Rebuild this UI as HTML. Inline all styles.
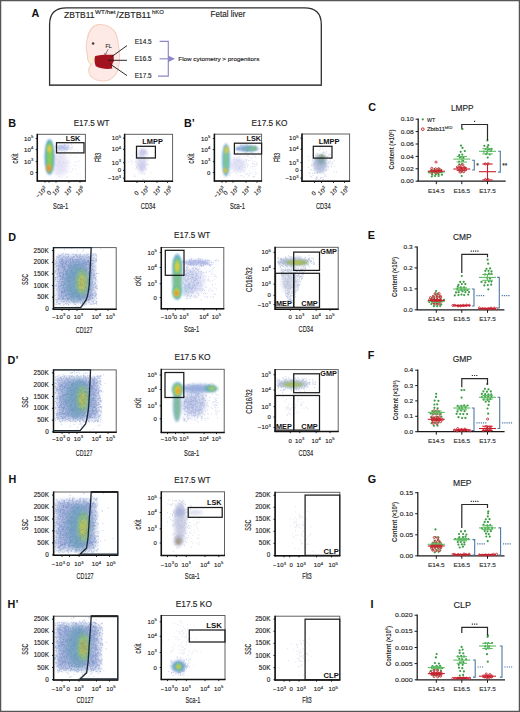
<!DOCTYPE html><html><head><meta charset="utf-8"><title>Figure</title><style>html,body{margin:0;padding:0;background:#fff;}body{width:520px;height:712px;overflow:hidden;font-family:"Liberation Sans",sans-serif;}svg{display:block;}</style></head><body><svg width="520" height="712" viewBox="0 0 520 712" font-family="&quot;Liberation Sans&quot;, sans-serif"><style>text{stroke:#222;stroke-width:0.14px;}text[font-weight=bold]{stroke:none;}</style><defs><filter id="b1" x="-50%" y="-50%" width="200%" height="200%"><feGaussianBlur stdDeviation="0.8"/></filter><filter id="b2" x="-50%" y="-50%" width="200%" height="200%"><feGaussianBlur stdDeviation="1.5"/></filter><filter id="b3" x="-50%" y="-50%" width="200%" height="200%"><feGaussianBlur stdDeviation="2.8"/></filter><clipPath id="k1"><rect x="37.3" y="134.3" width="48.10" height="46.70"/></clipPath><clipPath id="k2"><rect x="124.6" y="134.3" width="48.00" height="47.00"/></clipPath><clipPath id="k3"><rect x="214.4" y="134.2" width="47.20" height="46.90"/></clipPath><clipPath id="k4"><rect x="302" y="134" width="47.60" height="47.30"/></clipPath><clipPath id="k5"><rect x="53.5" y="247.6" width="62.70" height="61.70"/></clipPath><clipPath id="k6"><rect x="53.5" y="369.9" width="62.70" height="62.40"/></clipPath><clipPath id="k7"><rect x="53.6" y="492" width="64.20" height="63.30"/></clipPath><clipPath id="k8"><rect x="53.6" y="616.2" width="64.20" height="63.80"/></clipPath><clipPath id="k9"><rect x="161.3" y="247.5" width="62.50" height="61.30"/></clipPath><clipPath id="k10"><rect x="161.3" y="369.3" width="62.90" height="63.20"/></clipPath><clipPath id="k11"><rect x="161.3" y="491.8" width="63.20" height="63.70"/></clipPath><clipPath id="k12"><rect x="161.3" y="615.5" width="63.70" height="64.00"/></clipPath><clipPath id="k13"><rect x="275.1" y="247.3" width="63.10" height="61.90"/></clipPath><clipPath id="k14"><rect x="275.1" y="369.6" width="63.10" height="61.90"/></clipPath><clipPath id="k15"><rect x="275.1" y="492.3" width="64.70" height="63.50"/></clipPath><clipPath id="k16"><rect x="275.1" y="616.2" width="64.70" height="63.90"/></clipPath></defs><rect x="0.5" y="0.5" width="519" height="711" fill="none" stroke="#555" stroke-width="1.5"/>
<text x="31.6" y="17.3" font-size="10.8" text-anchor="start" font-weight="bold" fill="#111" >A</text>
<path d="M49.6 85 L49.6 24.5 Q49.6 7.9 66.5 7.9 L304.5 7.9 Q321.3 7.9 321.3 24.5 L321.3 85" fill="none" stroke="#2e2e2e" stroke-width="1.3"/>
<rect x="48.9" y="84.3" width="273.1" height="1.7" fill="#4a4a4a"/>
<text x="64" y="17.5" font-size="8.7" text-anchor="start" font-weight="normal" fill="#1e1e1e" textLength="30.6" lengthAdjust="spacingAndGlyphs" >ZBTB11</text>
<text x="95.0" y="14.0" font-size="5.9" text-anchor="start" font-weight="normal" fill="#1e1e1e" textLength="20.5" lengthAdjust="spacingAndGlyphs" >WT/het</text>
<text x="116.3" y="17.5" font-size="8.7" text-anchor="start" font-weight="normal" fill="#1e1e1e" textLength="34.6" lengthAdjust="spacingAndGlyphs" >/ZBTB11</text>
<text x="152.0" y="14.0" font-size="5.9" text-anchor="start" font-weight="normal" fill="#1e1e1e" textLength="12" lengthAdjust="spacingAndGlyphs" >hKO</text>
<text x="210.6" y="17.3" font-size="8.5" text-anchor="start" font-weight="normal" fill="#222" textLength="34.8" lengthAdjust="spacingAndGlyphs" >Fetal liver</text>
<path d="M98.5 24.6 C106 24 113 27.5 116 34 C118 39 118.5 45 119.2 51 C120 58 119.6 66 116.5 73 C113.5 79 107 81.5 100.5 80.8 C94.5 80 90 77 89 72.5 C88.2 69.5 89.3 66.5 91.3 64.5 C88.3 62 87 58.5 87.6 55 C86 50.5 86 44.5 87.2 39 C88.8 31 93 25.2 98.5 24.6 Z" fill="#fdeae6" stroke="#f5cfbf" stroke-width="1.1"/>
<path d="M91.5 64.8 C93 62 94 60 94.6 57.5" fill="none" stroke="#f4d4c0" stroke-width="0.9"/>
<ellipse cx="91.3" cy="59.5" rx="2.6" ry="4.2" fill="#f6efcf" opacity="0.9"/>
<circle cx="93.1" cy="43.6" r="1.25" fill="#3a3a3a"/>
<path d="M95.2 56 C100.5 54.5 107 54.6 113.6 54.8 L113.9 61.3 C112.2 63.2 111.7 66 112.3 68.6 C106.5 69.6 100.5 68.4 95.8 66.2 C94.3 62.6 94.2 58.8 95.2 56 Z" fill="#a3131f"/>
<text x="105.6" y="48.2" font-size="5.3" text-anchor="start" font-weight="normal" fill="#3a3a3a" >FL</text>
<path d="M108.2 49.2 L105.4 54.4" stroke="#3a3a3a" stroke-width="0.6"/>
<path d="M104.4 52.9 L105.3 55 L106.7 53.6" fill="none" stroke="#3a3a3a" stroke-width="0.55"/>
<g stroke="#1e1e1e" stroke-width="0.95"><line x1="111.5" y1="56.8" x2="127" y2="45.6"/><line x1="108" y1="60.3" x2="127" y2="60.3"/><line x1="110.5" y1="64.3" x2="127" y2="75.6"/></g>
<text x="134.8" y="43.5" font-size="6.3" text-anchor="start" font-weight="normal" fill="#222" textLength="16.8" lengthAdjust="spacingAndGlyphs" >E14.5</text>
<text x="134.8" y="61" font-size="6.3" text-anchor="start" font-weight="normal" fill="#222" textLength="16.8" lengthAdjust="spacingAndGlyphs" >E16.5</text>
<text x="134.8" y="78.3" font-size="6.3" text-anchor="start" font-weight="normal" fill="#222" textLength="16.8" lengthAdjust="spacingAndGlyphs" >E17.5</text>
<g stroke="#8d87c5" stroke-width="1.15" fill="none"><path d="M159.6 41.3 H168.3 V76.1 H158"/><line x1="159.6" y1="58.8" x2="168.3" y2="58.8"/></g>
<path d="M168 55.4 L175 58.8 L168 62.2 Z" fill="#8d87c5"/>
<text x="178.3" y="61" font-size="6" text-anchor="start" font-weight="normal" fill="#222" textLength="81" lengthAdjust="spacingAndGlyphs" >Flow cytometry &gt; progenitors</text>
<text x="8.2" y="127.3" font-size="10.8" text-anchor="start" font-weight="bold" fill="#111" >B</text>
<text x="91.6" y="126.2" font-size="8.4" text-anchor="middle" font-weight="normal" fill="#222" textLength="35.8" lengthAdjust="spacingAndGlyphs" >E17.5 WT</text>
<text x="184" y="127.3" font-size="10.8" text-anchor="start" font-weight="bold" fill="#111" >B’</text>
<text x="269.5" y="126.2" font-size="8.4" text-anchor="middle" font-weight="normal" fill="#222" textLength="35.8" lengthAdjust="spacingAndGlyphs" >E17.5 KO</text>
<g clip-path="url(#k1)">
<ellipse cx="60" cy="164" rx="8" ry="12" fill="#cfcdef" opacity="0.55" filter="url(#b3)"/>
<path d="M56.6 173.7h0.9M73.6 157.1h0.9M66.4 162.6h0.9M70.6 172.1h0.9M55.5 150.8h0.9M75.6 162.1h0.9M73.6 150.1h0.9M65.0 170.2h0.9M59.2 176.5h0.9M77.3 150.9h0.9M53.7 165.2h0.9M78.4 160.7h0.9M58.8 161.8h0.9M53.8 156.2h0.9M64.8 163.9h0.9M59.3 156.5h0.9M58.9 162.9h0.9M60.8 150.6h0.9M75.6 165.6h0.9M70.3 155.2h0.9M79.8 174.1h0.9M56.3 159.3h0.9M72.5 169.9h0.9M78.3 161.8h0.9M75.4 168.8h0.9M61.2 166.5h0.9M76.8 173.7h0.9M66.6 166.5h0.9M53.9 156.8h0.9M74.5 161.6h0.9M57.7 165.4h0.9M72.0 168.9h0.9M63.1 162.3h0.9M66.7 171.8h0.9M67.1 161.0h0.9M66.2 150.8h0.9M54.2 169.7h0.9M79.5 166.6h0.9M63.6 154.8h0.9M66.6 177.5h0.9M73.8 165.1h0.9M76.2 156.5h0.9M66.9 176.7h0.9M68.6 162.9h0.9M60.3 165.3h0.9" stroke="#b4b4e0" stroke-width="0.9" opacity="0.45"/>
<path d="M62.5 147.5h0.9M63.9 144.6h0.9M68.2 145.8h0.9M64.2 145.7h0.9M57.1 146.9h0.9M71.5 148.6h0.9M59.0 147.0h0.9M56.2 147.4h0.9M59.1 148.7h0.9M55.2 147.0h0.9M57.8 146.4h0.9M65.6 147.7h0.9M64.9 149.4h0.9M67.7 145.3h0.9M64.7 144.7h0.9M61.7 150.6h0.9M61.0 146.9h0.9M62.9 147.5h0.9M62.1 146.3h0.9M67.4 148.9h0.9M60.9 148.0h0.9M65.3 149.2h0.9M64.0 148.6h0.9M60.7 145.8h0.9M59.5 149.1h0.9M66.9 147.7h0.9M59.2 148.0h0.9M70.3 149.7h0.9M58.6 147.4h0.9M54.7 145.7h0.9M62.9 147.5h0.9M66.8 149.5h0.9M66.2 149.6h0.9M59.3 145.7h0.9M64.5 151.8h0.9M63.8 145.7h0.9M63.2 149.8h0.9M56.8 148.8h0.9M58.9 149.5h0.9M65.9 148.0h0.9M72.0 146.8h0.9M58.6 150.5h0.9M57.6 151.0h0.9M61.8 145.8h0.9M62.0 147.7h0.9M63.0 147.2h0.9M67.4 143.8h0.9M59.2 147.1h0.9M71.1 144.3h0.9M60.3 145.7h0.9M58.7 148.5h0.9M64.1 149.8h0.9M59.0 147.9h0.9M67.9 148.9h0.9M60.3 149.3h0.9M57.4 150.4h0.9M62.8 147.3h0.9M63.4 148.9h0.9M70.7 147.3h0.9M60.2 148.4h0.9" stroke="#8e9cd8" stroke-width="0.9" opacity="0.5"/>
<ellipse cx="63" cy="147.5" rx="7" ry="2.2" fill="#a4aee2" opacity="0.8" filter="url(#b2)"/>
<ellipse cx="49.5" cy="157" rx="4.8" ry="17.8" fill="#4f8cca" opacity="0.8" filter="url(#b1)"/>
<ellipse cx="49.5" cy="157" rx="3.7" ry="16.2" fill="#5cbca4" opacity="0.9" filter="url(#b1)"/>
<ellipse cx="49.8" cy="157" rx="2.9" ry="14.5" fill="#88cc5c" opacity="0.95" filter="url(#b1)"/>
<ellipse cx="49.3" cy="148.8" rx="2.1" ry="3.6" fill="#e2cc42" opacity="1" filter="url(#b1)"/>
<ellipse cx="48.8" cy="168" rx="2.2" ry="4" fill="#e6a83a" opacity="1" filter="url(#b1)"/>
<ellipse cx="48.8" cy="168.5" rx="1.1" ry="2" fill="#e07830" opacity="0.8" filter="url(#b1)"/>
</g>
<rect x="37.3" y="134.3" width="48.10" height="46.70" fill="none" stroke="#5a5a5a" stroke-width="0.95"/>
<line x1="37.3" y1="133.8" x2="37.3" y2="181.6" stroke="#111" stroke-width="1.5"/>
<line x1="36.8" y1="181" x2="85.9" y2="181" stroke="#111" stroke-width="1.5"/>
<rect x="56.5" y="142.7" width="27.50" height="10.20" fill="none" stroke="#1c1c1c" stroke-width="1.25"/>
<text x="65.8" y="140.7" font-size="6.8" font-weight="bold" fill="#111" textLength="14.6" lengthAdjust="spacingAndGlyphs">LSK</text>
<text x="33.5" y="140.50" font-size="6.0" text-anchor="end" fill="#222" letter-spacing="0.2">10<tspan dy="-2.4" font-size="4.14">5</tspan></text>
<text x="33.5" y="151.60" font-size="6.0" text-anchor="end" fill="#222" letter-spacing="0.2">10<tspan dy="-2.4" font-size="4.14">4</tspan></text>
<text x="33.5" y="163.60" font-size="6.0" text-anchor="end" fill="#222" letter-spacing="0.2">10<tspan dy="-2.4" font-size="4.14">3</tspan></text>
<text x="33.5" y="174.50" font-size="6.0" text-anchor="end" fill="#222" letter-spacing="0.2">0</text>
<path d="M35.699999999999996 138.5h1.6M35.699999999999996 149.6h1.6M35.699999999999996 161.6h1.6M35.699999999999996 172.5h1.6" stroke="#111" stroke-width="0.9"/>
<text x="17.6" y="158.5" font-size="8.6" text-anchor="middle" font-weight="normal" fill="#222" transform="rotate(-90 17.6 158.5)" textLength="10" lengthAdjust="spacingAndGlyphs" >cKit</text>
<text x="47.5" y="189" font-size="6.1" text-anchor="end" fill="#222" letter-spacing="0.2" transform="rotate(-45 47.5 189)">−10<tspan dy="-2.4" font-size="4.14">3</tspan></text>
<text x="51.7" y="193" font-size="6.1" text-anchor="end" fill="#222" letter-spacing="0.2" transform="rotate(-45 51.7 193)">0</text>
<text x="61.5" y="189" font-size="6.1" text-anchor="end" fill="#222" letter-spacing="0.2" transform="rotate(-45 61.5 189)">10<tspan dy="-2.4" font-size="4.14">3</tspan></text>
<text x="73.5" y="189" font-size="6.1" text-anchor="end" fill="#222" letter-spacing="0.2" transform="rotate(-45 73.5 189)">10<tspan dy="-2.4" font-size="4.14">4</tspan></text>
<text x="85" y="189" font-size="6.1" text-anchor="end" fill="#222" letter-spacing="0.2" transform="rotate(-45 85 189)">10<tspan dy="-2.4" font-size="4.14">5</tspan></text>
<path d="M45.0 181v1.6M49.0 181v1.6M56.0 181v1.6M69.0 181v1.6M80.0 181v1.6" stroke="#111" stroke-width="0.9"/>
<text x="60.6" y="208.9" font-size="8.6" text-anchor="middle" font-weight="normal" fill="#222" textLength="15" lengthAdjust="spacingAndGlyphs" >Sca-1</text>
<g clip-path="url(#k2)">
<path d="M151.5 157.7h0.9M142.8 164.2h0.9M144.8 151.8h0.9M139.1 157.0h0.9M136.2 156.2h0.9M138.7 160.7h0.9M136.9 166.4h0.9M138.5 137.4h0.9M146.4 159.9h0.9M137.7 165.1h0.9M142.0 163.4h0.9M137.2 164.5h0.9M134.1 174.5h0.9M135.3 161.3h0.9M141.1 164.8h0.9M139.9 166.9h0.9M124.6 161.1h0.9M139.7 158.5h0.9M147.3 154.1h0.9M140.0 145.7h0.9M141.6 148.9h0.9M133.3 180.9h0.9M143.6 161.9h0.9M141.2 150.3h0.9M135.6 165.4h0.9M130.8 164.1h0.9M132.5 162.9h0.9M135.3 176.2h0.9M145.0 157.8h0.9M131.8 155.6h0.9M140.1 153.9h0.9M141.7 170.0h0.9M140.2 158.4h0.9M144.0 159.5h0.9M144.3 159.4h0.9M147.8 159.7h0.9M135.6 162.7h0.9M137.5 154.3h0.9M139.8 168.1h0.9M130.5 161.6h0.9M139.7 160.8h0.9M144.1 151.4h0.9M143.5 160.1h0.9M140.9 160.2h0.9M138.9 157.8h0.9M142.3 179.2h0.9M145.3 169.0h0.9M143.0 158.2h0.9M143.3 179.0h0.9M134.7 168.9h0.9M145.2 164.5h0.9M144.2 173.5h0.9M150.7 172.9h0.9M148.2 165.1h0.9M144.4 163.8h0.9M142.0 158.7h0.9M143.8 174.2h0.9M140.0 164.6h0.9M143.6 162.7h0.9M145.0 164.7h0.9M135.4 154.3h0.9M144.1 167.7h0.9M145.8 164.7h0.9M141.7 149.9h0.9M147.2 155.2h0.9M145.6 153.5h0.9M137.8 164.0h0.9M138.9 157.1h0.9M144.9 168.2h0.9M142.7 160.0h0.9M137.1 158.9h0.9M138.5 162.6h0.9M144.4 161.4h0.9M137.3 157.8h0.9M146.7 164.2h0.9M142.0 165.1h0.9M143.6 164.0h0.9M146.3 169.4h0.9M128.1 161.8h0.9M154.3 152.6h0.9M141.5 171.6h0.9M141.0 173.7h0.9M135.3 152.9h0.9M140.1 157.0h0.9M136.1 167.5h0.9M142.2 163.1h0.9M139.2 165.1h0.9M140.5 157.1h0.9M143.3 166.0h0.9M141.4 168.6h0.9M136.0 161.8h0.9M138.6 173.7h0.9M143.3 179.9h0.9M148.1 160.0h0.9M136.1 166.9h0.9M139.7 161.7h0.9M136.2 167.8h0.9M141.8 166.2h0.9M142.4 155.8h0.9M130.9 160.8h0.9M138.1 158.8h0.9M145.3 162.2h0.9M147.8 164.5h0.9M144.1 167.1h0.9M144.6 152.9h0.9M145.9 163.9h0.9M136.6 167.9h0.9M142.6 173.3h0.9M144.3 165.9h0.9M133.7 176.4h0.9" stroke="#b0b0e0" stroke-width="0.9" opacity="0.45"/>
<ellipse cx="141.5" cy="162" rx="5" ry="10" fill="#d0d0ee" opacity="0.7" filter="url(#b2)"/>
<ellipse cx="143" cy="152" rx="4" ry="3" fill="#b9bae6" opacity="0.85" filter="url(#b2)"/>
<ellipse cx="142" cy="167" rx="3" ry="5" fill="#c4c4ea" opacity="0.6" filter="url(#b2)"/>
</g>
<rect x="124.6" y="134.3" width="48.00" height="47.00" fill="none" stroke="#5a5a5a" stroke-width="0.95"/>
<line x1="124.6" y1="133.8" x2="124.6" y2="181.9" stroke="#111" stroke-width="1.5"/>
<line x1="124.1" y1="181.3" x2="173.1" y2="181.3" stroke="#111" stroke-width="1.5"/>
<rect x="136.5" y="146.3" width="18.90" height="11.70" fill="none" stroke="#1c1c1c" stroke-width="1.25"/>
<text x="142.3" y="144.2" font-size="6.8" font-weight="bold" fill="#111" textLength="20.6" lengthAdjust="spacingAndGlyphs">LMPP</text>
<text x="121.3" y="140.10" font-size="6.0" text-anchor="end" fill="#222" letter-spacing="0.2">10<tspan dy="-2.4" font-size="4.14">5</tspan></text>
<text x="121.3" y="151.30" font-size="6.0" text-anchor="end" fill="#222" letter-spacing="0.2">10<tspan dy="-2.4" font-size="4.14">4</tspan></text>
<text x="121.3" y="164.70" font-size="6.0" text-anchor="end" fill="#222" letter-spacing="0.2">10<tspan dy="-2.4" font-size="4.14">3</tspan></text>
<text x="121.3" y="172.40" font-size="6.0" text-anchor="end" fill="#222" letter-spacing="0.2">0</text>
<text x="121.3" y="180.10" font-size="6.0" text-anchor="end" fill="#222" letter-spacing="0.2">−10<tspan dy="-2.4" font-size="4.14">3</tspan></text>
<path d="M123.0 138.1h1.6M123.0 149.3h1.6M123.0 162.7h1.6M123.0 170.4h1.6M123.0 178.1h1.6" stroke="#111" stroke-width="0.9"/>
<text x="100.9" y="157.5" font-size="8.6" text-anchor="middle" font-weight="normal" fill="#222" transform="rotate(-90 100.9 157.5)" textLength="9.5" lengthAdjust="spacingAndGlyphs" >Flt3</text>
<text x="139.4" y="193.3" font-size="6.1" text-anchor="end" fill="#222" letter-spacing="0.2" transform="rotate(-45 139.4 193.3)">0</text>
<text x="150" y="189" font-size="6.1" text-anchor="end" fill="#222" letter-spacing="0.2" transform="rotate(-45 150 189)">10<tspan dy="-2.4" font-size="4.14">3</tspan></text>
<text x="162.3" y="189" font-size="6.1" text-anchor="end" fill="#222" letter-spacing="0.2" transform="rotate(-45 162.3 189)">10<tspan dy="-2.4" font-size="4.14">4</tspan></text>
<text x="173" y="189" font-size="6.1" text-anchor="end" fill="#222" letter-spacing="0.2" transform="rotate(-45 173 189)">10<tspan dy="-2.4" font-size="4.14">5</tspan></text>
<path d="M137.0 181.3v1.6M144.5 181.3v1.6M157.0 181.3v1.6M167.5 181.3v1.6" stroke="#111" stroke-width="0.9"/>
<text x="148.1" y="208.9" font-size="8.6" text-anchor="middle" font-weight="normal" fill="#222" textLength="14.6" lengthAdjust="spacingAndGlyphs" >CD34</text>
<g clip-path="url(#k3)">
<path d="M235.7 165.6h0.9M239.4 167.1h0.9M246.5 153.6h0.9M229.4 172.9h0.9M236.3 157.9h0.9M256.9 163.8h0.9M252.4 163.9h0.9M246.9 155.8h0.9M246.8 173.7h0.9M243.6 170.5h0.9M247.8 153.6h0.9M250.2 166.8h0.9M237.4 152.8h0.9M253.2 163.8h0.9M249.1 174.0h0.9M249.0 175.0h0.9M240.1 172.0h0.9M241.4 175.4h0.9M253.6 154.4h0.9M232.8 157.4h0.9M256.0 162.9h0.9M246.5 159.5h0.9M243.2 161.6h0.9M238.8 166.6h0.9M245.4 174.6h0.9M248.1 175.2h0.9M253.0 176.8h0.9M247.8 156.1h0.9M253.1 176.1h0.9M254.3 166.2h0.9M249.0 157.3h0.9M252.3 166.3h0.9M237.0 153.6h0.9M252.9 176.7h0.9M231.5 172.0h0.9M240.5 155.8h0.9M237.2 171.2h0.9M253.4 153.1h0.9M246.2 153.1h0.9M249.1 160.3h0.9M253.7 176.5h0.9M243.2 177.0h0.9M237.7 153.9h0.9M245.8 152.8h0.9M234.5 162.2h0.9M246.1 155.9h0.9M230.2 173.7h0.9M237.8 176.0h0.9M254.1 161.4h0.9M241.9 165.0h0.9M247.0 166.9h0.9M244.7 167.5h0.9M255.3 164.7h0.9M241.1 170.0h0.9M235.7 159.5h0.9M256.4 165.0h0.9M244.4 152.3h0.9M240.6 166.5h0.9M229.6 167.4h0.9M246.7 153.5h0.9M246.6 163.7h0.9M248.0 160.8h0.9M248.8 170.5h0.9M229.6 153.5h0.9M247.9 176.1h0.9M236.0 163.4h0.9M245.6 160.0h0.9M239.2 159.8h0.9M239.3 166.9h0.9M237.4 161.4h0.9M250.6 152.7h0.9M244.9 170.4h0.9M237.7 157.6h0.9M251.5 158.0h0.9M234.2 162.9h0.9M248.5 154.5h0.9M238.0 160.3h0.9M252.3 163.0h0.9M253.0 156.2h0.9M238.4 168.3h0.9M253.8 163.3h0.9M235.3 155.0h0.9M243.8 156.8h0.9M251.6 173.0h0.9M234.1 159.0h0.9M251.6 168.0h0.9M251.6 160.6h0.9M232.6 159.3h0.9M251.2 158.8h0.9M238.7 162.4h0.9M240.8 162.2h0.9M254.8 155.9h0.9M229.1 175.6h0.9M253.6 176.7h0.9M241.2 175.8h0.9M255.0 157.6h0.9M249.9 172.9h0.9M247.6 165.0h0.9M237.1 160.5h0.9M235.4 153.7h0.9M245.5 159.2h0.9M251.7 153.1h0.9M254.3 169.3h0.9M254.9 174.4h0.9M254.2 166.4h0.9M229.4 170.6h0.9M233.8 159.5h0.9M247.6 165.1h0.9M240.6 175.5h0.9M246.1 160.5h0.9M236.1 173.5h0.9M242.4 171.6h0.9M238.9 156.9h0.9M244.0 172.4h0.9M233.8 171.8h0.9M254.8 172.2h0.9M252.1 152.2h0.9M246.6 173.6h0.9M230.4 158.8h0.9M236.5 165.2h0.9M240.8 163.8h0.9M250.7 152.0h0.9M230.5 155.2h0.9M232.5 153.7h0.9M256.3 173.4h0.9M231.4 164.6h0.9M237.8 159.9h0.9M238.8 168.2h0.9M245.4 161.0h0.9M234.4 160.2h0.9" stroke="#b4b8e2" stroke-width="0.9" opacity="0.5"/>
<ellipse cx="238" cy="165" rx="8" ry="7" fill="#c4c8ec" opacity="0.5" filter="url(#b2)"/>
<ellipse cx="226" cy="160" rx="3.8" ry="16.5" fill="#6ea2d2" opacity="0.8" filter="url(#b1)"/>
<ellipse cx="226" cy="160" rx="2.9" ry="14.5" fill="#5cbcc4" opacity="0.85" filter="url(#b1)"/>
<ellipse cx="226" cy="160" rx="1.8" ry="11.5" fill="#8ccc7c" opacity="0.75" filter="url(#b1)"/>
<ellipse cx="226.5" cy="150" rx="2.1" ry="3.4" fill="#dcca4c" opacity="1" filter="url(#b1)"/>
<ellipse cx="225.5" cy="170.5" rx="2.1" ry="2.8" fill="#d4c050" opacity="1" filter="url(#b1)"/>
<ellipse cx="247" cy="148.5" rx="11.5" ry="3.2" fill="#86a6d4" opacity="0.85" filter="url(#b1)"/>
<path d="M252.4 149.8h0.9M245.8 147.1h0.9M250.3 149.0h0.9M241.3 150.0h0.9M248.2 147.1h0.9M249.6 146.5h0.9M241.7 149.1h0.9M237.7 148.6h0.9M238.9 149.6h0.9M242.6 148.8h0.9M238.0 148.0h0.9M252.7 149.2h0.9M236.0 149.9h0.9M252.4 147.9h0.9M255.5 146.9h0.9M246.5 150.2h0.9M254.9 150.4h0.9M240.4 145.8h0.9M249.3 146.4h0.9M246.2 146.6h0.9M253.4 149.7h0.9M250.3 148.5h0.9M247.3 148.1h0.9M249.3 148.9h0.9M249.8 147.9h0.9M258.4 148.9h0.9M255.4 150.5h0.9M241.7 146.0h0.9M254.5 147.9h0.9M247.5 148.1h0.9M247.8 146.7h0.9M246.4 147.8h0.9M246.9 145.0h0.9M251.9 149.0h0.9M236.6 147.4h0.9M247.2 149.4h0.9M247.0 150.6h0.9M247.1 147.0h0.9M242.9 149.6h0.9M243.3 149.8h0.9M253.1 149.4h0.9M253.1 148.2h0.9M246.9 147.6h0.9M243.3 146.2h0.9M243.7 146.9h0.9M238.4 148.7h0.9M249.7 148.0h0.9M255.2 149.9h0.9M253.3 147.6h0.9M238.0 149.3h0.9M248.8 149.6h0.9M249.5 150.4h0.9M245.3 149.5h0.9M241.6 145.0h0.9M244.3 150.7h0.9M236.9 150.0h0.9M242.9 147.9h0.9M247.3 148.8h0.9M241.2 148.7h0.9M249.7 149.8h0.9M242.5 150.8h0.9M258.4 152.1h0.9M239.0 148.8h0.9M235.8 149.1h0.9M250.3 146.8h0.9M237.5 148.8h0.9M250.8 147.3h0.9M245.4 144.7h0.9M242.8 148.7h0.9M247.9 150.9h0.9M240.2 145.1h0.9M249.7 147.6h0.9M248.7 149.6h0.9M250.6 150.7h0.9M255.1 146.0h0.9M246.6 151.5h0.9M244.6 150.0h0.9M246.7 147.9h0.9M256.5 150.1h0.9M245.5 149.9h0.9" stroke="#7090c8" stroke-width="0.9" opacity="0.5"/>
<ellipse cx="250" cy="148.5" rx="7" ry="2.3" fill="#6ab0b0" opacity="0.85" filter="url(#b1)"/>
<ellipse cx="253" cy="148.3" rx="3.2" ry="1.6" fill="#8cc878" opacity="0.85" filter="url(#b1)"/>
</g>
<rect x="214.4" y="134.2" width="47.20" height="46.90" fill="none" stroke="#5a5a5a" stroke-width="0.95"/>
<line x1="214.4" y1="133.7" x2="214.4" y2="181.7" stroke="#111" stroke-width="1.5"/>
<line x1="213.9" y1="181.1" x2="262.1" y2="181.1" stroke="#111" stroke-width="1.5"/>
<rect x="234.4" y="143.2" width="27.20" height="10.80" fill="none" stroke="#1c1c1c" stroke-width="1.25"/>
<text x="246.5" y="140.7" font-size="6.8" font-weight="bold" fill="#111" textLength="14.6" lengthAdjust="spacingAndGlyphs">LSK</text>
<text x="210.6" y="140.50" font-size="6.0" text-anchor="end" fill="#222" letter-spacing="0.2">10<tspan dy="-2.4" font-size="4.14">5</tspan></text>
<text x="210.6" y="151.60" font-size="6.0" text-anchor="end" fill="#222" letter-spacing="0.2">10<tspan dy="-2.4" font-size="4.14">4</tspan></text>
<text x="210.6" y="163.60" font-size="6.0" text-anchor="end" fill="#222" letter-spacing="0.2">10<tspan dy="-2.4" font-size="4.14">3</tspan></text>
<text x="210.6" y="174.50" font-size="6.0" text-anchor="end" fill="#222" letter-spacing="0.2">0</text>
<path d="M212.8 138.5h1.6M212.8 149.6h1.6M212.8 161.6h1.6M212.8 172.5h1.6" stroke="#111" stroke-width="0.9"/>
<text x="194.3" y="158.5" font-size="8.6" text-anchor="middle" font-weight="normal" fill="#222" transform="rotate(-90 194.3 158.5)" textLength="10" lengthAdjust="spacingAndGlyphs" >cKit</text>
<text x="225.6" y="189" font-size="6.1" text-anchor="end" fill="#222" letter-spacing="0.2" transform="rotate(-45 225.6 189)">−10<tspan dy="-2.4" font-size="4.14">3</tspan></text>
<text x="228.2" y="193" font-size="6.1" text-anchor="end" fill="#222" letter-spacing="0.2" transform="rotate(-45 228.2 193)">0</text>
<text x="239.5" y="189" font-size="6.1" text-anchor="end" fill="#222" letter-spacing="0.2" transform="rotate(-45 239.5 189)">10<tspan dy="-2.4" font-size="4.14">3</tspan></text>
<text x="251.1" y="189" font-size="6.1" text-anchor="end" fill="#222" letter-spacing="0.2" transform="rotate(-45 251.1 189)">10<tspan dy="-2.4" font-size="4.14">4</tspan></text>
<text x="263.2" y="189" font-size="6.1" text-anchor="end" fill="#222" letter-spacing="0.2" transform="rotate(-45 263.2 189)">10<tspan dy="-2.4" font-size="4.14">5</tspan></text>
<path d="M222.0 181.1v1.6M226.0 181.1v1.6M233.0 181.1v1.6M246.0 181.1v1.6M257.0 181.1v1.6" stroke="#111" stroke-width="0.9"/>
<text x="237.4" y="208.9" font-size="8.6" text-anchor="middle" font-weight="normal" fill="#222" textLength="15" lengthAdjust="spacingAndGlyphs" >Sca-1</text>
<g clip-path="url(#k4)">
<path d="M320.2 167.3h0.9M317.5 166.5h0.9M325.1 166.9h0.9M328.6 157.8h0.9M320.4 159.1h0.9M315.7 162.7h0.9M321.2 166.9h0.9M322.8 179.6h0.9M324.7 152.8h0.9M321.1 159.6h0.9M317.2 173.1h0.9M318.8 150.3h0.9M321.7 162.0h0.9M313.5 157.6h0.9M316.6 163.8h0.9M317.7 164.5h0.9M330.1 158.4h0.9M315.6 162.3h0.9M326.0 159.1h0.9M327.9 154.8h0.9M314.3 163.6h0.9M315.3 159.7h0.9M322.5 169.1h0.9M320.6 162.1h0.9M327.4 166.8h0.9M318.7 172.5h0.9M315.0 165.2h0.9M323.6 163.9h0.9M316.8 166.5h0.9M317.0 159.8h0.9M314.4 173.1h0.9M317.0 172.1h0.9M322.1 162.2h0.9M323.7 165.9h0.9M320.7 154.4h0.9M320.4 170.3h0.9M322.7 171.0h0.9M328.2 166.9h0.9M330.9 153.4h0.9M318.7 146.3h0.9M324.5 164.7h0.9M329.3 161.4h0.9M308.9 172.9h0.9M312.6 155.1h0.9M319.0 168.4h0.9M317.2 165.3h0.9M309.7 176.1h0.9M319.6 164.8h0.9M323.2 165.2h0.9M321.1 157.5h0.9M319.4 167.1h0.9M325.7 163.2h0.9M320.5 166.4h0.9M323.1 165.4h0.9M318.6 160.4h0.9M326.2 166.1h0.9M320.1 188.3h0.9M324.9 170.0h0.9M320.8 156.9h0.9M326.3 163.4h0.9M320.3 171.2h0.9M325.6 165.7h0.9M320.1 178.7h0.9M323.2 156.8h0.9M324.1 165.1h0.9M320.2 168.8h0.9M321.3 178.0h0.9M321.1 165.8h0.9M326.4 160.1h0.9M325.6 163.6h0.9M326.5 158.1h0.9M322.3 152.8h0.9M317.6 164.1h0.9M322.7 177.8h0.9M330.1 154.6h0.9M315.8 172.8h0.9M322.4 154.4h0.9M322.7 156.1h0.9M315.3 155.2h0.9M318.6 179.7h0.9M322.1 163.3h0.9M333.8 160.8h0.9M319.2 162.2h0.9M322.3 161.8h0.9M328.0 162.0h0.9M323.1 165.6h0.9M315.3 157.2h0.9M319.7 148.0h0.9M320.1 164.6h0.9M320.8 163.5h0.9M321.9 161.6h0.9M323.5 152.6h0.9M325.0 157.9h0.9M322.7 160.8h0.9M317.7 158.5h0.9M327.4 156.4h0.9M313.4 165.5h0.9M321.4 164.3h0.9M314.7 159.5h0.9M325.0 156.8h0.9M323.4 169.1h0.9M320.7 155.5h0.9M330.5 164.9h0.9M321.1 161.4h0.9M314.8 162.2h0.9M321.1 158.1h0.9M320.6 172.0h0.9M322.4 163.3h0.9M325.8 170.4h0.9M325.0 158.5h0.9M310.1 169.6h0.9M320.3 161.4h0.9M322.7 160.9h0.9M316.6 176.6h0.9M311.3 169.9h0.9M325.6 176.4h0.9M321.4 167.6h0.9M315.0 164.2h0.9M308.5 160.1h0.9M319.9 163.3h0.9M317.4 172.1h0.9M311.3 164.9h0.9M317.8 164.3h0.9M320.3 177.6h0.9M314.2 173.4h0.9M327.7 163.1h0.9M316.6 155.4h0.9M315.3 178.3h0.9M308.1 167.2h0.9M316.2 177.2h0.9M321.7 154.6h0.9M317.2 165.4h0.9M320.7 157.4h0.9M318.5 160.8h0.9M322.7 165.9h0.9M321.2 159.9h0.9M324.3 160.1h0.9M315.5 161.0h0.9M318.2 161.9h0.9M309.4 173.4h0.9M323.4 173.2h0.9M317.8 169.2h0.9M321.1 164.2h0.9M329.8 159.9h0.9M323.1 151.9h0.9M323.1 162.8h0.9M314.4 159.9h0.9M308.4 156.6h0.9M320.9 145.6h0.9M325.9 170.8h0.9M315.9 153.7h0.9M312.3 155.1h0.9M315.9 179.2h0.9M313.8 169.3h0.9M326.8 157.4h0.9M318.5 168.7h0.9M316.4 172.7h0.9M331.8 163.7h0.9M315.5 168.2h0.9M321.8 158.8h0.9M319.2 164.6h0.9M322.8 172.0h0.9M317.4 154.9h0.9M311.1 176.9h0.9M317.7 161.1h0.9M333.5 171.8h0.9M332.3 162.8h0.9M316.2 160.3h0.9M323.6 166.9h0.9M322.2 179.8h0.9M327.4 156.4h0.9M322.4 168.2h0.9M315.9 180.2h0.9M325.0 174.6h0.9M317.1 156.0h0.9M324.2 162.6h0.9M316.8 163.4h0.9M321.1 165.0h0.9M318.9 167.3h0.9M336.0 172.2h0.9M317.2 178.3h0.9M317.4 153.2h0.9M312.4 149.7h0.9M326.3 156.3h0.9M312.1 160.0h0.9M318.9 155.2h0.9M316.8 163.9h0.9M323.5 157.3h0.9M323.0 165.8h0.9M323.0 160.2h0.9M313.5 170.7h0.9M323.2 159.2h0.9M315.6 168.8h0.9M331.1 166.5h0.9M333.9 166.1h0.9M321.8 167.3h0.9M325.9 153.4h0.9M320.8 172.8h0.9M311.3 165.6h0.9M324.1 176.0h0.9M328.6 163.8h0.9M331.4 156.2h0.9M312.2 173.3h0.9M323.7 155.9h0.9M326.0 170.1h0.9M324.0 160.9h0.9M312.9 152.1h0.9M318.8 162.9h0.9M317.1 160.0h0.9M325.1 156.0h0.9M315.9 177.9h0.9M316.5 159.5h0.9M325.9 151.3h0.9M328.9 155.0h0.9M315.4 154.9h0.9M314.7 158.8h0.9M325.1 163.5h0.9M327.6 169.4h0.9M313.1 164.1h0.9M316.6 160.9h0.9M320.6 166.6h0.9M322.4 149.0h0.9M319.1 160.7h0.9M330.2 162.2h0.9M319.8 164.0h0.9M324.3 155.9h0.9M319.2 163.1h0.9M319.8 162.2h0.9M317.0 164.5h0.9M312.6 175.3h0.9" stroke="#8c9cc8" stroke-width="0.9" opacity="0.5"/>
<ellipse cx="320" cy="164" rx="7" ry="9" fill="#aab6d8" opacity="0.8" filter="url(#b2)"/>
<ellipse cx="321" cy="160" rx="4" ry="5" fill="#84a4ac" opacity="0.9" filter="url(#b2)"/>
<ellipse cx="322" cy="157" rx="2.6" ry="2.2" fill="#8aa478" opacity="0.9" filter="url(#b1)"/>
</g>
<rect x="302" y="134" width="47.60" height="47.30" fill="none" stroke="#5a5a5a" stroke-width="0.95"/>
<line x1="302" y1="133.5" x2="302" y2="181.9" stroke="#111" stroke-width="1.5"/>
<line x1="301.5" y1="181.3" x2="350.1" y2="181.3" stroke="#111" stroke-width="1.5"/>
<rect x="313.3" y="146.3" width="18.70" height="11.80" fill="none" stroke="#1c1c1c" stroke-width="1.25"/>
<text x="318.8" y="144.2" font-size="6.8" font-weight="bold" fill="#111" textLength="20.8" lengthAdjust="spacingAndGlyphs">LMPP</text>
<text x="298.7" y="140.10" font-size="6.0" text-anchor="end" fill="#222" letter-spacing="0.2">10<tspan dy="-2.4" font-size="4.14">5</tspan></text>
<text x="298.7" y="151.30" font-size="6.0" text-anchor="end" fill="#222" letter-spacing="0.2">10<tspan dy="-2.4" font-size="4.14">4</tspan></text>
<text x="298.7" y="164.70" font-size="6.0" text-anchor="end" fill="#222" letter-spacing="0.2">10<tspan dy="-2.4" font-size="4.14">3</tspan></text>
<text x="298.7" y="172.40" font-size="6.0" text-anchor="end" fill="#222" letter-spacing="0.2">0</text>
<text x="298.7" y="180.10" font-size="6.0" text-anchor="end" fill="#222" letter-spacing="0.2">−10<tspan dy="-2.4" font-size="4.14">3</tspan></text>
<path d="M300.4 138.1h1.6M300.4 149.3h1.6M300.4 162.7h1.6M300.4 170.4h1.6M300.4 178.1h1.6" stroke="#111" stroke-width="0.9"/>
<text x="280" y="157.5" font-size="8.6" text-anchor="middle" font-weight="normal" fill="#222" transform="rotate(-90 280 157.5)" textLength="9.5" lengthAdjust="spacingAndGlyphs" >Flt3</text>
<text x="316.5" y="193.4" font-size="6.1" text-anchor="end" fill="#222" letter-spacing="0.2" transform="rotate(-45 316.5 193.4)">0</text>
<text x="327.2" y="189" font-size="6.1" text-anchor="end" fill="#222" letter-spacing="0.2" transform="rotate(-45 327.2 189)">10<tspan dy="-2.4" font-size="4.14">3</tspan></text>
<text x="339.3" y="189" font-size="6.1" text-anchor="end" fill="#222" letter-spacing="0.2" transform="rotate(-45 339.3 189)">10<tspan dy="-2.4" font-size="4.14">4</tspan></text>
<text x="349.7" y="189" font-size="6.1" text-anchor="end" fill="#222" letter-spacing="0.2" transform="rotate(-45 349.7 189)">10<tspan dy="-2.4" font-size="4.14">5</tspan></text>
<path d="M314.5 181.3v1.6M321.5 181.3v1.6M333.5 181.3v1.6M344.5 181.3v1.6" stroke="#111" stroke-width="0.9"/>
<text x="323.3" y="208.9" font-size="8.6" text-anchor="middle" font-weight="normal" fill="#222" textLength="14.6" lengthAdjust="spacingAndGlyphs" >CD34</text>
<text x="8.2" y="241.3" font-size="10.8" text-anchor="start" font-weight="bold" fill="#111" >D</text>
<g clip-path="url(#k5)">
<rect x="57.5" y="256.5" width="36.0" height="45.0" rx="3" fill="#98a8d6" opacity="0.9" filter="url(#b3)"/>
<path d="M73.5 282.0h0.9M93.3 277.2h0.9M75.8 283.5h0.9M62.3 279.6h0.9M81.0 293.9h0.9M58.5 269.0h0.9M58.3 294.8h0.9M83.6 255.6h0.9M95.8 302.7h0.9M82.0 284.9h0.9M61.1 254.3h0.9M76.7 256.5h0.9M62.5 265.8h0.9M55.8 277.2h0.9M73.0 296.5h0.9M76.3 286.2h0.9M75.5 287.3h0.9M73.7 267.7h0.9M96.4 304.3h0.9M89.8 289.6h0.9M67.7 265.2h0.9M66.6 257.1h0.9M86.7 273.9h0.9M90.1 273.2h0.9M94.7 296.7h0.9M54.5 264.2h0.9M92.7 277.5h0.9M95.7 273.8h0.9M57.6 285.6h0.9M87.2 267.3h0.9M58.2 270.5h0.9M95.0 292.2h0.9M59.5 266.1h0.9M58.7 256.6h0.9M88.0 262.6h0.9M78.0 276.3h0.9M62.5 290.8h0.9M60.0 286.3h0.9M59.4 275.0h0.9M63.4 267.3h0.9M95.3 294.5h0.9M67.3 298.6h0.9M63.3 273.6h0.9M90.4 286.2h0.9M58.7 304.0h0.9M63.5 266.7h0.9M87.0 270.3h0.9M66.9 257.2h0.9M58.3 283.2h0.9M64.7 284.2h0.9M70.1 276.6h0.9M94.8 278.2h0.9M78.6 297.7h0.9M62.2 261.4h0.9M92.7 295.2h0.9M65.0 263.2h0.9M85.6 301.5h0.9M62.8 302.0h0.9M91.6 284.3h0.9M72.2 258.8h0.9M56.1 302.6h0.9M64.5 289.4h0.9M65.3 295.5h0.9M79.6 268.5h0.9M61.9 290.2h0.9M57.4 265.1h0.9M78.0 297.0h0.9M80.3 267.8h0.9M93.0 263.9h0.9M55.2 267.2h0.9M73.2 256.6h0.9M61.9 272.3h0.9M78.5 260.2h0.9M69.7 298.9h0.9M95.7 287.0h0.9M83.5 283.3h0.9M60.4 255.3h0.9M55.3 299.9h0.9M83.9 302.6h0.9M55.4 285.9h0.9M74.8 290.8h0.9M67.9 304.5h0.9M57.7 281.4h0.9M85.5 299.4h0.9M85.5 289.4h0.9M87.8 300.2h0.9M69.3 288.4h0.9M92.3 297.9h0.9M72.0 293.8h0.9M90.8 282.7h0.9M80.7 273.0h0.9M79.0 284.6h0.9M57.9 286.1h0.9M96.2 298.4h0.9M85.1 273.3h0.9M85.4 283.1h0.9M73.0 296.3h0.9M58.0 291.8h0.9M55.8 284.2h0.9M74.7 265.2h0.9M83.8 278.9h0.9M80.3 300.4h0.9M65.2 254.1h0.9M67.1 288.1h0.9M63.0 262.1h0.9M92.5 287.2h0.9M73.1 299.0h0.9M68.2 287.5h0.9M62.8 275.5h0.9M88.4 300.1h0.9M91.5 273.1h0.9M79.0 269.6h0.9M60.2 278.8h0.9M89.7 296.8h0.9M84.4 302.0h0.9M66.1 262.1h0.9M73.4 267.5h0.9M63.5 274.6h0.9M80.8 278.7h0.9M67.7 296.3h0.9M95.7 276.6h0.9M57.6 255.1h0.9M91.2 255.6h0.9M84.3 282.6h0.9M67.5 293.9h0.9M55.3 260.4h0.9M73.6 254.8h0.9M89.3 265.6h0.9M60.4 255.9h0.9M80.9 276.3h0.9M81.0 286.9h0.9M88.4 302.4h0.9M83.2 263.7h0.9M74.5 262.6h0.9M55.0 277.6h0.9M84.5 262.6h0.9M65.9 271.1h0.9M83.8 280.0h0.9M80.3 292.1h0.9M71.0 293.9h0.9M92.6 257.9h0.9M93.7 290.3h0.9M60.0 276.6h0.9M80.8 299.9h0.9M70.3 282.5h0.9M91.4 294.1h0.9M94.2 277.1h0.9M81.9 263.9h0.9M84.8 295.2h0.9M81.4 290.1h0.9M63.5 299.4h0.9M95.7 303.3h0.9M77.1 293.8h0.9M68.0 299.9h0.9M90.4 271.3h0.9M58.0 276.0h0.9M77.6 292.7h0.9M75.0 254.9h0.9M88.5 256.8h0.9M88.1 262.3h0.9M68.6 293.7h0.9M60.4 261.1h0.9M76.2 290.4h0.9M89.8 288.7h0.9M94.2 278.6h0.9M94.4 257.9h0.9M63.8 280.4h0.9M66.7 290.7h0.9M81.3 280.2h0.9M89.9 282.1h0.9M67.6 272.9h0.9M90.0 299.4h0.9M63.2 296.9h0.9M95.2 280.2h0.9M78.6 263.7h0.9M77.0 279.2h0.9M79.9 254.9h0.9M95.2 279.8h0.9M71.3 294.4h0.9M78.1 278.5h0.9M83.5 256.9h0.9M77.1 274.6h0.9M94.7 300.6h0.9M65.8 277.6h0.9M59.8 275.6h0.9M88.8 299.4h0.9M74.5 269.7h0.9M62.5 285.0h0.9M93.4 260.1h0.9M87.2 254.7h0.9M62.7 265.1h0.9M83.4 269.9h0.9M69.4 285.1h0.9M58.9 290.8h0.9M59.7 279.5h0.9M65.0 263.6h0.9M76.8 275.8h0.9M70.3 274.6h0.9M76.7 261.6h0.9M63.1 285.7h0.9M81.3 280.5h0.9M90.3 284.7h0.9M90.5 265.4h0.9M85.6 294.8h0.9M92.4 269.6h0.9M67.7 300.6h0.9M63.7 304.4h0.9M91.8 260.3h0.9M64.6 290.6h0.9M65.4 258.4h0.9M89.5 275.0h0.9M87.7 259.9h0.9M71.4 288.4h0.9M55.2 263.7h0.9M83.2 300.0h0.9M95.2 259.4h0.9M75.7 292.2h0.9M75.6 288.5h0.9M62.4 257.1h0.9M59.0 255.4h0.9M77.7 279.8h0.9M78.4 261.0h0.9M62.3 263.9h0.9M89.8 304.0h0.9M93.4 258.4h0.9M57.1 302.0h0.9M73.9 292.5h0.9M68.2 277.3h0.9M76.1 275.4h0.9M79.7 254.2h0.9M83.9 296.6h0.9M62.1 276.7h0.9M85.6 274.2h0.9M62.7 261.9h0.9M76.0 254.3h0.9M92.0 294.4h0.9M84.1 297.4h0.9M80.9 274.1h0.9M79.7 279.2h0.9M95.8 294.5h0.9M65.3 300.0h0.9M85.8 293.2h0.9M88.7 274.2h0.9M92.2 298.4h0.9M83.7 292.6h0.9M86.6 274.2h0.9M84.9 257.1h0.9M68.9 277.4h0.9M54.9 271.6h0.9M81.3 285.3h0.9M64.2 301.7h0.9M82.5 270.7h0.9M82.2 282.5h0.9M76.9 273.4h0.9M96.5 286.3h0.9M84.0 292.3h0.9M95.7 254.7h0.9M80.3 291.2h0.9M65.3 274.0h0.9M56.6 263.5h0.9M70.3 258.5h0.9M65.0 299.7h0.9M77.6 279.4h0.9M95.1 282.5h0.9M96.3 286.0h0.9M88.5 257.4h0.9M79.6 292.2h0.9M56.4 300.9h0.9M61.2 277.6h0.9M61.6 278.8h0.9M80.2 256.5h0.9M94.2 275.0h0.9M76.6 284.0h0.9M69.9 268.1h0.9M82.0 282.1h0.9M66.4 290.0h0.9M66.9 254.2h0.9M64.8 255.7h0.9M61.1 292.0h0.9M70.9 299.3h0.9M85.9 256.1h0.9M96.0 301.7h0.9M57.6 299.7h0.9M72.5 277.9h0.9M95.4 265.9h0.9M76.5 301.3h0.9M84.9 277.4h0.9M95.6 295.2h0.9M79.9 259.4h0.9M80.7 276.7h0.9M63.1 256.2h0.9M76.7 259.8h0.9M73.1 287.6h0.9M73.6 266.9h0.9M79.0 274.9h0.9M87.2 280.6h0.9M96.4 302.1h0.9M85.3 265.7h0.9M59.3 299.0h0.9M87.4 285.4h0.9M69.6 267.3h0.9M83.3 282.3h0.9M79.4 285.8h0.9M86.1 263.2h0.9M65.0 303.5h0.9M93.0 298.3h0.9M56.2 256.6h0.9M65.9 275.2h0.9M80.7 258.7h0.9M77.2 257.2h0.9M58.1 288.0h0.9M77.6 285.7h0.9M70.2 277.9h0.9M63.3 271.0h0.9M85.8 296.3h0.9M57.6 259.6h0.9M88.5 285.3h0.9M86.8 264.4h0.9M72.3 266.7h0.9M88.5 272.3h0.9M82.0 303.9h0.9M68.2 281.5h0.9M85.8 300.5h0.9M72.5 272.3h0.9M58.6 298.1h0.9M57.8 257.7h0.9M78.2 278.2h0.9M83.3 268.7h0.9M87.1 257.4h0.9M63.5 287.3h0.9M57.9 269.0h0.9M84.9 288.9h0.9M66.4 260.8h0.9M69.5 290.5h0.9M69.9 259.5h0.9M84.3 282.5h0.9M93.1 301.4h0.9M92.9 275.8h0.9M88.2 269.0h0.9M67.8 273.9h0.9M93.8 299.1h0.9M64.9 271.9h0.9M69.9 272.0h0.9M71.1 273.3h0.9M62.7 282.3h0.9M88.0 281.1h0.9M89.6 282.2h0.9M61.9 292.2h0.9M91.5 267.9h0.9M55.4 279.8h0.9M77.4 282.4h0.9M95.1 286.7h0.9M88.3 256.8h0.9M77.5 293.7h0.9M58.0 257.7h0.9M85.5 299.4h0.9M58.1 285.8h0.9M60.5 291.5h0.9M81.8 266.0h0.9M63.8 292.5h0.9M76.4 292.5h0.9M71.1 270.7h0.9M95.2 287.8h0.9M75.2 280.9h0.9M84.8 289.6h0.9M92.9 274.4h0.9M89.2 287.5h0.9M90.3 294.6h0.9M89.5 298.8h0.9M94.7 286.2h0.9M76.5 289.7h0.9M88.2 275.0h0.9M72.2 261.0h0.9M85.6 304.0h0.9M70.3 262.1h0.9M63.1 275.2h0.9M66.8 303.0h0.9M57.0 269.2h0.9M59.3 286.5h0.9M87.1 262.7h0.9M57.1 276.9h0.9M79.0 299.9h0.9M56.0 259.0h0.9M62.3 264.6h0.9M64.4 290.1h0.9M79.5 264.9h0.9M62.3 267.8h0.9M61.7 292.1h0.9M67.6 281.5h0.9M88.8 278.0h0.9M65.4 298.8h0.9M92.9 270.9h0.9M77.5 302.3h0.9M74.8 264.8h0.9M56.6 301.8h0.9M88.2 273.1h0.9M76.7 279.8h0.9M66.0 304.0h0.9M82.1 265.6h0.9M55.0 277.6h0.9M70.1 294.1h0.9M84.5 284.4h0.9M61.1 261.5h0.9M68.0 266.7h0.9M91.0 279.8h0.9M81.3 304.1h0.9M65.7 280.8h0.9M60.8 292.8h0.9M54.6 295.4h0.9M90.0 295.4h0.9M58.0 267.3h0.9M84.6 258.5h0.9M74.7 277.4h0.9M94.6 283.4h0.9M90.5 269.0h0.9M87.7 274.8h0.9M93.0 258.1h0.9M89.2 264.1h0.9M77.3 280.3h0.9M61.1 295.9h0.9M67.6 269.3h0.9M57.7 269.1h0.9M74.1 290.0h0.9M69.6 288.5h0.9M58.9 273.6h0.9M73.9 302.8h0.9M89.3 286.9h0.9M55.0 272.7h0.9M84.3 265.6h0.9M78.2 276.9h0.9M54.9 304.1h0.9M88.1 264.0h0.9M80.4 268.3h0.9M70.3 281.0h0.9M67.0 270.7h0.9M71.0 287.5h0.9M65.3 263.7h0.9M85.2 270.3h0.9M94.2 282.2h0.9M84.9 270.4h0.9M89.2 258.2h0.9M60.4 258.3h0.9M83.0 289.6h0.9M62.1 274.0h0.9M89.7 283.7h0.9M58.3 265.1h0.9M61.1 259.8h0.9M71.6 257.2h0.9M93.2 275.3h0.9M76.0 286.5h0.9M86.7 295.4h0.9M70.7 270.4h0.9M71.8 254.3h0.9M71.3 289.2h0.9M95.7 293.8h0.9M82.2 284.5h0.9M55.3 270.4h0.9M68.9 286.7h0.9M59.0 272.8h0.9M75.9 293.7h0.9M89.2 284.7h0.9M61.2 292.6h0.9M92.4 281.5h0.9M69.3 279.0h0.9M60.5 289.9h0.9M95.9 279.8h0.9M84.5 296.1h0.9M62.8 301.7h0.9M80.8 263.6h0.9M58.0 266.0h0.9M78.7 289.1h0.9M68.3 300.9h0.9M69.7 277.1h0.9M59.7 303.2h0.9M60.2 299.6h0.9M77.3 282.1h0.9M78.0 267.0h0.9M92.7 304.1h0.9M88.8 284.2h0.9M59.7 295.6h0.9M66.6 299.2h0.9M64.6 282.8h0.9M89.4 263.0h0.9M77.5 257.4h0.9M55.8 262.7h0.9M96.0 301.4h0.9M82.2 269.2h0.9M82.7 291.1h0.9M70.5 283.7h0.9M88.3 254.3h0.9M62.9 277.4h0.9M60.5 273.2h0.9M78.4 262.4h0.9M76.3 266.9h0.9M78.4 270.4h0.9M81.5 255.4h0.9M82.7 260.9h0.9M94.8 284.1h0.9M74.2 274.5h0.9M80.7 288.7h0.9M86.3 291.8h0.9M74.9 304.2h0.9M89.7 297.1h0.9M71.7 275.6h0.9M78.3 299.7h0.9M76.6 280.3h0.9M72.7 299.6h0.9M68.0 256.3h0.9M85.0 299.4h0.9M85.2 284.0h0.9M86.1 269.0h0.9M79.4 257.1h0.9M59.7 276.3h0.9M75.6 273.7h0.9M56.7 288.9h0.9M76.6 265.7h0.9M67.4 273.7h0.9M64.4 257.0h0.9M92.8 302.8h0.9M82.5 297.7h0.9M72.2 294.6h0.9M63.8 291.6h0.9M78.3 299.6h0.9M58.6 293.9h0.9M59.7 280.9h0.9M94.4 253.5h0.9M64.7 268.8h0.9M68.1 256.7h0.9M92.1 295.1h0.9M71.2 271.7h0.9M79.1 255.8h0.9M55.8 299.3h0.9M67.4 278.9h0.9M93.7 303.3h0.9M74.4 264.0h0.9M66.9 300.6h0.9M92.2 263.5h0.9M89.7 271.6h0.9M74.3 262.3h0.9M91.4 304.3h0.9M63.0 285.8h0.9M62.5 298.4h0.9M56.6 258.9h0.9M85.0 269.5h0.9M92.3 297.8h0.9M84.5 260.4h0.9M83.7 301.3h0.9M73.2 257.5h0.9M63.9 269.2h0.9M84.3 263.5h0.9M62.1 265.5h0.9M82.4 293.8h0.9M70.1 287.3h0.9M91.6 283.6h0.9M64.1 268.8h0.9M93.4 287.5h0.9M66.1 286.1h0.9M58.3 303.6h0.9M73.0 280.4h0.9M76.8 255.8h0.9M79.7 268.0h0.9M65.0 294.5h0.9M58.2 268.0h0.9M86.2 266.0h0.9M66.2 281.5h0.9M62.3 299.2h0.9M96.0 255.2h0.9M73.9 291.8h0.9M70.7 300.9h0.9M75.5 262.7h0.9M77.9 286.4h0.9M69.6 287.1h0.9M87.4 279.9h0.9M75.7 296.6h0.9M83.2 280.0h0.9M94.5 262.4h0.9M87.2 261.9h0.9M80.0 265.5h0.9M73.0 292.9h0.9M87.5 293.8h0.9M64.4 278.4h0.9M63.8 283.1h0.9M75.5 255.3h0.9M79.6 290.0h0.9M78.6 298.0h0.9M62.1 261.2h0.9M55.2 278.8h0.9M72.8 276.0h0.9M65.5 294.2h0.9M57.5 299.8h0.9M78.4 281.2h0.9M87.7 265.6h0.9M60.6 269.4h0.9M56.3 269.5h0.9M80.6 280.3h0.9M65.6 283.5h0.9M58.2 295.3h0.9M61.7 266.5h0.9M61.2 288.7h0.9M89.4 293.6h0.9M57.1 274.4h0.9M69.8 264.5h0.9M95.3 255.6h0.9M75.1 292.3h0.9M95.9 260.9h0.9M73.6 291.5h0.9M56.1 265.8h0.9M91.9 260.7h0.9M71.0 268.7h0.9M72.3 257.4h0.9M55.9 304.3h0.9M86.6 290.9h0.9M64.2 266.4h0.9M77.7 265.8h0.9M73.9 301.1h0.9M69.8 270.7h0.9M95.7 284.7h0.9M56.2 274.1h0.9M81.8 256.5h0.9M68.9 288.9h0.9M90.8 283.6h0.9M91.7 277.1h0.9M71.0 296.5h0.9M70.5 293.3h0.9M63.5 271.2h0.9M62.2 281.5h0.9M61.4 263.9h0.9M63.5 277.4h0.9M67.5 276.3h0.9M96.2 288.1h0.9M90.7 263.9h0.9M70.6 257.2h0.9M83.5 272.0h0.9M66.0 254.4h0.9M62.1 266.9h0.9M71.0 300.6h0.9M84.5 267.2h0.9M69.7 261.3h0.9M93.8 271.8h0.9M86.7 290.4h0.9M92.6 254.5h0.9M68.0 273.1h0.9M58.0 298.5h0.9M68.2 292.8h0.9M76.3 256.3h0.9M71.0 265.7h0.9M56.2 261.2h0.9M79.5 255.1h0.9M67.6 275.1h0.9M77.3 260.4h0.9M84.2 266.8h0.9M85.0 287.5h0.9M60.7 263.9h0.9M66.3 289.9h0.9M71.5 273.2h0.9M90.9 265.0h0.9M66.8 271.1h0.9M63.6 255.6h0.9M55.5 285.7h0.9M78.3 294.7h0.9M95.5 268.7h0.9M82.7 300.4h0.9M63.6 288.6h0.9M82.5 302.2h0.9M91.0 265.5h0.9M81.1 258.1h0.9M72.5 273.5h0.9M57.0 273.1h0.9M68.3 278.9h0.9M66.3 261.6h0.9M71.4 277.7h0.9M61.5 287.4h0.9M64.6 258.2h0.9M68.9 275.0h0.9M60.8 283.2h0.9M84.0 281.7h0.9M83.9 254.7h0.9M70.9 272.1h0.9M57.1 274.1h0.9M56.8 278.8h0.9M79.1 277.4h0.9M68.2 266.4h0.9M55.5 271.2h0.9M92.0 282.4h0.9M65.5 287.6h0.9M62.3 277.4h0.9M80.3 302.2h0.9M69.7 282.9h0.9M94.1 292.8h0.9M80.8 285.2h0.9M71.8 274.7h0.9M66.1 295.8h0.9M91.4 273.0h0.9M92.7 255.4h0.9M60.2 279.4h0.9M67.5 271.9h0.9M95.5 261.1h0.9M62.6 265.2h0.9M83.1 265.5h0.9M54.5 281.2h0.9M71.0 265.7h0.9M75.2 286.7h0.9M77.5 285.3h0.9M78.1 295.9h0.9M95.2 270.5h0.9M69.1 298.7h0.9M67.7 290.0h0.9M83.7 288.5h0.9M95.0 295.5h0.9M61.2 285.2h0.9M75.1 282.3h0.9M70.0 268.1h0.9M86.0 280.7h0.9M64.5 266.2h0.9M68.1 262.6h0.9M76.1 259.9h0.9M57.2 257.0h0.9M58.8 289.4h0.9M59.2 276.5h0.9M86.9 278.0h0.9M61.3 297.7h0.9M91.0 256.2h0.9M65.2 279.4h0.9M88.0 273.5h0.9M84.6 266.3h0.9M84.6 270.2h0.9M68.5 292.2h0.9M89.9 295.8h0.9M78.3 275.0h0.9M84.2 285.3h0.9M89.4 294.4h0.9M59.8 272.7h0.9M82.6 265.3h0.9M62.3 254.2h0.9M79.1 301.5h0.9M95.3 260.3h0.9M83.4 274.9h0.9M81.0 273.7h0.9M93.7 303.9h0.9M56.5 289.9h0.9M59.5 255.7h0.9M66.5 290.8h0.9M96.2 259.6h0.9M68.4 254.9h0.9M77.3 278.1h0.9M70.2 269.3h0.9M88.1 296.3h0.9M66.4 273.5h0.9M80.4 292.5h0.9M95.7 273.4h0.9M83.7 281.3h0.9M88.1 261.0h0.9M61.9 259.0h0.9M93.7 266.3h0.9M75.0 259.6h0.9M68.1 254.5h0.9M78.3 260.8h0.9M80.8 267.5h0.9M64.1 278.1h0.9M69.9 266.7h0.9M56.7 256.8h0.9M92.0 269.3h0.9M57.8 262.8h0.9M74.8 304.4h0.9M63.0 297.7h0.9M74.8 274.6h0.9M88.4 273.7h0.9M56.9 281.6h0.9M82.1 285.3h0.9M66.1 301.4h0.9M90.8 304.2h0.9M73.1 296.0h0.9M84.9 262.5h0.9M55.6 262.1h0.9M59.5 257.3h0.9M69.6 291.9h0.9M67.5 279.7h0.9M54.9 264.2h0.9M94.8 254.1h0.9M76.6 294.8h0.9M87.8 291.0h0.9M71.3 294.5h0.9M89.3 292.7h0.9M95.9 258.6h0.9M94.4 274.0h0.9M84.1 266.3h0.9M92.7 254.7h0.9M78.7 265.1h0.9M70.8 272.3h0.9M82.1 294.8h0.9M69.8 286.0h0.9M69.4 267.7h0.9M92.5 269.9h0.9M58.5 270.6h0.9M85.6 264.3h0.9M85.7 281.4h0.9M83.1 262.5h0.9M58.9 260.8h0.9M69.2 275.5h0.9M54.9 279.1h0.9M71.4 269.9h0.9M77.1 302.1h0.9M63.1 298.4h0.9M68.0 292.0h0.9M59.1 303.9h0.9M72.6 302.6h0.9M63.7 274.3h0.9M84.2 262.6h0.9M66.0 288.0h0.9M94.3 269.9h0.9M62.2 271.7h0.9M96.1 261.1h0.9M81.2 272.8h0.9M81.5 264.3h0.9M80.4 298.8h0.9M90.5 285.6h0.9M75.7 282.5h0.9M59.3 296.2h0.9M83.5 276.6h0.9M82.4 274.9h0.9M70.7 265.2h0.9M79.7 282.7h0.9M76.1 255.1h0.9M80.8 276.3h0.9M79.4 283.8h0.9M93.6 261.2h0.9M74.2 304.1h0.9M85.5 269.5h0.9M85.4 304.0h0.9M71.4 297.7h0.9M59.8 304.0h0.9M75.1 265.4h0.9M89.8 286.6h0.9M93.9 295.8h0.9M88.0 279.6h0.9M96.2 256.8h0.9M91.0 289.8h0.9M65.0 294.7h0.9M73.6 280.9h0.9M90.9 263.5h0.9M66.2 286.3h0.9M57.6 281.8h0.9M87.6 278.5h0.9M64.7 294.3h0.9M90.4 292.8h0.9M77.6 299.7h0.9M88.0 261.2h0.9M69.9 258.6h0.9M56.0 271.1h0.9M90.8 296.0h0.9M59.4 262.8h0.9M70.8 296.8h0.9M80.4 299.5h0.9M57.5 303.9h0.9M63.2 285.6h0.9M91.3 290.6h0.9M62.8 287.6h0.9M72.6 254.3h0.9M68.8 269.6h0.9M80.9 267.7h0.9M79.8 288.9h0.9M62.1 260.0h0.9M83.6 277.3h0.9M59.9 259.4h0.9M94.0 284.6h0.9M69.5 263.5h0.9M96.3 288.8h0.9M85.4 271.9h0.9M67.5 274.3h0.9M60.6 285.7h0.9M72.3 295.3h0.9M71.7 276.8h0.9M75.8 301.5h0.9M69.0 289.4h0.9M64.4 283.0h0.9M66.5 298.0h0.9M66.5 297.1h0.9M82.9 276.7h0.9M93.7 273.3h0.9M85.7 284.2h0.9M73.3 256.8h0.9M72.1 267.8h0.9M73.0 302.2h0.9M66.8 288.9h0.9M82.7 266.0h0.9M71.8 260.2h0.9M92.1 266.3h0.9M72.2 270.9h0.9M89.0 296.9h0.9M79.3 281.3h0.9M58.7 299.2h0.9M58.2 272.0h0.9M70.2 290.4h0.9M82.6 271.0h0.9M92.2 301.9h0.9M55.5 285.8h0.9M74.2 271.9h0.9M74.0 269.6h0.9M82.7 284.4h0.9M95.3 303.3h0.9" stroke="#5c78c0" stroke-width="0.9" opacity="0.5"/>
<path d="M95.2 273.9h0.9M88.6 286.3h0.9M83.5 303.4h0.9M58.2 277.1h0.9M71.6 286.6h0.9M64.2 303.0h0.9M63.9 272.6h0.9M61.2 273.8h0.9M85.2 258.6h0.9M62.2 286.3h0.9M80.4 290.9h0.9M65.6 294.3h0.9M84.7 292.5h0.9M60.3 277.5h0.9M56.1 296.6h0.9M93.3 298.4h0.9M56.5 271.7h0.9M76.9 280.6h0.9M59.9 293.2h0.9M67.6 279.4h0.9M60.5 282.3h0.9M60.7 258.8h0.9M76.0 268.9h0.9M86.6 266.6h0.9M72.1 257.2h0.9M64.2 276.6h0.9M77.8 277.0h0.9M89.5 259.6h0.9M89.5 262.1h0.9M94.3 280.2h0.9M71.8 284.5h0.9M90.1 301.7h0.9M72.0 255.0h0.9M61.6 294.6h0.9M84.9 289.4h0.9M61.8 280.5h0.9M56.6 259.9h0.9M67.5 301.8h0.9M81.2 296.0h0.9M57.3 274.9h0.9M58.6 267.3h0.9M60.0 299.5h0.9M68.7 278.5h0.9M81.7 297.9h0.9M93.4 282.3h0.9M75.5 298.8h0.9M71.3 269.2h0.9M85.1 267.2h0.9M70.2 275.5h0.9M74.6 272.1h0.9M72.7 276.6h0.9M57.5 295.4h0.9M58.0 280.4h0.9M77.4 274.1h0.9M64.4 259.4h0.9M70.4 269.9h0.9M74.9 265.8h0.9M85.5 278.4h0.9M55.9 274.4h0.9M94.2 254.8h0.9M79.2 301.6h0.9M70.1 283.8h0.9M70.3 269.3h0.9M79.9 283.4h0.9M68.1 278.9h0.9M76.1 291.4h0.9M57.6 259.0h0.9M65.6 267.7h0.9M87.3 275.4h0.9M89.9 274.2h0.9M66.9 287.8h0.9M58.9 302.7h0.9M88.8 270.6h0.9M68.2 294.6h0.9M87.0 286.0h0.9M57.8 291.9h0.9M57.4 285.1h0.9M77.6 299.9h0.9M81.0 255.6h0.9M92.9 291.4h0.9M78.7 254.8h0.9M85.0 275.0h0.9M82.7 302.7h0.9M92.2 258.2h0.9M86.8 276.1h0.9M85.6 273.0h0.9M73.4 275.9h0.9M60.2 270.2h0.9M84.9 258.0h0.9M60.1 295.4h0.9M82.1 281.4h0.9M60.0 260.3h0.9M67.9 301.2h0.9M77.9 299.7h0.9M63.9 274.8h0.9M77.0 295.6h0.9M60.4 297.3h0.9M74.4 256.0h0.9M72.8 273.0h0.9M82.5 300.0h0.9M75.2 288.3h0.9M71.0 292.7h0.9M59.7 290.9h0.9M62.2 283.2h0.9M63.6 271.5h0.9M62.1 271.6h0.9M79.2 280.0h0.9M71.0 282.6h0.9M89.2 272.1h0.9M78.9 278.0h0.9M94.7 270.6h0.9M83.4 265.9h0.9M66.0 290.3h0.9M78.5 267.1h0.9M58.1 294.9h0.9M70.6 289.6h0.9M72.8 284.8h0.9M77.9 302.3h0.9M91.9 276.8h0.9M75.0 265.8h0.9M85.6 259.5h0.9M67.8 296.0h0.9M56.9 288.7h0.9M78.2 281.5h0.9M68.8 261.9h0.9M93.5 292.0h0.9M87.7 259.3h0.9M86.9 265.2h0.9M63.5 280.7h0.9M79.9 260.4h0.9M86.1 283.0h0.9M91.5 299.8h0.9M83.1 272.3h0.9M93.5 289.7h0.9M67.1 296.5h0.9M84.6 267.5h0.9M65.5 255.5h0.9M77.0 266.9h0.9M67.2 266.9h0.9M60.8 278.3h0.9M66.4 268.5h0.9M66.6 279.5h0.9M90.5 262.3h0.9M89.9 296.4h0.9M79.9 281.1h0.9M84.9 280.7h0.9M81.9 299.5h0.9M86.5 267.2h0.9M57.7 300.4h0.9M70.0 293.1h0.9M64.8 276.7h0.9M70.3 290.2h0.9M93.2 279.3h0.9M78.1 271.6h0.9M64.8 301.0h0.9M59.9 300.6h0.9M81.8 258.0h0.9M91.6 259.5h0.9M78.1 260.4h0.9M95.1 269.7h0.9M90.4 257.5h0.9M82.2 257.8h0.9M56.7 282.5h0.9M94.8 288.1h0.9M89.7 293.0h0.9M76.3 258.3h0.9M76.6 263.5h0.9M76.6 271.9h0.9M75.5 264.2h0.9M83.7 274.9h0.9M74.9 258.4h0.9M75.0 281.8h0.9M94.4 282.0h0.9M60.9 269.2h0.9M68.9 288.9h0.9M93.1 302.3h0.9M93.5 299.8h0.9M89.8 300.3h0.9M56.3 278.5h0.9M79.1 288.1h0.9M80.0 284.5h0.9M92.8 258.7h0.9M76.3 301.5h0.9M56.8 260.0h0.9M90.3 301.4h0.9M56.5 256.1h0.9M88.7 288.2h0.9M76.3 282.9h0.9M85.8 294.1h0.9M55.5 257.8h0.9M87.3 302.3h0.9M88.8 274.5h0.9M68.9 271.5h0.9M56.1 292.2h0.9M66.0 283.2h0.9M76.5 270.9h0.9M82.5 276.8h0.9M64.9 297.7h0.9M62.5 261.8h0.9M65.6 278.0h0.9M86.8 270.8h0.9M65.0 286.6h0.9M65.9 280.1h0.9M65.7 297.5h0.9M62.9 265.9h0.9M67.6 270.6h0.9M84.6 287.5h0.9M87.1 281.0h0.9M58.6 291.9h0.9M65.3 265.2h0.9M72.1 303.0h0.9M70.3 272.0h0.9M91.9 303.0h0.9M71.0 261.1h0.9M87.1 292.8h0.9M69.0 293.2h0.9M70.7 268.6h0.9M79.2 290.8h0.9M74.5 294.6h0.9M56.1 278.9h0.9M70.7 257.7h0.9M92.1 261.5h0.9M63.7 297.5h0.9M93.9 300.1h0.9M69.2 300.1h0.9M61.2 289.5h0.9M93.3 263.9h0.9M60.9 287.7h0.9M90.8 290.1h0.9M93.5 276.7h0.9M70.4 260.4h0.9M66.4 300.5h0.9M58.4 263.6h0.9M69.4 256.9h0.9M67.8 263.5h0.9M60.4 280.3h0.9M77.1 282.3h0.9M86.0 280.3h0.9M93.4 258.5h0.9M64.4 258.3h0.9M67.9 291.8h0.9M92.5 279.2h0.9M61.9 270.7h0.9M78.2 268.9h0.9M87.2 302.2h0.9M73.9 284.1h0.9M89.3 277.3h0.9M63.1 300.8h0.9M94.6 255.7h0.9M86.0 274.1h0.9M57.6 262.5h0.9M62.4 290.6h0.9M64.0 255.5h0.9M64.3 293.7h0.9M75.5 286.5h0.9M74.1 263.4h0.9M56.1 269.4h0.9M57.2 267.3h0.9M80.3 272.6h0.9M74.4 285.1h0.9M68.2 272.0h0.9M90.9 283.0h0.9M72.2 281.0h0.9M73.9 270.8h0.9M92.0 265.9h0.9M92.9 296.3h0.9M90.8 262.5h0.9M75.9 302.7h0.9M67.0 262.9h0.9M84.4 266.0h0.9M78.8 262.2h0.9M93.4 268.4h0.9M59.4 288.2h0.9M69.4 281.9h0.9M75.4 299.7h0.9M76.1 273.1h0.9M55.6 278.8h0.9M66.3 282.6h0.9M80.8 277.2h0.9M59.1 278.9h0.9M74.8 285.9h0.9M94.3 268.2h0.9M73.2 258.6h0.9M87.5 266.0h0.9M88.7 293.6h0.9M65.7 298.7h0.9M75.7 275.4h0.9M77.7 300.8h0.9M75.1 278.1h0.9M67.1 295.7h0.9M75.6 271.3h0.9M63.4 265.0h0.9M88.9 293.9h0.9M94.6 299.4h0.9M82.9 293.6h0.9M84.0 294.2h0.9M87.6 263.1h0.9M88.1 269.4h0.9M65.3 299.6h0.9M56.4 279.6h0.9" stroke="#ffffff" stroke-width="0.9" opacity="0.4"/>
<ellipse cx="77" cy="282" rx="11.700000000000001" ry="19.200000000000003" fill="#6fa2bc" opacity="0.8" filter="url(#b3)"/>
<ellipse cx="82" cy="282" rx="6.3" ry="12.600000000000001" fill="#8cbf84" opacity="0.9" filter="url(#b2)"/>
<ellipse cx="82" cy="283" rx="3.375" ry="7.800000000000001" fill="#c8c250" opacity="0.9" filter="url(#b2)"/>
<path d="M68.3 305.0h0.9M61.3 260.0h0.9M91.0 272.8h0.9M91.5 291.1h0.9M99.7 310.1h0.9M83.9 272.3h0.9M84.0 304.1h0.9M79.5 236.8h0.9M74.3 276.4h0.9M77.5 276.6h0.9M89.4 262.3h0.9M82.4 251.1h0.9M56.5 266.3h0.9M70.6 268.1h0.9M71.1 291.7h0.9M83.8 283.3h0.9M80.0 271.2h0.9M68.3 259.8h0.9M73.9 264.3h0.9M74.8 293.4h0.9M83.5 302.8h0.9M68.8 247.7h0.9M67.0 313.2h0.9M85.0 275.2h0.9M91.1 275.6h0.9M94.6 275.7h0.9M74.0 292.9h0.9M66.7 279.5h0.9M97.2 288.9h0.9M67.1 278.1h0.9M77.7 270.2h0.9M82.1 301.5h0.9M78.5 295.9h0.9M80.9 284.2h0.9M70.6 297.1h0.9M91.4 275.0h0.9M69.3 290.2h0.9M79.0 299.6h0.9M82.9 280.0h0.9M64.3 291.7h0.9M79.0 262.2h0.9M63.2 253.5h0.9M84.2 275.2h0.9M45.0 268.3h0.9M71.7 280.2h0.9M78.3 276.7h0.9M85.3 298.0h0.9M75.8 306.6h0.9M76.7 268.5h0.9M79.5 259.6h0.9M75.0 265.4h0.9M73.7 285.0h0.9M53.7 288.1h0.9M80.6 278.6h0.9M85.1 287.3h0.9M74.4 266.3h0.9M85.2 293.8h0.9M63.3 270.6h0.9M66.2 294.9h0.9M72.3 262.4h0.9M92.9 289.1h0.9M80.3 285.8h0.9M76.2 282.5h0.9M86.8 288.9h0.9M73.4 283.4h0.9M96.5 273.3h0.9M64.9 283.7h0.9M66.6 323.0h0.9M84.1 291.1h0.9M81.6 312.7h0.9M67.8 281.1h0.9M61.4 301.3h0.9M77.2 309.6h0.9M75.2 265.6h0.9M70.9 294.5h0.9M69.8 286.0h0.9M70.7 270.7h0.9M72.4 307.3h0.9M67.2 286.9h0.9M85.9 270.2h0.9M62.9 305.4h0.9M95.2 278.0h0.9M66.0 295.5h0.9M77.5 268.9h0.9M74.1 244.4h0.9M69.8 262.8h0.9M64.8 291.0h0.9M80.6 308.5h0.9M51.1 271.4h0.9M69.5 302.6h0.9M88.2 283.7h0.9M78.8 270.0h0.9M72.7 274.8h0.9M52.7 311.6h0.9M85.2 314.5h0.9M90.2 289.6h0.9M86.2 255.2h0.9M67.7 295.2h0.9M74.0 256.3h0.9M77.7 261.5h0.9M77.8 306.4h0.9M66.5 274.7h0.9M83.3 281.3h0.9M79.7 268.4h0.9M74.4 244.2h0.9M76.0 302.0h0.9M66.6 278.8h0.9M84.9 301.0h0.9M89.5 267.7h0.9M73.6 309.4h0.9M73.1 286.2h0.9M69.3 271.3h0.9M48.1 273.1h0.9M55.8 265.7h0.9M68.0 303.0h0.9M85.4 288.0h0.9M72.6 259.7h0.9M82.6 268.6h0.9M76.6 296.5h0.9M75.9 281.2h0.9M67.8 298.2h0.9M83.1 292.8h0.9M94.1 255.9h0.9M78.0 291.8h0.9M81.1 286.5h0.9M82.4 257.4h0.9M77.0 300.0h0.9M77.2 278.5h0.9M86.2 253.9h0.9M81.7 305.6h0.9M75.2 268.6h0.9M83.0 274.4h0.9M69.5 284.2h0.9M61.1 292.2h0.9M65.7 272.9h0.9M85.0 281.1h0.9M80.3 303.4h0.9M93.0 314.6h0.9M72.2 296.1h0.9M61.1 294.3h0.9M90.8 270.1h0.9M82.4 294.9h0.9M76.1 271.5h0.9M92.9 260.7h0.9M79.4 296.7h0.9M80.1 306.6h0.9M92.6 289.0h0.9M95.5 293.5h0.9M65.4 276.5h0.9M80.5 284.6h0.9M60.7 318.0h0.9M62.1 263.7h0.9M82.2 284.8h0.9M93.2 285.2h0.9M81.5 293.1h0.9M70.4 261.1h0.9M73.1 297.7h0.9M74.9 301.4h0.9M72.2 293.6h0.9M78.1 295.0h0.9M77.9 284.8h0.9M73.1 301.4h0.9M77.4 289.6h0.9M84.3 267.5h0.9M69.5 281.0h0.9M90.6 265.0h0.9M67.6 266.1h0.9M73.9 264.8h0.9M69.6 290.0h0.9M66.9 281.5h0.9M66.0 278.5h0.9M83.0 250.0h0.9M78.3 285.3h0.9M77.2 285.8h0.9M82.0 261.2h0.9M76.6 291.9h0.9M90.8 260.2h0.9M71.9 260.1h0.9M77.6 264.8h0.9M68.0 293.9h0.9M100.3 249.2h0.9M94.3 267.2h0.9M84.7 287.3h0.9M90.2 278.5h0.9M69.5 280.8h0.9M85.7 267.7h0.9M81.9 281.6h0.9M79.6 281.9h0.9M83.9 294.4h0.9M74.9 276.2h0.9M56.3 267.9h0.9M62.6 292.4h0.9M67.0 270.7h0.9M83.1 297.4h0.9M90.0 268.3h0.9M80.2 298.6h0.9M69.4 278.2h0.9M65.6 271.7h0.9M84.9 283.2h0.9M74.2 273.0h0.9M93.0 293.7h0.9M65.5 315.9h0.9M73.7 279.4h0.9M73.0 272.8h0.9M84.3 259.0h0.9M78.2 276.7h0.9M95.3 288.0h0.9M82.2 290.1h0.9M83.8 283.7h0.9M53.4 288.5h0.9M74.7 292.9h0.9M81.0 273.2h0.9M69.0 265.8h0.9M80.7 280.2h0.9M69.0 276.1h0.9M81.4 271.4h0.9M76.6 272.3h0.9M52.0 283.3h0.9M78.5 294.6h0.9M90.9 270.4h0.9M83.8 286.0h0.9M78.7 294.9h0.9M86.6 261.9h0.9M92.6 279.1h0.9M71.2 271.0h0.9M75.7 264.2h0.9M88.7 288.6h0.9M68.9 294.8h0.9M80.2 283.1h0.9M87.5 280.4h0.9M75.3 289.7h0.9M59.6 263.0h0.9M82.9 298.6h0.9M61.1 282.0h0.9M71.3 277.4h0.9M83.9 305.3h0.9M95.5 296.7h0.9M84.3 284.1h0.9M59.3 288.0h0.9M66.0 264.4h0.9M79.1 257.1h0.9M95.5 291.3h0.9M81.5 289.4h0.9M80.3 282.9h0.9M84.9 271.3h0.9M80.6 284.5h0.9M85.6 264.6h0.9M80.4 279.8h0.9M84.2 290.3h0.9M79.7 289.1h0.9M82.3 303.2h0.9M81.0 290.3h0.9M68.6 278.6h0.9M85.6 298.3h0.9M68.2 281.2h0.9M75.2 282.7h0.9M73.1 275.2h0.9M77.3 283.8h0.9M88.0 268.5h0.9M68.4 294.2h0.9M82.9 278.9h0.9M66.4 298.4h0.9M67.2 299.6h0.9M80.4 279.5h0.9M76.2 294.7h0.9M78.0 254.7h0.9M71.0 248.3h0.9M81.9 296.3h0.9M88.2 260.8h0.9M99.0 310.3h0.9M76.8 250.8h0.9M69.3 298.2h0.9M98.4 273.5h0.9M59.6 266.7h0.9M96.9 281.8h0.9M64.0 249.1h0.9M84.2 294.5h0.9M73.2 278.8h0.9M78.7 276.5h0.9M72.5 272.9h0.9M72.0 301.1h0.9M81.9 297.9h0.9M96.2 246.1h0.9M77.3 296.8h0.9M75.8 272.5h0.9M81.8 273.6h0.9M69.6 277.0h0.9M78.4 282.0h0.9M86.8 282.2h0.9M73.2 329.5h0.9M75.6 277.6h0.9M76.5 270.9h0.9M62.3 284.9h0.9M92.4 253.4h0.9M70.4 288.5h0.9M71.1 290.1h0.9M77.4 264.6h0.9M75.8 273.8h0.9M83.3 242.2h0.9M82.0 302.7h0.9" stroke="#5f80bc" stroke-width="0.9" opacity="0.45"/>
</g>
<rect x="53.5" y="247.6" width="62.70" height="61.70" fill="none" stroke="#5a5a5a" stroke-width="0.95"/>
<line x1="53.5" y1="247.1" x2="53.5" y2="309.90000000000003" stroke="#111" stroke-width="1.5"/>
<line x1="53.0" y1="309.3" x2="116.7" y2="309.3" stroke="#111" stroke-width="1.5"/>
<path d="M53.5 247.6 H91.2 C90.6 262 89.9 274 89.3 284 C88.6 292 87.4 297 86.2 300 L80.7 307.6 H53.5" fill="none" stroke="#1e2a36" stroke-width="1.35"/>
<text x="48.9" y="252.60" font-size="6.4" text-anchor="end" fill="#222" letter-spacing="0.1">250K</text>
<text x="48.9" y="264.26" font-size="6.4" text-anchor="end" fill="#222" letter-spacing="0.1">200K</text>
<text x="48.9" y="275.92" font-size="6.4" text-anchor="end" fill="#222" letter-spacing="0.1">150K</text>
<text x="48.9" y="287.58" font-size="6.4" text-anchor="end" fill="#222" letter-spacing="0.1">100K</text>
<text x="48.9" y="299.24" font-size="6.4" text-anchor="end" fill="#222" letter-spacing="0.1">50K</text>
<text x="48.9" y="310.90" font-size="6.4" text-anchor="end" fill="#222" letter-spacing="0.1">0</text>
<path d="M51.9 250.6h1.6M51.9 262.3h1.6M51.9 273.9h1.6M51.9 285.6h1.6M51.9 297.2h1.6M51.9 308.9h1.6" stroke="#111" stroke-width="0.9"/>
<text x="27.7" y="279.45" font-size="8.6" text-anchor="middle" font-weight="normal" fill="#222" transform="rotate(-90 27.7 279.45)" textLength="11.2" lengthAdjust="spacingAndGlyphs" >SSC</text>
<text x="58.8" y="318.6" font-size="6.0" text-anchor="middle" fill="#222" letter-spacing="0.2">−10<tspan dy="-2.4" font-size="4.14">3</tspan></text>
<text x="68.5" y="318.6" font-size="6.0" text-anchor="middle" fill="#222" letter-spacing="0.2">0</text>
<text x="78.5" y="318.6" font-size="6.0" text-anchor="middle" fill="#222" letter-spacing="0.2">10<tspan dy="-2.4" font-size="4.14">3</tspan></text>
<text x="96.5" y="318.6" font-size="6.0" text-anchor="middle" fill="#222" letter-spacing="0.2">10<tspan dy="-2.4" font-size="4.14">4</tspan></text>
<text x="110.5" y="318.6" font-size="6.0" text-anchor="middle" fill="#222" letter-spacing="0.2">10<tspan dy="-2.4" font-size="4.14">5</tspan></text>
<path d="M62.0 309.3v1.6M69.0 309.3v1.6M77.0 309.3v1.6M96.0 309.3v1.6M108.0 309.3v1.6" stroke="#111" stroke-width="0.9"/>
<text x="84.1" y="333" font-size="8.6" text-anchor="middle" font-weight="normal" fill="#222" textLength="16.6" lengthAdjust="spacingAndGlyphs" >CD127</text>
<text x="7.6" y="363.5" font-size="10.8" text-anchor="start" font-weight="bold" fill="#111" >D’</text>
<g clip-path="url(#k6)">
<rect x="57.5" y="378.5" width="40.5" height="40.5" rx="3" fill="#98a8d6" opacity="0.9" filter="url(#b3)"/>
<path d="M76.6 406.1h0.9M85.5 382.1h0.9M55.0 392.9h0.9M67.2 413.2h0.9M86.6 403.5h0.9M80.5 406.3h0.9M61.3 396.0h0.9M62.0 417.6h0.9M57.2 413.6h0.9M58.0 407.4h0.9M70.2 394.3h0.9M93.7 376.4h0.9M57.3 418.0h0.9M78.2 379.7h0.9M100.4 419.5h0.9M59.7 395.2h0.9M60.8 390.0h0.9M83.4 383.1h0.9M86.9 377.9h0.9M62.5 413.4h0.9M73.1 395.0h0.9M82.2 397.7h0.9M72.4 376.9h0.9M88.3 420.5h0.9M99.9 406.4h0.9M71.1 392.4h0.9M86.6 406.8h0.9M59.8 386.4h0.9M71.4 399.3h0.9M92.2 398.8h0.9M55.8 413.7h0.9M74.5 399.6h0.9M64.8 395.4h0.9M72.6 411.4h0.9M59.3 401.1h0.9M62.8 407.9h0.9M56.2 388.4h0.9M70.5 405.1h0.9M56.9 396.9h0.9M64.2 388.6h0.9M76.6 420.1h0.9M76.9 419.9h0.9M62.3 418.5h0.9M71.4 384.3h0.9M89.3 417.9h0.9M54.8 388.0h0.9M90.3 391.4h0.9M65.7 375.9h0.9M56.4 404.3h0.9M100.2 421.9h0.9M77.9 376.6h0.9M69.5 412.1h0.9M93.2 405.2h0.9M65.2 400.0h0.9M76.7 404.7h0.9M66.7 419.5h0.9M96.1 383.0h0.9M68.0 416.1h0.9M67.4 419.4h0.9M78.5 407.9h0.9M87.3 385.5h0.9M67.8 387.4h0.9M86.3 407.8h0.9M60.6 416.7h0.9M74.0 386.7h0.9M74.7 421.0h0.9M80.5 404.6h0.9M97.3 420.2h0.9M89.9 394.9h0.9M81.9 417.4h0.9M91.2 402.5h0.9M70.7 392.6h0.9M88.7 401.7h0.9M55.3 408.5h0.9M96.5 412.6h0.9M96.2 417.8h0.9M79.4 412.2h0.9M72.1 380.1h0.9M70.9 390.0h0.9M97.9 407.5h0.9M79.7 404.4h0.9M60.3 400.3h0.9M87.1 393.8h0.9M65.9 394.4h0.9M69.5 407.4h0.9M61.1 379.7h0.9M69.0 407.9h0.9M89.8 406.2h0.9M98.0 392.5h0.9M55.9 398.2h0.9M75.1 383.8h0.9M85.5 391.4h0.9M65.6 390.7h0.9M98.4 375.9h0.9M71.3 388.5h0.9M63.9 395.6h0.9M64.7 418.2h0.9M77.8 408.0h0.9M62.0 397.1h0.9M82.7 414.7h0.9M66.1 396.9h0.9M94.2 414.2h0.9M65.1 400.5h0.9M89.9 393.9h0.9M85.8 406.3h0.9M99.7 401.3h0.9M86.2 391.8h0.9M88.5 390.5h0.9M77.7 392.3h0.9M68.8 381.8h0.9M65.0 400.8h0.9M66.2 377.6h0.9M91.9 388.8h0.9M98.0 403.3h0.9M72.6 416.1h0.9M96.2 390.4h0.9M60.4 405.3h0.9M93.7 403.8h0.9M91.0 394.7h0.9M83.2 387.7h0.9M73.4 393.2h0.9M72.4 394.1h0.9M92.0 383.4h0.9M64.0 387.3h0.9M99.7 399.8h0.9M57.0 414.3h0.9M95.1 413.7h0.9M71.2 409.7h0.9M68.7 381.9h0.9M94.7 414.2h0.9M64.3 416.4h0.9M55.6 389.8h0.9M55.1 383.5h0.9M62.1 408.8h0.9M68.3 384.3h0.9M63.1 390.0h0.9M94.6 403.7h0.9M59.3 407.4h0.9M79.4 396.4h0.9M79.0 405.8h0.9M91.7 399.0h0.9M84.1 397.2h0.9M84.0 393.6h0.9M73.8 399.5h0.9M87.7 388.5h0.9M97.5 398.4h0.9M94.3 407.6h0.9M99.0 407.2h0.9M74.3 394.4h0.9M82.8 410.6h0.9M93.5 381.5h0.9M57.4 380.5h0.9M58.4 378.1h0.9M54.9 387.1h0.9M59.8 407.4h0.9M83.1 420.4h0.9M99.2 410.2h0.9M98.7 376.8h0.9M65.1 418.6h0.9M76.6 385.1h0.9M89.7 395.2h0.9M79.8 390.2h0.9M65.7 379.6h0.9M82.7 419.8h0.9M100.4 411.1h0.9M97.9 392.3h0.9M68.4 418.4h0.9M82.4 406.6h0.9M55.1 386.1h0.9M76.9 409.5h0.9M92.9 410.7h0.9M70.3 393.2h0.9M94.6 421.5h0.9M77.1 384.6h0.9M83.5 400.4h0.9M71.3 386.2h0.9M72.4 404.0h0.9M60.4 400.7h0.9M98.8 410.1h0.9M66.2 395.0h0.9M59.3 409.8h0.9M83.9 383.5h0.9M80.0 403.2h0.9M81.3 393.1h0.9M68.9 392.0h0.9M100.9 390.9h0.9M77.9 396.9h0.9M62.5 394.1h0.9M64.0 390.5h0.9M71.6 391.8h0.9M98.1 389.3h0.9M70.0 406.1h0.9M73.0 399.5h0.9M84.6 378.9h0.9M85.7 380.2h0.9M66.1 413.2h0.9M100.5 406.8h0.9M62.5 395.9h0.9M67.6 414.6h0.9M65.3 384.6h0.9M84.2 405.1h0.9M81.9 397.8h0.9M99.1 396.8h0.9M98.1 393.7h0.9M76.1 392.2h0.9M87.8 410.4h0.9M65.6 400.0h0.9M88.3 398.8h0.9M85.3 404.2h0.9M87.7 392.0h0.9M68.8 376.6h0.9M95.9 412.2h0.9M72.6 420.5h0.9M96.5 382.5h0.9M93.4 395.1h0.9M69.1 387.5h0.9M73.7 377.9h0.9M56.8 380.9h0.9M68.8 382.9h0.9M60.2 414.2h0.9M72.2 398.3h0.9M82.5 418.9h0.9M61.3 386.1h0.9M94.5 417.8h0.9M97.8 400.1h0.9M71.6 384.3h0.9M96.8 411.1h0.9M80.2 412.3h0.9M66.6 400.3h0.9M96.7 380.5h0.9M83.2 384.1h0.9M93.5 414.5h0.9M84.4 395.8h0.9M55.5 398.5h0.9M71.2 394.1h0.9M58.1 418.3h0.9M78.8 401.6h0.9M93.7 417.2h0.9M80.1 400.8h0.9M93.9 392.8h0.9M96.4 376.6h0.9M91.5 400.0h0.9M83.4 421.6h0.9M64.7 394.4h0.9M91.7 410.2h0.9M78.9 411.6h0.9M86.0 415.9h0.9M84.7 392.4h0.9M67.8 379.3h0.9M60.2 377.5h0.9M99.9 382.0h0.9M82.5 381.7h0.9M99.4 400.3h0.9M62.7 413.9h0.9M94.5 421.0h0.9M64.9 394.2h0.9M85.2 388.6h0.9M81.0 408.1h0.9M89.4 413.8h0.9M89.4 388.8h0.9M89.6 395.7h0.9M62.4 376.5h0.9M83.4 392.1h0.9M58.9 398.3h0.9M73.8 390.6h0.9M80.8 400.6h0.9M79.1 421.4h0.9M96.6 389.4h0.9M95.0 390.2h0.9M98.1 378.2h0.9M69.3 418.8h0.9M85.3 408.4h0.9M64.0 381.2h0.9M99.1 378.6h0.9M62.7 395.5h0.9M92.6 407.1h0.9M100.9 411.7h0.9M74.8 417.9h0.9M69.2 377.9h0.9M99.1 416.5h0.9M85.2 397.8h0.9M64.0 385.7h0.9M57.6 379.9h0.9M76.8 417.2h0.9M97.8 399.4h0.9M85.8 397.3h0.9M90.6 408.3h0.9M100.3 414.8h0.9M86.0 403.0h0.9M62.3 397.4h0.9M75.3 382.7h0.9M63.9 394.6h0.9M62.7 404.5h0.9M69.8 421.4h0.9M86.3 399.5h0.9M74.7 393.7h0.9M63.8 420.3h0.9M97.0 405.7h0.9M84.7 382.2h0.9M79.7 383.3h0.9M69.6 402.8h0.9M62.4 386.3h0.9M88.5 398.0h0.9M95.9 382.9h0.9M58.6 419.1h0.9M82.8 407.7h0.9M80.4 382.4h0.9M100.0 398.5h0.9M96.8 382.3h0.9M67.3 401.0h0.9M66.0 415.5h0.9M66.6 379.2h0.9M62.1 388.1h0.9M98.6 416.3h0.9M85.6 395.3h0.9M56.4 414.2h0.9M60.4 384.8h0.9M74.7 415.6h0.9M63.0 378.4h0.9M96.7 375.9h0.9M88.6 382.0h0.9M68.4 385.2h0.9M74.9 418.3h0.9M93.6 400.4h0.9M58.6 383.7h0.9M68.2 412.4h0.9M97.1 376.7h0.9M70.0 420.1h0.9M61.5 379.2h0.9M66.9 416.8h0.9M66.7 409.0h0.9M60.0 406.1h0.9M62.4 403.2h0.9M89.0 416.4h0.9M74.8 421.3h0.9M73.4 419.7h0.9M97.0 421.9h0.9M59.4 388.2h0.9M86.9 416.7h0.9M66.4 411.2h0.9M76.7 375.7h0.9M58.5 375.8h0.9M65.1 418.9h0.9M86.1 415.6h0.9M97.1 393.8h0.9M86.9 405.9h0.9M86.7 379.8h0.9M95.8 382.8h0.9M75.2 407.5h0.9M89.1 413.9h0.9M69.0 389.4h0.9M88.3 377.7h0.9M95.1 390.2h0.9M72.7 390.0h0.9M87.7 383.6h0.9M60.8 378.6h0.9M60.6 404.5h0.9M100.5 375.8h0.9M76.0 392.0h0.9M68.9 391.5h0.9M59.5 395.2h0.9M66.9 378.3h0.9M60.8 418.7h0.9M87.9 421.2h0.9M92.3 409.8h0.9M65.0 380.6h0.9M100.3 407.3h0.9M88.1 382.2h0.9M91.3 400.4h0.9M58.6 385.3h0.9M99.5 404.5h0.9M58.7 379.3h0.9M89.4 391.9h0.9M76.7 381.9h0.9M62.8 398.6h0.9M74.4 384.1h0.9M61.5 396.2h0.9M59.8 378.4h0.9M76.5 377.9h0.9M88.6 411.2h0.9M87.3 419.7h0.9M62.2 395.1h0.9M73.8 378.9h0.9M94.5 377.4h0.9M100.2 406.9h0.9M100.3 378.3h0.9M96.0 420.3h0.9M90.7 402.5h0.9M84.6 397.9h0.9M94.2 402.4h0.9M80.0 394.3h0.9M83.7 402.8h0.9M98.2 411.4h0.9M69.8 409.0h0.9M65.4 397.9h0.9M79.0 409.3h0.9M57.9 382.3h0.9M63.0 404.3h0.9M62.4 401.5h0.9M95.5 395.4h0.9M64.9 403.3h0.9M73.6 395.8h0.9M62.8 407.2h0.9M70.5 421.3h0.9M77.6 407.2h0.9M97.5 421.3h0.9M55.5 418.6h0.9M59.3 419.6h0.9M91.2 387.4h0.9M87.8 401.7h0.9M75.5 404.7h0.9M75.7 406.1h0.9M86.8 375.8h0.9M84.2 408.3h0.9M94.8 400.4h0.9M79.7 382.2h0.9M63.6 417.1h0.9M57.4 417.4h0.9M60.2 393.4h0.9M83.4 376.9h0.9M75.3 412.6h0.9M72.4 383.7h0.9M57.3 419.6h0.9M59.4 406.6h0.9M84.2 388.5h0.9M80.4 407.4h0.9M64.2 386.9h0.9M97.5 385.2h0.9M77.2 396.6h0.9M90.7 415.4h0.9M90.0 404.6h0.9M79.6 379.8h0.9M81.2 395.6h0.9M89.6 393.0h0.9M60.2 393.3h0.9M93.2 398.6h0.9M85.6 378.1h0.9M64.8 387.9h0.9M77.0 381.0h0.9M98.5 390.9h0.9M54.5 386.7h0.9M77.8 404.1h0.9M92.4 379.5h0.9M99.6 415.3h0.9M78.4 405.6h0.9M68.8 382.4h0.9M55.0 420.2h0.9M95.9 396.2h0.9M82.5 397.7h0.9M86.5 380.1h0.9M89.6 383.6h0.9M82.0 404.5h0.9M93.9 404.1h0.9M62.8 413.4h0.9M71.9 401.7h0.9M91.7 420.9h0.9M59.3 396.6h0.9M69.1 414.9h0.9M73.0 417.8h0.9M91.4 395.0h0.9M90.0 407.1h0.9M59.9 389.3h0.9M60.8 414.2h0.9M72.9 389.5h0.9M87.9 421.4h0.9M61.1 407.7h0.9M65.1 412.3h0.9M89.2 411.2h0.9M81.6 381.2h0.9M94.1 380.6h0.9M81.5 420.1h0.9M67.0 397.8h0.9M85.9 405.5h0.9M69.5 394.9h0.9M96.2 408.8h0.9M62.6 407.1h0.9M94.1 403.5h0.9M96.1 387.8h0.9M68.0 415.8h0.9M66.4 381.4h0.9M61.4 416.5h0.9M92.8 384.7h0.9M89.0 384.7h0.9M83.4 376.0h0.9M81.3 410.4h0.9M78.0 404.7h0.9M60.0 396.8h0.9M90.9 392.9h0.9M89.1 403.4h0.9M92.1 409.9h0.9M68.7 413.6h0.9M92.5 395.4h0.9M87.9 394.8h0.9M81.3 390.6h0.9M76.0 389.8h0.9M96.1 404.0h0.9M83.0 399.8h0.9M76.1 383.6h0.9M84.6 396.2h0.9M70.5 399.3h0.9M60.6 405.6h0.9M90.9 392.5h0.9M62.0 420.5h0.9M83.3 390.3h0.9M58.7 402.2h0.9M64.7 417.3h0.9M87.8 388.4h0.9M73.4 379.5h0.9M64.9 401.5h0.9M95.5 395.3h0.9M99.3 387.4h0.9M59.3 414.5h0.9M72.1 388.5h0.9M75.2 404.0h0.9M64.7 380.4h0.9M82.3 406.1h0.9M80.6 382.9h0.9M94.5 395.5h0.9M79.7 416.7h0.9M60.7 398.6h0.9M74.2 405.2h0.9M65.0 386.7h0.9M65.1 401.5h0.9M68.5 418.6h0.9M95.0 409.3h0.9M73.4 413.8h0.9M81.2 411.9h0.9M98.9 381.1h0.9M89.9 417.5h0.9M73.3 391.4h0.9M56.0 417.2h0.9M64.1 375.9h0.9M58.6 399.5h0.9M86.2 417.6h0.9M85.4 380.2h0.9M97.7 416.0h0.9M92.0 417.4h0.9M93.4 407.3h0.9M90.2 376.6h0.9M100.5 375.7h0.9M74.3 402.0h0.9M78.2 391.3h0.9M78.1 390.2h0.9M85.3 376.9h0.9M70.5 405.8h0.9M75.7 376.4h0.9M75.9 418.6h0.9M78.8 409.5h0.9M72.3 421.1h0.9M78.9 413.2h0.9M83.6 413.3h0.9M72.7 418.7h0.9M100.4 417.3h0.9M96.7 392.4h0.9M70.2 417.0h0.9M92.9 403.0h0.9M80.5 376.0h0.9M80.5 378.2h0.9M79.0 385.9h0.9M82.7 382.8h0.9M69.7 411.3h0.9M81.4 381.7h0.9M100.3 376.5h0.9M73.7 408.7h0.9M81.5 405.8h0.9M96.5 380.0h0.9M78.1 387.2h0.9M82.4 397.1h0.9M83.8 412.7h0.9M77.8 395.2h0.9M80.4 383.3h0.9M96.9 393.6h0.9M77.7 414.6h0.9M93.3 421.9h0.9M87.4 400.2h0.9M74.5 411.7h0.9M83.4 376.0h0.9M80.7 406.6h0.9M71.2 414.1h0.9M89.0 416.7h0.9M68.1 406.3h0.9M80.6 391.4h0.9M68.3 379.6h0.9M93.4 388.3h0.9M70.6 387.3h0.9M80.4 398.5h0.9M94.8 379.2h0.9M70.5 414.3h0.9M91.4 378.5h0.9M75.3 421.7h0.9M100.0 390.3h0.9M89.1 390.9h0.9M57.5 417.2h0.9M60.3 421.6h0.9M75.5 415.2h0.9M76.7 417.4h0.9M89.2 383.5h0.9M55.6 383.4h0.9M82.7 380.6h0.9M57.9 393.3h0.9M57.0 389.8h0.9M83.8 386.1h0.9M91.3 387.6h0.9M71.5 394.3h0.9M94.0 377.7h0.9M92.2 379.9h0.9M99.6 401.3h0.9M89.4 399.4h0.9M85.7 407.4h0.9M61.3 384.5h0.9M96.8 385.7h0.9M65.8 377.9h0.9M87.7 412.1h0.9M56.2 415.6h0.9M59.8 398.6h0.9M78.4 387.2h0.9M69.6 398.3h0.9M90.9 387.3h0.9M65.3 420.9h0.9M66.8 380.3h0.9M97.8 418.5h0.9M64.5 400.1h0.9M95.1 390.4h0.9M70.4 375.7h0.9M60.5 403.7h0.9M77.6 415.6h0.9M75.2 388.1h0.9M72.8 382.0h0.9M76.8 407.7h0.9M63.1 402.6h0.9M100.9 407.9h0.9M69.3 405.5h0.9M59.6 380.6h0.9M92.1 408.4h0.9M83.5 401.6h0.9M70.8 414.4h0.9M78.4 413.9h0.9M88.7 391.0h0.9M92.4 391.8h0.9M83.1 414.7h0.9M98.8 404.4h0.9M63.8 383.0h0.9M93.1 389.8h0.9M61.3 402.4h0.9M73.9 409.9h0.9M62.9 399.3h0.9M98.9 383.5h0.9M72.6 393.8h0.9M60.5 382.2h0.9M69.1 401.0h0.9M60.9 405.0h0.9M71.9 389.5h0.9M94.1 410.0h0.9M75.2 387.6h0.9M78.2 405.7h0.9M89.9 406.3h0.9M54.5 382.9h0.9M100.8 400.9h0.9M78.4 380.8h0.9M91.1 413.9h0.9M68.9 388.1h0.9M57.9 389.7h0.9M78.3 396.3h0.9M54.9 380.1h0.9M65.5 414.1h0.9M99.4 415.6h0.9M77.4 392.4h0.9M96.1 410.6h0.9M84.6 408.1h0.9M98.1 400.0h0.9M66.4 409.6h0.9M97.8 386.0h0.9M72.4 411.0h0.9M91.7 377.9h0.9M92.0 386.8h0.9M60.4 377.8h0.9M76.0 396.6h0.9M63.2 408.6h0.9M63.1 418.7h0.9M100.9 391.0h0.9M55.5 378.8h0.9M79.4 392.0h0.9M90.7 394.5h0.9M66.5 383.0h0.9M100.6 411.0h0.9M86.1 385.8h0.9M75.1 410.7h0.9M84.6 388.4h0.9M70.8 413.2h0.9M57.0 405.6h0.9M87.3 399.5h0.9M80.2 418.5h0.9M69.6 410.5h0.9M88.1 409.9h0.9M57.6 407.7h0.9M72.0 381.5h0.9M96.7 387.8h0.9M76.2 389.8h0.9M59.7 389.0h0.9M83.0 405.2h0.9M89.3 382.6h0.9M67.2 414.1h0.9M78.9 409.9h0.9M76.0 395.0h0.9M56.0 414.6h0.9M96.6 408.8h0.9M64.6 404.8h0.9M86.1 388.6h0.9M72.0 416.9h0.9M66.7 403.9h0.9M56.7 376.6h0.9M56.5 389.7h0.9M97.7 402.4h0.9M77.0 382.4h0.9M80.4 381.5h0.9M57.6 391.0h0.9M66.5 411.9h0.9M80.7 405.3h0.9M67.4 393.7h0.9M59.8 388.9h0.9M100.7 406.6h0.9M70.2 404.8h0.9M96.9 413.2h0.9M78.9 382.8h0.9M56.9 378.8h0.9M92.6 411.8h0.9M87.1 409.1h0.9M61.0 402.5h0.9M54.9 377.0h0.9M83.3 375.8h0.9M73.7 391.9h0.9M94.9 391.8h0.9M64.0 407.1h0.9M61.7 421.0h0.9M97.4 421.6h0.9M83.3 383.9h0.9M63.8 408.7h0.9M74.9 408.3h0.9M64.2 402.0h0.9M94.3 388.8h0.9M93.3 382.2h0.9M85.4 377.4h0.9M65.8 378.8h0.9M63.7 400.1h0.9M92.3 413.3h0.9M97.0 387.0h0.9M98.1 395.3h0.9M85.5 409.1h0.9M67.2 388.6h0.9M74.8 391.4h0.9M88.4 415.8h0.9M85.2 377.8h0.9M91.6 411.2h0.9M100.2 384.2h0.9M97.9 393.9h0.9M80.3 384.9h0.9M66.2 395.1h0.9M80.7 387.4h0.9M80.2 395.3h0.9M64.7 405.6h0.9M69.3 377.2h0.9M65.7 395.1h0.9M83.2 378.7h0.9M95.8 379.2h0.9M98.5 376.8h0.9M68.8 391.1h0.9M85.8 379.7h0.9M64.1 413.8h0.9M97.2 378.1h0.9M59.1 391.3h0.9M71.3 407.0h0.9M98.3 405.0h0.9M69.9 385.8h0.9M57.5 378.6h0.9M94.6 415.7h0.9M71.7 385.8h0.9M94.6 386.2h0.9M73.3 416.8h0.9M55.6 391.9h0.9M63.8 396.3h0.9M98.0 420.1h0.9M89.5 414.9h0.9M72.0 409.9h0.9M88.4 417.5h0.9M71.5 415.0h0.9M63.3 402.7h0.9M98.6 410.1h0.9M89.7 383.9h0.9M71.8 401.6h0.9M91.9 386.6h0.9M79.6 410.2h0.9M86.5 387.4h0.9M59.1 392.2h0.9M63.5 401.6h0.9M79.0 377.7h0.9M98.0 418.0h0.9M63.5 388.2h0.9M99.0 377.0h0.9M61.9 392.5h0.9M93.7 378.2h0.9M79.1 410.7h0.9M83.6 396.0h0.9M84.8 408.6h0.9M77.0 388.0h0.9M83.9 413.0h0.9M59.0 405.4h0.9M74.0 383.0h0.9M69.7 378.7h0.9M92.8 401.5h0.9M74.7 415.8h0.9M93.0 393.9h0.9M56.0 402.8h0.9M65.3 403.7h0.9M59.1 412.7h0.9M94.1 383.9h0.9M92.6 379.9h0.9M61.2 401.7h0.9M65.6 393.8h0.9M71.7 410.9h0.9M90.6 416.6h0.9M65.6 387.6h0.9M93.2 394.2h0.9M59.8 398.9h0.9M65.6 405.0h0.9M73.3 383.0h0.9M89.4 416.9h0.9M61.6 385.4h0.9M77.7 383.1h0.9M99.2 395.8h0.9M57.9 384.8h0.9M64.6 387.2h0.9M82.8 416.4h0.9M72.9 401.1h0.9M99.0 398.5h0.9M72.2 416.0h0.9M86.0 394.9h0.9M92.4 387.0h0.9M59.2 386.4h0.9M70.0 415.3h0.9M66.3 378.9h0.9M59.6 412.7h0.9M77.8 419.7h0.9M70.0 382.2h0.9M63.0 410.5h0.9M77.9 414.7h0.9M98.6 398.2h0.9M58.7 415.0h0.9M95.5 402.2h0.9M79.2 411.9h0.9M71.1 376.5h0.9M99.0 397.2h0.9M70.3 416.5h0.9M96.6 395.9h0.9M89.0 422.0h0.9M78.5 399.1h0.9M98.2 381.7h0.9M87.2 385.0h0.9M69.6 411.9h0.9M58.1 418.1h0.9M87.9 418.6h0.9M93.9 403.2h0.9M73.2 380.0h0.9M96.9 411.7h0.9M69.4 388.9h0.9M99.4 390.8h0.9M62.5 386.2h0.9M87.4 413.2h0.9M67.0 407.1h0.9M82.3 406.5h0.9M62.1 411.8h0.9M59.3 380.4h0.9M82.5 417.5h0.9M86.6 415.2h0.9M94.3 406.6h0.9M97.5 420.6h0.9M93.4 382.4h0.9M67.9 396.4h0.9M79.9 397.1h0.9M95.9 405.4h0.9M97.4 421.5h0.9M56.5 388.9h0.9M100.2 380.3h0.9M72.2 383.5h0.9M85.4 396.8h0.9M94.8 420.4h0.9M95.6 389.9h0.9M84.2 421.7h0.9M74.1 395.8h0.9M100.5 402.1h0.9M55.0 401.5h0.9M60.6 377.2h0.9M95.3 410.6h0.9M73.2 419.0h0.9M64.7 377.8h0.9M57.2 398.2h0.9M66.5 406.4h0.9M99.6 397.6h0.9M93.3 380.8h0.9M88.1 385.2h0.9M94.3 400.8h0.9M71.2 393.7h0.9M65.2 409.2h0.9M77.1 382.1h0.9M67.5 393.2h0.9M67.5 383.0h0.9M80.1 408.7h0.9M54.7 407.5h0.9M63.7 398.7h0.9M92.1 389.1h0.9M93.6 379.6h0.9M68.7 375.6h0.9M61.7 407.7h0.9M97.5 411.3h0.9M64.7 403.6h0.9M83.9 388.3h0.9M57.5 415.6h0.9M97.8 391.3h0.9M59.4 412.5h0.9M63.5 377.8h0.9M100.6 384.8h0.9M65.6 406.0h0.9M88.0 405.6h0.9M62.2 417.3h0.9M71.6 385.1h0.9M91.2 386.1h0.9M74.2 387.7h0.9M76.6 410.8h0.9M60.3 422.0h0.9M77.9 415.0h0.9M75.5 392.9h0.9M80.8 378.8h0.9M63.8 381.1h0.9M62.7 387.9h0.9M62.5 418.3h0.9M56.7 387.4h0.9M57.6 403.0h0.9M95.6 401.1h0.9M72.6 411.9h0.9M82.3 408.7h0.9M88.2 387.6h0.9M57.8 389.5h0.9M64.2 410.0h0.9M93.8 378.5h0.9M81.4 400.5h0.9M75.2 386.6h0.9M100.7 412.7h0.9M90.3 413.9h0.9M97.5 416.8h0.9M90.9 406.6h0.9M55.9 390.5h0.9" stroke="#5c78c0" stroke-width="0.9" opacity="0.5"/>
<path d="M70.3 411.1h0.9M56.9 408.9h0.9M74.3 381.1h0.9M72.2 388.6h0.9M85.4 388.0h0.9M66.4 412.6h0.9M73.2 410.8h0.9M61.6 393.2h0.9M63.3 387.5h0.9M78.0 415.2h0.9M77.9 415.4h0.9M70.5 379.3h0.9M92.7 389.4h0.9M68.5 406.8h0.9M99.9 400.2h0.9M78.4 386.8h0.9M58.4 392.4h0.9M64.9 400.6h0.9M61.3 387.9h0.9M67.7 377.6h0.9M91.0 392.4h0.9M87.0 409.0h0.9M87.5 399.7h0.9M64.2 403.6h0.9M70.5 388.4h0.9M92.5 415.8h0.9M93.3 416.8h0.9M82.6 413.7h0.9M83.4 416.4h0.9M64.2 384.7h0.9M59.6 394.0h0.9M99.3 401.8h0.9M68.2 405.0h0.9M69.8 403.3h0.9M88.0 408.3h0.9M81.6 394.7h0.9M63.4 380.4h0.9M60.0 392.3h0.9M93.1 415.1h0.9M64.2 408.9h0.9M71.9 393.2h0.9M95.6 402.6h0.9M80.2 417.3h0.9M68.4 389.7h0.9M60.5 389.4h0.9M87.2 379.3h0.9M77.9 383.5h0.9M78.1 378.8h0.9M84.8 397.6h0.9M93.9 387.1h0.9M62.1 402.3h0.9M69.5 418.8h0.9M84.3 414.7h0.9M82.4 407.4h0.9M66.7 399.6h0.9M64.9 406.1h0.9M75.4 417.5h0.9M82.1 408.9h0.9M60.2 420.3h0.9M89.8 387.8h0.9M86.0 407.3h0.9M70.7 389.4h0.9M59.2 382.2h0.9M70.8 388.7h0.9M64.5 415.6h0.9M64.6 393.8h0.9M60.4 394.9h0.9M58.4 385.2h0.9M93.7 402.7h0.9M83.4 400.0h0.9M82.2 383.6h0.9M57.3 401.5h0.9M65.6 377.2h0.9M93.6 403.8h0.9M89.2 389.4h0.9M64.0 410.7h0.9M63.8 389.5h0.9M97.7 406.1h0.9M90.4 413.1h0.9M60.3 381.5h0.9M66.7 417.0h0.9M95.4 381.4h0.9M79.1 378.9h0.9M76.5 413.0h0.9M75.4 388.1h0.9M63.9 411.2h0.9M78.5 377.7h0.9M64.9 380.5h0.9M75.6 383.0h0.9M73.3 383.0h0.9M99.9 409.5h0.9M57.3 408.1h0.9M60.3 411.5h0.9M80.9 410.3h0.9M75.5 409.1h0.9M72.2 405.9h0.9M67.5 382.7h0.9M86.1 418.1h0.9M82.8 386.6h0.9M64.9 385.9h0.9M75.4 393.6h0.9M69.4 403.2h0.9M75.4 385.6h0.9M59.3 404.6h0.9M62.1 404.5h0.9M60.5 394.0h0.9M69.6 414.6h0.9M62.4 415.9h0.9M69.8 386.0h0.9M77.4 415.9h0.9M81.0 384.5h0.9M97.2 385.3h0.9M91.3 409.9h0.9M97.7 419.0h0.9M84.2 406.5h0.9M92.0 416.0h0.9M69.8 412.8h0.9M80.9 404.0h0.9M72.0 403.4h0.9M74.8 386.9h0.9M82.7 387.0h0.9M75.5 414.4h0.9M87.1 380.6h0.9M98.1 380.6h0.9M65.5 378.0h0.9M93.6 390.0h0.9M58.9 391.5h0.9M83.9 390.7h0.9M56.5 392.4h0.9M83.9 410.8h0.9M96.7 418.1h0.9M79.4 387.4h0.9M70.4 416.0h0.9M83.6 401.7h0.9M90.7 393.7h0.9M73.3 402.1h0.9M62.5 412.3h0.9M89.5 389.5h0.9M85.3 392.1h0.9M62.8 377.6h0.9M69.8 391.7h0.9M92.4 402.1h0.9M97.0 409.1h0.9M68.0 395.7h0.9M94.3 387.1h0.9M63.1 385.3h0.9M86.5 419.9h0.9M94.5 415.1h0.9M67.4 418.0h0.9M71.0 391.4h0.9M70.0 417.1h0.9M70.1 412.3h0.9M66.4 409.6h0.9M96.8 397.5h0.9M86.1 413.3h0.9M65.9 404.7h0.9M68.9 379.6h0.9M59.0 400.8h0.9M60.5 395.4h0.9M84.2 393.3h0.9M89.4 385.6h0.9M89.7 407.3h0.9M64.7 396.5h0.9M55.8 405.3h0.9M64.5 419.1h0.9M57.7 403.7h0.9M73.7 394.7h0.9M91.8 395.6h0.9M86.4 414.6h0.9M93.8 409.8h0.9M99.2 417.3h0.9M75.5 382.3h0.9M60.9 383.1h0.9M85.1 400.0h0.9M77.3 383.6h0.9M73.3 388.7h0.9M58.1 398.1h0.9M64.6 391.4h0.9M74.8 394.5h0.9M65.1 409.8h0.9M98.0 403.6h0.9M96.6 416.3h0.9M56.7 408.3h0.9M99.4 388.6h0.9M88.0 401.7h0.9M98.9 399.1h0.9M94.5 396.9h0.9M58.0 399.7h0.9M72.8 379.4h0.9M69.1 385.0h0.9M95.6 416.2h0.9M79.5 416.8h0.9M73.3 405.7h0.9M85.9 419.8h0.9M86.6 389.0h0.9M79.1 412.0h0.9M90.4 387.5h0.9M97.8 400.2h0.9M91.8 418.8h0.9M92.5 383.8h0.9M75.6 381.2h0.9M65.1 381.1h0.9M66.4 380.9h0.9M87.6 419.3h0.9M87.5 414.3h0.9M83.6 398.4h0.9M75.3 377.9h0.9M89.0 382.5h0.9M95.1 388.2h0.9M76.3 404.3h0.9M75.5 395.9h0.9M99.9 412.5h0.9M62.7 406.0h0.9M88.4 389.5h0.9M60.5 400.6h0.9M72.7 395.7h0.9M84.8 380.5h0.9M81.5 414.1h0.9M91.1 408.2h0.9M63.3 390.5h0.9M70.1 420.3h0.9M93.4 401.3h0.9M65.7 407.7h0.9M96.7 419.4h0.9M95.8 387.5h0.9M99.2 407.8h0.9M91.1 383.1h0.9M97.1 416.6h0.9M85.8 406.8h0.9M80.7 391.7h0.9M91.6 408.7h0.9M86.7 402.6h0.9M91.7 396.3h0.9M89.8 408.0h0.9M96.3 395.1h0.9M97.9 386.2h0.9M78.6 399.0h0.9M97.7 406.1h0.9M69.8 383.9h0.9M77.2 393.3h0.9M70.3 393.5h0.9M83.2 406.8h0.9M60.2 381.4h0.9M88.3 396.7h0.9M91.9 384.2h0.9M94.1 408.7h0.9M83.3 418.0h0.9M62.9 402.5h0.9M99.5 382.8h0.9M66.6 409.4h0.9M66.8 409.6h0.9M55.6 381.4h0.9M82.9 389.8h0.9M88.8 406.0h0.9M80.5 378.4h0.9M73.8 381.3h0.9M74.9 390.1h0.9M64.8 388.8h0.9M97.6 387.6h0.9M92.5 381.3h0.9M84.2 394.9h0.9M73.4 383.9h0.9M86.2 389.4h0.9M73.4 391.2h0.9M78.5 385.9h0.9M63.4 412.4h0.9M83.5 411.2h0.9M88.0 389.4h0.9M97.8 401.1h0.9M55.6 403.9h0.9M89.2 378.4h0.9M85.9 393.3h0.9M63.6 398.5h0.9M88.2 412.9h0.9M96.9 396.8h0.9M60.8 408.3h0.9M73.3 404.3h0.9M80.4 397.7h0.9M83.5 408.0h0.9M97.5 401.7h0.9M72.2 403.0h0.9M99.1 391.6h0.9M56.1 379.6h0.9M92.1 419.3h0.9M75.8 382.5h0.9M67.6 398.3h0.9M89.1 403.6h0.9M92.7 420.4h0.9M69.8 392.4h0.9M58.6 419.8h0.9M96.7 393.8h0.9M97.4 411.9h0.9M89.6 409.6h0.9M86.3 401.1h0.9M66.9 395.0h0.9M70.0 404.2h0.9M66.5 414.7h0.9M72.1 381.4h0.9M76.4 420.3h0.9M83.8 391.6h0.9M58.5 379.1h0.9M60.5 415.1h0.9M82.0 404.0h0.9M56.6 394.9h0.9M66.7 411.5h0.9M73.1 387.1h0.9M99.5 378.2h0.9M59.7 406.7h0.9M95.2 391.0h0.9M69.2 384.1h0.9M76.0 405.4h0.9M74.9 376.9h0.9M69.3 404.9h0.9M68.8 407.2h0.9M98.3 395.9h0.9M99.3 377.5h0.9" stroke="#ffffff" stroke-width="0.9" opacity="0.4"/>
<ellipse cx="77.5" cy="398.5" rx="11.700000000000001" ry="19.200000000000003" fill="#6fa2bc" opacity="0.8" filter="url(#b3)"/>
<ellipse cx="82.5" cy="398.5" rx="6.3" ry="12.600000000000001" fill="#8cbf84" opacity="0.9" filter="url(#b2)"/>
<ellipse cx="82.5" cy="399.5" rx="3.375" ry="7.800000000000001" fill="#b8bc58" opacity="0.9" filter="url(#b2)"/>
<path d="M78.1 404.4h0.9M81.7 384.6h0.9M76.8 409.0h0.9M78.4 396.5h0.9M77.3 392.3h0.9M91.0 389.4h0.9M75.7 399.3h0.9M88.7 399.8h0.9M76.7 375.3h0.9M71.2 395.0h0.9M79.6 376.7h0.9M82.7 367.9h0.9M83.7 392.6h0.9M72.1 372.6h0.9M71.4 384.7h0.9M74.6 396.9h0.9M71.5 372.7h0.9M84.7 387.9h0.9M86.9 388.9h0.9M86.6 372.8h0.9M65.7 408.8h0.9M60.0 386.6h0.9M84.0 399.2h0.9M97.6 398.1h0.9M93.1 398.3h0.9M94.9 397.6h0.9M85.6 420.6h0.9M99.9 381.7h0.9M62.6 374.8h0.9M79.9 395.3h0.9M84.8 434.2h0.9M87.5 396.6h0.9M94.6 407.6h0.9M50.7 413.7h0.9M81.0 392.1h0.9M67.1 394.2h0.9M100.3 400.6h0.9M69.6 406.0h0.9M65.3 415.1h0.9M84.9 395.7h0.9M85.5 381.7h0.9M75.6 397.7h0.9M79.9 430.5h0.9M84.4 382.4h0.9M77.3 387.6h0.9M83.5 373.0h0.9M88.3 389.0h0.9M87.1 419.4h0.9M88.4 378.7h0.9M73.9 371.6h0.9M74.9 393.2h0.9M89.1 399.5h0.9M82.8 387.1h0.9M69.5 394.5h0.9M70.8 390.1h0.9M74.2 416.6h0.9M75.3 435.2h0.9M87.4 392.9h0.9M81.7 424.3h0.9M62.5 412.1h0.9M95.5 402.8h0.9M64.3 376.5h0.9M82.8 400.5h0.9M89.0 376.1h0.9M79.6 419.9h0.9M84.1 383.7h0.9M76.5 392.7h0.9M99.3 424.9h0.9M75.3 396.6h0.9M80.0 404.6h0.9M77.2 392.3h0.9M71.8 409.4h0.9M86.8 396.3h0.9M77.5 416.6h0.9M81.3 355.8h0.9M75.3 395.8h0.9M80.5 393.0h0.9M70.4 404.0h0.9M83.0 384.3h0.9M77.7 398.9h0.9M75.6 448.2h0.9M81.8 399.7h0.9M69.7 384.0h0.9M80.1 407.2h0.9M73.3 392.0h0.9M75.0 407.5h0.9M88.6 375.6h0.9M84.7 384.9h0.9M69.5 409.8h0.9M87.9 435.9h0.9M80.9 426.6h0.9M76.0 390.8h0.9M88.0 381.5h0.9M80.1 410.4h0.9M62.6 402.9h0.9M86.2 366.6h0.9M70.2 406.0h0.9M72.3 383.9h0.9M61.0 424.4h0.9M81.6 393.7h0.9M77.9 402.3h0.9M77.7 403.4h0.9M87.6 389.6h0.9M82.2 411.2h0.9M73.2 389.4h0.9M83.7 402.0h0.9M70.8 397.4h0.9M71.5 411.0h0.9M82.8 389.7h0.9M81.9 415.4h0.9M73.5 376.7h0.9M77.4 427.4h0.9M93.4 398.6h0.9M80.6 408.5h0.9M97.6 425.8h0.9M58.9 421.1h0.9M86.5 391.8h0.9M80.0 389.1h0.9M54.9 392.8h0.9M75.9 372.8h0.9M78.6 394.9h0.9M80.9 392.3h0.9M64.1 407.3h0.9M71.3 377.1h0.9M87.1 396.0h0.9M94.1 407.3h0.9M53.8 418.2h0.9M71.0 395.2h0.9M76.0 385.1h0.9M84.9 391.2h0.9M72.1 395.1h0.9M83.8 388.4h0.9M80.1 403.1h0.9M98.4 388.1h0.9M74.7 402.9h0.9M81.0 417.8h0.9M84.0 402.0h0.9M91.0 404.5h0.9M83.5 408.5h0.9M88.9 387.3h0.9M79.4 424.2h0.9M85.1 373.2h0.9M86.1 393.8h0.9M70.6 388.5h0.9M80.5 390.6h0.9M99.4 391.7h0.9M77.0 416.6h0.9M67.5 391.5h0.9M73.9 401.4h0.9M91.1 388.6h0.9M93.7 385.8h0.9M79.7 409.2h0.9M82.5 409.8h0.9M79.5 418.8h0.9M83.2 414.3h0.9M73.8 371.2h0.9M57.3 412.7h0.9M68.6 420.5h0.9M84.6 364.9h0.9M60.8 391.6h0.9M81.0 386.4h0.9M77.7 372.3h0.9M70.9 409.7h0.9M67.3 402.4h0.9M51.3 386.3h0.9M77.6 370.6h0.9M56.0 380.0h0.9M78.9 408.5h0.9M90.5 380.7h0.9M94.6 406.1h0.9M74.8 381.8h0.9M74.8 409.7h0.9M80.6 397.8h0.9M79.3 395.7h0.9M77.4 400.9h0.9M72.2 375.7h0.9M64.9 402.0h0.9M98.3 402.5h0.9M83.7 416.4h0.9M66.6 410.1h0.9M89.5 391.3h0.9M81.3 409.3h0.9M76.9 415.1h0.9M103.0 374.8h0.9M70.6 373.4h0.9M85.0 397.8h0.9M89.6 430.4h0.9M87.7 368.9h0.9M72.9 409.4h0.9M83.4 396.9h0.9M71.1 390.9h0.9M97.7 404.4h0.9M66.3 385.8h0.9M75.0 393.8h0.9M75.8 403.6h0.9M79.4 420.8h0.9M77.4 389.5h0.9M77.1 396.3h0.9M73.7 373.2h0.9M69.7 426.2h0.9M73.7 417.5h0.9M82.2 419.8h0.9M74.9 388.3h0.9M73.6 388.1h0.9M73.6 424.6h0.9M102.5 391.9h0.9M81.0 398.1h0.9M81.9 404.9h0.9M83.8 418.8h0.9M85.9 384.4h0.9M85.0 384.0h0.9M89.9 402.4h0.9M86.5 392.3h0.9M61.5 389.9h0.9M81.4 382.4h0.9M80.0 417.7h0.9M72.1 408.3h0.9M79.9 391.5h0.9M77.9 404.6h0.9M72.8 394.1h0.9M68.8 369.2h0.9M93.3 383.8h0.9M87.4 396.8h0.9M88.2 396.9h0.9M92.9 429.6h0.9M78.5 404.9h0.9M76.7 397.6h0.9M82.9 409.7h0.9M90.3 408.5h0.9M83.6 377.2h0.9M77.1 383.1h0.9M72.2 400.4h0.9M78.8 389.8h0.9M82.2 379.8h0.9M60.9 390.0h0.9M74.4 406.3h0.9M79.5 396.3h0.9M76.4 413.5h0.9M66.2 403.8h0.9M75.7 400.9h0.9M84.9 422.0h0.9M87.4 399.4h0.9M73.3 390.0h0.9M92.5 401.2h0.9M57.4 367.3h0.9M70.3 372.4h0.9M72.6 410.2h0.9M71.1 379.6h0.9M60.4 404.9h0.9M79.0 380.3h0.9M84.2 403.3h0.9M87.2 404.4h0.9M80.0 410.7h0.9M76.9 367.9h0.9M72.4 402.5h0.9M93.9 381.5h0.9M87.6 357.6h0.9M80.3 423.9h0.9M78.2 398.5h0.9M83.8 416.0h0.9M84.9 392.3h0.9M82.0 428.0h0.9M78.7 392.3h0.9M75.3 418.0h0.9M85.9 384.5h0.9M68.9 400.1h0.9M81.5 365.1h0.9M74.9 434.7h0.9M75.4 405.6h0.9M80.5 395.6h0.9M68.5 378.1h0.9M83.3 399.7h0.9M74.2 404.8h0.9M70.8 365.9h0.9M65.6 400.4h0.9M82.5 403.1h0.9M58.7 397.3h0.9M78.9 403.9h0.9M74.5 398.2h0.9M93.4 388.7h0.9M76.5 430.0h0.9M71.2 404.6h0.9M90.7 385.6h0.9M104.8 383.7h0.9M90.3 417.0h0.9M80.3 422.3h0.9M82.9 407.7h0.9M73.7 399.0h0.9M79.3 373.1h0.9M81.7 389.8h0.9M78.5 405.1h0.9M83.9 407.7h0.9M98.4 403.0h0.9M56.7 399.0h0.9M77.5 409.2h0.9M84.3 391.5h0.9M67.0 411.1h0.9M69.5 390.1h0.9M78.7 378.9h0.9M76.5 401.2h0.9M84.4 391.8h0.9M67.7 381.0h0.9M82.9 375.2h0.9M75.8 388.4h0.9M59.7 400.5h0.9M69.3 420.3h0.9M67.3 389.1h0.9M69.7 379.1h0.9M77.4 398.4h0.9M87.7 405.8h0.9M92.7 411.4h0.9M66.9 413.9h0.9M65.4 383.9h0.9M65.3 385.1h0.9M72.2 385.7h0.9M77.3 378.2h0.9" stroke="#5f80bc" stroke-width="0.9" opacity="0.45"/>
</g>
<rect x="53.5" y="369.9" width="62.70" height="62.40" fill="none" stroke="#5a5a5a" stroke-width="0.95"/>
<line x1="53.5" y1="369.4" x2="53.5" y2="432.90000000000003" stroke="#111" stroke-width="1.5"/>
<line x1="53.0" y1="432.3" x2="116.7" y2="432.3" stroke="#111" stroke-width="1.5"/>
<path d="M53.5 369.9 H90.5 C90 385 89.3 396 88.7 405.9 C88 414 86.8 420 85.6 423.8 L80.1 430.6 H53.5" fill="none" stroke="#1e2a36" stroke-width="1.35"/>
<text x="48.9" y="374.90" font-size="6.4" text-anchor="end" fill="#222" letter-spacing="0.1">250K</text>
<text x="48.9" y="386.70" font-size="6.4" text-anchor="end" fill="#222" letter-spacing="0.1">200K</text>
<text x="48.9" y="398.50" font-size="6.4" text-anchor="end" fill="#222" letter-spacing="0.1">150K</text>
<text x="48.9" y="410.30" font-size="6.4" text-anchor="end" fill="#222" letter-spacing="0.1">100K</text>
<text x="48.9" y="422.10" font-size="6.4" text-anchor="end" fill="#222" letter-spacing="0.1">50K</text>
<text x="48.9" y="433.90" font-size="6.4" text-anchor="end" fill="#222" letter-spacing="0.1">0</text>
<path d="M51.9 372.9h1.6M51.9 384.7h1.6M51.9 396.5h1.6M51.9 408.3h1.6M51.9 420.1h1.6M51.9 431.9h1.6" stroke="#111" stroke-width="0.9"/>
<text x="27.7" y="402.1" font-size="8.6" text-anchor="middle" font-weight="normal" fill="#222" transform="rotate(-90 27.7 402.1)" textLength="11.2" lengthAdjust="spacingAndGlyphs" >SSC</text>
<text x="58.8" y="440.8" font-size="6.0" text-anchor="middle" fill="#222" letter-spacing="0.2">−10<tspan dy="-2.4" font-size="4.14">3</tspan></text>
<text x="68.5" y="440.8" font-size="6.0" text-anchor="middle" fill="#222" letter-spacing="0.2">0</text>
<text x="78.5" y="440.8" font-size="6.0" text-anchor="middle" fill="#222" letter-spacing="0.2">10<tspan dy="-2.4" font-size="4.14">3</tspan></text>
<text x="96.5" y="440.8" font-size="6.0" text-anchor="middle" fill="#222" letter-spacing="0.2">10<tspan dy="-2.4" font-size="4.14">4</tspan></text>
<text x="110.5" y="440.8" font-size="6.0" text-anchor="middle" fill="#222" letter-spacing="0.2">10<tspan dy="-2.4" font-size="4.14">5</tspan></text>
<path d="M62.0 432.3v1.6M69.0 432.3v1.6M77.0 432.3v1.6M96.0 432.3v1.6M108.0 432.3v1.6" stroke="#111" stroke-width="0.9"/>
<text x="84.1" y="456" font-size="8.6" text-anchor="middle" font-weight="normal" fill="#222" textLength="16.6" lengthAdjust="spacingAndGlyphs" >CD127</text>
<text x="8.6" y="483.3" font-size="10.8" text-anchor="start" font-weight="bold" fill="#111" >H</text>
<g clip-path="url(#k7)">
<rect x="56.5" y="501" width="38.5" height="48.5" rx="3" fill="#98a8d6" opacity="0.9" filter="url(#b3)"/>
<path d="M65.0 535.3h0.9M83.9 544.3h0.9M61.8 510.6h0.9M60.0 510.3h0.9M86.2 505.1h0.9M77.1 509.7h0.9M66.6 521.5h0.9M90.8 531.2h0.9M54.1 513.0h0.9M60.0 545.5h0.9M89.5 541.9h0.9M90.3 538.6h0.9M95.7 541.3h0.9M64.9 544.3h0.9M75.2 539.1h0.9M78.6 521.4h0.9M69.7 521.4h0.9M67.5 504.4h0.9M90.0 541.5h0.9M97.4 535.7h0.9M78.2 538.8h0.9M59.5 534.9h0.9M73.2 507.6h0.9M62.5 526.5h0.9M64.8 523.0h0.9M80.4 519.6h0.9M59.3 524.8h0.9M64.0 510.8h0.9M62.2 518.0h0.9M56.8 533.5h0.9M95.9 519.2h0.9M85.5 548.8h0.9M55.4 505.7h0.9M89.4 543.7h0.9M81.9 506.7h0.9M71.9 545.3h0.9M92.9 541.8h0.9M62.5 544.5h0.9M70.2 537.0h0.9M59.6 550.9h0.9M80.4 537.4h0.9M62.9 531.6h0.9M79.3 530.2h0.9M69.5 537.7h0.9M68.7 514.1h0.9M60.8 535.3h0.9M58.5 510.3h0.9M56.6 533.1h0.9M78.2 527.6h0.9M55.2 522.0h0.9M68.8 503.1h0.9M53.6 552.4h0.9M58.9 514.4h0.9M65.5 530.6h0.9M56.9 523.6h0.9M69.8 543.5h0.9M53.8 516.2h0.9M75.6 550.9h0.9M76.5 523.8h0.9M83.3 514.2h0.9M54.9 525.3h0.9M94.0 538.2h0.9M65.0 535.3h0.9M91.3 512.1h0.9M79.7 517.4h0.9M64.4 513.7h0.9M62.6 517.1h0.9M55.2 519.7h0.9M57.4 539.3h0.9M80.2 498.2h0.9M87.9 508.4h0.9M74.9 528.2h0.9M68.3 513.8h0.9M72.9 505.5h0.9M91.9 504.1h0.9M90.1 509.9h0.9M67.0 519.2h0.9M55.0 505.0h0.9M69.6 522.1h0.9M92.5 551.9h0.9M55.4 527.2h0.9M59.3 541.8h0.9M67.9 546.7h0.9M77.8 504.8h0.9M53.7 511.5h0.9M92.1 506.2h0.9M74.8 518.3h0.9M68.9 541.7h0.9M63.0 537.2h0.9M83.2 549.0h0.9M76.6 548.2h0.9M73.1 529.2h0.9M81.1 543.8h0.9M93.4 504.3h0.9M59.6 527.1h0.9M89.7 527.1h0.9M66.8 550.4h0.9M66.8 502.7h0.9M55.8 499.7h0.9M85.8 503.8h0.9M85.4 545.2h0.9M98.0 542.1h0.9M72.4 531.9h0.9M90.6 537.0h0.9M66.4 539.5h0.9M58.4 514.8h0.9M97.8 523.7h0.9M65.4 540.8h0.9M73.5 498.2h0.9M54.8 512.1h0.9M68.3 549.1h0.9M64.5 544.3h0.9M91.5 520.7h0.9M97.7 539.5h0.9M75.0 512.2h0.9M74.0 547.2h0.9M77.4 508.6h0.9M70.2 523.9h0.9M62.0 529.2h0.9M55.0 542.8h0.9M61.5 503.6h0.9M79.7 514.7h0.9M92.9 525.1h0.9M76.7 543.5h0.9M63.0 538.6h0.9M82.4 521.4h0.9M96.2 499.2h0.9M91.9 505.8h0.9M90.9 506.4h0.9M55.9 525.3h0.9M94.7 512.0h0.9M75.1 531.1h0.9M64.3 526.9h0.9M53.9 522.5h0.9M87.3 516.5h0.9M63.3 500.8h0.9M84.7 521.3h0.9M94.2 538.4h0.9M58.0 547.8h0.9M95.0 542.5h0.9M90.5 535.1h0.9M85.6 534.4h0.9M79.8 512.0h0.9M59.4 537.6h0.9M80.0 501.1h0.9M82.1 531.2h0.9M76.3 540.2h0.9M92.5 518.8h0.9M89.8 525.2h0.9M78.9 520.6h0.9M95.0 522.2h0.9M95.9 516.4h0.9M83.4 547.7h0.9M83.9 518.5h0.9M57.0 524.1h0.9M71.9 542.4h0.9M88.4 551.7h0.9M73.4 520.4h0.9M78.6 538.9h0.9M57.1 509.7h0.9M60.0 515.7h0.9M66.8 550.8h0.9M62.7 548.9h0.9M66.6 509.1h0.9M96.9 502.9h0.9M58.5 505.0h0.9M56.5 519.1h0.9M63.0 506.7h0.9M54.2 536.1h0.9M55.7 510.6h0.9M78.7 546.2h0.9M82.8 536.6h0.9M84.7 541.4h0.9M91.5 506.4h0.9M55.9 531.8h0.9M76.6 526.4h0.9M88.3 507.5h0.9M84.9 521.2h0.9M72.3 511.3h0.9M66.0 529.6h0.9M78.2 547.4h0.9M66.0 537.0h0.9M57.8 533.5h0.9M60.7 544.7h0.9M96.5 511.9h0.9M89.5 510.0h0.9M67.1 503.6h0.9M73.1 503.7h0.9M84.8 529.4h0.9M72.2 536.7h0.9M63.9 516.1h0.9M69.7 498.1h0.9M93.0 502.8h0.9M58.0 541.5h0.9M89.9 522.4h0.9M72.3 505.6h0.9M53.6 526.4h0.9M64.3 506.2h0.9M93.8 499.1h0.9M69.6 539.0h0.9M86.7 503.8h0.9M86.5 528.7h0.9M81.5 549.4h0.9M89.0 530.7h0.9M87.8 524.8h0.9M78.0 542.5h0.9M81.1 518.5h0.9M54.4 541.0h0.9M68.6 521.4h0.9M66.3 528.3h0.9M71.3 543.5h0.9M79.9 528.4h0.9M88.3 522.0h0.9M77.4 538.9h0.9M85.7 538.5h0.9M93.1 528.4h0.9M78.2 508.3h0.9M64.2 521.7h0.9M75.7 547.0h0.9M55.4 517.1h0.9M86.4 523.0h0.9M91.3 506.7h0.9M87.8 521.5h0.9M78.8 501.1h0.9M71.4 541.8h0.9M86.2 528.7h0.9M72.3 500.1h0.9M84.6 522.3h0.9M85.7 531.4h0.9M71.4 545.7h0.9M59.4 550.3h0.9M57.3 550.8h0.9M79.6 522.4h0.9M95.1 525.9h0.9M76.1 501.3h0.9M89.0 532.8h0.9M64.2 504.2h0.9M72.2 549.0h0.9M92.2 523.4h0.9M55.1 543.2h0.9M62.5 537.8h0.9M75.7 550.5h0.9M60.1 541.3h0.9M85.6 498.9h0.9M78.7 514.1h0.9M84.4 550.4h0.9M83.1 524.9h0.9M80.4 511.5h0.9M74.3 504.3h0.9M85.6 501.6h0.9M77.0 507.8h0.9M78.6 501.1h0.9M54.7 532.1h0.9M85.5 546.4h0.9M83.6 552.3h0.9M59.9 532.3h0.9M81.8 507.6h0.9M59.7 511.1h0.9M76.8 540.9h0.9M85.1 529.2h0.9M56.9 537.3h0.9M76.3 507.2h0.9M81.0 511.4h0.9M67.2 522.6h0.9M86.9 503.8h0.9M73.2 510.8h0.9M83.4 542.5h0.9M65.3 537.2h0.9M74.1 509.9h0.9M65.8 527.3h0.9M89.4 530.8h0.9M53.5 540.6h0.9M79.3 521.0h0.9M64.2 522.0h0.9M84.3 512.8h0.9M59.7 545.9h0.9M73.2 501.8h0.9M93.1 504.0h0.9M69.7 531.7h0.9M83.1 547.0h0.9M61.3 529.0h0.9M92.6 523.5h0.9M85.3 523.4h0.9M85.4 550.2h0.9M68.6 538.2h0.9M68.8 546.4h0.9M87.5 544.8h0.9M92.4 530.4h0.9M95.8 506.5h0.9M79.0 502.1h0.9M79.5 535.4h0.9M66.2 542.3h0.9M72.1 508.8h0.9M62.1 529.5h0.9M70.6 500.6h0.9M67.1 551.1h0.9M74.5 535.2h0.9M72.5 501.9h0.9M80.7 509.5h0.9M58.9 531.6h0.9M83.6 498.6h0.9M95.6 499.1h0.9M60.9 515.9h0.9M89.0 538.5h0.9M86.6 521.4h0.9M94.1 505.3h0.9M96.3 500.7h0.9M60.3 538.9h0.9M87.8 534.7h0.9M64.6 545.2h0.9M76.4 509.2h0.9M57.8 551.9h0.9M56.0 510.0h0.9M69.4 546.7h0.9M90.5 543.9h0.9M81.6 498.6h0.9M86.3 508.4h0.9M95.7 550.9h0.9M56.4 537.9h0.9M64.3 503.7h0.9M92.4 522.1h0.9M66.6 528.5h0.9M56.4 521.1h0.9M82.4 545.1h0.9M59.0 546.7h0.9M58.2 509.3h0.9M68.3 507.2h0.9M57.6 533.7h0.9M71.2 508.3h0.9M76.4 504.8h0.9M83.8 550.5h0.9M74.3 521.0h0.9M71.2 518.0h0.9M71.9 507.7h0.9M66.7 535.6h0.9M74.8 501.7h0.9M60.0 543.8h0.9M69.2 543.2h0.9M81.0 532.1h0.9M69.3 529.6h0.9M72.0 526.2h0.9M95.5 503.9h0.9M63.0 547.2h0.9M94.8 542.3h0.9M91.8 503.7h0.9M85.5 504.8h0.9M91.2 519.6h0.9M75.3 526.3h0.9M62.7 528.9h0.9M91.9 522.5h0.9M73.0 518.0h0.9M62.0 513.5h0.9M90.8 550.6h0.9M70.2 513.7h0.9M68.5 545.1h0.9M65.2 507.9h0.9M67.5 502.7h0.9M60.0 510.6h0.9M82.5 548.6h0.9M65.0 514.0h0.9M79.6 499.6h0.9M57.5 529.3h0.9M74.2 517.1h0.9M72.0 499.1h0.9M65.1 507.7h0.9M64.1 501.8h0.9M89.8 498.9h0.9M71.9 507.4h0.9M62.6 539.4h0.9M96.3 550.6h0.9M68.2 527.5h0.9M72.7 502.4h0.9M72.3 531.3h0.9M71.2 540.8h0.9M73.4 514.0h0.9M93.3 529.1h0.9M64.9 547.3h0.9M74.8 530.9h0.9M74.3 544.8h0.9M86.1 522.1h0.9M69.8 540.1h0.9M90.8 530.8h0.9M92.3 526.8h0.9M72.0 515.3h0.9M65.5 506.3h0.9M94.6 528.1h0.9M57.2 509.4h0.9M72.4 541.9h0.9M91.6 539.4h0.9M66.5 521.3h0.9M95.7 519.1h0.9M82.4 500.7h0.9M74.9 525.6h0.9M94.0 550.4h0.9M87.0 516.1h0.9M92.3 547.9h0.9M56.9 521.1h0.9M78.0 514.6h0.9M64.2 540.8h0.9M62.8 528.2h0.9M54.4 523.2h0.9M96.4 498.2h0.9M58.3 547.1h0.9M94.2 525.6h0.9M66.6 514.2h0.9M86.1 529.6h0.9M73.4 535.7h0.9M57.9 519.2h0.9M92.6 547.7h0.9M75.1 540.6h0.9M92.9 526.4h0.9M59.9 503.7h0.9M83.4 516.6h0.9M76.9 500.3h0.9M95.7 513.1h0.9M81.7 531.9h0.9M69.3 509.4h0.9M78.5 515.8h0.9M56.9 507.6h0.9M55.2 546.9h0.9M62.5 548.1h0.9M81.0 550.1h0.9M74.4 511.9h0.9M57.3 531.9h0.9M84.4 535.0h0.9M94.0 503.4h0.9M82.2 536.3h0.9M95.4 511.7h0.9M94.9 499.4h0.9M79.7 515.9h0.9M76.6 507.5h0.9M70.6 517.0h0.9M74.1 520.1h0.9M63.2 507.2h0.9M74.3 552.0h0.9M91.3 506.2h0.9M81.7 506.0h0.9M68.0 552.3h0.9M68.6 503.6h0.9M78.5 530.0h0.9M76.2 549.6h0.9M76.3 517.8h0.9M62.8 529.7h0.9M86.6 525.4h0.9M70.9 511.7h0.9M91.1 552.0h0.9M79.5 536.7h0.9M67.9 506.6h0.9M56.0 531.6h0.9M94.3 535.6h0.9M83.4 544.8h0.9M71.8 521.4h0.9M65.1 543.3h0.9M84.2 526.6h0.9M88.2 547.7h0.9M55.5 510.0h0.9M74.3 536.9h0.9M64.3 522.1h0.9M83.0 514.0h0.9M83.3 501.3h0.9M71.9 532.8h0.9M91.9 525.9h0.9M83.1 534.2h0.9M82.3 522.6h0.9M67.6 505.0h0.9M93.0 540.3h0.9M82.5 539.0h0.9M67.5 507.6h0.9M77.2 523.5h0.9M82.4 545.6h0.9M71.0 518.4h0.9M84.9 546.1h0.9M78.7 530.4h0.9M93.2 548.2h0.9M55.5 551.1h0.9M57.7 528.1h0.9M75.7 551.4h0.9M63.9 500.4h0.9M96.2 522.9h0.9M73.9 521.3h0.9M65.8 499.6h0.9M78.3 509.8h0.9M75.7 552.3h0.9M97.3 514.8h0.9M68.4 504.7h0.9M80.5 507.8h0.9M59.1 547.9h0.9M78.4 546.5h0.9M63.1 507.6h0.9M79.2 535.7h0.9M61.4 525.4h0.9M78.5 525.2h0.9M67.5 522.3h0.9M58.4 503.4h0.9M56.1 543.4h0.9M64.6 534.8h0.9M58.6 546.2h0.9M54.8 541.9h0.9M77.2 547.5h0.9M93.1 498.7h0.9M55.8 511.6h0.9M55.5 545.1h0.9M59.9 534.8h0.9M95.6 536.3h0.9M97.8 533.3h0.9M70.8 551.1h0.9M63.1 528.2h0.9M72.0 527.7h0.9M66.8 550.3h0.9M97.6 536.1h0.9M75.6 549.8h0.9M95.7 500.6h0.9M92.9 503.9h0.9M57.7 511.8h0.9M70.0 524.4h0.9M96.0 506.1h0.9M82.3 525.4h0.9M59.1 552.3h0.9M94.2 516.8h0.9M92.2 522.6h0.9M83.5 548.6h0.9M81.9 517.7h0.9M55.8 523.4h0.9M79.2 512.9h0.9M79.2 498.9h0.9M64.7 524.2h0.9M75.0 536.5h0.9M63.8 513.3h0.9M86.1 513.4h0.9M60.2 531.9h0.9M69.1 530.1h0.9M96.6 550.9h0.9M88.7 551.0h0.9M88.8 517.6h0.9M95.0 504.9h0.9M62.8 525.6h0.9M59.0 530.9h0.9M77.8 509.4h0.9M86.6 502.6h0.9M75.2 513.0h0.9M95.2 505.9h0.9M70.4 536.9h0.9M67.0 543.1h0.9M58.5 502.1h0.9M54.1 528.3h0.9M74.8 527.2h0.9M74.5 545.8h0.9M63.1 506.0h0.9M64.5 543.4h0.9M89.6 504.2h0.9M53.5 551.9h0.9M96.6 513.0h0.9M77.2 500.6h0.9M76.2 507.4h0.9M83.9 506.5h0.9M78.6 515.9h0.9M74.9 549.8h0.9M76.8 551.1h0.9M85.6 510.4h0.9M64.8 542.5h0.9M88.1 505.8h0.9M89.5 514.2h0.9M78.7 546.6h0.9M94.4 507.5h0.9M59.8 512.5h0.9M80.4 550.6h0.9M82.6 539.6h0.9M90.1 523.9h0.9M70.2 541.5h0.9M81.1 546.2h0.9M97.9 523.4h0.9M68.8 505.0h0.9M79.5 515.2h0.9M67.5 525.6h0.9M85.9 535.1h0.9M74.0 533.5h0.9M81.4 547.8h0.9M83.9 544.2h0.9M64.2 544.4h0.9M53.8 542.4h0.9M54.1 531.2h0.9M65.7 506.9h0.9M86.6 505.5h0.9M83.8 502.5h0.9M62.8 519.6h0.9M78.9 533.9h0.9M69.5 545.2h0.9M54.8 508.5h0.9M71.0 531.4h0.9M82.6 546.3h0.9M69.1 532.9h0.9M84.2 506.7h0.9M69.9 522.1h0.9M80.2 526.8h0.9M59.7 509.1h0.9M68.1 502.7h0.9M87.8 546.8h0.9M86.2 510.0h0.9M79.7 499.8h0.9M62.9 511.9h0.9M80.1 529.7h0.9M77.6 506.8h0.9M75.9 538.7h0.9M92.3 518.1h0.9M73.5 545.5h0.9M55.5 530.9h0.9M58.0 541.8h0.9M83.6 501.9h0.9M55.4 549.3h0.9M67.2 529.7h0.9M79.3 518.8h0.9M57.9 537.5h0.9M68.4 521.3h0.9M89.2 549.1h0.9M66.2 516.2h0.9M88.0 522.5h0.9M93.2 518.3h0.9M55.9 513.5h0.9M93.5 529.5h0.9M96.9 542.8h0.9M83.8 507.8h0.9M72.0 499.1h0.9M68.4 509.9h0.9M95.2 506.5h0.9M68.9 499.3h0.9M60.3 535.9h0.9M71.5 525.5h0.9M90.0 535.9h0.9M62.9 538.7h0.9M83.9 530.1h0.9M75.8 547.9h0.9M80.2 501.3h0.9M90.9 534.0h0.9M65.4 540.1h0.9M95.0 538.0h0.9M74.7 543.1h0.9M57.1 500.9h0.9M71.5 526.3h0.9M82.1 533.9h0.9M76.6 518.3h0.9M86.1 528.4h0.9M62.7 529.4h0.9M73.9 541.3h0.9M84.8 551.7h0.9M87.5 525.9h0.9M83.3 514.0h0.9M78.1 552.0h0.9M58.9 521.2h0.9M72.7 536.9h0.9M61.9 535.3h0.9M58.5 550.5h0.9M57.1 533.2h0.9M86.8 528.2h0.9M65.5 517.7h0.9M93.2 523.0h0.9M78.5 550.1h0.9M75.0 542.4h0.9M80.2 543.2h0.9M81.3 505.3h0.9M63.6 513.1h0.9M63.3 530.2h0.9M72.1 517.9h0.9M54.4 551.8h0.9M75.1 509.4h0.9M83.0 503.0h0.9M60.0 549.4h0.9M83.2 517.5h0.9M59.4 537.6h0.9M64.2 515.8h0.9M66.0 532.3h0.9M64.3 501.0h0.9M91.3 526.9h0.9M59.1 501.4h0.9M94.1 525.8h0.9M78.0 547.1h0.9M54.6 503.8h0.9M62.7 536.1h0.9M58.5 528.7h0.9M88.8 519.9h0.9M83.1 500.3h0.9M75.0 518.4h0.9M83.5 519.4h0.9M82.9 547.0h0.9M95.0 542.3h0.9M84.9 550.5h0.9M72.6 499.1h0.9M89.3 517.6h0.9M68.4 549.7h0.9M71.3 505.3h0.9M93.8 498.2h0.9M55.8 536.1h0.9M61.2 537.3h0.9M53.6 513.9h0.9M71.1 532.2h0.9M86.6 534.9h0.9M62.1 544.5h0.9M55.9 522.0h0.9M55.7 539.9h0.9M74.5 522.0h0.9M95.1 511.2h0.9M82.6 536.0h0.9M56.7 540.0h0.9M68.7 537.8h0.9M87.0 516.3h0.9M71.1 520.4h0.9M58.0 528.9h0.9M85.8 550.3h0.9M73.3 527.9h0.9M82.0 539.6h0.9M83.0 550.2h0.9M91.0 550.6h0.9M73.2 527.8h0.9M61.0 526.0h0.9M76.3 517.4h0.9M95.0 545.9h0.9M90.0 514.3h0.9M79.3 544.7h0.9M70.9 529.9h0.9M62.0 549.3h0.9M79.0 522.5h0.9M91.7 512.8h0.9M77.1 520.3h0.9M93.4 525.3h0.9M95.6 542.8h0.9M58.5 530.0h0.9M75.3 506.3h0.9M92.5 542.5h0.9M96.7 524.6h0.9M59.9 533.7h0.9M90.8 512.8h0.9M87.3 524.3h0.9M70.7 551.6h0.9M84.6 550.9h0.9M88.0 543.2h0.9M62.9 538.6h0.9M57.9 539.8h0.9M84.1 519.8h0.9M79.4 550.5h0.9M83.9 514.2h0.9M96.4 540.6h0.9M67.0 520.7h0.9M68.8 522.2h0.9M90.8 518.7h0.9M95.5 514.7h0.9M69.3 514.0h0.9M88.6 504.0h0.9M60.5 542.1h0.9M86.6 506.4h0.9M72.3 501.2h0.9M91.1 545.8h0.9M55.3 540.8h0.9M64.5 551.6h0.9M60.3 549.5h0.9M66.6 528.2h0.9M77.9 541.4h0.9M69.2 540.6h0.9M89.1 533.9h0.9M55.8 522.5h0.9M63.3 552.2h0.9M72.2 546.1h0.9M72.1 512.1h0.9M62.0 537.1h0.9M58.0 523.9h0.9M77.1 550.0h0.9M90.6 501.8h0.9M69.4 521.4h0.9M88.0 503.7h0.9M84.4 513.9h0.9M80.5 517.8h0.9M61.1 544.5h0.9M90.8 517.5h0.9M70.0 509.5h0.9M69.1 520.6h0.9M58.9 548.1h0.9M73.3 512.0h0.9M65.1 506.8h0.9M74.6 520.6h0.9M88.8 515.7h0.9M63.1 507.2h0.9M85.0 506.7h0.9M60.3 502.6h0.9M77.7 516.1h0.9M86.7 517.8h0.9M91.1 511.3h0.9M70.4 540.1h0.9M92.2 542.0h0.9M83.8 524.7h0.9M72.5 548.5h0.9M68.4 520.5h0.9M84.0 527.7h0.9M93.9 516.0h0.9M90.3 538.7h0.9M59.6 547.8h0.9M84.6 548.7h0.9M76.9 546.0h0.9M77.3 547.0h0.9M89.2 508.7h0.9M92.8 506.9h0.9M76.2 516.7h0.9M73.1 513.5h0.9M67.1 538.3h0.9M71.3 526.1h0.9M60.1 506.7h0.9M84.2 520.2h0.9M78.7 547.6h0.9M57.5 512.1h0.9M91.1 535.4h0.9M89.3 506.3h0.9M72.6 544.4h0.9M96.6 536.8h0.9M96.6 516.7h0.9M83.2 548.8h0.9M60.8 531.3h0.9M67.5 526.6h0.9M92.7 521.8h0.9M58.9 525.9h0.9M79.6 513.0h0.9M89.3 514.2h0.9M74.7 528.4h0.9M54.7 547.0h0.9M81.3 513.3h0.9M94.2 539.8h0.9M80.0 525.1h0.9M84.2 510.2h0.9M73.8 499.3h0.9M55.9 530.7h0.9M77.0 544.1h0.9M81.9 538.3h0.9M83.3 519.6h0.9M85.9 507.6h0.9M96.7 531.6h0.9M73.0 534.9h0.9M73.2 514.4h0.9M81.6 550.6h0.9M79.7 546.4h0.9M70.9 550.2h0.9M94.8 539.4h0.9M57.3 547.5h0.9M78.6 523.1h0.9M89.8 529.6h0.9M90.5 528.9h0.9M61.3 549.1h0.9M63.3 526.1h0.9M63.6 501.8h0.9M75.5 520.1h0.9M58.2 543.5h0.9M78.5 530.8h0.9M60.4 517.0h0.9M86.4 531.4h0.9M71.0 516.3h0.9M93.7 524.2h0.9M62.9 534.7h0.9M82.0 536.6h0.9M65.5 523.0h0.9M68.9 500.3h0.9M74.8 533.0h0.9M75.7 547.3h0.9M66.9 535.7h0.9M90.0 537.6h0.9M60.5 550.9h0.9M61.7 499.9h0.9M79.9 514.1h0.9M68.4 506.3h0.9M89.4 500.0h0.9M67.8 551.9h0.9M59.1 536.2h0.9M81.7 517.5h0.9M81.3 506.9h0.9M90.5 544.1h0.9M84.3 500.0h0.9M68.0 506.7h0.9M97.0 498.8h0.9M87.7 549.5h0.9M94.8 510.3h0.9M92.5 504.6h0.9M72.8 538.7h0.9M73.2 510.4h0.9M80.7 519.3h0.9M91.1 542.8h0.9M57.2 542.8h0.9M63.0 509.6h0.9M97.5 549.5h0.9M79.0 546.4h0.9M79.9 511.8h0.9M76.3 534.0h0.9M58.4 515.9h0.9M87.4 533.3h0.9M56.7 505.4h0.9M96.9 504.9h0.9M92.7 538.3h0.9M66.5 512.8h0.9M70.6 505.0h0.9M61.9 552.0h0.9M75.6 543.7h0.9M88.9 509.5h0.9M86.7 542.2h0.9M57.2 517.4h0.9M70.8 528.4h0.9M78.4 523.0h0.9M93.4 551.3h0.9M74.5 546.4h0.9M64.0 547.6h0.9M55.5 537.4h0.9M79.6 535.6h0.9M66.7 533.5h0.9M73.8 510.3h0.9M72.9 534.3h0.9M97.6 545.6h0.9M84.5 523.6h0.9M84.5 510.9h0.9M69.8 542.7h0.9M67.9 501.0h0.9M55.8 499.7h0.9M85.6 501.0h0.9M90.0 522.2h0.9M76.3 518.4h0.9M86.8 537.8h0.9M82.6 527.9h0.9M65.5 528.3h0.9M73.2 525.7h0.9M96.7 528.1h0.9M89.8 524.0h0.9M72.6 545.5h0.9M64.4 539.9h0.9M85.7 511.0h0.9M61.4 545.5h0.9M93.8 522.8h0.9M61.8 509.4h0.9M78.6 510.7h0.9M56.0 533.4h0.9M93.0 502.1h0.9M95.0 500.0h0.9M62.6 505.3h0.9M74.2 514.4h0.9M75.1 509.9h0.9M76.3 536.7h0.9M69.8 509.4h0.9M85.0 536.6h0.9M86.8 552.2h0.9M69.2 530.3h0.9M79.6 520.5h0.9M73.5 521.7h0.9M71.0 521.9h0.9M88.5 532.3h0.9M93.3 547.0h0.9M67.5 511.3h0.9M76.9 547.5h0.9M59.5 518.4h0.9M75.5 503.3h0.9M92.1 544.5h0.9M67.8 541.1h0.9M62.8 504.1h0.9M82.0 516.2h0.9M70.1 542.5h0.9M87.1 532.8h0.9M92.2 515.5h0.9M91.3 542.6h0.9M78.8 512.1h0.9M73.8 540.4h0.9M95.0 515.2h0.9M82.5 547.3h0.9M95.2 507.1h0.9M74.9 507.9h0.9M88.0 540.0h0.9M95.1 520.8h0.9M85.4 499.4h0.9M63.4 523.4h0.9M77.6 525.7h0.9M78.7 528.8h0.9M83.0 500.5h0.9M89.0 500.2h0.9M54.1 530.6h0.9M53.6 538.5h0.9M70.3 527.7h0.9M93.6 533.6h0.9M87.7 509.5h0.9M72.3 519.1h0.9M63.3 522.3h0.9M69.5 518.6h0.9M54.4 525.5h0.9M70.1 511.3h0.9M91.6 535.3h0.9M63.9 545.4h0.9M89.1 501.3h0.9M57.1 502.1h0.9M94.2 537.4h0.9M78.0 532.6h0.9M96.8 526.0h0.9M55.1 509.2h0.9M64.4 531.3h0.9M65.6 532.8h0.9M55.8 539.4h0.9M59.3 507.1h0.9M87.3 498.8h0.9M58.2 530.7h0.9M91.5 498.1h0.9M59.7 531.3h0.9M66.7 541.1h0.9M67.7 513.0h0.9M82.8 499.5h0.9" stroke="#5c78c0" stroke-width="0.9" opacity="0.5"/>
<path d="M92.5 508.3h0.9M85.7 543.2h0.9M90.2 530.8h0.9M58.7 520.5h0.9M62.4 536.4h0.9M54.9 507.9h0.9M83.9 531.6h0.9M90.7 539.2h0.9M91.3 526.7h0.9M71.8 544.2h0.9M60.8 501.3h0.9M66.1 546.3h0.9M70.7 514.3h0.9M62.0 539.0h0.9M65.1 509.0h0.9M84.6 536.3h0.9M66.7 540.0h0.9M82.8 522.8h0.9M93.9 533.7h0.9M57.6 500.7h0.9M84.7 531.0h0.9M59.1 544.5h0.9M59.8 506.8h0.9M66.6 531.7h0.9M83.7 547.8h0.9M65.6 501.0h0.9M62.4 508.2h0.9M90.5 520.3h0.9M72.2 525.7h0.9M92.8 504.6h0.9M70.6 510.0h0.9M64.5 546.9h0.9M58.9 517.3h0.9M91.8 547.3h0.9M84.1 519.7h0.9M75.6 534.7h0.9M97.0 547.1h0.9M80.5 548.6h0.9M72.5 523.9h0.9M90.8 544.4h0.9M89.2 530.2h0.9M56.8 526.4h0.9M87.0 523.8h0.9M80.0 541.9h0.9M65.5 526.7h0.9M91.6 549.9h0.9M92.8 499.7h0.9M80.8 535.5h0.9M89.8 545.2h0.9M75.0 520.9h0.9M58.5 542.8h0.9M86.3 544.2h0.9M69.7 512.6h0.9M68.7 534.3h0.9M64.6 499.1h0.9M73.0 517.3h0.9M78.6 525.4h0.9M96.7 506.5h0.9M93.5 550.7h0.9M82.6 525.8h0.9M68.3 549.6h0.9M75.1 546.5h0.9M81.1 505.3h0.9M75.3 518.0h0.9M71.6 505.2h0.9M73.5 514.6h0.9M65.2 541.2h0.9M67.8 522.2h0.9M60.1 507.1h0.9M95.5 501.5h0.9M80.3 507.4h0.9M77.9 539.6h0.9M79.6 535.7h0.9M76.7 548.6h0.9M73.3 513.5h0.9M67.1 546.4h0.9M85.0 538.3h0.9M82.8 533.7h0.9M66.5 546.2h0.9M90.6 532.9h0.9M95.8 538.9h0.9M60.9 547.5h0.9M83.6 545.5h0.9M74.8 500.4h0.9M67.9 532.1h0.9M60.2 501.1h0.9M94.9 515.1h0.9M82.4 510.7h0.9M63.2 540.8h0.9M64.7 528.2h0.9M73.7 516.1h0.9M90.0 550.6h0.9M80.1 516.9h0.9M57.4 540.0h0.9M93.8 550.0h0.9M57.1 537.9h0.9M60.7 515.5h0.9M87.4 538.9h0.9M62.9 531.3h0.9M78.1 515.3h0.9M93.7 538.6h0.9M58.3 502.0h0.9M80.0 516.3h0.9M79.4 539.2h0.9M75.9 533.4h0.9M94.1 538.3h0.9M73.3 536.2h0.9M96.6 524.9h0.9M88.0 526.7h0.9M58.1 537.0h0.9M60.7 547.1h0.9M90.2 533.8h0.9M95.4 501.2h0.9M87.9 547.7h0.9M66.5 519.6h0.9M56.9 537.2h0.9M55.3 533.2h0.9M76.9 534.3h0.9M85.2 550.4h0.9M83.3 545.6h0.9M58.1 525.9h0.9M82.8 550.2h0.9M66.6 545.0h0.9M78.4 546.9h0.9M70.2 515.5h0.9M90.8 530.9h0.9M82.1 530.8h0.9M89.4 517.7h0.9M57.0 545.2h0.9M81.0 502.5h0.9M95.3 547.5h0.9M77.9 515.6h0.9M86.2 541.1h0.9M90.6 529.2h0.9M88.0 549.5h0.9M84.4 521.0h0.9M60.6 512.7h0.9M77.7 548.9h0.9M59.2 531.1h0.9M90.7 518.9h0.9M73.0 539.2h0.9M70.5 499.3h0.9M68.5 501.7h0.9M94.4 521.3h0.9M91.7 506.4h0.9M69.7 535.3h0.9M59.9 521.1h0.9M72.6 500.0h0.9M68.4 550.1h0.9M73.5 502.9h0.9M83.6 516.7h0.9M74.2 544.5h0.9M62.2 504.5h0.9M70.1 525.7h0.9M75.7 521.5h0.9M92.2 539.9h0.9M87.8 537.7h0.9M70.4 525.1h0.9M73.0 519.6h0.9M86.9 515.9h0.9M71.8 505.7h0.9M63.6 520.4h0.9M92.0 512.1h0.9M81.9 525.9h0.9M55.0 500.7h0.9M68.6 534.6h0.9M59.9 506.4h0.9M64.2 522.1h0.9M57.4 539.5h0.9M73.1 543.7h0.9M88.6 549.6h0.9M58.8 544.8h0.9M74.1 523.4h0.9M87.8 499.8h0.9M67.7 541.5h0.9M55.4 540.1h0.9M77.8 499.4h0.9M57.6 515.1h0.9M82.7 547.1h0.9M86.3 500.8h0.9M80.8 526.4h0.9M73.8 516.7h0.9M90.2 532.7h0.9M95.5 508.7h0.9M69.7 506.7h0.9M64.2 507.4h0.9M82.4 516.1h0.9M88.7 532.8h0.9M61.1 518.3h0.9M89.8 538.3h0.9M55.8 549.1h0.9M72.8 548.7h0.9M80.1 536.0h0.9M68.2 507.6h0.9M86.2 520.1h0.9M73.9 531.7h0.9M92.8 505.8h0.9M87.5 546.5h0.9M59.3 505.2h0.9M92.4 549.3h0.9M81.0 540.8h0.9M56.2 524.7h0.9M94.9 506.2h0.9M72.2 506.1h0.9M70.6 499.2h0.9M88.8 508.9h0.9M95.2 509.7h0.9M76.1 516.5h0.9M68.5 504.0h0.9M55.3 551.0h0.9M80.7 507.1h0.9M96.1 513.7h0.9M80.7 519.1h0.9M63.9 520.9h0.9M57.9 521.8h0.9M56.2 520.5h0.9M59.5 541.0h0.9M65.6 503.6h0.9M91.7 546.6h0.9M74.0 502.4h0.9M74.1 550.7h0.9M79.5 501.1h0.9M62.3 549.4h0.9M75.1 525.5h0.9M77.9 529.0h0.9M80.7 520.6h0.9M55.3 519.5h0.9M69.5 540.6h0.9M69.8 550.1h0.9M60.8 528.5h0.9M95.0 534.2h0.9M55.1 521.9h0.9M93.3 509.0h0.9M65.7 544.7h0.9M88.1 513.7h0.9M83.5 525.6h0.9M91.7 500.8h0.9M56.8 543.3h0.9M90.9 522.6h0.9M82.4 500.1h0.9M69.9 509.5h0.9M62.6 525.7h0.9M91.0 502.5h0.9M84.8 507.0h0.9M81.4 529.2h0.9M72.7 501.1h0.9M71.5 544.3h0.9M62.2 536.8h0.9M90.9 517.4h0.9M57.8 514.8h0.9M83.6 528.0h0.9M80.0 506.8h0.9M69.6 536.0h0.9M82.4 518.1h0.9M67.2 500.9h0.9M62.4 525.4h0.9M67.6 509.4h0.9M92.2 521.1h0.9M63.8 516.1h0.9M93.2 516.8h0.9M54.7 519.8h0.9M81.2 522.2h0.9M63.3 525.2h0.9M68.4 514.4h0.9M59.1 509.3h0.9M60.8 536.7h0.9M68.6 534.4h0.9M55.8 542.5h0.9M68.4 526.6h0.9M86.6 536.0h0.9M96.8 516.6h0.9M73.8 535.3h0.9M62.8 538.6h0.9M92.0 523.6h0.9M62.9 519.1h0.9M82.9 515.2h0.9M87.1 507.6h0.9M67.2 525.8h0.9M81.4 519.7h0.9M86.6 528.4h0.9M89.1 501.9h0.9M74.5 519.5h0.9M71.0 543.2h0.9M82.8 512.4h0.9M78.7 509.8h0.9M96.4 507.4h0.9M60.2 502.6h0.9M61.8 511.4h0.9M55.9 526.4h0.9M63.3 546.0h0.9M76.6 506.1h0.9M71.3 546.7h0.9M95.2 527.7h0.9M91.5 534.5h0.9M92.3 550.4h0.9M77.0 506.5h0.9M67.5 513.3h0.9M85.8 537.0h0.9M86.8 517.1h0.9M68.6 528.0h0.9M81.3 502.9h0.9M89.7 548.1h0.9M61.2 517.5h0.9M73.0 537.9h0.9M90.4 531.1h0.9M65.6 546.3h0.9M89.5 502.1h0.9M94.1 527.7h0.9M81.8 515.6h0.9M73.6 549.2h0.9M86.4 524.3h0.9M62.5 547.0h0.9M90.8 549.2h0.9M60.7 535.1h0.9M96.5 523.5h0.9M93.0 530.7h0.9M83.3 523.7h0.9M74.7 540.9h0.9M81.0 542.0h0.9M64.0 505.3h0.9M92.2 501.3h0.9M62.1 523.3h0.9M88.6 501.7h0.9M66.2 530.5h0.9M94.1 517.9h0.9M61.8 523.4h0.9M64.1 517.8h0.9M94.5 513.9h0.9M56.4 500.2h0.9M73.7 504.4h0.9M87.6 536.2h0.9M77.6 542.7h0.9M77.1 512.7h0.9" stroke="#ffffff" stroke-width="0.9" opacity="0.4"/>
<ellipse cx="78.5" cy="527" rx="11.700000000000001" ry="22.400000000000002" fill="#6fa2bc" opacity="0.8" filter="url(#b3)"/>
<ellipse cx="83.5" cy="527" rx="6.3" ry="14.700000000000001" fill="#8cbf84" opacity="0.9" filter="url(#b2)"/>
<ellipse cx="83.5" cy="528" rx="3.375" ry="9.1" fill="#c4c250" opacity="0.9" filter="url(#b2)"/>
<path d="M70.4 505.2h0.9M83.2 486.8h0.9M82.6 535.1h0.9M78.6 531.9h0.9M64.2 533.6h0.9M80.0 521.9h0.9M87.6 518.1h0.9M86.1 518.0h0.9M76.7 540.6h0.9M78.6 528.5h0.9M88.6 541.2h0.9M77.5 513.8h0.9M87.5 526.8h0.9M82.9 580.4h0.9M78.0 513.3h0.9M81.7 523.4h0.9M84.7 527.3h0.9M67.9 545.8h0.9M70.1 517.2h0.9M84.0 502.2h0.9M93.3 536.7h0.9M93.2 534.4h0.9M68.1 534.5h0.9M67.8 520.0h0.9M83.4 542.7h0.9M78.9 530.9h0.9M67.2 498.8h0.9M81.4 514.7h0.9M66.8 507.0h0.9M73.6 522.5h0.9M77.1 523.4h0.9M67.5 515.1h0.9M85.4 554.0h0.9M91.9 512.2h0.9M87.2 531.7h0.9M73.1 526.8h0.9M66.4 487.3h0.9M83.0 555.7h0.9M73.5 504.6h0.9M94.8 518.5h0.9M69.4 558.3h0.9M72.4 536.3h0.9M84.0 486.3h0.9M97.7 515.9h0.9M76.7 537.5h0.9M90.5 548.3h0.9M68.9 523.4h0.9M71.1 523.0h0.9M72.7 506.9h0.9M92.4 512.3h0.9M70.2 512.8h0.9M79.6 544.1h0.9M78.8 533.1h0.9M73.2 563.5h0.9M76.6 541.9h0.9M83.5 536.0h0.9M76.0 521.5h0.9M94.1 541.4h0.9M67.9 519.5h0.9M76.1 540.3h0.9M81.4 534.4h0.9M73.7 514.3h0.9M65.6 570.0h0.9M79.8 537.0h0.9M83.6 492.9h0.9M81.7 534.2h0.9M81.0 530.1h0.9M79.3 549.5h0.9M87.4 491.2h0.9M87.9 529.9h0.9M71.3 545.9h0.9M86.7 507.2h0.9M70.8 522.9h0.9M80.0 520.1h0.9M70.5 507.2h0.9M82.4 529.3h0.9M87.0 559.2h0.9M75.2 523.2h0.9M85.9 519.8h0.9M98.0 537.1h0.9M86.7 524.8h0.9M83.2 493.5h0.9M102.5 523.5h0.9M87.5 532.4h0.9M80.1 537.1h0.9M92.9 526.1h0.9M80.2 539.1h0.9M93.5 547.2h0.9M80.2 514.7h0.9M80.0 543.8h0.9M85.0 551.5h0.9M66.8 533.9h0.9M86.6 522.8h0.9M83.7 545.4h0.9M74.9 512.1h0.9M71.6 517.1h0.9M76.3 527.5h0.9M67.4 522.6h0.9M94.1 532.1h0.9M85.6 525.5h0.9M79.4 551.7h0.9M94.2 519.3h0.9M70.1 529.9h0.9M67.6 523.1h0.9M90.8 556.0h0.9M82.8 514.4h0.9M74.1 476.8h0.9M72.8 506.9h0.9M78.2 513.9h0.9M78.8 538.7h0.9M64.5 526.8h0.9M77.1 518.4h0.9M64.5 519.1h0.9M70.1 541.7h0.9M92.8 522.6h0.9M82.8 529.1h0.9M87.8 528.7h0.9M67.0 512.8h0.9M88.6 516.3h0.9M56.3 542.4h0.9M71.0 523.6h0.9M75.1 543.6h0.9M72.4 497.3h0.9M84.2 553.2h0.9M88.4 522.9h0.9M80.0 538.4h0.9M79.5 535.4h0.9M69.4 500.3h0.9M85.7 543.3h0.9M91.8 522.4h0.9M104.5 540.3h0.9M71.4 504.6h0.9M85.2 530.9h0.9M83.1 536.2h0.9M79.9 561.0h0.9M63.6 543.3h0.9M66.3 518.2h0.9M88.4 581.1h0.9M87.8 512.1h0.9M80.6 556.3h0.9M69.4 520.9h0.9M62.1 515.8h0.9M85.0 563.0h0.9M71.9 489.4h0.9M80.3 533.7h0.9M74.8 525.1h0.9M100.2 541.2h0.9M71.6 483.5h0.9M90.2 504.3h0.9M90.4 556.6h0.9M69.9 534.0h0.9M73.2 511.8h0.9M70.0 516.6h0.9M86.2 513.8h0.9M69.3 537.5h0.9M69.5 530.1h0.9M82.7 537.9h0.9M82.2 567.2h0.9M81.9 518.4h0.9M78.4 530.5h0.9M107.9 507.8h0.9M68.5 550.3h0.9M71.8 545.4h0.9M96.8 518.7h0.9M78.8 515.0h0.9M79.5 536.6h0.9M85.1 534.0h0.9M71.5 536.3h0.9M75.1 521.8h0.9M94.3 557.5h0.9M86.0 533.3h0.9M69.7 495.4h0.9M84.2 514.5h0.9M82.5 506.9h0.9M88.3 511.5h0.9M94.1 554.5h0.9M77.6 504.2h0.9M75.4 543.2h0.9M88.6 546.2h0.9M87.9 535.8h0.9M95.0 541.8h0.9M81.6 556.0h0.9M79.5 506.6h0.9M76.2 505.2h0.9M70.0 528.3h0.9M74.1 545.4h0.9M53.1 521.2h0.9M94.9 520.7h0.9M81.9 546.8h0.9M80.3 516.9h0.9M86.8 487.6h0.9M81.9 519.4h0.9M84.8 535.2h0.9M92.4 496.5h0.9M72.5 529.7h0.9M93.7 514.4h0.9M88.1 523.9h0.9M74.2 506.3h0.9M67.0 527.3h0.9M62.8 535.1h0.9M66.0 533.1h0.9M94.2 509.2h0.9M81.3 559.3h0.9M67.9 544.9h0.9M102.8 493.5h0.9M89.7 527.0h0.9M74.7 544.4h0.9M76.4 473.3h0.9M75.9 516.1h0.9M86.1 519.0h0.9M81.6 527.5h0.9M83.4 514.7h0.9M79.4 515.6h0.9M74.1 519.5h0.9M80.6 551.6h0.9M84.4 533.2h0.9M76.8 545.5h0.9M85.0 538.6h0.9M79.8 543.5h0.9M83.2 522.1h0.9M89.3 543.2h0.9M89.3 530.3h0.9M63.5 522.0h0.9M81.1 504.7h0.9M83.7 508.8h0.9M88.0 503.4h0.9M63.6 519.0h0.9M75.7 531.1h0.9M91.8 529.9h0.9M94.3 539.4h0.9M81.2 536.9h0.9M83.2 529.1h0.9M95.1 515.6h0.9M71.7 517.0h0.9M80.4 541.0h0.9M102.3 530.6h0.9M68.0 485.6h0.9M90.4 499.4h0.9M94.3 538.1h0.9M70.4 542.2h0.9M77.7 553.7h0.9M71.0 524.2h0.9M77.4 507.6h0.9M83.6 535.4h0.9M92.2 517.2h0.9M84.4 513.5h0.9M69.7 536.3h0.9M74.0 529.7h0.9M85.0 507.6h0.9M88.3 525.0h0.9M80.4 530.3h0.9M76.3 564.9h0.9M68.1 502.1h0.9M63.9 525.9h0.9M98.5 531.8h0.9M79.0 538.9h0.9M95.2 516.7h0.9M91.9 542.1h0.9M71.1 540.4h0.9M95.7 508.2h0.9M83.7 549.8h0.9M68.4 514.6h0.9M92.4 552.5h0.9M66.4 486.6h0.9M72.3 523.2h0.9M78.7 525.6h0.9M83.8 517.1h0.9M86.4 532.1h0.9M97.3 548.9h0.9M65.3 554.7h0.9M74.5 542.7h0.9M91.6 525.4h0.9M83.6 524.1h0.9M90.4 507.1h0.9M74.9 536.0h0.9M74.8 524.2h0.9M87.8 540.9h0.9M102.0 511.2h0.9M67.8 516.3h0.9M66.2 541.3h0.9M80.1 540.4h0.9M72.1 500.2h0.9M62.0 513.1h0.9M60.7 526.5h0.9M84.4 533.2h0.9M95.1 477.7h0.9M87.4 539.6h0.9M69.6 541.1h0.9M82.4 558.2h0.9M101.4 510.7h0.9M83.9 532.1h0.9M83.5 525.0h0.9M82.0 574.5h0.9M90.5 554.4h0.9M86.3 532.9h0.9M60.2 512.1h0.9M86.4 529.2h0.9M81.7 514.8h0.9M84.7 530.3h0.9M83.6 513.3h0.9M67.7 532.6h0.9M74.4 512.2h0.9M92.8 544.6h0.9M90.0 521.8h0.9M82.4 557.2h0.9M81.7 522.2h0.9M90.3 520.5h0.9M72.7 539.6h0.9M81.1 557.4h0.9M85.7 528.5h0.9M73.2 521.7h0.9M81.5 518.0h0.9M75.2 550.9h0.9M78.6 507.1h0.9M92.0 492.8h0.9M80.6 552.9h0.9M73.5 573.3h0.9M71.2 529.6h0.9M94.5 514.8h0.9M70.1 533.2h0.9M78.6 538.6h0.9M75.8 537.9h0.9M80.5 535.5h0.9M89.2 542.7h0.9M72.5 528.7h0.9M112.7 538.7h0.9M87.9 528.3h0.9M51.6 513.8h0.9M65.6 559.8h0.9M61.6 521.8h0.9M85.7 530.4h0.9M68.8 514.6h0.9M86.4 529.0h0.9" stroke="#5f80bc" stroke-width="0.9" opacity="0.45"/>
</g>
<rect x="53.6" y="492" width="64.20" height="63.30" fill="none" stroke="#5a5a5a" stroke-width="0.95"/>
<line x1="53.6" y1="491.5" x2="53.6" y2="555.9" stroke="#111" stroke-width="1.5"/>
<line x1="53.1" y1="555.3" x2="118.3" y2="555.3" stroke="#111" stroke-width="1.5"/>
<path d="M91.2 492 H117.8 V554.0999999999999 H80.1 L86.6 548.0999999999999 C87.8 541.3 88.6 533.3 88.9 525.3 C89.4 513.3 90.4 510 91.2 492 Z" fill="none" stroke="#1e2a36" stroke-width="1.35"/>
<line x1="91" y1="492" x2="117.8" y2="492" stroke="#222" stroke-width="2"/>
<text x="49.0" y="497.00" font-size="6.4" text-anchor="end" fill="#222" letter-spacing="0.1">250K</text>
<text x="49.0" y="508.98" font-size="6.4" text-anchor="end" fill="#222" letter-spacing="0.1">200K</text>
<text x="49.0" y="520.96" font-size="6.4" text-anchor="end" fill="#222" letter-spacing="0.1">150K</text>
<text x="49.0" y="532.94" font-size="6.4" text-anchor="end" fill="#222" letter-spacing="0.1">100K</text>
<text x="49.0" y="544.92" font-size="6.4" text-anchor="end" fill="#222" letter-spacing="0.1">50K</text>
<text x="49.0" y="556.90" font-size="6.4" text-anchor="end" fill="#222" letter-spacing="0.1">0</text>
<path d="M52.0 495.0h1.6M52.0 507.0h1.6M52.0 519.0h1.6M52.0 530.9h1.6M52.0 542.9h1.6M52.0 554.9h1.6" stroke="#111" stroke-width="0.9"/>
<text x="27.7" y="524.65" font-size="8.6" text-anchor="middle" font-weight="normal" fill="#222" transform="rotate(-90 27.7 524.65)" textLength="11.2" lengthAdjust="spacingAndGlyphs" >SSC</text>
<text x="58.5" y="566.3" font-size="6.0" text-anchor="middle" fill="#222" letter-spacing="0.2">−10<tspan dy="-2.4" font-size="4.14">3</tspan></text>
<text x="68.3" y="566.3" font-size="6.0" text-anchor="middle" fill="#222" letter-spacing="0.2">0</text>
<text x="79" y="566.3" font-size="6.0" text-anchor="middle" fill="#222" letter-spacing="0.2">10<tspan dy="-2.4" font-size="4.14">3</tspan></text>
<text x="96.5" y="566.3" font-size="6.0" text-anchor="middle" fill="#222" letter-spacing="0.2">10<tspan dy="-2.4" font-size="4.14">4</tspan></text>
<text x="111" y="566.3" font-size="6.0" text-anchor="middle" fill="#222" letter-spacing="0.2">10<tspan dy="-2.4" font-size="4.14">5</tspan></text>
<path d="M62.0 555.3v1.6M69.5 555.3v1.6M79.0 555.3v1.6M96.5 555.3v1.6M109.5 555.3v1.6" stroke="#111" stroke-width="0.9"/>
<text x="85" y="578.8" font-size="8.6" text-anchor="middle" font-weight="normal" fill="#222" textLength="16.8" lengthAdjust="spacingAndGlyphs" >CD127</text>
<text x="7.6" y="607.5" font-size="10.8" text-anchor="start" font-weight="bold" fill="#111" >H’</text>
<g clip-path="url(#k8)">
<rect x="57" y="625" width="42" height="44" rx="3" fill="#98a8d6" opacity="0.9" filter="url(#b3)"/>
<path d="M59.1 657.1h0.9M85.3 669.0h0.9M67.0 634.8h0.9M89.2 654.9h0.9M68.5 656.2h0.9M73.0 660.9h0.9M59.7 633.2h0.9M97.3 639.9h0.9M66.5 662.2h0.9M84.3 629.5h0.9M80.5 655.2h0.9M61.9 654.6h0.9M59.9 638.9h0.9M58.0 632.2h0.9M100.9 642.2h0.9M101.5 643.9h0.9M83.2 665.6h0.9M87.0 627.6h0.9M82.3 653.7h0.9M62.7 626.7h0.9M96.0 647.7h0.9M63.3 644.6h0.9M64.5 661.9h0.9M78.0 627.1h0.9M93.3 626.5h0.9M67.5 623.4h0.9M89.5 627.7h0.9M79.2 626.6h0.9M77.1 656.3h0.9M79.7 644.8h0.9M77.3 643.9h0.9M82.6 626.7h0.9M76.8 633.8h0.9M95.5 669.0h0.9M57.2 629.2h0.9M87.8 650.6h0.9M54.9 657.2h0.9M99.3 643.2h0.9M70.7 650.5h0.9M99.1 635.2h0.9M68.5 631.4h0.9M84.2 645.5h0.9M66.3 641.4h0.9M55.7 637.6h0.9M101.2 651.3h0.9M67.6 668.8h0.9M71.2 634.6h0.9M55.7 629.3h0.9M63.6 633.5h0.9M95.9 635.2h0.9M65.9 652.2h0.9M98.0 636.6h0.9M90.6 640.4h0.9M80.9 651.8h0.9M99.2 659.9h0.9M78.4 664.1h0.9M71.6 641.2h0.9M100.1 649.3h0.9M91.1 637.7h0.9M97.9 652.6h0.9M65.9 668.7h0.9M76.5 639.0h0.9M66.6 627.2h0.9M63.6 656.6h0.9M60.8 634.9h0.9M75.5 649.2h0.9M72.3 661.3h0.9M66.3 640.4h0.9M74.4 628.4h0.9M64.7 629.3h0.9M88.8 629.3h0.9M86.1 633.1h0.9M85.1 654.8h0.9M71.0 668.7h0.9M85.5 649.9h0.9M56.2 642.3h0.9M66.8 645.5h0.9M98.8 665.2h0.9M57.0 656.0h0.9M98.8 649.1h0.9M58.6 665.3h0.9M74.5 671.0h0.9M96.0 663.4h0.9M98.7 625.4h0.9M92.1 637.3h0.9M60.5 641.0h0.9M82.3 622.2h0.9M75.6 661.2h0.9M77.8 648.4h0.9M68.2 670.6h0.9M65.9 656.1h0.9M85.0 622.0h0.9M101.8 633.8h0.9M101.5 668.4h0.9M97.2 664.8h0.9M73.1 644.3h0.9M70.6 668.8h0.9M55.4 628.8h0.9M99.9 662.3h0.9M87.9 670.4h0.9M79.1 663.8h0.9M75.3 667.0h0.9M57.3 643.9h0.9M81.7 661.7h0.9M74.3 656.0h0.9M100.5 642.9h0.9M63.6 623.5h0.9M95.4 645.8h0.9M72.6 648.0h0.9M59.8 633.1h0.9M65.3 634.8h0.9M95.3 634.3h0.9M58.3 665.3h0.9M80.8 623.4h0.9M86.4 656.3h0.9M85.2 660.7h0.9M74.3 633.2h0.9M89.7 653.3h0.9M87.8 631.2h0.9M71.9 656.6h0.9M72.5 652.1h0.9M76.7 659.7h0.9M70.7 646.9h0.9M93.8 637.5h0.9M62.4 653.8h0.9M60.4 664.9h0.9M67.2 667.2h0.9M79.6 629.7h0.9M79.0 656.1h0.9M77.3 653.8h0.9M71.7 670.0h0.9M62.4 661.9h0.9M55.1 647.4h0.9M57.2 628.6h0.9M82.2 667.2h0.9M68.8 642.1h0.9M76.8 652.3h0.9M70.8 639.6h0.9M95.0 649.8h0.9M70.9 662.9h0.9M102.0 643.6h0.9M54.7 637.3h0.9M97.1 630.6h0.9M63.5 661.6h0.9M59.5 664.5h0.9M64.9 641.4h0.9M82.5 627.6h0.9M91.2 643.9h0.9M91.0 660.2h0.9M57.7 663.1h0.9M93.4 634.1h0.9M82.4 632.3h0.9M79.8 659.6h0.9M72.1 648.6h0.9M60.3 665.2h0.9M84.1 663.5h0.9M57.9 659.3h0.9M58.3 649.8h0.9M65.1 667.1h0.9M59.1 645.6h0.9M76.6 641.3h0.9M57.1 655.3h0.9M100.7 640.0h0.9M97.1 638.9h0.9M67.1 644.7h0.9M100.7 661.0h0.9M84.4 624.0h0.9M75.7 622.7h0.9M57.0 640.8h0.9M65.7 627.2h0.9M78.6 661.1h0.9M98.4 667.8h0.9M74.5 630.9h0.9M100.3 643.2h0.9M70.5 663.2h0.9M80.8 669.6h0.9M87.7 669.3h0.9M61.4 669.2h0.9M80.0 656.8h0.9M68.4 634.2h0.9M68.2 630.5h0.9M100.1 628.0h0.9M65.6 653.7h0.9M63.8 632.7h0.9M66.1 633.7h0.9M54.5 659.0h0.9M85.6 637.5h0.9M97.2 650.0h0.9M64.6 670.3h0.9M65.0 662.5h0.9M93.2 622.1h0.9M94.7 643.0h0.9M78.1 669.3h0.9M75.7 634.1h0.9M56.4 666.3h0.9M75.8 657.6h0.9M84.8 671.0h0.9M98.9 668.8h0.9M78.2 667.5h0.9M68.7 628.2h0.9M84.7 623.4h0.9M100.7 638.2h0.9M74.4 636.5h0.9M69.5 648.9h0.9M92.5 622.7h0.9M70.5 634.3h0.9M100.0 643.9h0.9M75.3 668.9h0.9M72.6 641.2h0.9M73.2 633.8h0.9M87.8 636.3h0.9M78.5 650.6h0.9M90.8 659.0h0.9M77.1 669.5h0.9M99.4 668.9h0.9M88.3 644.7h0.9M71.3 665.0h0.9M76.7 659.4h0.9M72.6 640.3h0.9M54.9 658.5h0.9M67.9 646.7h0.9M88.8 663.6h0.9M99.3 655.2h0.9M65.2 668.4h0.9M56.6 642.6h0.9M98.4 664.3h0.9M82.5 665.4h0.9M62.5 624.0h0.9M68.2 668.5h0.9M55.9 638.3h0.9M78.4 632.3h0.9M95.8 627.3h0.9M58.1 671.9h0.9M54.6 633.1h0.9M73.6 666.0h0.9M70.1 650.5h0.9M92.6 652.9h0.9M93.9 622.8h0.9M80.0 623.0h0.9M94.9 623.3h0.9M58.5 643.5h0.9M83.8 622.7h0.9M84.7 627.1h0.9M69.5 624.1h0.9M88.9 663.6h0.9M91.0 638.1h0.9M66.0 670.1h0.9M93.2 670.4h0.9M73.9 666.0h0.9M86.5 661.3h0.9M78.6 661.2h0.9M77.9 635.6h0.9M76.9 624.1h0.9M86.3 638.7h0.9M62.7 661.6h0.9M79.2 637.8h0.9M98.3 668.9h0.9M74.4 649.3h0.9M54.0 639.8h0.9M101.4 647.5h0.9M101.7 623.4h0.9M54.8 625.1h0.9M57.6 659.8h0.9M101.4 660.1h0.9M83.0 641.1h0.9M72.3 628.5h0.9M73.1 628.1h0.9M92.9 648.9h0.9M72.1 664.6h0.9M68.4 665.6h0.9M88.4 653.4h0.9M82.5 653.6h0.9M97.3 671.8h0.9M80.8 670.0h0.9M65.8 668.3h0.9M96.4 653.8h0.9M59.3 666.4h0.9M72.2 638.7h0.9M99.7 626.4h0.9M85.0 633.3h0.9M95.7 632.8h0.9M59.1 646.3h0.9M76.0 659.6h0.9M67.5 636.6h0.9M68.1 649.5h0.9M60.3 650.1h0.9M93.4 656.4h0.9M66.3 646.0h0.9M58.5 645.6h0.9M90.5 622.0h0.9M85.1 668.1h0.9M67.4 637.9h0.9M86.7 629.8h0.9M66.9 652.9h0.9M78.9 630.4h0.9M63.5 646.6h0.9M95.6 632.0h0.9M86.9 648.6h0.9M67.3 642.7h0.9M93.4 627.1h0.9M80.3 645.9h0.9M59.3 642.7h0.9M62.2 642.2h0.9M55.4 650.4h0.9M92.6 665.7h0.9M98.8 634.6h0.9M92.4 639.9h0.9M88.3 645.6h0.9M89.7 642.0h0.9M100.1 645.3h0.9M92.3 631.0h0.9M88.9 632.5h0.9M73.6 641.0h0.9M85.9 650.9h0.9M67.2 668.7h0.9M55.9 645.8h0.9M60.3 627.4h0.9M64.5 669.2h0.9M55.1 658.0h0.9M81.7 663.8h0.9M94.8 628.1h0.9M98.4 629.1h0.9M59.8 633.9h0.9M87.5 650.8h0.9M87.1 632.8h0.9M76.8 638.3h0.9M100.2 650.4h0.9M87.6 644.4h0.9M59.6 626.8h0.9M64.8 658.8h0.9M63.7 646.0h0.9M70.4 628.6h0.9M71.8 646.5h0.9M98.0 661.0h0.9M74.9 636.7h0.9M65.5 639.6h0.9M79.5 670.5h0.9M57.6 631.5h0.9M73.0 650.3h0.9M57.2 623.1h0.9M80.6 622.9h0.9M93.5 655.5h0.9M76.5 671.9h0.9M77.2 669.3h0.9M64.5 625.9h0.9M74.0 648.5h0.9M85.9 628.3h0.9M88.0 636.6h0.9M99.4 661.8h0.9M91.1 624.2h0.9M56.8 623.6h0.9M75.2 623.7h0.9M60.9 624.9h0.9M101.7 645.3h0.9M66.5 629.5h0.9M67.4 627.4h0.9M92.2 668.2h0.9M93.1 625.8h0.9M83.1 664.7h0.9M72.9 661.0h0.9M54.6 647.9h0.9M89.7 643.5h0.9M58.8 670.5h0.9M93.0 636.2h0.9M89.0 630.4h0.9M83.6 657.6h0.9M82.8 643.9h0.9M93.6 642.6h0.9M57.4 629.7h0.9M61.2 661.0h0.9M57.1 670.3h0.9M81.7 625.5h0.9M99.4 671.5h0.9M65.2 650.1h0.9M65.1 628.8h0.9M57.6 666.3h0.9M64.7 632.2h0.9M62.4 636.2h0.9M99.4 632.5h0.9M62.8 624.9h0.9M87.9 627.2h0.9M93.3 669.0h0.9M67.3 645.4h0.9M92.5 646.4h0.9M69.2 667.8h0.9M102.0 633.9h0.9M94.5 623.9h0.9M93.6 639.2h0.9M101.4 623.3h0.9M64.0 642.2h0.9M78.2 660.7h0.9M60.4 624.9h0.9M65.6 627.0h0.9M99.4 647.8h0.9M63.7 638.1h0.9M66.7 644.6h0.9M69.5 653.3h0.9M64.3 656.3h0.9M97.9 659.7h0.9M57.9 646.0h0.9M93.4 625.5h0.9M99.1 627.5h0.9M59.1 622.4h0.9M95.2 623.4h0.9M76.6 651.5h0.9M77.2 671.7h0.9M82.7 622.2h0.9M73.0 629.9h0.9M96.8 633.4h0.9M85.8 644.1h0.9M75.0 648.9h0.9M66.2 654.3h0.9M82.8 662.6h0.9M93.2 626.9h0.9M93.3 638.1h0.9M100.7 650.6h0.9M63.4 648.0h0.9M80.2 647.5h0.9M72.5 651.3h0.9M79.9 661.8h0.9M70.5 644.8h0.9M54.5 659.3h0.9M56.8 665.7h0.9M78.8 650.5h0.9M72.6 649.6h0.9M58.8 629.8h0.9M79.7 637.0h0.9M78.2 646.7h0.9M101.0 654.5h0.9M54.9 655.2h0.9M69.3 631.1h0.9M71.5 666.8h0.9M92.0 644.9h0.9M95.3 647.8h0.9M61.1 657.4h0.9M95.4 656.0h0.9M68.1 645.8h0.9M60.2 634.3h0.9M57.2 670.2h0.9M88.6 646.2h0.9M86.8 656.8h0.9M76.6 634.6h0.9M77.6 649.0h0.9M72.2 633.2h0.9M82.0 654.5h0.9M65.1 628.4h0.9M90.2 671.3h0.9M89.0 663.1h0.9M88.8 641.5h0.9M81.9 645.0h0.9M100.9 627.6h0.9M101.7 628.5h0.9M68.7 650.6h0.9M99.2 666.0h0.9M90.5 654.1h0.9M90.2 637.3h0.9M56.2 651.5h0.9M64.4 644.8h0.9M90.9 670.9h0.9M60.2 668.1h0.9M65.2 647.9h0.9M92.4 656.0h0.9M72.3 666.7h0.9M62.2 663.2h0.9M101.4 664.1h0.9M59.5 641.4h0.9M58.7 639.3h0.9M73.2 629.9h0.9M76.1 663.7h0.9M85.8 637.0h0.9M59.7 627.6h0.9M93.1 634.9h0.9M80.7 631.7h0.9M87.6 626.3h0.9M76.7 644.0h0.9M78.6 632.5h0.9M86.8 669.9h0.9M64.1 625.7h0.9M67.3 639.0h0.9M95.5 623.6h0.9M56.1 648.7h0.9M76.4 632.6h0.9M86.9 641.8h0.9M100.5 632.9h0.9M79.2 628.4h0.9M58.9 669.7h0.9M96.5 659.3h0.9M78.1 655.6h0.9M64.8 631.2h0.9M64.5 635.4h0.9M73.1 647.1h0.9M66.9 639.6h0.9M92.4 661.9h0.9M66.1 650.2h0.9M59.1 653.4h0.9M83.8 631.0h0.9M94.4 652.6h0.9M100.4 635.4h0.9M61.3 660.9h0.9M90.0 633.5h0.9M75.2 630.8h0.9M76.2 671.0h0.9M66.7 640.0h0.9M95.6 671.3h0.9M78.7 649.6h0.9M78.3 657.2h0.9M97.7 667.8h0.9M81.2 645.0h0.9M94.9 655.8h0.9M101.6 627.1h0.9M89.4 662.0h0.9M70.9 622.5h0.9M70.1 670.6h0.9M90.5 638.9h0.9M94.8 626.3h0.9M89.4 649.6h0.9M101.3 636.7h0.9M70.7 639.6h0.9M75.1 645.1h0.9M63.2 644.3h0.9M56.6 653.3h0.9M94.1 638.2h0.9M75.6 670.4h0.9M94.2 656.4h0.9M81.7 670.3h0.9M76.8 652.9h0.9M96.4 639.9h0.9M74.6 655.0h0.9M88.3 657.0h0.9M73.5 636.0h0.9M90.9 658.0h0.9M79.0 634.8h0.9M57.4 647.9h0.9M97.6 665.4h0.9M89.8 643.2h0.9M95.7 666.0h0.9M68.7 648.8h0.9M71.5 631.7h0.9M77.5 633.2h0.9M99.5 670.9h0.9M66.4 630.3h0.9M63.5 667.9h0.9M69.8 663.2h0.9M101.8 639.2h0.9M94.5 627.2h0.9M56.1 655.7h0.9M68.9 633.6h0.9M78.3 661.7h0.9M75.2 649.5h0.9M90.4 626.6h0.9M78.4 623.9h0.9M63.8 628.2h0.9M62.6 668.1h0.9M54.9 646.2h0.9M57.6 622.5h0.9M98.5 647.2h0.9M95.2 653.5h0.9M81.6 660.4h0.9M54.2 632.4h0.9M86.6 671.7h0.9M63.2 641.8h0.9M86.7 650.6h0.9M89.2 624.3h0.9M65.7 655.8h0.9M89.6 655.2h0.9M92.6 662.1h0.9M54.0 637.2h0.9M57.4 628.2h0.9M88.8 641.3h0.9M96.3 623.4h0.9M75.8 670.8h0.9M71.6 656.2h0.9M95.7 662.2h0.9M69.6 644.3h0.9M91.0 648.5h0.9M74.4 669.3h0.9M66.3 656.8h0.9M71.0 653.3h0.9M90.3 666.5h0.9M92.6 647.1h0.9M81.8 656.4h0.9M90.2 668.1h0.9M54.8 623.1h0.9M100.1 654.0h0.9M58.6 637.1h0.9M60.7 637.6h0.9M60.8 658.3h0.9M61.2 644.7h0.9M56.7 641.8h0.9M66.5 649.0h0.9M66.7 632.8h0.9M70.9 669.2h0.9M101.6 629.9h0.9M89.5 624.8h0.9M69.0 661.0h0.9M88.9 656.8h0.9M77.6 644.2h0.9M56.5 655.0h0.9M84.7 640.6h0.9M61.0 635.0h0.9M92.6 626.5h0.9M82.7 660.4h0.9M90.0 640.6h0.9M87.0 632.6h0.9M67.0 654.0h0.9M59.3 647.6h0.9M86.9 624.0h0.9M56.2 662.6h0.9M92.2 670.4h0.9M59.3 664.1h0.9M81.2 649.7h0.9M62.6 640.2h0.9M63.1 623.0h0.9M87.7 626.9h0.9M58.2 661.2h0.9M93.7 627.1h0.9M75.3 629.6h0.9M70.4 644.9h0.9M67.6 639.1h0.9M76.0 657.9h0.9M63.7 630.4h0.9M76.2 636.7h0.9M65.3 629.7h0.9M93.2 662.2h0.9M59.6 654.7h0.9M75.2 625.2h0.9M57.6 672.0h0.9M59.1 647.9h0.9M87.7 659.5h0.9M88.0 625.8h0.9M72.3 627.5h0.9M88.5 661.6h0.9M65.2 651.3h0.9M65.9 640.4h0.9M63.0 638.4h0.9M61.3 622.7h0.9M73.0 663.4h0.9M84.2 655.1h0.9M76.4 630.5h0.9M66.3 626.9h0.9M83.0 630.1h0.9M86.0 623.4h0.9M88.9 634.4h0.9M61.8 644.9h0.9M64.6 661.3h0.9M85.5 644.8h0.9M79.6 660.3h0.9M85.3 643.4h0.9M80.7 643.9h0.9M84.4 662.4h0.9M91.0 669.7h0.9M55.1 625.5h0.9M59.5 669.5h0.9M71.9 646.7h0.9M75.6 645.3h0.9M86.2 653.2h0.9M64.0 646.4h0.9M94.7 644.8h0.9M76.1 636.5h0.9M73.6 641.4h0.9M63.0 652.1h0.9M57.3 634.3h0.9M54.8 662.4h0.9M74.6 641.0h0.9M95.6 659.6h0.9M65.9 653.6h0.9M67.2 640.1h0.9M58.8 647.5h0.9M84.7 634.8h0.9M71.3 634.4h0.9M86.8 668.2h0.9M95.1 660.1h0.9M92.4 642.1h0.9M68.9 666.5h0.9M100.9 657.9h0.9M66.1 625.1h0.9M84.7 625.9h0.9M94.9 631.0h0.9M67.4 627.5h0.9M91.3 630.9h0.9M62.2 639.9h0.9M59.9 625.5h0.9M98.0 642.6h0.9M65.9 630.7h0.9M89.4 623.6h0.9M78.5 643.8h0.9M79.9 639.6h0.9M98.0 624.7h0.9M90.4 629.6h0.9M56.6 627.1h0.9M67.1 646.1h0.9M65.4 630.6h0.9M60.4 662.5h0.9M97.2 636.4h0.9M90.6 655.4h0.9M94.9 667.8h0.9M81.6 633.9h0.9M73.3 647.9h0.9M57.2 636.8h0.9M59.0 658.1h0.9M65.3 629.8h0.9M67.6 652.8h0.9M87.6 640.4h0.9M72.2 623.7h0.9M76.7 653.6h0.9M80.5 653.7h0.9M80.4 663.2h0.9M95.5 646.9h0.9M95.0 630.2h0.9M62.7 666.9h0.9M69.6 640.8h0.9M59.7 650.8h0.9M88.6 625.8h0.9M67.9 624.5h0.9M74.4 633.5h0.9M82.2 656.0h0.9M74.4 646.6h0.9M100.7 655.7h0.9M58.9 660.9h0.9M76.1 666.3h0.9M60.9 645.8h0.9M100.8 661.6h0.9M94.2 667.6h0.9M95.4 655.4h0.9M56.8 658.8h0.9M77.7 626.0h0.9M60.5 668.6h0.9M54.2 633.1h0.9M92.7 670.2h0.9M65.3 670.6h0.9M83.3 644.5h0.9M77.7 644.9h0.9M81.0 628.2h0.9M93.5 642.0h0.9M71.5 631.4h0.9M63.3 651.4h0.9M98.0 630.7h0.9M90.0 665.3h0.9M80.4 666.0h0.9M97.2 654.0h0.9M91.2 644.6h0.9M59.8 643.3h0.9M76.1 634.0h0.9M64.1 643.1h0.9M100.2 671.6h0.9M62.0 664.1h0.9M68.1 642.3h0.9M96.4 655.8h0.9M95.8 627.2h0.9M77.2 633.0h0.9M89.5 623.7h0.9M74.7 657.3h0.9M85.4 650.9h0.9M102.0 630.9h0.9M80.2 631.4h0.9M67.3 654.0h0.9M82.4 643.3h0.9M58.4 645.6h0.9M80.7 654.4h0.9M83.9 635.8h0.9M81.9 655.4h0.9M68.3 664.1h0.9M61.3 671.6h0.9M100.0 671.9h0.9M54.5 642.4h0.9M58.4 658.1h0.9M82.1 658.1h0.9M88.5 622.6h0.9M94.9 669.6h0.9M83.5 635.7h0.9M99.6 649.0h0.9M97.4 652.7h0.9M101.2 648.9h0.9M65.8 622.8h0.9M59.4 634.5h0.9M68.5 667.7h0.9M60.5 635.9h0.9M81.4 645.6h0.9M75.5 623.5h0.9M60.3 636.7h0.9M95.3 653.8h0.9M91.5 629.8h0.9M100.5 663.5h0.9M74.9 670.1h0.9M76.9 638.3h0.9M88.8 629.7h0.9M87.6 631.0h0.9M98.5 653.9h0.9M95.7 666.5h0.9M86.1 651.1h0.9M64.8 660.3h0.9M92.9 644.4h0.9M55.3 636.2h0.9M82.5 654.7h0.9M95.0 622.6h0.9M85.5 635.7h0.9M67.9 659.2h0.9M74.3 644.9h0.9M85.7 664.4h0.9M100.4 638.5h0.9M76.5 628.7h0.9M67.6 651.8h0.9M76.4 637.9h0.9M85.3 664.4h0.9M68.9 642.2h0.9M81.3 669.3h0.9M83.6 631.8h0.9M74.2 635.2h0.9M72.7 649.8h0.9M73.5 636.9h0.9M63.1 632.8h0.9M78.1 628.0h0.9M64.7 665.2h0.9M62.4 664.9h0.9M80.8 637.7h0.9M72.2 629.1h0.9M91.7 635.4h0.9M78.7 663.5h0.9M82.3 641.2h0.9M86.8 664.9h0.9M78.4 644.4h0.9M81.4 629.4h0.9M91.5 651.5h0.9M61.5 629.8h0.9M92.6 668.8h0.9M73.1 622.6h0.9M100.6 624.0h0.9M100.8 647.4h0.9M96.6 632.3h0.9M79.6 649.7h0.9M96.1 671.3h0.9M60.3 658.1h0.9M58.4 667.4h0.9M100.5 645.0h0.9M77.7 640.2h0.9M80.6 637.4h0.9M69.1 628.9h0.9M89.6 624.3h0.9M59.3 625.5h0.9M82.0 625.8h0.9M61.5 651.5h0.9M92.7 661.8h0.9M91.9 661.7h0.9M95.7 649.4h0.9M84.0 629.6h0.9M55.7 663.1h0.9M77.0 656.3h0.9M91.1 636.1h0.9M89.5 630.3h0.9M100.5 660.6h0.9M59.4 628.8h0.9M84.6 638.8h0.9M92.4 655.7h0.9M99.0 632.5h0.9M57.4 666.1h0.9M83.9 635.4h0.9M68.3 628.0h0.9M83.6 641.9h0.9M67.5 649.3h0.9M85.5 645.4h0.9M71.2 665.7h0.9M83.5 660.0h0.9M88.4 624.8h0.9M94.8 634.5h0.9M79.4 654.6h0.9M101.7 659.4h0.9M82.9 631.9h0.9M67.6 652.3h0.9M83.8 665.0h0.9M94.3 669.2h0.9M87.7 668.4h0.9M92.6 641.4h0.9M83.1 654.7h0.9M88.8 651.2h0.9M62.8 650.6h0.9M67.7 629.8h0.9M92.2 640.1h0.9M98.9 666.2h0.9M88.0 629.5h0.9M64.3 622.8h0.9M100.7 654.2h0.9M69.3 652.3h0.9M92.7 661.3h0.9M88.3 658.5h0.9M59.0 625.0h0.9M60.2 646.1h0.9M63.7 651.2h0.9M90.6 632.7h0.9M75.5 664.2h0.9M60.6 642.6h0.9M91.3 624.3h0.9M76.3 625.1h0.9M81.0 624.4h0.9M76.0 623.7h0.9M82.5 660.8h0.9M66.7 636.0h0.9M77.9 642.6h0.9M63.6 627.9h0.9M71.7 670.0h0.9M69.4 644.5h0.9M61.7 654.5h0.9M90.5 668.6h0.9M62.9 631.4h0.9M64.6 625.9h0.9M86.6 646.3h0.9M100.2 629.3h0.9M69.6 630.2h0.9M74.2 626.0h0.9M71.7 645.3h0.9M55.7 641.1h0.9M64.7 626.4h0.9M69.6 635.0h0.9M96.5 649.6h0.9M98.9 633.2h0.9M55.2 646.7h0.9M81.0 636.4h0.9M61.7 622.4h0.9M85.6 659.7h0.9M56.4 656.6h0.9M96.4 637.9h0.9M100.5 669.0h0.9M94.1 633.7h0.9M57.1 641.1h0.9M59.0 668.2h0.9M79.4 642.7h0.9M76.1 623.8h0.9M92.8 658.1h0.9M57.8 636.1h0.9M95.1 669.4h0.9M97.1 656.3h0.9M73.9 670.4h0.9M73.2 643.8h0.9M58.6 665.7h0.9M74.0 665.9h0.9M94.0 638.0h0.9M80.7 650.3h0.9M61.4 644.7h0.9M68.5 662.5h0.9M69.4 630.8h0.9M97.6 670.0h0.9M94.5 630.8h0.9M66.2 625.9h0.9M69.3 666.2h0.9M90.3 638.4h0.9M95.3 667.5h0.9M57.7 625.4h0.9M99.6 660.5h0.9M99.9 632.1h0.9M92.4 661.4h0.9M79.3 657.3h0.9M56.2 632.8h0.9M81.4 665.3h0.9M61.8 630.6h0.9M89.7 638.7h0.9M93.6 663.5h0.9M65.1 642.8h0.9M58.0 629.8h0.9M65.8 656.1h0.9M54.1 658.5h0.9M62.0 662.9h0.9M82.3 667.1h0.9M101.0 663.2h0.9M84.2 664.7h0.9M74.5 640.8h0.9M78.8 663.3h0.9M70.4 649.3h0.9M74.8 623.0h0.9M86.0 630.0h0.9M89.6 626.6h0.9M90.2 622.5h0.9M60.0 629.5h0.9M87.9 647.1h0.9M63.4 661.1h0.9M62.8 639.6h0.9M84.3 641.2h0.9M82.2 654.0h0.9M95.8 628.8h0.9M74.9 643.8h0.9M98.4 640.9h0.9M54.1 631.1h0.9M61.2 666.2h0.9M94.5 662.6h0.9M70.0 640.2h0.9M67.9 663.1h0.9M73.1 669.5h0.9M58.6 643.5h0.9M92.4 648.0h0.9M73.6 622.5h0.9M79.4 656.7h0.9M75.2 640.4h0.9M78.3 670.0h0.9M59.6 671.3h0.9M63.7 669.7h0.9M70.7 643.6h0.9M99.7 652.9h0.9M59.2 660.7h0.9M62.0 624.8h0.9M69.0 635.1h0.9M95.0 657.6h0.9M101.9 644.4h0.9" stroke="#5c78c0" stroke-width="0.9" opacity="0.5"/>
<path d="M97.7 651.3h0.9M57.2 628.4h0.9M94.1 665.9h0.9M55.3 628.4h0.9M91.1 646.1h0.9M66.9 625.0h0.9M82.1 647.3h0.9M82.0 633.2h0.9M100.1 657.6h0.9M56.9 634.9h0.9M64.9 624.1h0.9M80.1 659.2h0.9M73.6 642.1h0.9M72.9 668.1h0.9M70.1 648.9h0.9M86.1 643.8h0.9M95.7 642.1h0.9M87.7 630.9h0.9M69.0 658.7h0.9M98.1 662.0h0.9M57.0 653.2h0.9M72.0 629.3h0.9M82.5 659.7h0.9M77.5 639.2h0.9M81.9 633.3h0.9M68.1 658.3h0.9M92.2 638.8h0.9M89.2 640.3h0.9M66.8 638.5h0.9M74.8 666.9h0.9M78.1 643.2h0.9M55.6 632.7h0.9M57.8 655.5h0.9M97.7 644.3h0.9M92.6 649.5h0.9M76.9 657.6h0.9M73.7 634.4h0.9M83.5 625.2h0.9M77.6 663.2h0.9M56.8 651.9h0.9M68.5 633.1h0.9M95.1 637.1h0.9M84.0 645.5h0.9M84.5 649.3h0.9M61.8 624.1h0.9M95.4 632.0h0.9M83.8 647.5h0.9M95.6 632.7h0.9M91.1 667.8h0.9M96.5 643.9h0.9M82.3 656.0h0.9M60.4 624.0h0.9M59.3 665.5h0.9M84.3 635.2h0.9M68.6 646.7h0.9M88.0 666.4h0.9M62.4 633.5h0.9M99.8 636.4h0.9M59.3 647.5h0.9M73.5 648.3h0.9M69.6 634.3h0.9M89.1 668.5h0.9M77.9 631.4h0.9M85.3 664.2h0.9M99.5 647.4h0.9M89.8 654.4h0.9M55.5 648.9h0.9M58.7 643.8h0.9M74.8 635.7h0.9M86.5 662.3h0.9M68.9 668.9h0.9M77.0 639.7h0.9M86.4 656.5h0.9M77.5 634.1h0.9M67.2 665.1h0.9M85.7 661.5h0.9M91.2 655.4h0.9M65.3 629.7h0.9M79.5 669.4h0.9M78.9 648.4h0.9M89.9 639.0h0.9M69.1 642.9h0.9M63.3 638.0h0.9M80.7 631.1h0.9M70.8 641.0h0.9M81.0 647.0h0.9M85.0 666.1h0.9M70.4 641.4h0.9M98.6 644.4h0.9M55.7 654.2h0.9M79.7 625.5h0.9M79.8 623.6h0.9M94.4 656.5h0.9M83.3 639.7h0.9M57.2 638.5h0.9M79.1 657.6h0.9M84.1 655.1h0.9M55.5 661.7h0.9M69.5 648.0h0.9M70.2 646.5h0.9M71.6 640.8h0.9M80.3 661.9h0.9M73.6 628.0h0.9M75.8 642.9h0.9M57.9 626.2h0.9M68.8 630.7h0.9M68.8 630.1h0.9M71.6 658.0h0.9M89.4 651.0h0.9M78.7 634.2h0.9M99.5 640.1h0.9M82.5 662.5h0.9M87.7 632.4h0.9M66.1 654.0h0.9M86.6 623.9h0.9M89.2 640.2h0.9M58.0 623.9h0.9M67.4 628.4h0.9M63.5 669.7h0.9M56.0 654.1h0.9M81.4 665.3h0.9M92.7 646.3h0.9M96.5 635.4h0.9M75.1 668.8h0.9M80.4 634.2h0.9M73.1 652.0h0.9M96.2 630.3h0.9M95.8 651.7h0.9M56.1 630.1h0.9M77.2 642.2h0.9M83.6 667.4h0.9M83.3 665.9h0.9M91.6 653.0h0.9M96.3 663.9h0.9M69.8 660.4h0.9M91.3 634.2h0.9M79.7 656.6h0.9M99.8 648.5h0.9M63.1 664.5h0.9M100.8 651.3h0.9M100.7 650.0h0.9M97.1 623.9h0.9M92.5 641.0h0.9M55.9 665.6h0.9M77.6 640.3h0.9M92.2 636.2h0.9M90.2 652.6h0.9M72.4 636.4h0.9M89.6 629.3h0.9M73.6 643.5h0.9M62.2 665.8h0.9M57.5 666.7h0.9M64.9 656.3h0.9M89.1 631.3h0.9M79.1 633.1h0.9M99.1 631.9h0.9M69.1 628.9h0.9M98.4 647.2h0.9M67.4 667.3h0.9M71.0 627.9h0.9M92.7 652.4h0.9M93.0 628.6h0.9M78.2 663.6h0.9M59.8 658.5h0.9M62.0 628.9h0.9M85.3 624.0h0.9M91.1 650.8h0.9M72.3 653.6h0.9M72.7 661.5h0.9M70.2 625.2h0.9M85.0 631.7h0.9M85.1 650.0h0.9M67.7 625.3h0.9M96.1 636.5h0.9M72.0 647.4h0.9M59.9 652.5h0.9M68.0 625.0h0.9M98.8 646.7h0.9M57.5 655.2h0.9M79.5 639.8h0.9M85.5 643.4h0.9M94.1 667.9h0.9M65.5 654.2h0.9M68.6 627.3h0.9M83.4 660.4h0.9M87.6 651.1h0.9M86.6 651.6h0.9M84.2 630.8h0.9M87.3 658.0h0.9M67.7 666.8h0.9M76.5 668.7h0.9M73.1 666.6h0.9M77.7 636.5h0.9M66.7 653.0h0.9M92.3 649.4h0.9M60.8 636.6h0.9M95.9 660.5h0.9M61.1 661.1h0.9M63.2 632.3h0.9M93.0 658.5h0.9M66.8 630.1h0.9M69.0 645.0h0.9M100.9 665.4h0.9M75.0 640.8h0.9M72.5 668.1h0.9M97.3 667.2h0.9M73.2 665.4h0.9M97.2 636.2h0.9M79.6 645.8h0.9M64.8 636.7h0.9M78.9 670.0h0.9M76.7 638.2h0.9M94.2 658.6h0.9M86.3 648.6h0.9M79.2 640.6h0.9M100.3 639.9h0.9M68.3 669.7h0.9M94.9 664.4h0.9M78.6 634.4h0.9M63.5 646.0h0.9M81.7 644.5h0.9M69.0 669.5h0.9M58.2 639.6h0.9M91.9 651.7h0.9M93.6 667.4h0.9M85.3 639.9h0.9M86.9 658.9h0.9M90.1 662.7h0.9M95.6 653.0h0.9M83.9 641.6h0.9M71.8 663.6h0.9M81.2 664.1h0.9M72.9 645.1h0.9M65.1 643.7h0.9M88.0 652.7h0.9M78.0 661.1h0.9M91.3 644.8h0.9M69.6 624.6h0.9M60.9 628.3h0.9M76.3 660.9h0.9M96.5 647.4h0.9M67.2 666.0h0.9M91.4 641.6h0.9M78.1 631.8h0.9M74.3 664.7h0.9M98.2 637.2h0.9M95.0 669.4h0.9M100.7 649.6h0.9M88.2 670.5h0.9M92.9 670.8h0.9M82.0 638.4h0.9M77.1 629.6h0.9M99.5 642.5h0.9M68.4 670.7h0.9M93.3 624.5h0.9M68.6 653.6h0.9M73.9 632.3h0.9M63.2 629.9h0.9M87.8 650.6h0.9M93.4 666.9h0.9M61.4 639.1h0.9M99.7 658.7h0.9M78.3 653.0h0.9M76.2 643.7h0.9M71.0 629.1h0.9M89.7 665.9h0.9M92.1 653.0h0.9M90.4 629.1h0.9M78.2 640.1h0.9M77.3 657.2h0.9M98.1 635.9h0.9M86.8 636.1h0.9M69.1 656.8h0.9M90.1 624.5h0.9M93.3 658.4h0.9M77.9 645.2h0.9M64.1 642.9h0.9M84.6 641.1h0.9M58.8 640.7h0.9M71.7 641.0h0.9M61.0 655.0h0.9M83.0 665.4h0.9M100.9 626.7h0.9M63.0 626.7h0.9M92.9 649.7h0.9M76.8 636.4h0.9M94.1 653.6h0.9M80.9 624.1h0.9M58.1 635.6h0.9M86.9 639.5h0.9M83.2 666.7h0.9M69.4 654.9h0.9M86.4 653.3h0.9M62.1 640.4h0.9M73.0 653.2h0.9M57.3 658.6h0.9M83.0 627.8h0.9M92.0 642.6h0.9M85.0 659.9h0.9M55.4 649.7h0.9M67.1 646.7h0.9M60.8 641.3h0.9M81.8 653.8h0.9M71.0 644.5h0.9M98.4 658.6h0.9M62.4 651.4h0.9M89.0 658.7h0.9M59.0 666.0h0.9M78.2 651.9h0.9M68.4 644.6h0.9M83.7 629.7h0.9M89.0 653.6h0.9M92.2 657.4h0.9M70.5 645.3h0.9M77.3 636.2h0.9M63.1 630.1h0.9M69.7 625.0h0.9M83.4 662.6h0.9M94.7 643.6h0.9M81.5 626.8h0.9M82.7 652.2h0.9M79.3 644.5h0.9M100.3 654.4h0.9M82.7 659.5h0.9M94.6 632.9h0.9M94.6 642.9h0.9M83.6 633.5h0.9M80.7 646.0h0.9M55.7 631.5h0.9M95.8 652.6h0.9M96.4 637.5h0.9M66.9 645.9h0.9M84.4 626.3h0.9" stroke="#ffffff" stroke-width="0.9" opacity="0.4"/>
<ellipse cx="78.5" cy="647" rx="11.700000000000001" ry="20.8" fill="#6fa2bc" opacity="0.8" filter="url(#b3)"/>
<ellipse cx="83.5" cy="647" rx="6.3" ry="13.65" fill="#8cbf84" opacity="0.9" filter="url(#b2)"/>
<ellipse cx="83.5" cy="648" rx="3.375" ry="8.450000000000001" fill="#b8b650" opacity="0.9" filter="url(#b2)"/>
<path d="M83.1 638.6h0.9M78.3 670.9h0.9M70.9 653.8h0.9M88.1 662.0h0.9M84.4 673.0h0.9M72.5 637.2h0.9M84.4 635.1h0.9M83.8 661.0h0.9M77.9 588.4h0.9M81.4 611.2h0.9M60.9 658.2h0.9M73.5 674.7h0.9M89.9 651.9h0.9M87.6 679.6h0.9M82.1 665.7h0.9M62.7 683.8h0.9M61.0 642.9h0.9M71.2 658.9h0.9M78.1 607.1h0.9M91.8 662.0h0.9M77.6 664.8h0.9M65.7 656.2h0.9M95.8 632.0h0.9M62.9 656.8h0.9M106.0 642.5h0.9M89.0 649.4h0.9M70.5 676.4h0.9M94.9 640.0h0.9M68.9 683.1h0.9M87.9 657.9h0.9M71.3 640.0h0.9M64.2 656.3h0.9M77.8 659.7h0.9M73.0 663.3h0.9M70.6 638.5h0.9M90.1 641.8h0.9M76.1 645.3h0.9M75.7 635.9h0.9M70.0 677.0h0.9M82.1 662.1h0.9M78.5 650.8h0.9M81.3 636.4h0.9M68.0 663.7h0.9M77.6 671.7h0.9M83.0 642.5h0.9M84.4 643.1h0.9M92.6 658.5h0.9M77.8 633.0h0.9M64.1 646.4h0.9M82.4 646.6h0.9M62.7 644.6h0.9M68.7 677.1h0.9M86.9 649.2h0.9M73.3 624.5h0.9M82.7 635.4h0.9M63.7 651.4h0.9M87.9 653.6h0.9M84.0 620.4h0.9M93.7 622.7h0.9M73.9 632.2h0.9M68.6 638.9h0.9M75.0 654.8h0.9M93.5 676.5h0.9M85.1 684.6h0.9M75.7 647.4h0.9M76.6 653.9h0.9M73.3 643.1h0.9M79.1 665.8h0.9M87.5 665.7h0.9M79.0 640.8h0.9M98.2 651.7h0.9M76.1 644.0h0.9M81.6 643.9h0.9M86.7 661.9h0.9M83.2 602.8h0.9M82.2 626.2h0.9M83.5 649.4h0.9M81.0 643.9h0.9M91.4 624.5h0.9M97.4 661.9h0.9M82.8 658.5h0.9M76.5 667.7h0.9M82.0 674.4h0.9M77.7 641.1h0.9M81.7 658.7h0.9M82.7 672.9h0.9M91.6 635.4h0.9M87.2 653.8h0.9M75.8 664.8h0.9M79.7 625.5h0.9M86.0 660.9h0.9M75.8 614.7h0.9M77.5 615.5h0.9M93.1 670.6h0.9M74.4 658.9h0.9M83.4 624.0h0.9M82.0 633.2h0.9M61.5 652.8h0.9M77.5 632.4h0.9M83.7 657.3h0.9M76.6 638.6h0.9M81.3 648.5h0.9M88.5 616.7h0.9M74.3 655.6h0.9M62.8 669.9h0.9M70.0 671.1h0.9M68.0 645.2h0.9M75.0 626.9h0.9M90.7 630.9h0.9M85.8 628.5h0.9M72.8 616.8h0.9M71.5 642.5h0.9M70.9 639.7h0.9M81.1 634.9h0.9M82.6 689.8h0.9M69.2 604.7h0.9M77.7 632.6h0.9M91.8 627.6h0.9M69.4 669.7h0.9M88.5 675.9h0.9M62.0 642.5h0.9M98.3 630.5h0.9M74.3 662.3h0.9M82.6 644.8h0.9M78.5 670.1h0.9M58.4 628.1h0.9M70.9 640.2h0.9M62.6 639.4h0.9M74.6 653.1h0.9M74.8 612.1h0.9M81.8 621.2h0.9M73.4 666.6h0.9M75.0 623.9h0.9M76.4 686.7h0.9M69.1 657.7h0.9M77.7 638.3h0.9M78.2 630.2h0.9M85.8 626.1h0.9M92.0 652.1h0.9M92.1 662.7h0.9M83.4 644.8h0.9M93.2 664.0h0.9M90.4 617.0h0.9M88.6 654.9h0.9M92.8 627.0h0.9M68.4 632.1h0.9M65.0 653.0h0.9M85.5 672.3h0.9M57.7 646.0h0.9M69.5 657.4h0.9M96.2 638.9h0.9M85.3 646.1h0.9M95.8 660.2h0.9M59.1 630.4h0.9M89.8 640.9h0.9M70.5 648.1h0.9M77.2 644.1h0.9M86.1 641.7h0.9M64.7 658.0h0.9M80.6 647.8h0.9M87.1 634.3h0.9M84.2 647.8h0.9M69.9 640.5h0.9M96.3 640.2h0.9M78.6 630.3h0.9M90.7 624.1h0.9M82.0 676.3h0.9M73.6 655.6h0.9M81.6 635.1h0.9M59.2 632.8h0.9M60.6 659.8h0.9M75.1 612.0h0.9M66.7 631.2h0.9M94.5 632.2h0.9M61.2 641.5h0.9M79.4 637.9h0.9M79.8 643.3h0.9M87.8 627.8h0.9M77.2 656.4h0.9M67.5 654.0h0.9M74.1 658.6h0.9M70.8 656.7h0.9M74.4 639.8h0.9M88.2 644.1h0.9M86.8 631.6h0.9M91.4 673.1h0.9M70.3 646.1h0.9M82.5 642.2h0.9M97.4 679.2h0.9M84.7 646.2h0.9M95.7 620.2h0.9M70.9 618.3h0.9M80.5 626.4h0.9M77.1 641.3h0.9M84.4 630.8h0.9M56.8 631.0h0.9M75.7 643.5h0.9M80.7 632.1h0.9M86.3 635.2h0.9M69.2 650.5h0.9M92.1 657.4h0.9M75.5 642.3h0.9M75.8 653.6h0.9M86.5 654.4h0.9M78.3 629.4h0.9M85.0 631.1h0.9M69.5 641.7h0.9M83.4 684.8h0.9M73.9 605.1h0.9M76.8 638.7h0.9M90.4 674.0h0.9M81.5 642.9h0.9M79.0 622.2h0.9M83.6 648.5h0.9M69.5 604.8h0.9M63.7 636.9h0.9M78.3 666.5h0.9M66.7 616.9h0.9M73.5 617.6h0.9M86.1 656.9h0.9M79.8 643.2h0.9M67.8 674.0h0.9M102.5 645.1h0.9M68.3 628.8h0.9M101.0 639.9h0.9M71.6 625.5h0.9M71.3 636.4h0.9M67.6 634.1h0.9M81.2 672.1h0.9M105.6 648.9h0.9M80.4 658.5h0.9M88.6 647.6h0.9M90.2 635.7h0.9M86.0 653.2h0.9M80.4 654.9h0.9M74.6 657.3h0.9M91.2 630.8h0.9M78.2 615.0h0.9M66.7 672.6h0.9M60.1 660.8h0.9M83.2 670.6h0.9M79.4 631.4h0.9M72.0 648.9h0.9M53.3 645.8h0.9M78.0 646.9h0.9M82.5 636.9h0.9M84.4 646.9h0.9M91.2 635.4h0.9M57.4 625.0h0.9M63.7 628.0h0.9M56.3 647.8h0.9M82.0 650.9h0.9M73.4 645.4h0.9M61.3 653.7h0.9M94.4 631.7h0.9M89.0 637.6h0.9M73.1 643.0h0.9M69.9 646.3h0.9M89.9 638.5h0.9M79.0 621.3h0.9M69.6 659.3h0.9M76.5 658.7h0.9M76.2 683.9h0.9M84.4 669.0h0.9M82.3 643.6h0.9M77.2 648.9h0.9M61.7 668.1h0.9M82.2 645.6h0.9M81.3 645.8h0.9M94.7 658.5h0.9M66.3 657.9h0.9M66.0 646.7h0.9M67.8 625.9h0.9M79.7 656.8h0.9M81.0 630.1h0.9M70.1 651.7h0.9M85.6 649.3h0.9M80.6 633.8h0.9M67.5 626.0h0.9M72.6 622.8h0.9M79.8 629.7h0.9M103.4 670.8h0.9M89.4 613.9h0.9M73.1 659.9h0.9M62.4 616.7h0.9M85.5 649.6h0.9M66.7 649.3h0.9M83.9 620.2h0.9M88.5 617.0h0.9M93.2 634.3h0.9M68.3 654.2h0.9M83.8 648.6h0.9M81.7 633.9h0.9M98.1 659.1h0.9M81.9 655.6h0.9M95.6 664.3h0.9M68.7 655.4h0.9M74.1 644.4h0.9M78.3 635.5h0.9M80.5 636.6h0.9M97.8 673.5h0.9M72.2 627.1h0.9M77.7 643.0h0.9M78.9 636.1h0.9M73.8 657.4h0.9M84.1 640.5h0.9M85.5 617.2h0.9M70.9 669.0h0.9M82.9 633.3h0.9M73.4 634.8h0.9M88.8 638.0h0.9M90.5 669.4h0.9M95.7 645.7h0.9M88.5 618.1h0.9M77.5 678.6h0.9M79.3 633.1h0.9M73.1 645.7h0.9M78.0 637.0h0.9M73.4 643.6h0.9M90.3 681.7h0.9M62.1 626.0h0.9M95.6 648.5h0.9M78.0 647.8h0.9M89.1 640.4h0.9M84.8 664.1h0.9M78.7 633.1h0.9M82.9 647.2h0.9M73.7 641.8h0.9M73.4 617.1h0.9M74.4 654.7h0.9M85.9 641.6h0.9M52.5 641.8h0.9M85.3 653.5h0.9" stroke="#5f80bc" stroke-width="0.9" opacity="0.45"/>
</g>
<rect x="53.6" y="616.2" width="64.20" height="63.80" fill="none" stroke="#5a5a5a" stroke-width="0.95"/>
<line x1="53.6" y1="615.7" x2="53.6" y2="680.6" stroke="#111" stroke-width="1.5"/>
<line x1="53.1" y1="680" x2="118.3" y2="680" stroke="#111" stroke-width="1.5"/>
<path d="M91.2 616.2 H117.8 V678.8 H80.1 L86.6 672.8 C87.8 666 88.6 658 88.9 650 C89.4 638 90.4 634.2 91.2 616.2 Z" fill="none" stroke="#1e2a36" stroke-width="1.35"/>
<line x1="91" y1="616.2" x2="117.8" y2="616.2" stroke="#222" stroke-width="2"/>
<text x="49.0" y="621.20" font-size="6.4" text-anchor="end" fill="#222" letter-spacing="0.1">250K</text>
<text x="49.0" y="633.28" font-size="6.4" text-anchor="end" fill="#222" letter-spacing="0.1">200K</text>
<text x="49.0" y="645.36" font-size="6.4" text-anchor="end" fill="#222" letter-spacing="0.1">150K</text>
<text x="49.0" y="657.44" font-size="6.4" text-anchor="end" fill="#222" letter-spacing="0.1">100K</text>
<text x="49.0" y="669.52" font-size="6.4" text-anchor="end" fill="#222" letter-spacing="0.1">50K</text>
<text x="49.0" y="681.60" font-size="6.4" text-anchor="end" fill="#222" letter-spacing="0.1">0</text>
<path d="M52.0 619.2h1.6M52.0 631.3h1.6M52.0 643.4h1.6M52.0 655.4h1.6M52.0 667.5h1.6M52.0 679.6h1.6" stroke="#111" stroke-width="0.9"/>
<text x="27.7" y="649.1" font-size="8.6" text-anchor="middle" font-weight="normal" fill="#222" transform="rotate(-90 27.7 649.1)" textLength="11.2" lengthAdjust="spacingAndGlyphs" >SSC</text>
<text x="58.5" y="690.5" font-size="6.0" text-anchor="middle" fill="#222" letter-spacing="0.2">−10<tspan dy="-2.4" font-size="4.14">3</tspan></text>
<text x="68.3" y="690.5" font-size="6.0" text-anchor="middle" fill="#222" letter-spacing="0.2">0</text>
<text x="79" y="690.5" font-size="6.0" text-anchor="middle" fill="#222" letter-spacing="0.2">10<tspan dy="-2.4" font-size="4.14">3</tspan></text>
<text x="96.5" y="690.5" font-size="6.0" text-anchor="middle" fill="#222" letter-spacing="0.2">10<tspan dy="-2.4" font-size="4.14">4</tspan></text>
<text x="111" y="690.5" font-size="6.0" text-anchor="middle" fill="#222" letter-spacing="0.2">10<tspan dy="-2.4" font-size="4.14">5</tspan></text>
<path d="M62.0 680v1.6M69.5 680v1.6M79.0 680v1.6M96.5 680v1.6M109.5 680v1.6" stroke="#111" stroke-width="0.9"/>
<text x="85" y="703" font-size="8.6" text-anchor="middle" font-weight="normal" fill="#222" textLength="16.8" lengthAdjust="spacingAndGlyphs" >CD127</text>
<text x="192.2" y="238.3" font-size="8.4" text-anchor="middle" font-weight="normal" fill="#222" textLength="36.2" lengthAdjust="spacingAndGlyphs" >E17.5 WT</text>
<g clip-path="url(#k9)">
<ellipse cx="194" cy="281" rx="10" ry="13" fill="#c4caec" opacity="0.6" filter="url(#b3)"/>
<path d="M188.4 287.5h0.9M204.0 280.3h0.9M190.1 290.9h0.9M209.7 281.4h0.9M199.7 272.0h0.9M183.1 276.6h0.9M202.3 266.4h0.9M209.2 271.9h0.9M190.7 265.4h0.9M215.9 289.1h0.9M211.9 284.9h0.9M184.1 275.2h0.9M199.4 267.9h0.9M214.4 276.5h0.9M188.1 291.8h0.9M187.1 295.6h0.9M198.0 282.8h0.9M194.3 280.5h0.9M189.2 265.3h0.9M211.6 272.0h0.9M208.7 271.1h0.9M215.0 294.4h0.9M207.9 289.9h0.9M202.2 288.8h0.9M187.0 280.2h0.9M210.3 270.8h0.9M213.5 294.2h0.9M196.5 276.4h0.9M197.9 277.1h0.9M215.8 277.1h0.9M183.9 267.2h0.9M206.7 297.8h0.9M199.4 280.7h0.9M201.2 289.4h0.9M190.3 284.7h0.9M201.4 285.2h0.9M189.0 269.8h0.9M194.5 295.5h0.9M194.4 284.3h0.9M193.1 267.5h0.9M185.2 291.7h0.9M208.6 276.7h0.9M205.6 287.0h0.9M212.7 296.6h0.9M196.4 297.6h0.9M214.7 284.1h0.9M212.1 280.7h0.9M195.4 272.4h0.9M211.9 269.5h0.9M185.3 291.4h0.9M208.5 280.4h0.9M210.6 265.8h0.9M191.5 273.9h0.9M196.8 269.8h0.9M185.3 275.5h0.9M212.7 297.4h0.9M207.6 280.3h0.9M191.3 296.6h0.9M200.3 288.8h0.9M183.9 271.2h0.9M210.7 291.0h0.9M212.1 284.4h0.9M197.1 283.8h0.9M211.0 274.5h0.9M200.6 273.4h0.9M208.4 264.3h0.9M205.6 296.4h0.9M183.8 284.2h0.9M204.2 293.0h0.9M202.3 272.7h0.9M196.4 296.6h0.9M212.9 268.5h0.9M186.1 267.2h0.9M183.8 279.2h0.9M187.6 293.5h0.9M204.6 268.3h0.9M200.8 275.0h0.9M199.3 271.5h0.9M188.5 270.3h0.9M195.5 288.1h0.9M201.2 265.6h0.9M206.5 293.7h0.9M208.6 290.9h0.9M183.3 279.8h0.9M185.1 290.0h0.9M188.8 288.2h0.9M191.3 287.7h0.9M193.3 265.4h0.9M195.8 274.5h0.9M212.7 274.0h0.9M199.6 282.7h0.9M214.3 267.4h0.9M202.8 281.3h0.9M207.2 296.9h0.9M193.2 287.8h0.9M200.4 283.1h0.9M185.1 291.7h0.9M215.2 276.1h0.9M193.5 297.8h0.9M186.6 266.6h0.9M185.4 291.7h0.9M208.1 279.2h0.9M203.5 264.7h0.9M204.3 279.0h0.9M200.1 277.2h0.9M196.2 271.7h0.9M184.6 278.8h0.9M191.2 287.9h0.9M210.0 288.6h0.9M198.0 272.0h0.9M195.7 280.6h0.9M203.9 296.7h0.9M185.8 280.3h0.9M199.2 288.4h0.9M212.4 290.5h0.9M203.7 289.8h0.9M205.0 293.2h0.9M206.1 287.2h0.9M191.1 295.2h0.9M195.7 284.9h0.9M210.2 296.8h0.9M215.6 264.2h0.9M193.3 274.6h0.9M195.9 268.9h0.9M201.3 266.7h0.9M193.0 296.1h0.9M207.5 279.7h0.9M186.6 296.5h0.9M206.2 271.0h0.9M194.1 285.8h0.9M205.5 272.9h0.9M214.4 275.0h0.9M191.4 292.7h0.9M188.1 287.2h0.9M189.6 284.3h0.9M192.2 276.9h0.9M214.0 279.9h0.9M197.4 285.0h0.9M192.3 269.9h0.9M195.7 273.3h0.9M189.2 296.7h0.9M184.1 291.6h0.9M213.8 288.0h0.9M183.6 281.0h0.9M184.3 284.7h0.9M206.1 272.2h0.9M183.3 282.5h0.9M186.1 274.5h0.9M198.0 294.4h0.9M195.2 268.6h0.9" stroke="#9aa4d8" stroke-width="0.9" opacity="0.45"/>
<path d="M191.4 263.0h0.9M185.8 280.4h0.9M190.7 290.4h0.9M183.3 278.7h0.9M192.4 262.8h0.9M200.9 271.6h0.9M197.2 282.5h0.9M201.1 291.4h0.9M187.8 264.1h0.9M188.9 284.2h0.9M191.8 268.5h0.9M190.0 272.4h0.9M187.2 290.3h0.9M185.1 294.4h0.9M190.1 278.6h0.9M195.6 285.9h0.9M186.0 275.2h0.9M187.7 284.5h0.9M196.0 283.7h0.9M183.7 267.8h0.9M189.8 284.9h0.9M195.9 275.8h0.9M186.8 268.9h0.9M199.6 289.9h0.9M188.5 283.8h0.9M185.0 276.5h0.9M186.0 269.7h0.9M195.2 297.6h0.9M185.9 274.7h0.9M194.8 279.1h0.9M203.4 272.6h0.9M188.3 279.6h0.9M185.5 276.3h0.9M195.9 275.8h0.9M191.5 276.4h0.9M196.9 280.8h0.9M189.8 264.8h0.9M192.9 274.6h0.9M194.2 286.1h0.9M191.8 292.2h0.9M190.6 272.3h0.9M189.1 282.7h0.9M198.2 283.4h0.9M188.8 285.6h0.9M195.7 275.7h0.9M194.6 273.6h0.9M191.7 286.2h0.9M189.5 264.5h0.9M184.9 274.8h0.9M200.7 285.1h0.9M187.0 264.9h0.9M194.8 280.6h0.9M187.5 281.5h0.9M183.3 269.7h0.9M189.6 287.8h0.9M186.7 262.8h0.9M185.7 281.4h0.9M195.7 268.5h0.9M184.2 286.4h0.9M190.5 263.6h0.9M192.2 278.1h0.9M196.5 263.8h0.9M193.3 285.0h0.9M185.4 276.8h0.9M190.7 274.2h0.9M185.6 273.4h0.9M188.9 287.7h0.9M190.1 295.9h0.9M184.9 285.8h0.9M189.5 283.7h0.9M185.6 271.2h0.9M198.3 295.4h0.9M187.2 279.3h0.9M186.5 267.7h0.9M194.6 278.7h0.9M183.7 287.9h0.9M188.3 266.8h0.9M190.0 298.4h0.9M198.0 282.8h0.9M183.2 283.0h0.9M194.9 287.0h0.9M194.4 296.4h0.9M185.1 288.9h0.9M188.5 284.1h0.9M189.6 286.3h0.9M188.6 285.8h0.9M184.6 279.9h0.9M191.1 295.8h0.9M185.1 280.0h0.9M188.4 294.5h0.9M191.9 284.8h0.9M193.9 281.5h0.9M196.0 283.5h0.9M197.3 270.2h0.9M184.1 278.0h0.9M190.6 279.2h0.9M199.8 277.2h0.9M186.4 268.9h0.9M191.3 288.8h0.9M193.4 283.7h0.9M193.2 285.8h0.9M191.1 264.9h0.9M191.6 287.9h0.9M195.9 290.5h0.9M183.2 283.6h0.9M190.6 292.1h0.9M185.9 289.4h0.9M183.8 284.0h0.9M192.8 282.4h0.9M192.3 274.3h0.9M185.5 274.7h0.9M183.5 272.1h0.9M187.3 268.8h0.9M184.0 286.7h0.9M185.1 270.3h0.9M190.2 276.4h0.9M191.8 275.8h0.9M194.2 280.8h0.9M191.5 289.7h0.9M184.1 275.3h0.9M186.7 298.7h0.9M198.2 269.5h0.9M196.2 279.4h0.9M185.5 269.5h0.9M198.0 278.2h0.9M187.0 286.1h0.9M185.1 284.6h0.9M191.1 281.1h0.9M197.5 285.3h0.9M194.4 288.7h0.9M185.8 291.4h0.9M186.3 271.0h0.9M192.8 287.2h0.9M184.0 262.9h0.9M193.4 280.0h0.9M183.7 274.9h0.9M184.0 262.5h0.9M192.3 287.9h0.9M194.0 277.4h0.9M185.8 298.2h0.9M194.4 281.2h0.9M191.2 289.0h0.9M188.4 283.2h0.9M189.4 275.2h0.9M195.9 265.3h0.9M184.9 276.8h0.9M188.2 276.5h0.9M193.4 277.3h0.9M187.9 288.0h0.9M195.1 267.9h0.9M187.3 273.6h0.9M185.4 288.7h0.9M190.9 280.9h0.9M203.3 276.1h0.9M189.0 274.7h0.9M199.3 266.0h0.9M197.6 289.0h0.9M192.4 291.9h0.9M197.2 293.4h0.9M187.7 278.5h0.9M186.6 286.1h0.9M203.9 290.4h0.9M195.4 278.7h0.9M190.3 288.8h0.9M188.4 273.9h0.9M202.0 290.2h0.9M191.9 289.7h0.9M185.9 288.2h0.9M194.4 289.2h0.9M190.7 282.3h0.9M189.5 288.1h0.9M184.8 288.0h0.9M193.3 268.5h0.9M185.6 273.0h0.9M187.1 295.9h0.9M196.5 279.2h0.9M190.6 278.5h0.9M187.1 273.3h0.9M188.0 270.5h0.9M192.4 286.5h0.9M192.6 279.7h0.9M200.0 277.8h0.9M188.6 291.6h0.9M185.5 274.1h0.9M185.4 271.1h0.9M193.8 281.8h0.9M184.7 285.6h0.9M197.0 275.1h0.9M193.1 271.9h0.9M194.2 284.5h0.9M183.5 287.5h0.9M185.8 282.5h0.9M188.4 287.4h0.9M189.8 298.0h0.9M192.4 292.9h0.9M186.1 266.3h0.9M203.1 293.7h0.9M192.6 271.6h0.9M194.0 270.5h0.9M191.4 289.8h0.9M191.4 270.9h0.9M192.1 282.6h0.9M191.6 293.2h0.9M183.3 272.4h0.9M190.4 292.5h0.9M189.5 285.4h0.9M186.2 285.2h0.9M185.1 281.6h0.9M187.0 271.0h0.9M186.6 285.2h0.9M192.8 265.5h0.9M197.4 269.0h0.9M199.7 286.9h0.9M186.6 273.4h0.9M190.1 270.9h0.9M189.2 271.4h0.9M191.7 277.3h0.9M188.2 272.8h0.9M192.7 285.3h0.9M195.4 277.3h0.9M185.6 287.3h0.9M187.3 298.4h0.9M193.6 290.7h0.9M192.2 278.1h0.9M196.2 278.5h0.9M188.1 275.4h0.9M190.3 271.5h0.9M205.6 276.0h0.9M188.8 289.0h0.9M189.2 286.8h0.9M187.7 277.8h0.9M187.2 268.1h0.9M193.1 277.4h0.9M195.7 288.3h0.9M197.4 273.8h0.9M190.6 274.5h0.9M184.2 289.0h0.9M196.6 283.0h0.9M200.8 300.0h0.9M183.6 295.4h0.9M183.1 277.2h0.9M186.4 278.7h0.9M187.8 272.4h0.9M187.3 275.8h0.9M184.5 277.5h0.9M193.3 282.8h0.9M192.0 272.9h0.9M193.4 280.0h0.9M183.8 264.6h0.9M189.8 272.1h0.9M188.0 292.5h0.9M188.4 295.8h0.9M188.8 286.7h0.9M192.4 291.6h0.9M191.4 278.2h0.9M187.9 283.9h0.9M184.9 276.0h0.9M200.8 274.0h0.9M192.4 287.8h0.9M185.9 290.4h0.9" stroke="#8696d0" stroke-width="0.9" opacity="0.5"/>
<ellipse cx="186" cy="290" rx="4" ry="6" fill="#a8c4e0" opacity="0.6" filter="url(#b2)"/>
<path d="M200.9 265.7h0.9M203.3 265.7h0.9M191.5 264.4h0.9M201.5 261.5h0.9M185.8 262.0h0.9M189.8 261.6h0.9M192.8 261.3h0.9M197.6 262.7h0.9M188.8 261.0h0.9M198.4 261.5h0.9M192.9 260.7h0.9M182.1 262.0h0.9M188.5 262.3h0.9M194.2 261.7h0.9M203.7 260.9h0.9M205.8 263.0h0.9M217.9 260.8h0.9M191.4 263.1h0.9M203.0 261.9h0.9M203.0 262.7h0.9M185.2 263.0h0.9M203.6 263.2h0.9M196.0 260.9h0.9M202.7 265.0h0.9M185.6 263.6h0.9M182.4 262.8h0.9M175.3 262.1h0.9M201.9 259.8h0.9M186.0 262.7h0.9M194.7 263.0h0.9M207.9 260.3h0.9M198.7 259.0h0.9M172.5 260.7h0.9M174.8 263.3h0.9M203.8 263.4h0.9M183.7 261.1h0.9M183.0 262.1h0.9M188.6 264.4h0.9M200.1 260.2h0.9M208.6 262.8h0.9M203.8 262.5h0.9M207.2 264.5h0.9M203.3 265.0h0.9M201.9 263.0h0.9M190.8 258.6h0.9M206.9 263.6h0.9M188.1 264.0h0.9M198.3 262.7h0.9M211.8 264.3h0.9M186.0 262.6h0.9M205.1 264.5h0.9M201.3 261.8h0.9M200.0 259.1h0.9M207.3 262.4h0.9M192.5 261.2h0.9M198.3 261.0h0.9M189.0 260.7h0.9M211.0 262.3h0.9M201.1 263.1h0.9M192.0 263.9h0.9M195.7 261.1h0.9M188.8 261.8h0.9M193.1 264.9h0.9M176.6 264.5h0.9M208.8 265.3h0.9M191.2 261.0h0.9M207.2 263.7h0.9M199.4 260.9h0.9M194.7 260.3h0.9M210.4 264.4h0.9M193.5 264.4h0.9M198.2 258.8h0.9M201.7 261.1h0.9M199.6 261.7h0.9M188.9 261.9h0.9M205.5 260.4h0.9M189.1 259.7h0.9M192.0 264.1h0.9M202.9 263.5h0.9M201.0 265.3h0.9M209.2 265.4h0.9M190.0 261.3h0.9M203.4 263.8h0.9M192.9 262.1h0.9M204.5 262.3h0.9M191.0 263.1h0.9M192.5 263.5h0.9M198.9 261.9h0.9M189.9 264.3h0.9M190.0 262.7h0.9M194.1 262.6h0.9M194.0 264.3h0.9M197.9 260.6h0.9M187.0 263.8h0.9M195.3 264.7h0.9M200.8 264.8h0.9M185.7 261.9h0.9M207.1 260.2h0.9M202.8 262.4h0.9M205.3 261.9h0.9M191.1 264.0h0.9M214.5 260.4h0.9M199.3 261.1h0.9M201.0 263.3h0.9M191.2 260.0h0.9M197.6 262.6h0.9M204.3 262.4h0.9M205.6 263.0h0.9M209.0 264.4h0.9M186.2 262.0h0.9M200.7 262.1h0.9M200.1 265.6h0.9M190.3 261.3h0.9M190.1 264.5h0.9M215.3 261.0h0.9M216.2 260.0h0.9M198.3 262.8h0.9M199.9 261.3h0.9M188.1 262.2h0.9M205.5 262.2h0.9M200.6 263.4h0.9M209.1 260.6h0.9M210.1 266.1h0.9M188.1 264.6h0.9M182.5 261.1h0.9M195.0 262.5h0.9M182.4 261.3h0.9M184.3 264.3h0.9M189.9 263.1h0.9M193.4 263.5h0.9M176.8 262.5h0.9M185.5 260.8h0.9M200.3 264.1h0.9M190.1 261.6h0.9M213.1 262.7h0.9M205.1 264.4h0.9M203.6 262.3h0.9M196.1 264.1h0.9M175.4 261.2h0.9M200.7 263.6h0.9M202.1 261.6h0.9M190.6 260.0h0.9M198.9 262.5h0.9M198.0 258.5h0.9M193.9 260.6h0.9M204.9 263.8h0.9M202.5 263.5h0.9M206.4 263.0h0.9M190.6 262.8h0.9M197.5 263.2h0.9M201.1 262.7h0.9M199.1 262.4h0.9M195.2 260.6h0.9M191.2 261.7h0.9M211.4 262.1h0.9M190.0 263.6h0.9M201.1 262.0h0.9M204.8 260.7h0.9M188.0 261.6h0.9M194.1 262.1h0.9M197.0 264.2h0.9M197.6 263.2h0.9M195.1 260.7h0.9M196.6 260.7h0.9M202.6 262.0h0.9M188.6 262.4h0.9M198.1 261.6h0.9M188.6 261.9h0.9M192.9 261.6h0.9M174.6 261.1h0.9" stroke="#8494d0" stroke-width="0.9" opacity="0.6"/>
<ellipse cx="197" cy="262.5" rx="13" ry="2.6" fill="#aab4e4" opacity="0.85" filter="url(#b2)"/>
<ellipse cx="177.3" cy="276.5" rx="5.2" ry="23" fill="#6f9ccc" opacity="0.65" filter="url(#b1)"/>
<ellipse cx="177.3" cy="265" rx="4.6" ry="10" fill="#58b4bc" opacity="0.85" filter="url(#b1)"/>
<ellipse cx="177" cy="292" rx="4.8" ry="7.5" fill="#58b4bc" opacity="0.85" filter="url(#b1)"/>
<ellipse cx="177.3" cy="278" rx="3.8" ry="19.5" fill="#74c284" opacity="0.9" filter="url(#b1)"/>
<ellipse cx="177.3" cy="266" rx="2.8" ry="7" fill="#9ccf62" opacity="0.95" filter="url(#b1)"/>
<ellipse cx="177.2" cy="267" rx="1.8" ry="4.2" fill="#e4cc3c" opacity="1" filter="url(#b1)"/>
<ellipse cx="176.6" cy="292.5" rx="3.3" ry="4.8" fill="#9ccf62" opacity="0.95" filter="url(#b1)"/>
<ellipse cx="176.6" cy="293" rx="2.3" ry="3.2" fill="#eab23a" opacity="1" filter="url(#b1)"/>
<ellipse cx="176.6" cy="293.5" rx="1.2" ry="1.6" fill="#e47a2c" opacity="0.9" filter="url(#b1)"/>
</g>
<rect x="161.3" y="247.5" width="62.50" height="61.30" fill="none" stroke="#5a5a5a" stroke-width="0.95"/>
<line x1="161.3" y1="247.0" x2="161.3" y2="309.40000000000003" stroke="#111" stroke-width="1.5"/>
<line x1="160.8" y1="308.8" x2="224.3" y2="308.8" stroke="#111" stroke-width="1.5"/>
<rect x="165.3" y="250.3" width="18.70" height="25.00" fill="none" stroke="#1c1c1c" stroke-width="1.25"/>
<text x="157.10000000000002" y="254.50" font-size="6.0" text-anchor="end" fill="#222" letter-spacing="0.2">10<tspan dy="-2.4" font-size="4.14">5</tspan></text>
<text x="157.10000000000002" y="269.50" font-size="6.0" text-anchor="end" fill="#222" letter-spacing="0.2">10<tspan dy="-2.4" font-size="4.14">4</tspan></text>
<text x="157.10000000000002" y="285.80" font-size="6.0" text-anchor="end" fill="#222" letter-spacing="0.2">10<tspan dy="-2.4" font-size="4.14">3</tspan></text>
<text x="157.10000000000002" y="299.50" font-size="6.0" text-anchor="end" fill="#222" letter-spacing="0.2">0</text>
<path d="M159.70000000000002 252.5h1.6M159.70000000000002 267.5h1.6M159.70000000000002 283.8h1.6M159.70000000000002 297.5h1.6" stroke="#111" stroke-width="0.9"/>
<text x="141.3" y="281" font-size="8.6" text-anchor="middle" font-weight="normal" fill="#222" transform="rotate(-90 141.3 281)" textLength="10" lengthAdjust="spacingAndGlyphs" >cKit</text>
<text x="167.5" y="318.6" font-size="6.0" text-anchor="middle" fill="#222" letter-spacing="0.2">−10<tspan dy="-2.4" font-size="4.14">3</tspan></text>
<text x="175.5" y="318.6" font-size="6.0" text-anchor="middle" fill="#222" letter-spacing="0.2">0</text>
<text x="184" y="318.6" font-size="6.0" text-anchor="middle" fill="#222" letter-spacing="0.2">10<tspan dy="-2.4" font-size="4.14">3</tspan></text>
<text x="204" y="318.6" font-size="6.0" text-anchor="middle" fill="#222" letter-spacing="0.2">10<tspan dy="-2.4" font-size="4.14">4</tspan></text>
<text x="216.5" y="318.6" font-size="6.0" text-anchor="middle" fill="#222" letter-spacing="0.2">10<tspan dy="-2.4" font-size="4.14">5</tspan></text>
<path d="M167.5 308.8v1.6M175.5 308.8v1.6M184.0 308.8v1.6M204.0 308.8v1.6M216.5 308.8v1.6" stroke="#111" stroke-width="0.9"/>
<text x="191.6" y="332.3" font-size="8.6" text-anchor="middle" font-weight="normal" fill="#222" textLength="15" lengthAdjust="spacingAndGlyphs" >Sca-1</text>
<text x="192.5" y="360" font-size="8.4" text-anchor="middle" font-weight="normal" fill="#222" textLength="36.2" lengthAdjust="spacingAndGlyphs" >E17.5 KO</text>
<g clip-path="url(#k10)">
<ellipse cx="194" cy="404" rx="12" ry="12" fill="#b3bde4" opacity="0.65" filter="url(#b3)"/>
<path d="M217.5 388.3h0.9M182.9 420.9h0.9M188.8 387.6h0.9M206.1 396.1h0.9M214.9 391.8h0.9M217.5 395.1h0.9M204.2 418.4h0.9M207.4 418.1h0.9M208.2 384.8h0.9M214.6 405.4h0.9M193.5 390.2h0.9M213.4 405.1h0.9M216.7 412.4h0.9M217.6 404.5h0.9M207.8 406.3h0.9M191.6 419.4h0.9M193.6 412.7h0.9M217.3 407.7h0.9M187.3 414.4h0.9M206.7 390.0h0.9M183.8 403.2h0.9M183.2 418.2h0.9M200.7 402.7h0.9M197.1 408.1h0.9M215.9 394.7h0.9M195.8 405.1h0.9M193.0 405.6h0.9M202.1 399.5h0.9M206.9 403.1h0.9M185.3 420.9h0.9M195.2 399.4h0.9M196.9 418.3h0.9M217.2 402.5h0.9M196.8 386.7h0.9M215.1 389.5h0.9M202.2 396.3h0.9M194.1 396.6h0.9M189.1 384.4h0.9M201.8 413.2h0.9M205.9 390.7h0.9M207.7 385.0h0.9M197.2 414.5h0.9M216.1 400.5h0.9M213.3 401.9h0.9M201.4 405.2h0.9M218.7 411.3h0.9M199.5 410.6h0.9M205.8 396.4h0.9M211.0 414.2h0.9M204.5 418.8h0.9M182.7 402.0h0.9M205.5 395.9h0.9M188.3 409.3h0.9M198.1 393.2h0.9M183.5 419.8h0.9M195.0 387.5h0.9M190.0 392.7h0.9M214.0 389.9h0.9M192.2 386.7h0.9M199.4 390.9h0.9M194.7 410.9h0.9M216.2 414.7h0.9M183.4 397.4h0.9M213.4 384.3h0.9M189.5 401.6h0.9M196.1 411.5h0.9M208.6 400.6h0.9M191.2 391.8h0.9M191.9 385.5h0.9M206.6 389.0h0.9M214.9 407.5h0.9M184.1 402.0h0.9M204.3 384.6h0.9M200.0 384.1h0.9M210.4 383.2h0.9M205.4 420.5h0.9M213.3 391.9h0.9M201.8 388.3h0.9M194.7 415.8h0.9M212.3 383.3h0.9M196.1 407.3h0.9M188.5 413.5h0.9M215.0 404.0h0.9M195.4 415.2h0.9M201.0 390.2h0.9M192.3 389.0h0.9M213.0 402.4h0.9M207.8 414.1h0.9M218.0 390.2h0.9M197.0 416.2h0.9M210.2 397.7h0.9M206.3 390.4h0.9M188.0 384.9h0.9M196.0 392.0h0.9M201.2 419.8h0.9M187.7 404.2h0.9M214.0 405.7h0.9M201.5 412.2h0.9M182.8 419.0h0.9M207.4 413.7h0.9M212.5 386.7h0.9M184.5 389.8h0.9M200.7 418.7h0.9M215.6 398.7h0.9M205.0 411.1h0.9M194.3 419.9h0.9M216.8 410.6h0.9M215.4 413.4h0.9M206.1 395.2h0.9M192.4 392.1h0.9M184.1 418.2h0.9M193.0 383.9h0.9M193.7 386.9h0.9M198.5 395.6h0.9M188.5 401.1h0.9M197.3 396.5h0.9M212.1 394.7h0.9M202.0 416.4h0.9M217.5 397.2h0.9M183.5 419.1h0.9M201.0 391.3h0.9M186.7 392.1h0.9M193.5 388.3h0.9M183.8 420.8h0.9M212.3 387.3h0.9M199.8 413.5h0.9M200.7 385.6h0.9M194.6 397.5h0.9M215.8 405.1h0.9M199.0 407.0h0.9M183.8 409.1h0.9M211.9 408.5h0.9M195.4 393.9h0.9M182.4 386.1h0.9M187.7 400.2h0.9M210.8 391.3h0.9M199.5 407.2h0.9M205.3 383.8h0.9M216.1 405.2h0.9M193.2 392.1h0.9M207.5 418.4h0.9M194.5 398.1h0.9M202.6 389.6h0.9M197.0 417.9h0.9M202.6 414.3h0.9M191.7 416.0h0.9M211.0 391.6h0.9M201.6 408.9h0.9M203.2 405.9h0.9M190.9 404.0h0.9M195.1 413.3h0.9M195.8 420.2h0.9M203.5 391.7h0.9M197.4 387.9h0.9M209.2 384.7h0.9M204.4 394.7h0.9M210.8 387.8h0.9M207.2 410.1h0.9M190.6 387.9h0.9M195.8 407.7h0.9M191.7 383.3h0.9M198.3 413.7h0.9M187.8 418.7h0.9M200.8 389.1h0.9M185.7 397.1h0.9M199.6 389.7h0.9M185.1 402.0h0.9M191.4 399.9h0.9M198.7 409.5h0.9M203.4 391.7h0.9M188.6 415.6h0.9M183.9 387.7h0.9M184.6 414.4h0.9M202.0 418.1h0.9M205.2 395.7h0.9M197.9 410.8h0.9M190.6 413.5h0.9M197.1 384.6h0.9M194.7 404.3h0.9M187.4 417.4h0.9M216.3 402.4h0.9M215.5 409.2h0.9M201.9 389.0h0.9M217.3 417.9h0.9M198.7 397.6h0.9M184.7 406.5h0.9M213.6 397.8h0.9M192.7 406.3h0.9M211.4 389.4h0.9M192.4 407.4h0.9M183.5 414.0h0.9M193.7 414.6h0.9M198.8 389.3h0.9M182.7 387.3h0.9M191.6 411.8h0.9M211.4 407.0h0.9M193.4 408.2h0.9M209.1 397.0h0.9M185.0 400.8h0.9M190.2 390.2h0.9M196.5 385.8h0.9M215.2 393.7h0.9M215.2 411.0h0.9M182.4 417.2h0.9M211.9 403.0h0.9M214.7 401.2h0.9M182.9 388.7h0.9M193.5 415.6h0.9M212.7 387.5h0.9M194.9 387.2h0.9M190.5 396.4h0.9M197.3 388.7h0.9M206.3 392.2h0.9M214.9 401.3h0.9M197.9 412.1h0.9M194.8 392.8h0.9M186.5 394.2h0.9M190.7 410.9h0.9M195.1 409.9h0.9M192.2 385.7h0.9" stroke="#90a0d4" stroke-width="0.9" opacity="0.45"/>
<path d="M187.3 411.4h0.9M194.5 398.4h0.9M191.1 407.7h0.9M195.2 399.0h0.9M198.8 405.6h0.9M186.6 399.5h0.9M202.7 402.1h0.9M184.4 385.9h0.9M185.7 401.4h0.9M184.1 401.4h0.9M189.0 404.7h0.9M191.5 404.8h0.9M184.3 400.1h0.9M190.4 407.2h0.9M186.5 390.9h0.9M188.4 400.9h0.9M185.0 418.8h0.9M187.3 405.3h0.9M193.2 404.8h0.9M185.3 406.8h0.9M190.4 397.6h0.9M187.0 415.0h0.9M199.3 385.9h0.9M187.1 409.0h0.9M187.3 405.9h0.9M188.1 418.9h0.9M196.3 401.0h0.9M201.8 409.2h0.9M203.9 398.2h0.9M190.9 385.5h0.9M191.1 394.8h0.9M186.9 403.8h0.9M190.6 397.8h0.9M184.4 411.1h0.9M203.3 395.1h0.9M183.4 408.3h0.9M190.7 392.4h0.9M200.6 392.8h0.9M202.0 397.6h0.9M183.1 397.9h0.9M201.7 403.7h0.9M190.1 386.0h0.9M190.1 399.3h0.9M187.4 394.6h0.9M194.8 404.0h0.9M191.4 408.7h0.9M187.5 401.6h0.9M192.9 404.3h0.9M190.0 390.0h0.9M199.6 414.8h0.9M192.2 404.9h0.9M184.1 420.5h0.9M204.7 400.2h0.9M193.2 413.4h0.9M191.3 415.0h0.9M188.9 408.2h0.9M191.1 411.3h0.9M184.9 406.7h0.9M187.9 408.7h0.9M186.7 416.4h0.9M200.5 395.2h0.9M195.6 409.4h0.9M186.5 401.2h0.9M191.9 391.4h0.9M190.5 404.6h0.9M197.5 409.8h0.9M190.4 406.4h0.9M196.8 403.2h0.9M196.6 395.7h0.9M204.9 400.5h0.9M187.6 407.0h0.9M199.1 393.6h0.9M184.2 409.0h0.9M198.3 409.7h0.9M192.1 390.5h0.9M185.7 386.5h0.9M184.4 414.4h0.9M202.5 399.2h0.9M194.8 415.5h0.9M195.4 401.0h0.9M187.6 402.4h0.9M193.8 401.6h0.9M185.6 404.6h0.9M184.3 401.9h0.9M187.4 412.4h0.9M183.3 392.9h0.9M194.7 400.8h0.9M186.0 402.5h0.9M187.4 392.5h0.9M195.4 392.7h0.9M190.6 399.6h0.9M183.7 395.3h0.9M191.9 398.0h0.9M200.3 410.1h0.9M186.1 411.5h0.9M198.4 385.3h0.9M183.7 404.7h0.9M196.8 394.4h0.9M201.3 392.6h0.9M201.0 405.6h0.9M190.6 399.1h0.9M195.3 406.2h0.9M195.0 395.2h0.9M188.3 412.1h0.9M192.7 396.8h0.9M197.8 394.6h0.9M214.6 399.2h0.9M199.0 413.2h0.9M185.1 407.2h0.9M204.2 414.9h0.9M197.7 394.4h0.9M184.6 402.1h0.9M202.1 394.6h0.9M195.2 413.3h0.9M196.3 401.8h0.9M184.7 408.8h0.9M187.2 405.6h0.9M185.8 396.6h0.9M186.2 391.8h0.9M197.3 388.2h0.9M192.9 397.5h0.9M193.8 385.4h0.9M189.9 402.4h0.9M201.2 412.0h0.9M192.9 401.3h0.9M190.3 412.1h0.9M200.4 408.0h0.9M199.6 387.0h0.9M197.6 421.8h0.9M191.0 396.3h0.9M199.7 390.5h0.9M194.0 390.7h0.9M202.0 402.8h0.9M185.5 402.0h0.9M201.1 417.5h0.9M192.1 400.2h0.9M202.3 403.8h0.9M185.8 421.5h0.9M203.3 407.0h0.9M192.6 412.1h0.9M190.4 412.9h0.9M194.4 403.9h0.9M200.7 416.3h0.9M193.9 398.5h0.9M185.7 391.7h0.9M188.9 418.2h0.9M191.5 411.7h0.9M197.0 403.3h0.9M191.5 396.9h0.9M193.0 411.3h0.9M189.7 403.1h0.9M195.1 404.2h0.9M193.7 385.3h0.9M194.3 387.5h0.9M196.2 401.9h0.9M187.7 391.5h0.9M198.4 399.3h0.9M187.7 384.9h0.9M203.3 398.2h0.9M184.6 414.8h0.9M190.3 418.2h0.9M189.2 396.2h0.9M197.5 410.7h0.9M184.2 396.8h0.9M186.7 398.2h0.9M196.2 388.1h0.9M199.0 408.1h0.9M196.8 410.7h0.9M184.6 387.9h0.9M199.8 402.7h0.9M194.3 412.6h0.9M190.6 393.6h0.9M184.1 403.1h0.9M193.6 415.4h0.9M197.8 417.0h0.9M187.2 405.5h0.9M190.4 400.0h0.9M186.7 416.0h0.9M202.4 403.5h0.9M184.2 419.4h0.9M199.3 400.6h0.9M196.5 406.2h0.9M190.0 401.9h0.9M183.5 393.0h0.9M189.5 392.4h0.9M193.6 400.1h0.9M184.1 406.3h0.9M184.8 399.5h0.9M183.4 409.1h0.9M191.7 400.9h0.9M189.0 407.5h0.9M187.0 385.2h0.9M203.9 403.8h0.9M196.5 394.4h0.9M195.1 398.8h0.9M189.2 398.1h0.9M183.1 393.1h0.9M200.1 404.5h0.9M193.7 400.2h0.9M200.9 405.0h0.9M193.7 392.5h0.9M200.0 409.2h0.9M186.8 395.9h0.9M193.9 390.5h0.9M191.3 394.9h0.9M202.0 396.4h0.9M198.9 402.7h0.9M183.0 387.0h0.9M188.9 405.2h0.9M185.4 398.8h0.9M184.2 401.3h0.9M191.4 400.3h0.9M187.2 397.6h0.9M193.1 393.0h0.9M198.7 412.7h0.9M198.3 415.2h0.9M199.7 388.4h0.9M191.9 387.3h0.9M193.4 409.9h0.9M188.7 410.2h0.9M183.5 397.2h0.9M190.7 402.0h0.9M194.4 396.9h0.9M186.9 397.6h0.9M183.0 405.4h0.9M196.7 393.2h0.9M187.1 387.9h0.9M185.8 400.6h0.9M186.7 399.2h0.9M187.4 406.2h0.9M195.5 408.9h0.9M189.6 403.9h0.9M185.4 407.3h0.9M187.6 407.8h0.9M198.0 393.2h0.9M192.5 410.0h0.9M185.5 407.5h0.9M193.5 398.6h0.9M191.2 405.0h0.9M189.7 404.7h0.9M189.2 404.6h0.9M199.2 411.0h0.9M194.3 416.9h0.9M201.0 395.4h0.9M188.5 387.7h0.9M206.5 405.6h0.9M191.1 403.1h0.9M187.2 407.6h0.9M190.5 413.5h0.9M198.2 390.5h0.9M195.7 394.1h0.9M197.5 414.6h0.9M194.9 401.8h0.9M184.0 395.5h0.9M192.1 401.7h0.9M196.4 402.0h0.9M198.7 399.7h0.9M201.1 403.2h0.9M204.6 385.9h0.9M189.4 410.7h0.9M187.6 393.3h0.9M188.4 404.0h0.9M191.4 407.1h0.9M192.3 409.7h0.9M197.1 407.1h0.9M184.0 392.1h0.9M185.2 385.1h0.9M190.2 401.7h0.9M198.3 397.2h0.9M203.5 401.2h0.9M187.6 402.7h0.9M201.3 411.9h0.9M192.6 402.1h0.9M186.5 389.0h0.9M188.7 398.7h0.9M202.9 397.7h0.9M200.4 403.0h0.9M187.3 408.5h0.9M204.2 405.6h0.9M193.1 400.2h0.9M191.1 401.0h0.9M189.2 404.0h0.9M192.2 407.5h0.9M203.1 398.6h0.9M192.7 403.7h0.9M187.3 420.1h0.9M198.6 389.9h0.9M196.6 385.5h0.9M197.2 393.5h0.9M199.6 409.3h0.9M196.1 397.4h0.9M199.3 396.2h0.9M188.9 394.4h0.9M202.7 399.0h0.9M197.9 403.1h0.9M187.1 418.9h0.9M189.7 401.3h0.9M196.5 395.8h0.9M192.3 405.5h0.9M195.4 405.3h0.9M200.9 409.7h0.9M195.5 410.1h0.9M185.3 393.0h0.9M187.7 412.6h0.9M184.1 397.3h0.9M183.4 384.2h0.9M200.9 399.1h0.9M189.9 402.3h0.9M202.5 401.0h0.9M191.9 408.3h0.9M194.8 410.8h0.9M195.2 400.0h0.9M194.1 390.5h0.9M189.1 412.9h0.9M200.7 406.7h0.9M195.8 397.0h0.9M196.5 400.4h0.9M190.5 404.7h0.9M192.6 407.3h0.9M193.9 406.2h0.9" stroke="#7f92cc" stroke-width="0.9" opacity="0.5"/>
<ellipse cx="199" cy="388.5" rx="17" ry="4.2" fill="#92a8da" opacity="0.9" filter="url(#b2)"/>
<ellipse cx="211" cy="388.5" rx="6.5" ry="3.6" fill="#62b0ac" opacity="0.95" filter="url(#b1)"/>
<ellipse cx="212" cy="388.5" rx="3.2" ry="2.2" fill="#a4cc6c" opacity="0.95" filter="url(#b1)"/>
<ellipse cx="177" cy="405" rx="4.2" ry="17" fill="#74a8c8" opacity="0.75" filter="url(#b1)"/>
<ellipse cx="177" cy="406" rx="2.8" ry="14" fill="#7cbc90" opacity="0.8" filter="url(#b1)"/>
<ellipse cx="177.5" cy="389.5" rx="5.6" ry="7.5" fill="#62acc0" opacity="0.9" filter="url(#b1)"/>
<ellipse cx="177.5" cy="390" rx="4.2" ry="6" fill="#8ccc68" opacity="1" filter="url(#b1)"/>
<ellipse cx="177.8" cy="390.5" rx="2.6" ry="4.2" fill="#e8c238" opacity="1" filter="url(#b1)"/>
<ellipse cx="178" cy="391" rx="1.3" ry="2.2" fill="#e88a30" opacity="0.9" filter="url(#b1)"/>
</g>
<rect x="161.3" y="369.3" width="62.90" height="63.20" fill="none" stroke="#5a5a5a" stroke-width="0.95"/>
<line x1="161.3" y1="368.8" x2="161.3" y2="433.1" stroke="#111" stroke-width="1.5"/>
<line x1="160.8" y1="432.5" x2="224.7" y2="432.5" stroke="#111" stroke-width="1.5"/>
<rect x="165" y="372.5" width="18.80" height="25.00" fill="none" stroke="#1c1c1c" stroke-width="1.25"/>
<text x="157.10000000000002" y="377.00" font-size="6.0" text-anchor="end" fill="#222" letter-spacing="0.2">10<tspan dy="-2.4" font-size="4.14">5</tspan></text>
<text x="157.10000000000002" y="391.50" font-size="6.0" text-anchor="end" fill="#222" letter-spacing="0.2">10<tspan dy="-2.4" font-size="4.14">4</tspan></text>
<text x="157.10000000000002" y="407.80" font-size="6.0" text-anchor="end" fill="#222" letter-spacing="0.2">10<tspan dy="-2.4" font-size="4.14">3</tspan></text>
<text x="157.10000000000002" y="420.80" font-size="6.0" text-anchor="end" fill="#222" letter-spacing="0.2">0</text>
<path d="M159.70000000000002 375.0h1.6M159.70000000000002 389.5h1.6M159.70000000000002 405.8h1.6M159.70000000000002 418.8h1.6" stroke="#111" stroke-width="0.9"/>
<text x="141.3" y="403" font-size="8.6" text-anchor="middle" font-weight="normal" fill="#222" transform="rotate(-90 141.3 403)" textLength="10" lengthAdjust="spacingAndGlyphs" >cKit</text>
<text x="167.5" y="441.3" font-size="6.0" text-anchor="middle" fill="#222" letter-spacing="0.2">−10<tspan dy="-2.4" font-size="4.14">3</tspan></text>
<text x="175.5" y="441.3" font-size="6.0" text-anchor="middle" fill="#222" letter-spacing="0.2">0</text>
<text x="184" y="441.3" font-size="6.0" text-anchor="middle" fill="#222" letter-spacing="0.2">10<tspan dy="-2.4" font-size="4.14">3</tspan></text>
<text x="204" y="441.3" font-size="6.0" text-anchor="middle" fill="#222" letter-spacing="0.2">10<tspan dy="-2.4" font-size="4.14">4</tspan></text>
<text x="216.5" y="441.3" font-size="6.0" text-anchor="middle" fill="#222" letter-spacing="0.2">10<tspan dy="-2.4" font-size="4.14">5</tspan></text>
<path d="M167.5 432.5v1.6M175.5 432.5v1.6M184.0 432.5v1.6M204.0 432.5v1.6M216.5 432.5v1.6" stroke="#111" stroke-width="0.9"/>
<text x="191.6" y="456" font-size="8.6" text-anchor="middle" font-weight="normal" fill="#222" textLength="15" lengthAdjust="spacingAndGlyphs" >Sca-1</text>
<text x="192.3" y="482.8" font-size="8.4" text-anchor="middle" font-weight="normal" fill="#222" textLength="36.2" lengthAdjust="spacingAndGlyphs" >E17.5 WT</text>
<g clip-path="url(#k11)">
<path d="M189.8 507.6h0.9M181.5 518.6h0.9M176.0 514.5h0.9M177.7 520.7h0.9M181.7 535.2h0.9M180.9 536.1h0.9M181.9 522.9h0.9M178.8 508.8h0.9M172.7 520.3h0.9M179.0 525.5h0.9M181.2 505.0h0.9M176.6 506.8h0.9M184.2 519.7h0.9M180.3 509.6h0.9M174.1 513.6h0.9M179.2 527.1h0.9M172.9 525.4h0.9M175.9 514.4h0.9M178.2 515.6h0.9M181.7 532.4h0.9M181.2 514.1h0.9M181.5 525.9h0.9M183.5 524.5h0.9M172.5 511.4h0.9M177.9 532.9h0.9M179.1 532.8h0.9M181.0 505.8h0.9M179.9 528.2h0.9M181.5 502.1h0.9M181.6 513.6h0.9M170.3 513.8h0.9M170.9 504.8h0.9M184.4 526.6h0.9M188.1 525.5h0.9M167.0 512.7h0.9M180.0 510.0h0.9M184.3 520.0h0.9M180.6 526.8h0.9M177.1 523.8h0.9M190.1 509.1h0.9M180.4 527.9h0.9M177.3 520.6h0.9M172.1 515.6h0.9M179.9 535.6h0.9M184.0 513.8h0.9M174.8 544.9h0.9M178.2 509.6h0.9M177.9 514.6h0.9M178.7 534.8h0.9M180.8 505.6h0.9M172.0 514.5h0.9M184.9 533.6h0.9M177.1 536.5h0.9M181.7 513.6h0.9M181.7 520.4h0.9M174.8 515.8h0.9M180.5 538.6h0.9M175.2 524.6h0.9M179.9 520.9h0.9M174.3 537.9h0.9M185.7 542.3h0.9M182.0 540.8h0.9M182.3 534.6h0.9M178.4 524.5h0.9M178.4 507.9h0.9M177.9 507.0h0.9M174.8 516.5h0.9M177.2 548.6h0.9M187.9 535.7h0.9M183.5 510.5h0.9M181.1 502.8h0.9M177.0 515.4h0.9M178.2 532.9h0.9M177.6 532.8h0.9M172.7 533.6h0.9M174.3 524.3h0.9M179.9 532.5h0.9M182.7 526.8h0.9M179.2 547.3h0.9M177.8 521.9h0.9M177.8 523.5h0.9M175.6 516.3h0.9M182.2 514.2h0.9M182.0 514.1h0.9M186.3 520.0h0.9M187.9 528.2h0.9M179.3 534.2h0.9M185.2 541.7h0.9M186.2 533.4h0.9M174.6 533.9h0.9M179.5 527.1h0.9M185.7 512.4h0.9M182.4 517.7h0.9M186.1 524.1h0.9M184.7 538.2h0.9M173.1 526.0h0.9M173.0 512.5h0.9M182.7 506.1h0.9M176.6 515.7h0.9M181.3 526.3h0.9M181.9 515.1h0.9M176.5 527.1h0.9M175.9 511.0h0.9M183.0 511.2h0.9M175.8 536.4h0.9M176.4 547.1h0.9M192.7 517.7h0.9M183.0 531.2h0.9M184.4 525.2h0.9M178.8 500.4h0.9M177.0 520.0h0.9M178.7 524.5h0.9M178.1 534.6h0.9M182.7 506.4h0.9M177.1 527.0h0.9M177.3 539.8h0.9M177.4 524.7h0.9M182.6 506.7h0.9M185.5 518.7h0.9M176.6 512.4h0.9M172.2 503.7h0.9M186.6 519.8h0.9M178.5 524.0h0.9M182.4 511.1h0.9M178.9 525.0h0.9M184.4 524.8h0.9M187.3 518.6h0.9M178.3 503.3h0.9M179.6 529.8h0.9M178.7 519.2h0.9M175.4 513.8h0.9M177.8 520.3h0.9M184.6 528.1h0.9M183.9 536.8h0.9M177.7 538.8h0.9M180.0 504.2h0.9M177.1 520.3h0.9M172.9 551.4h0.9M179.6 532.6h0.9M174.4 522.7h0.9M181.0 511.5h0.9M180.9 521.4h0.9M181.5 505.7h0.9M182.1 517.6h0.9M178.9 516.5h0.9M190.5 505.6h0.9M186.5 537.6h0.9M181.6 524.6h0.9M182.0 502.1h0.9M186.1 517.1h0.9M176.4 521.2h0.9M167.4 504.0h0.9M174.4 500.9h0.9M182.4 542.0h0.9M179.8 517.0h0.9M181.2 514.7h0.9M180.3 526.5h0.9M178.7 515.9h0.9M180.0 522.0h0.9M182.8 501.6h0.9M174.7 514.9h0.9M181.9 504.3h0.9M185.1 539.8h0.9M176.4 535.7h0.9M170.3 519.8h0.9M172.4 535.1h0.9M183.5 527.7h0.9M177.0 506.3h0.9M181.5 514.3h0.9M182.7 500.2h0.9M181.5 527.6h0.9M169.4 504.3h0.9M176.4 513.0h0.9M171.8 521.0h0.9M174.5 519.7h0.9M171.3 505.3h0.9M179.4 539.5h0.9M183.2 503.5h0.9M189.5 513.4h0.9M183.7 533.1h0.9M178.1 528.9h0.9M167.1 521.8h0.9M180.2 516.1h0.9M180.1 534.5h0.9M183.7 512.5h0.9M183.1 535.8h0.9M180.0 525.6h0.9M168.5 500.1h0.9M181.2 501.1h0.9M183.3 535.7h0.9M175.0 505.4h0.9M178.6 523.4h0.9M183.2 517.5h0.9M179.6 507.5h0.9M180.7 510.4h0.9M184.0 529.5h0.9M172.1 524.9h0.9M174.5 533.0h0.9M174.8 536.8h0.9M184.2 545.8h0.9M180.9 521.0h0.9M184.9 504.5h0.9M179.3 516.2h0.9M186.0 516.0h0.9M182.2 518.7h0.9M178.3 537.2h0.9M169.0 517.4h0.9M175.9 508.3h0.9M172.1 500.3h0.9M174.0 534.5h0.9M176.3 514.2h0.9M178.6 528.4h0.9M184.1 522.8h0.9M179.4 527.1h0.9M175.8 523.1h0.9M187.0 511.8h0.9M175.6 500.3h0.9M179.7 528.4h0.9M177.5 516.1h0.9M184.7 520.7h0.9M182.6 515.6h0.9M185.3 532.1h0.9M178.8 512.6h0.9M190.8 506.5h0.9M182.5 521.2h0.9M179.1 500.6h0.9M179.5 510.2h0.9M174.2 517.3h0.9M180.9 518.6h0.9M177.2 530.0h0.9M180.6 515.7h0.9M182.1 524.4h0.9M183.6 531.3h0.9M182.8 512.9h0.9M185.4 533.5h0.9M177.1 536.7h0.9M179.9 507.7h0.9M179.3 504.0h0.9M184.6 504.3h0.9M186.1 509.5h0.9M178.9 537.1h0.9M182.5 507.5h0.9M179.1 519.0h0.9M172.8 525.0h0.9M187.5 508.9h0.9M177.0 525.5h0.9M185.0 509.5h0.9M180.4 525.4h0.9M184.3 510.2h0.9M190.5 547.0h0.9M173.5 510.6h0.9M181.2 512.6h0.9M177.3 520.9h0.9M176.3 513.0h0.9M180.6 515.8h0.9M181.2 534.4h0.9M184.6 522.1h0.9M188.8 515.9h0.9M183.6 544.2h0.9M180.5 531.5h0.9M177.6 513.7h0.9M180.6 527.2h0.9M181.3 529.6h0.9M181.1 520.0h0.9M177.0 519.8h0.9M179.9 521.0h0.9M174.9 537.4h0.9M184.6 524.2h0.9M177.6 535.3h0.9M178.7 518.2h0.9M182.4 514.3h0.9M180.3 515.1h0.9M182.5 526.7h0.9M182.9 526.9h0.9M181.2 526.3h0.9M183.3 509.2h0.9M174.6 522.3h0.9M180.5 518.3h0.9M186.4 527.4h0.9M185.3 522.7h0.9M173.8 504.1h0.9M184.6 522.1h0.9M177.7 537.8h0.9M187.4 526.5h0.9M185.5 517.6h0.9M175.7 500.7h0.9M184.6 502.0h0.9M178.1 522.4h0.9M178.8 511.2h0.9M186.2 519.2h0.9M177.0 543.1h0.9M180.5 531.5h0.9M181.3 519.5h0.9M183.1 512.5h0.9M173.8 513.3h0.9M182.6 516.7h0.9M184.5 530.6h0.9M180.8 535.5h0.9M181.5 525.6h0.9M178.7 520.3h0.9" stroke="#98a0c4" stroke-width="0.9" opacity="0.5"/>
<path d="M189.7 528.5h0.9M187.3 539.8h0.9M198.6 518.9h0.9M197.3 522.7h0.9M196.2 519.6h0.9M196.4 543.2h0.9M189.6 522.5h0.9M190.8 541.2h0.9M196.9 522.2h0.9M198.6 538.0h0.9M199.4 544.3h0.9M188.2 537.6h0.9M186.3 523.2h0.9M193.5 524.3h0.9M189.1 527.7h0.9M192.4 542.8h0.9M194.1 533.0h0.9M196.1 523.1h0.9M197.2 538.6h0.9M197.4 530.2h0.9M193.6 520.0h0.9M192.4 535.4h0.9M199.3 542.2h0.9M190.7 538.4h0.9M198.0 544.0h0.9M195.5 526.9h0.9M198.2 518.4h0.9M193.9 530.4h0.9M198.4 534.8h0.9M188.8 522.5h0.9M186.5 538.3h0.9M197.0 528.1h0.9M189.1 533.1h0.9M188.7 532.2h0.9M190.8 526.6h0.9M195.7 524.7h0.9M190.6 533.2h0.9M199.2 522.1h0.9M190.3 525.4h0.9M190.4 531.2h0.9" stroke="#b8bedf" stroke-width="0.9" opacity="0.5"/>
<ellipse cx="180" cy="522" rx="6" ry="20" fill="#c0c4de" opacity="0.75" filter="url(#b2)"/>
<ellipse cx="180" cy="512" rx="5" ry="4.5" fill="#a8b0d6" opacity="0.85" filter="url(#b2)"/>
<ellipse cx="178.5" cy="541" rx="4.5" ry="5" fill="#a4a8b8" opacity="0.9" filter="url(#b2)"/>
<ellipse cx="178.3" cy="541.5" rx="2.2" ry="2.6" fill="#a8946c" opacity="0.85" filter="url(#b1)"/>
<ellipse cx="195" cy="512.5" rx="8" ry="2.4" fill="#c8cae8" opacity="0.6" filter="url(#b2)"/>
</g>
<rect x="161.3" y="491.8" width="63.20" height="63.70" fill="none" stroke="#5a5a5a" stroke-width="0.95"/>
<line x1="161.3" y1="491.3" x2="161.3" y2="556.1" stroke="#111" stroke-width="1.5"/>
<line x1="160.8" y1="555.5" x2="225.0" y2="555.5" stroke="#111" stroke-width="1.5"/>
<rect x="188.2" y="507.5" width="34.00" height="9.80" fill="none" stroke="#1c1c1c" stroke-width="1.25"/>
<text x="207" y="505.2" font-size="6.8" font-weight="bold" fill="#111" textLength="14.6" lengthAdjust="spacingAndGlyphs">LSK</text>
<text x="157.10000000000002" y="500.00" font-size="6.0" text-anchor="end" fill="#222" letter-spacing="0.2">10<tspan dy="-2.4" font-size="4.14">5</tspan></text>
<text x="157.10000000000002" y="514.50" font-size="6.0" text-anchor="end" fill="#222" letter-spacing="0.2">10<tspan dy="-2.4" font-size="4.14">4</tspan></text>
<text x="157.10000000000002" y="530.80" font-size="6.0" text-anchor="end" fill="#222" letter-spacing="0.2">10<tspan dy="-2.4" font-size="4.14">3</tspan></text>
<text x="157.10000000000002" y="545.00" font-size="6.0" text-anchor="end" fill="#222" letter-spacing="0.2">0</text>
<path d="M159.70000000000002 498.0h1.6M159.70000000000002 512.5h1.6M159.70000000000002 528.8h1.6M159.70000000000002 543.0h1.6" stroke="#111" stroke-width="0.9"/>
<text x="141.3" y="524.5" font-size="8.6" text-anchor="middle" font-weight="normal" fill="#222" transform="rotate(-90 141.3 524.5)" textLength="10" lengthAdjust="spacingAndGlyphs" >cKit</text>
<text x="167.5" y="566.6" font-size="6.0" text-anchor="middle" fill="#222" letter-spacing="0.2">−10<tspan dy="-2.4" font-size="4.14">3</tspan></text>
<text x="176.3" y="566.6" font-size="6.0" text-anchor="middle" fill="#222" letter-spacing="0.2">0</text>
<text x="186.3" y="566.6" font-size="6.0" text-anchor="middle" fill="#222" letter-spacing="0.2">10<tspan dy="-2.4" font-size="4.14">3</tspan></text>
<text x="205" y="566.6" font-size="6.0" text-anchor="middle" fill="#222" letter-spacing="0.2">10<tspan dy="-2.4" font-size="4.14">4</tspan></text>
<text x="218.8" y="566.6" font-size="6.0" text-anchor="middle" fill="#222" letter-spacing="0.2">10<tspan dy="-2.4" font-size="4.14">5</tspan></text>
<path d="M167.5 555.5v1.6M176.3 555.5v1.6M186.3 555.5v1.6M205.0 555.5v1.6M218.8 555.5v1.6" stroke="#111" stroke-width="0.9"/>
<text x="192.3" y="579" font-size="8.6" text-anchor="middle" font-weight="normal" fill="#222" textLength="15" lengthAdjust="spacingAndGlyphs" >Sca-1</text>
<text x="193.8" y="606.8" font-size="8.4" text-anchor="middle" font-weight="normal" fill="#222" textLength="36.2" lengthAdjust="spacingAndGlyphs" >E17.5 KO</text>
<g clip-path="url(#k12)">
<path d="M180.3 620.7h0.9M186.1 659.8h0.9M191.5 654.0h0.9M188.5 658.3h0.9M181.4 622.8h0.9M171.8 651.7h0.9M186.0 642.5h0.9M168.0 639.8h0.9M182.6 630.0h0.9M178.0 670.9h0.9M191.7 653.3h0.9M184.9 637.1h0.9M180.6 652.1h0.9M177.5 640.0h0.9M193.7 626.1h0.9M177.9 666.3h0.9M185.5 645.3h0.9M177.5 624.5h0.9M186.0 635.7h0.9M188.8 650.8h0.9M184.9 648.5h0.9M174.1 645.3h0.9M186.1 642.0h0.9M162.3 641.6h0.9M183.7 628.3h0.9M183.4 659.9h0.9M182.4 660.2h0.9M179.4 633.4h0.9M184.7 631.3h0.9M171.9 647.4h0.9M183.0 650.7h0.9M177.3 637.2h0.9M186.2 636.5h0.9M181.6 646.0h0.9M178.1 646.2h0.9M173.3 649.5h0.9M200.6 651.4h0.9M180.4 621.7h0.9M175.4 639.2h0.9M177.9 649.5h0.9M183.9 653.0h0.9M181.5 653.5h0.9M192.0 631.2h0.9M182.3 641.3h0.9M182.4 658.0h0.9M180.8 631.3h0.9M174.2 623.7h0.9M182.4 654.7h0.9M183.3 632.5h0.9M181.9 631.1h0.9M189.6 644.6h0.9M192.6 651.7h0.9M187.1 630.8h0.9M186.3 638.1h0.9M179.5 645.5h0.9M193.7 649.7h0.9M196.3 652.0h0.9M174.3 636.5h0.9M195.5 651.0h0.9M183.8 637.6h0.9M184.4 649.0h0.9M180.6 642.9h0.9M185.1 629.6h0.9M181.7 634.2h0.9M179.3 632.1h0.9M179.3 633.1h0.9M194.6 641.5h0.9M185.7 633.5h0.9M184.3 649.5h0.9M193.6 666.1h0.9M180.6 666.8h0.9M183.9 659.6h0.9M183.0 653.3h0.9M182.9 626.6h0.9M187.2 640.1h0.9M182.7 647.3h0.9M186.8 675.8h0.9M176.7 637.7h0.9M177.5 660.1h0.9M181.7 636.5h0.9M186.5 645.1h0.9M187.0 625.2h0.9M183.6 651.7h0.9M179.8 659.9h0.9M183.0 634.1h0.9M180.9 650.8h0.9M190.2 637.9h0.9M187.2 639.7h0.9M177.8 631.5h0.9M188.2 638.3h0.9M184.5 664.9h0.9M189.8 638.8h0.9M181.7 647.4h0.9M170.2 652.4h0.9M178.9 653.2h0.9M178.9 639.5h0.9M188.6 652.1h0.9M194.9 638.0h0.9M179.6 662.9h0.9M186.9 629.2h0.9M180.5 649.1h0.9M180.4 625.5h0.9M183.7 649.5h0.9M191.5 657.8h0.9M188.4 633.5h0.9M175.8 630.9h0.9M187.0 655.1h0.9M171.5 650.8h0.9M189.0 662.9h0.9M188.2 655.8h0.9" stroke="#b8bce0" stroke-width="0.9" opacity="0.45"/>
<path d="M180.4 666.1h0.9M178.6 667.0h0.9M173.8 666.8h0.9M184.0 666.0h0.9M185.1 663.9h0.9M181.3 664.2h0.9M184.3 669.9h0.9M183.8 670.3h0.9M181.6 671.4h0.9M180.2 657.9h0.9M179.8 669.1h0.9M168.3 671.6h0.9M178.9 671.1h0.9M177.8 667.9h0.9M175.3 666.2h0.9M171.8 668.1h0.9M177.3 664.7h0.9M175.7 663.4h0.9M179.0 666.7h0.9M177.7 672.3h0.9M174.0 665.5h0.9M172.9 666.1h0.9M178.2 660.2h0.9M180.7 659.3h0.9M176.5 666.0h0.9M172.9 672.2h0.9M179.9 662.0h0.9M180.9 668.5h0.9M176.4 663.9h0.9M183.5 675.8h0.9M180.2 675.2h0.9M170.9 660.8h0.9M179.5 664.6h0.9M180.2 674.1h0.9M174.1 668.7h0.9M178.9 662.1h0.9M178.0 662.7h0.9M177.9 672.7h0.9M184.1 671.1h0.9M179.7 665.1h0.9M189.0 667.1h0.9M181.2 671.1h0.9M178.4 668.9h0.9M178.9 668.4h0.9M183.4 661.9h0.9M179.5 665.0h0.9M178.1 668.5h0.9M186.1 659.0h0.9M187.2 664.8h0.9M175.0 664.2h0.9M179.9 667.6h0.9M170.6 660.7h0.9M183.6 666.6h0.9M169.8 666.0h0.9M177.5 672.7h0.9M175.1 664.7h0.9M177.0 668.4h0.9M181.3 669.4h0.9M187.3 666.5h0.9M186.6 667.3h0.9M182.7 670.7h0.9M187.6 663.3h0.9M189.7 659.6h0.9M178.2 666.3h0.9M178.8 672.4h0.9M170.8 662.5h0.9M183.5 673.6h0.9M173.7 664.7h0.9M182.1 669.3h0.9M171.5 666.5h0.9M176.3 662.3h0.9M178.0 663.7h0.9M172.6 675.6h0.9M176.2 663.0h0.9M187.8 665.5h0.9M176.7 657.2h0.9M171.3 672.5h0.9M174.8 665.2h0.9M177.8 667.7h0.9M188.2 660.7h0.9M171.1 673.1h0.9M182.4 669.9h0.9M185.4 666.8h0.9M182.5 671.3h0.9M186.1 667.9h0.9M173.5 664.3h0.9M178.1 665.6h0.9M184.7 662.9h0.9M181.6 665.4h0.9M180.0 672.7h0.9M184.2 664.8h0.9M179.2 670.9h0.9M179.3 671.1h0.9M185.6 665.6h0.9M181.9 674.7h0.9M182.3 664.4h0.9M185.7 667.0h0.9M177.9 668.7h0.9M182.8 665.0h0.9M180.9 669.5h0.9M183.2 666.9h0.9M175.6 667.5h0.9M181.1 667.9h0.9M183.6 668.4h0.9M172.6 669.4h0.9M183.6 660.7h0.9M182.7 670.5h0.9M181.4 669.4h0.9M175.6 669.3h0.9M181.6 663.9h0.9M182.3 671.1h0.9M178.4 674.8h0.9M181.0 668.3h0.9M182.5 668.2h0.9M179.4 665.6h0.9M171.5 662.2h0.9M179.9 672.9h0.9M177.1 657.9h0.9M182.8 662.9h0.9M175.2 668.6h0.9M180.1 667.8h0.9M176.7 664.7h0.9M181.8 670.4h0.9M182.9 671.0h0.9M183.1 666.0h0.9M181.7 667.4h0.9M175.4 674.0h0.9M184.8 665.3h0.9M177.4 668.0h0.9M179.5 666.3h0.9M178.5 672.8h0.9M178.0 664.8h0.9M185.5 666.7h0.9M177.8 664.6h0.9M179.3 666.2h0.9M178.3 666.6h0.9M180.4 662.3h0.9M175.1 665.6h0.9M179.2 666.1h0.9M179.4 667.5h0.9" stroke="#8a9ad0" stroke-width="0.9" opacity="0.6"/>
<ellipse cx="178.5" cy="666.5" rx="7" ry="6" fill="#7c98d6" opacity="0.85" filter="url(#b2)"/>
<ellipse cx="178.5" cy="666.5" rx="5" ry="4.5" fill="#5cb0c0" opacity="0.95" filter="url(#b1)"/>
<ellipse cx="178.5" cy="666.5" rx="3" ry="3" fill="#9ccc6c" opacity="1" filter="url(#b1)"/>
<ellipse cx="178.5" cy="667" rx="1.6" ry="1.6" fill="#e0c040" opacity="0.9" filter="url(#b1)"/>
</g>
<rect x="161.3" y="615.5" width="63.70" height="64.00" fill="none" stroke="#5a5a5a" stroke-width="0.95"/>
<line x1="161.3" y1="615.0" x2="161.3" y2="680.1" stroke="#111" stroke-width="1.5"/>
<line x1="160.8" y1="679.5" x2="225.5" y2="679.5" stroke="#111" stroke-width="1.5"/>
<rect x="189.3" y="630" width="35.70" height="12.00" fill="none" stroke="#1c1c1c" stroke-width="1.25"/>
<text x="206.3" y="627.6" font-size="6.8" font-weight="bold" fill="#111" textLength="15.7" lengthAdjust="spacingAndGlyphs">LSK</text>
<text x="157.10000000000002" y="623.80" font-size="6.0" text-anchor="end" fill="#222" letter-spacing="0.2">10<tspan dy="-2.4" font-size="4.14">5</tspan></text>
<text x="157.10000000000002" y="638.30" font-size="6.0" text-anchor="end" fill="#222" letter-spacing="0.2">10<tspan dy="-2.4" font-size="4.14">4</tspan></text>
<text x="157.10000000000002" y="654.50" font-size="6.0" text-anchor="end" fill="#222" letter-spacing="0.2">10<tspan dy="-2.4" font-size="4.14">3</tspan></text>
<text x="157.10000000000002" y="669.50" font-size="6.0" text-anchor="end" fill="#222" letter-spacing="0.2">0</text>
<path d="M159.70000000000002 621.8h1.6M159.70000000000002 636.3h1.6M159.70000000000002 652.5h1.6M159.70000000000002 667.5h1.6" stroke="#111" stroke-width="0.9"/>
<text x="141.3" y="648.5" font-size="8.6" text-anchor="middle" font-weight="normal" fill="#222" transform="rotate(-90 141.3 648.5)" textLength="10" lengthAdjust="spacingAndGlyphs" >cKit</text>
<text x="167.5" y="690.6" font-size="6.0" text-anchor="middle" fill="#222" letter-spacing="0.2">−10<tspan dy="-2.4" font-size="4.14">3</tspan></text>
<text x="176.3" y="690.6" font-size="6.0" text-anchor="middle" fill="#222" letter-spacing="0.2">0</text>
<text x="186.3" y="690.6" font-size="6.0" text-anchor="middle" fill="#222" letter-spacing="0.2">10<tspan dy="-2.4" font-size="4.14">3</tspan></text>
<text x="205" y="690.6" font-size="6.0" text-anchor="middle" fill="#222" letter-spacing="0.2">10<tspan dy="-2.4" font-size="4.14">4</tspan></text>
<text x="218.8" y="690.6" font-size="6.0" text-anchor="middle" fill="#222" letter-spacing="0.2">10<tspan dy="-2.4" font-size="4.14">5</tspan></text>
<path d="M167.5 679.5v1.6M176.3 679.5v1.6M186.3 679.5v1.6M205.0 679.5v1.6M218.8 679.5v1.6" stroke="#111" stroke-width="0.9"/>
<text x="193" y="703" font-size="8.6" text-anchor="middle" font-weight="normal" fill="#222" textLength="15" lengthAdjust="spacingAndGlyphs" >Sca-1</text>
<g clip-path="url(#k13)">
<path d="M289.0 291.9h0.9M281.9 271.9h0.9M296.5 272.8h0.9M293.0 283.7h0.9M289.6 302.9h0.9M280.6 268.7h0.9M283.6 279.6h0.9M288.2 301.4h0.9M283.9 275.6h0.9M294.4 287.2h0.9M288.0 275.1h0.9M298.4 274.8h0.9M295.9 275.7h0.9M287.4 281.9h0.9M286.6 274.2h0.9M295.5 287.1h0.9M296.9 271.3h0.9M294.8 292.3h0.9M290.7 296.0h0.9M290.5 295.6h0.9M293.7 272.1h0.9M281.3 274.8h0.9M287.4 293.0h0.9M291.9 295.6h0.9M285.8 281.0h0.9M295.2 290.3h0.9M299.5 276.9h0.9M287.8 268.4h0.9M288.5 277.9h0.9M282.9 269.6h0.9M283.8 274.8h0.9M301.0 278.5h0.9M283.1 283.9h0.9M297.5 286.4h0.9M292.7 293.1h0.9M290.9 293.1h0.9M291.1 272.7h0.9M297.3 288.3h0.9M286.6 282.9h0.9M297.9 287.0h0.9M288.2 282.0h0.9M283.6 275.5h0.9M287.7 292.4h0.9M288.3 295.0h0.9M295.5 284.8h0.9M292.0 300.7h0.9M285.8 274.4h0.9M286.3 284.6h0.9M288.6 294.5h0.9M294.2 282.1h0.9M299.8 276.2h0.9M293.1 279.2h0.9M283.3 281.1h0.9M293.2 300.9h0.9M296.9 286.2h0.9M288.9 291.7h0.9M293.5 275.8h0.9M289.5 296.8h0.9M297.2 279.3h0.9M291.8 302.9h0.9M281.9 269.7h0.9M286.8 269.6h0.9M289.4 286.8h0.9M290.3 272.9h0.9M290.3 284.8h0.9M291.4 292.0h0.9M298.4 279.9h0.9M282.7 271.1h0.9M302.1 270.0h0.9M287.0 281.6h0.9M289.7 301.1h0.9M290.6 282.1h0.9M293.6 295.5h0.9M290.7 272.8h0.9M302.4 272.4h0.9M288.7 276.0h0.9M287.5 301.6h0.9M289.8 279.0h0.9M285.6 283.4h0.9M296.8 280.0h0.9M283.2 275.9h0.9M285.4 295.3h0.9M290.1 270.7h0.9M293.2 285.0h0.9M287.9 292.2h0.9M291.5 270.2h0.9M294.8 279.0h0.9M299.7 272.2h0.9M297.8 289.4h0.9M293.4 288.7h0.9M299.5 277.2h0.9M293.3 295.5h0.9M294.6 287.0h0.9M285.3 270.6h0.9M295.2 273.2h0.9M293.0 296.6h0.9M302.4 273.0h0.9M290.7 274.3h0.9M290.9 272.7h0.9M288.9 299.4h0.9M301.1 279.8h0.9M292.0 291.2h0.9M283.3 272.8h0.9M302.0 273.7h0.9M294.6 280.1h0.9M295.8 278.1h0.9M282.7 271.4h0.9M287.7 274.3h0.9M286.3 269.8h0.9M286.3 296.7h0.9M292.4 273.7h0.9M288.1 282.5h0.9M282.6 277.2h0.9M296.2 271.7h0.9M291.7 280.0h0.9M288.2 276.2h0.9M296.1 291.2h0.9M291.0 293.1h0.9M288.5 283.2h0.9M287.4 296.2h0.9M294.5 291.8h0.9M299.7 284.2h0.9M293.4 294.9h0.9M290.7 273.6h0.9M294.9 281.7h0.9M294.8 277.6h0.9M297.5 289.9h0.9M289.2 284.3h0.9M293.6 283.6h0.9M287.5 301.2h0.9M295.0 281.0h0.9M302.7 272.2h0.9M285.1 270.4h0.9M296.8 285.0h0.9M286.5 283.4h0.9M285.1 292.8h0.9M299.3 281.4h0.9M302.3 269.6h0.9M293.8 273.4h0.9M280.4 270.6h0.9M301.2 278.1h0.9M290.1 302.7h0.9M293.1 298.9h0.9M284.3 284.5h0.9M297.2 275.9h0.9M292.6 296.9h0.9M294.9 276.7h0.9M284.2 270.0h0.9M297.3 281.7h0.9M294.4 270.9h0.9M285.1 280.0h0.9M294.9 281.8h0.9M287.8 281.5h0.9M285.0 285.5h0.9M298.8 275.0h0.9M288.0 288.5h0.9M296.7 281.9h0.9M297.9 275.4h0.9M286.9 271.3h0.9M295.6 282.8h0.9M286.9 292.6h0.9M285.1 273.0h0.9M288.0 293.7h0.9M287.4 294.7h0.9M290.2 288.7h0.9M293.8 275.4h0.9M290.3 287.7h0.9M286.6 300.2h0.9M288.4 301.3h0.9M298.2 281.8h0.9M297.6 268.0h0.9M286.6 282.2h0.9M297.7 284.6h0.9M295.1 294.0h0.9M301.4 271.7h0.9M284.4 270.9h0.9M283.4 271.1h0.9M291.6 277.7h0.9M293.3 276.3h0.9M285.1 274.5h0.9M287.2 293.5h0.9M292.3 293.3h0.9M296.0 280.7h0.9M283.6 278.0h0.9M290.3 293.6h0.9M293.7 297.8h0.9M293.4 291.5h0.9M294.8 275.1h0.9M297.4 285.9h0.9M298.5 285.6h0.9M280.9 272.5h0.9M286.4 284.9h0.9M288.3 276.1h0.9M296.4 268.8h0.9M291.2 300.5h0.9M291.9 302.9h0.9M288.0 288.1h0.9M300.5 269.7h0.9M298.8 271.8h0.9M298.0 268.4h0.9M288.0 300.5h0.9M302.5 269.9h0.9M288.9 300.0h0.9M283.0 284.0h0.9M285.3 278.4h0.9M291.7 272.9h0.9M281.8 272.6h0.9M295.4 289.5h0.9M288.5 277.4h0.9M287.8 285.9h0.9M287.8 298.1h0.9M302.0 277.8h0.9M294.3 269.8h0.9M288.0 285.8h0.9M283.1 275.8h0.9M291.1 299.1h0.9M300.3 269.6h0.9M289.5 286.6h0.9M281.8 274.6h0.9M286.5 286.1h0.9M285.1 286.0h0.9M287.7 270.2h0.9M291.9 300.9h0.9M288.1 302.2h0.9M286.8 296.6h0.9M288.9 270.6h0.9M284.6 281.5h0.9M288.8 292.6h0.9M293.1 280.2h0.9M294.7 292.1h0.9M298.4 283.7h0.9M294.5 291.9h0.9M289.4 289.2h0.9M305.0 268.8h0.9M302.5 276.8h0.9M289.5 287.2h0.9M289.8 281.1h0.9M287.2 279.3h0.9M294.0 282.6h0.9M304.8 268.0h0.9M294.9 283.1h0.9M288.6 292.4h0.9M294.1 276.1h0.9M283.9 281.6h0.9M287.7 291.3h0.9M291.0 269.2h0.9M287.1 283.9h0.9M282.2 275.2h0.9M282.2 277.0h0.9M285.9 286.9h0.9M287.0 284.5h0.9M293.5 290.0h0.9M281.3 275.2h0.9M291.8 285.3h0.9M305.2 268.5h0.9M281.3 269.0h0.9M289.5 298.4h0.9M282.4 274.5h0.9M287.4 279.6h0.9M290.0 296.4h0.9M290.1 278.9h0.9M287.7 288.4h0.9M297.5 285.4h0.9M284.7 290.8h0.9M283.3 272.9h0.9M295.9 283.0h0.9M285.1 270.2h0.9M299.1 270.7h0.9M286.6 295.2h0.9M289.5 276.2h0.9M287.3 274.7h0.9M286.5 283.5h0.9M289.0 291.1h0.9M283.6 285.8h0.9M287.6 269.2h0.9M281.2 272.5h0.9M286.7 275.8h0.9M281.8 272.0h0.9M293.8 294.5h0.9M290.2 300.0h0.9M291.6 274.6h0.9M287.3 279.4h0.9M297.2 272.7h0.9M297.4 284.5h0.9M298.9 273.1h0.9M301.0 276.5h0.9M289.8 294.7h0.9M282.5 277.8h0.9M289.9 299.0h0.9M301.7 278.4h0.9M297.1 275.7h0.9M292.9 287.6h0.9M286.0 294.0h0.9M281.3 273.9h0.9M291.7 268.3h0.9M297.2 282.1h0.9M286.5 293.5h0.9M300.1 270.9h0.9M281.3 270.4h0.9M297.7 284.9h0.9M283.5 287.1h0.9M290.5 300.8h0.9M286.9 290.4h0.9M294.4 279.8h0.9M285.6 274.0h0.9M287.7 271.4h0.9M304.6 270.1h0.9M286.8 281.9h0.9M282.2 273.1h0.9M293.0 280.8h0.9M291.0 295.7h0.9M297.0 273.4h0.9M285.4 290.9h0.9M292.2 286.8h0.9M290.3 299.5h0.9M290.0 274.6h0.9M289.6 289.0h0.9M295.4 288.7h0.9M283.1 274.6h0.9M291.8 270.5h0.9M288.6 289.9h0.9M294.1 273.0h0.9M294.0 291.8h0.9M299.2 278.2h0.9M289.6 299.2h0.9M291.7 275.1h0.9M287.5 270.5h0.9M291.5 270.1h0.9M295.5 273.5h0.9M291.5 287.5h0.9M285.6 270.6h0.9M287.3 281.4h0.9M290.8 287.3h0.9M299.2 278.0h0.9M289.0 278.0h0.9M288.6 296.9h0.9M290.6 269.6h0.9M298.6 279.9h0.9M295.2 274.4h0.9M284.9 278.6h0.9M300.6 276.2h0.9M294.4 297.8h0.9M285.0 288.5h0.9M287.2 301.7h0.9M287.2 298.2h0.9M289.3 285.4h0.9M296.4 276.1h0.9M290.7 270.6h0.9M284.2 284.2h0.9M285.4 293.2h0.9M293.2 284.1h0.9M294.4 285.8h0.9M293.6 269.5h0.9M298.1 274.4h0.9M289.9 273.3h0.9M288.5 272.4h0.9M290.5 276.8h0.9M290.1 299.5h0.9M299.1 272.0h0.9M286.4 293.6h0.9M302.6 272.7h0.9M286.3 296.8h0.9M288.7 299.4h0.9M297.9 277.1h0.9M291.8 287.7h0.9M289.6 297.3h0.9M297.0 290.1h0.9M303.5 274.0h0.9M299.0 285.0h0.9M293.2 268.5h0.9M281.8 279.1h0.9M293.9 284.6h0.9M289.9 299.8h0.9M287.3 280.2h0.9M302.3 274.5h0.9M284.7 273.5h0.9M301.4 275.3h0.9M294.4 272.9h0.9M280.9 275.4h0.9M284.8 268.0h0.9M293.4 293.1h0.9M303.8 268.4h0.9M295.0 296.6h0.9M297.3 276.3h0.9M295.0 277.5h0.9M293.1 285.3h0.9M284.8 276.9h0.9M295.0 280.1h0.9M286.5 287.9h0.9M287.4 297.4h0.9M300.3 281.9h0.9M285.1 286.9h0.9M284.3 286.6h0.9M294.8 285.6h0.9M285.6 287.5h0.9M287.9 295.1h0.9M285.1 273.3h0.9M282.6 282.4h0.9M296.1 271.6h0.9M294.1 277.5h0.9M283.3 272.9h0.9M294.7 270.0h0.9M295.6 285.8h0.9M287.8 300.3h0.9M289.0 276.2h0.9M287.8 272.3h0.9M287.6 270.2h0.9M296.6 287.4h0.9M295.2 280.0h0.9M290.5 272.0h0.9M287.0 289.1h0.9M302.6 275.0h0.9M292.6 285.2h0.9M289.0 269.8h0.9M293.0 284.5h0.9M295.1 272.5h0.9M304.1 271.2h0.9M281.6 276.0h0.9M301.2 269.2h0.9M299.6 276.7h0.9" stroke="#8a98c4" stroke-width="0.9" opacity="0.55"/>
<ellipse cx="289" cy="282" rx="7" ry="10" fill="#b6bed8" opacity="0.6" filter="url(#b3)"/>
<path d="M289.3 260.6h0.9M291.1 261.6h0.9M308.4 258.9h0.9M293.4 262.4h0.9M292.3 260.7h0.9M293.5 260.1h0.9M296.8 255.8h0.9M310.0 261.2h0.9M282.6 263.5h0.9M299.7 263.7h0.9M285.0 261.7h0.9M301.7 261.0h0.9M289.6 256.5h0.9M297.5 257.0h0.9M299.6 258.3h0.9M296.9 262.0h0.9M299.7 265.1h0.9M306.9 260.9h0.9M285.4 265.8h0.9M305.7 262.0h0.9M295.2 264.3h0.9M286.4 263.1h0.9M305.0 266.6h0.9M286.6 263.1h0.9M277.2 258.6h0.9M284.1 261.2h0.9M302.6 261.4h0.9M289.5 263.6h0.9M300.5 263.3h0.9M294.1 258.7h0.9M298.6 261.1h0.9M304.4 264.8h0.9M301.4 267.9h0.9M296.2 261.8h0.9M279.2 263.9h0.9M292.2 260.9h0.9M285.2 265.2h0.9M309.3 260.9h0.9M298.3 264.3h0.9M302.5 262.8h0.9M281.2 259.7h0.9M291.0 261.1h0.9M294.6 268.9h0.9M283.1 263.3h0.9M304.7 259.8h0.9M298.8 261.1h0.9M284.4 260.2h0.9M277.8 261.9h0.9M297.8 261.1h0.9M293.7 263.4h0.9M309.4 266.9h0.9M295.4 264.2h0.9M290.8 261.4h0.9M310.9 261.5h0.9M296.5 263.4h0.9M302.0 264.0h0.9M283.2 260.7h0.9M303.1 261.0h0.9M294.6 259.4h0.9M288.3 265.1h0.9M288.8 263.9h0.9M283.9 260.4h0.9M278.7 265.0h0.9M296.4 264.0h0.9M294.7 262.2h0.9M302.8 266.8h0.9M306.4 261.2h0.9M303.8 265.9h0.9M307.5 260.9h0.9M298.8 256.3h0.9M294.3 259.1h0.9M291.8 260.2h0.9M308.5 259.2h0.9M298.6 259.8h0.9M311.3 263.5h0.9M293.7 263.3h0.9M293.5 260.4h0.9M294.2 259.6h0.9M303.3 268.1h0.9M292.6 258.8h0.9M290.2 263.2h0.9M293.9 260.7h0.9M298.7 259.6h0.9M290.8 266.5h0.9M304.3 258.6h0.9M301.3 262.2h0.9M279.9 262.3h0.9M294.3 260.8h0.9M312.7 261.7h0.9M282.9 259.9h0.9M286.1 261.2h0.9M290.2 264.3h0.9M300.3 260.0h0.9M286.3 264.3h0.9M285.5 263.7h0.9M286.5 258.9h0.9M288.0 260.7h0.9M283.0 264.0h0.9M280.0 259.5h0.9M289.2 264.1h0.9M294.0 262.9h0.9M280.9 265.5h0.9M288.1 255.8h0.9M291.0 257.6h0.9M289.1 261.7h0.9M303.5 259.6h0.9M290.6 259.5h0.9M292.9 264.3h0.9M285.2 258.0h0.9M312.9 264.1h0.9M289.4 259.1h0.9M292.5 262.8h0.9M295.2 267.2h0.9M290.6 266.1h0.9M290.5 265.3h0.9M293.4 261.9h0.9M281.1 260.1h0.9M293.3 262.4h0.9M279.4 262.0h0.9M302.6 261.9h0.9M302.0 263.9h0.9M313.9 263.7h0.9M300.7 257.1h0.9M296.8 264.7h0.9M309.1 259.6h0.9M289.3 261.6h0.9M296.9 261.4h0.9M301.5 262.8h0.9M288.7 263.7h0.9M313.9 264.1h0.9M292.9 257.7h0.9M296.2 260.0h0.9M283.6 259.4h0.9M290.8 261.3h0.9M287.1 260.3h0.9M298.8 259.4h0.9M290.6 257.6h0.9M306.2 263.6h0.9M286.5 266.9h0.9M289.7 261.9h0.9M285.9 259.7h0.9M283.7 260.5h0.9M280.5 261.6h0.9M299.1 261.6h0.9M291.2 263.9h0.9M290.7 259.3h0.9M278.1 261.9h0.9M288.3 262.5h0.9M289.2 261.0h0.9M303.0 262.2h0.9M280.8 259.5h0.9M283.8 261.1h0.9M309.9 262.2h0.9M291.8 261.5h0.9M298.3 263.5h0.9M288.4 263.0h0.9M277.4 262.0h0.9M290.7 263.8h0.9M283.3 266.9h0.9M282.5 258.9h0.9M289.4 264.3h0.9M289.0 261.4h0.9M304.4 262.7h0.9M301.3 263.9h0.9M300.3 263.4h0.9M294.7 267.8h0.9M301.7 264.2h0.9M299.6 260.6h0.9M279.9 266.5h0.9M279.6 263.2h0.9M289.4 269.9h0.9M299.8 262.8h0.9M307.3 264.7h0.9M282.3 262.5h0.9M297.7 265.1h0.9M297.2 262.6h0.9M279.8 264.6h0.9M293.2 258.3h0.9M293.1 264.3h0.9M278.8 263.6h0.9M294.1 263.5h0.9M297.6 264.5h0.9M301.1 259.2h0.9M299.8 258.7h0.9M286.2 258.8h0.9M278.4 257.4h0.9M281.5 260.7h0.9M280.3 259.9h0.9M280.6 262.7h0.9M308.6 255.4h0.9M292.3 263.2h0.9M294.8 260.2h0.9M295.4 257.3h0.9M312.9 259.3h0.9M291.0 264.3h0.9M302.4 260.0h0.9M290.8 266.0h0.9M290.5 265.3h0.9M295.1 260.8h0.9M309.0 257.9h0.9M291.9 261.4h0.9M299.2 264.6h0.9M303.8 261.9h0.9M284.6 260.8h0.9M292.4 262.9h0.9M287.8 260.8h0.9M282.4 266.3h0.9M286.3 265.7h0.9M282.8 262.8h0.9M297.1 261.5h0.9M287.1 260.6h0.9M286.7 266.6h0.9M305.7 262.9h0.9M295.1 260.2h0.9M294.9 257.8h0.9M295.9 261.8h0.9M302.0 264.1h0.9M300.4 268.7h0.9M280.8 258.5h0.9M280.3 258.6h0.9M290.4 262.2h0.9M285.1 269.5h0.9M300.2 264.9h0.9M297.4 258.6h0.9M289.8 264.2h0.9M310.6 260.5h0.9M282.0 263.6h0.9M297.6 261.4h0.9M291.1 259.6h0.9M294.6 261.1h0.9M283.4 262.8h0.9M296.9 261.8h0.9M284.5 262.4h0.9M293.3 261.3h0.9M298.7 260.1h0.9M280.8 261.8h0.9M285.1 257.1h0.9M294.3 263.0h0.9M304.7 257.4h0.9M297.2 263.7h0.9M284.2 262.0h0.9M296.4 257.4h0.9M311.1 261.5h0.9M278.2 263.6h0.9M311.3 258.1h0.9M299.2 258.7h0.9M277.5 262.0h0.9M296.3 262.1h0.9M290.1 262.9h0.9M279.9 267.0h0.9M293.0 263.1h0.9M283.7 262.0h0.9M293.0 264.0h0.9M293.0 263.9h0.9M304.6 263.3h0.9M312.7 258.3h0.9M286.8 263.6h0.9M286.5 260.6h0.9M290.7 262.0h0.9M283.3 264.5h0.9M286.4 262.6h0.9M281.6 265.4h0.9M306.9 260.5h0.9M288.7 263.4h0.9M278.4 262.9h0.9M291.0 257.2h0.9M306.2 259.6h0.9M290.0 259.6h0.9M303.1 260.5h0.9M301.7 261.1h0.9M294.2 262.9h0.9M291.4 262.4h0.9M292.9 259.8h0.9M294.6 258.7h0.9M285.7 258.8h0.9M293.0 259.1h0.9M297.5 261.2h0.9M277.9 262.7h0.9M307.8 264.1h0.9M289.8 265.8h0.9M299.6 258.3h0.9M299.0 262.1h0.9M286.4 265.5h0.9M285.0 261.5h0.9M285.4 258.2h0.9M278.4 259.9h0.9M291.0 265.8h0.9M304.2 263.7h0.9M307.9 265.4h0.9M290.5 265.0h0.9M296.0 264.9h0.9M294.8 262.0h0.9M303.4 260.4h0.9M298.5 257.7h0.9M304.1 260.7h0.9M286.1 259.8h0.9M300.2 263.9h0.9M309.6 259.9h0.9M297.3 261.8h0.9M296.3 260.1h0.9M281.0 258.4h0.9M298.7 263.1h0.9M292.2 266.8h0.9M313.4 262.5h0.9M299.0 260.8h0.9M308.0 261.0h0.9M293.5 265.1h0.9M308.0 259.1h0.9M296.3 261.6h0.9M289.7 263.4h0.9M292.6 257.3h0.9M292.9 262.0h0.9M293.7 264.4h0.9M288.1 260.0h0.9M297.0 264.4h0.9M299.6 259.0h0.9M290.5 267.6h0.9M302.4 263.6h0.9M307.9 258.9h0.9M287.3 264.6h0.9" stroke="#8a9cc6" stroke-width="0.9" opacity="0.6"/>
<ellipse cx="294" cy="262" rx="15" ry="3.8" fill="#a8b8d0" opacity="0.9" filter="url(#b2)"/>
<ellipse cx="297" cy="262.5" rx="11" ry="2.3" fill="#98b860" opacity="0.95" filter="url(#b1)"/>
<ellipse cx="297" cy="262.6" rx="5" ry="1.3" fill="#c0c050" opacity="0.8" filter="url(#b1)"/>
</g>
<rect x="275.1" y="247.3" width="63.10" height="61.90" fill="none" stroke="#5a5a5a" stroke-width="0.95"/>
<line x1="275.1" y1="246.8" x2="275.1" y2="309.8" stroke="#111" stroke-width="1.5"/>
<line x1="274.6" y1="309.2" x2="338.7" y2="309.2" stroke="#111" stroke-width="1.5"/>
<rect x="293.7" y="252.1" width="25.80" height="18.30" fill="none" stroke="#1c1c1c" stroke-width="1.25"/>
<rect x="293.7" y="273.3" width="25.80" height="34.00" fill="none" stroke="#1c1c1c" stroke-width="1.25"/>
<rect x="275.5" y="273.3" width="18.20" height="34.00" fill="none" stroke="#1c1c1c" stroke-width="1.25"/>
<text x="320.3" y="254.0" font-size="7" font-weight="bold" fill="#111" textLength="16.5" lengthAdjust="spacingAndGlyphs">GMP</text>
<text x="275.9" y="305.8" font-size="7" font-weight="bold" fill="#111" textLength="15.9" lengthAdjust="spacingAndGlyphs">MEP</text>
<text x="301.3" y="305.8" font-size="7" font-weight="bold" fill="#111" textLength="16.5" lengthAdjust="spacingAndGlyphs">CMP</text>
<text x="271.1" y="254.40" font-size="6.0" text-anchor="end" fill="#222" letter-spacing="0.2">10<tspan dy="-2.4" font-size="4.14">5</tspan></text>
<text x="271.1" y="270.60" font-size="6.0" text-anchor="end" fill="#222" letter-spacing="0.2">10<tspan dy="-2.4" font-size="4.14">4</tspan></text>
<text x="271.1" y="286.30" font-size="6.0" text-anchor="end" fill="#222" letter-spacing="0.2">10<tspan dy="-2.4" font-size="4.14">3</tspan></text>
<text x="271.1" y="297.40" font-size="6.0" text-anchor="end" fill="#222" letter-spacing="0.2">0</text>
<text x="271.1" y="306.60" font-size="6.0" text-anchor="end" fill="#222" letter-spacing="0.2">−10<tspan dy="-2.4" font-size="4.14">3</tspan></text>
<path d="M273.5 252.4h1.6M273.5 268.6h1.6M273.5 284.3h1.6M273.5 295.4h1.6M273.5 304.6h1.6" stroke="#111" stroke-width="0.9"/>
<text x="252.3" y="279.7" font-size="8.6" text-anchor="middle" font-weight="normal" fill="#222" transform="rotate(-90 252.3 279.7)" textLength="24.7" lengthAdjust="spacingAndGlyphs" >CD16/32</text>
<text x="290.3" y="318.6" font-size="6.0" text-anchor="middle" fill="#222" letter-spacing="0.2">0</text>
<text x="299.8" y="318.6" font-size="6.0" text-anchor="middle" fill="#222" letter-spacing="0.2">10<tspan dy="-2.4" font-size="4.14">3</tspan></text>
<text x="316.2" y="318.6" font-size="6.0" text-anchor="middle" fill="#222" letter-spacing="0.2">10<tspan dy="-2.4" font-size="4.14">4</tspan></text>
<text x="330" y="318.6" font-size="6.0" text-anchor="middle" fill="#222" letter-spacing="0.2">10<tspan dy="-2.4" font-size="4.14">5</tspan></text>
<path d="M290.3 309.2v1.6M299.8 309.2v1.6M316.2 309.2v1.6M330.0 309.2v1.6" stroke="#111" stroke-width="0.9"/>
<text x="305.8" y="332.3" font-size="8.6" text-anchor="middle" font-weight="normal" fill="#222" textLength="14.5" lengthAdjust="spacingAndGlyphs" >CD34</text>
<g clip-path="url(#k14)">
<path d="M298.4 384.9h0.9M284.6 389.7h0.9M302.1 386.0h0.9M299.1 381.2h0.9M312.4 382.0h0.9M291.7 384.1h0.9M292.2 382.5h0.9M309.0 384.3h0.9M303.0 379.6h0.9M298.7 383.5h0.9M296.6 384.7h0.9M297.1 383.8h0.9M293.1 384.5h0.9M294.8 384.2h0.9M288.2 385.3h0.9M283.2 390.0h0.9M301.5 388.5h0.9M291.0 380.4h0.9M285.5 382.9h0.9M288.2 385.8h0.9M288.4 384.5h0.9M276.6 385.5h0.9M295.2 384.5h0.9M290.3 383.3h0.9M288.7 386.6h0.9M293.0 384.7h0.9M282.3 377.6h0.9M301.5 381.0h0.9M279.6 383.5h0.9M293.6 386.7h0.9M290.8 382.2h0.9M299.4 381.3h0.9M276.5 380.8h0.9M288.5 382.8h0.9M292.0 384.1h0.9M293.7 381.6h0.9M315.2 382.7h0.9M287.8 384.3h0.9M289.4 385.5h0.9M289.1 384.9h0.9M285.3 376.4h0.9M296.5 388.7h0.9M281.6 382.4h0.9M300.5 382.5h0.9M293.2 383.3h0.9M298.5 383.6h0.9M313.7 384.1h0.9M289.2 379.9h0.9M293.0 381.3h0.9M298.9 385.6h0.9M293.4 387.0h0.9M311.7 384.2h0.9M291.7 387.5h0.9M295.0 384.9h0.9M301.2 381.8h0.9M312.7 383.0h0.9M292.1 382.9h0.9M288.1 384.0h0.9M304.4 391.6h0.9M299.8 383.7h0.9M285.1 388.0h0.9M285.3 383.9h0.9M306.6 383.6h0.9M290.5 384.4h0.9M294.0 385.1h0.9M288.2 377.8h0.9M283.5 386.2h0.9M283.7 381.4h0.9M297.8 385.6h0.9M293.9 385.8h0.9M300.9 385.5h0.9M295.9 389.3h0.9M280.2 390.5h0.9M295.1 381.9h0.9M299.8 387.0h0.9M279.2 384.6h0.9M301.2 386.4h0.9M292.7 381.0h0.9M291.2 390.3h0.9M282.2 392.8h0.9M291.7 383.8h0.9M286.4 384.5h0.9M294.5 381.1h0.9M314.2 387.5h0.9M296.4 380.4h0.9M288.2 383.5h0.9M300.8 383.7h0.9M280.0 383.5h0.9M290.0 384.1h0.9M301.6 382.0h0.9M302.7 380.6h0.9M300.1 382.6h0.9M299.7 385.6h0.9M277.2 381.1h0.9M290.6 380.1h0.9M279.5 381.5h0.9M290.4 383.8h0.9M283.9 383.4h0.9M305.0 385.7h0.9M296.6 382.1h0.9M284.9 380.6h0.9M283.1 378.8h0.9M290.6 382.9h0.9M284.8 382.3h0.9M278.4 386.1h0.9M298.8 387.5h0.9M295.9 383.6h0.9M301.8 380.5h0.9M277.3 386.7h0.9M297.5 384.8h0.9M306.6 383.9h0.9M294.7 385.3h0.9M279.5 385.2h0.9M298.7 383.9h0.9M284.6 381.7h0.9M306.7 387.6h0.9M291.0 381.8h0.9M304.7 387.2h0.9M297.8 381.9h0.9M300.6 386.7h0.9M287.3 381.7h0.9M287.9 384.7h0.9M296.7 385.5h0.9M292.3 382.6h0.9M295.8 387.0h0.9M293.9 386.0h0.9M291.4 382.0h0.9M287.9 383.6h0.9M285.6 384.6h0.9M300.3 384.4h0.9M287.9 384.7h0.9M280.8 385.5h0.9M306.3 385.6h0.9M307.7 382.8h0.9M309.1 382.6h0.9M308.7 382.3h0.9M289.4 385.3h0.9M290.8 386.6h0.9M294.6 384.4h0.9M290.8 389.4h0.9M297.6 384.6h0.9M292.6 384.8h0.9M301.2 384.8h0.9M307.6 384.1h0.9M298.3 384.7h0.9M299.4 385.0h0.9M297.3 384.9h0.9M294.6 385.9h0.9M285.3 382.0h0.9M292.4 384.4h0.9M305.6 379.9h0.9M307.6 382.6h0.9M283.5 385.0h0.9M295.8 386.8h0.9M297.0 388.1h0.9M290.1 379.9h0.9M289.7 383.5h0.9M299.7 386.7h0.9M293.6 382.1h0.9M302.8 387.9h0.9M315.1 384.4h0.9M304.1 386.0h0.9M294.5 383.0h0.9M303.9 386.4h0.9M291.7 383.6h0.9M293.7 381.2h0.9M306.5 384.2h0.9M281.3 383.3h0.9M280.6 381.9h0.9M278.8 384.4h0.9M292.6 383.4h0.9M293.7 382.0h0.9M285.5 384.9h0.9M288.2 386.6h0.9M287.2 384.4h0.9M288.8 387.0h0.9M282.3 386.3h0.9M304.2 385.5h0.9M306.2 381.4h0.9M287.2 385.2h0.9M286.0 382.6h0.9M289.4 388.7h0.9M285.5 383.9h0.9M295.5 388.5h0.9M278.8 379.2h0.9M291.4 381.7h0.9M285.6 378.5h0.9M309.1 379.8h0.9M296.9 385.7h0.9M301.0 388.6h0.9M287.3 380.6h0.9M295.6 386.7h0.9M291.0 383.3h0.9M304.7 381.2h0.9M312.1 379.8h0.9M283.2 383.8h0.9M283.2 386.2h0.9M285.4 382.6h0.9M289.0 387.3h0.9M291.9 383.5h0.9M304.4 381.6h0.9M278.6 384.0h0.9M296.9 381.3h0.9M289.9 385.1h0.9M290.1 384.9h0.9M291.5 388.0h0.9M277.5 388.8h0.9M299.6 391.5h0.9M305.7 379.1h0.9M296.3 380.8h0.9M303.4 388.5h0.9M303.2 383.2h0.9M293.4 380.1h0.9M294.9 377.9h0.9M288.6 382.7h0.9M279.9 385.3h0.9M294.5 388.3h0.9M289.9 385.1h0.9M281.2 387.5h0.9M285.9 382.1h0.9M278.0 386.1h0.9M294.9 382.9h0.9M295.6 386.7h0.9M293.3 385.7h0.9M290.1 385.5h0.9M302.8 384.7h0.9M278.6 385.5h0.9M314.6 381.2h0.9M283.6 384.3h0.9M283.6 382.0h0.9M293.8 375.8h0.9M298.7 379.6h0.9M309.1 383.9h0.9M291.8 379.8h0.9M304.7 383.3h0.9M280.8 386.4h0.9M298.7 388.6h0.9M282.2 383.6h0.9M284.7 380.1h0.9M285.0 382.4h0.9M290.4 383.9h0.9M290.1 384.3h0.9M288.5 383.4h0.9M294.0 388.8h0.9M290.0 382.1h0.9M288.7 384.4h0.9M284.8 382.7h0.9M282.0 383.8h0.9M309.6 382.3h0.9M295.8 387.7h0.9M294.5 382.2h0.9M300.6 386.8h0.9M284.9 381.8h0.9M278.3 383.0h0.9M290.4 382.8h0.9M288.9 385.3h0.9M296.0 390.1h0.9M277.7 380.3h0.9M286.0 385.1h0.9M307.6 386.5h0.9M303.0 380.5h0.9M295.2 388.7h0.9M299.0 382.5h0.9M296.7 387.9h0.9M294.3 380.4h0.9M302.7 382.3h0.9M297.2 386.3h0.9M287.1 387.1h0.9M278.0 387.7h0.9M278.7 380.4h0.9M288.7 383.4h0.9M294.3 385.3h0.9M289.9 381.4h0.9M301.9 378.7h0.9M301.3 380.7h0.9M292.3 385.2h0.9M295.1 383.2h0.9M302.3 384.9h0.9M284.7 382.5h0.9M285.6 379.6h0.9M303.7 378.4h0.9M303.7 389.9h0.9M305.1 385.6h0.9M292.8 382.6h0.9M290.4 388.2h0.9M287.5 384.6h0.9M305.6 385.2h0.9M295.9 385.2h0.9M290.9 387.5h0.9M300.2 385.2h0.9M290.3 386.1h0.9M291.9 380.9h0.9M297.4 377.7h0.9M299.3 383.3h0.9M289.6 382.6h0.9M306.5 384.9h0.9M285.8 383.7h0.9M287.4 388.3h0.9M288.1 383.1h0.9M293.3 383.6h0.9M280.1 386.2h0.9M292.4 385.6h0.9M294.7 385.1h0.9M282.4 390.8h0.9M305.6 385.0h0.9M276.7 378.5h0.9M303.7 387.5h0.9M305.2 382.4h0.9M288.4 383.0h0.9M283.5 389.7h0.9M286.9 382.3h0.9M298.8 388.8h0.9M295.9 380.1h0.9M294.8 382.2h0.9M290.3 381.3h0.9M289.4 382.4h0.9M287.8 385.8h0.9M285.1 386.5h0.9M293.4 384.1h0.9M290.9 381.0h0.9M303.6 384.2h0.9M286.1 382.0h0.9M298.0 389.5h0.9M296.3 380.9h0.9M284.5 380.3h0.9M283.5 382.9h0.9M286.4 385.4h0.9M289.4 384.9h0.9M294.6 381.7h0.9M299.0 384.3h0.9M297.5 380.6h0.9M293.1 384.9h0.9M281.3 386.1h0.9M287.6 383.1h0.9M294.3 378.7h0.9M292.8 386.1h0.9M298.3 389.6h0.9M296.6 382.5h0.9M290.5 381.5h0.9M295.1 381.8h0.9" stroke="#8a9cc6" stroke-width="0.9" opacity="0.6"/>
<path d="M285.9 399.6h0.9M282.4 397.5h0.9M288.6 403.8h0.9M288.8 413.4h0.9M285.7 407.0h0.9M286.7 408.1h0.9M294.2 398.7h0.9M285.6 409.9h0.9M286.4 407.9h0.9M290.8 408.3h0.9M287.8 407.7h0.9M289.8 410.7h0.9M297.0 412.2h0.9M291.7 407.6h0.9M295.5 405.0h0.9M290.2 414.4h0.9M303.2 402.2h0.9M301.7 404.8h0.9M292.4 403.9h0.9M289.7 426.9h0.9M288.7 409.9h0.9M286.7 414.2h0.9M287.6 408.1h0.9M284.3 401.2h0.9M278.0 429.4h0.9M289.5 409.1h0.9M286.6 415.5h0.9M286.4 421.1h0.9M290.5 398.6h0.9M307.0 408.7h0.9M303.5 408.2h0.9M292.8 414.9h0.9M297.2 401.1h0.9M301.0 405.0h0.9M298.2 399.6h0.9M300.3 405.0h0.9M288.4 413.2h0.9M287.7 405.8h0.9M306.0 407.4h0.9M300.5 399.3h0.9M297.3 398.3h0.9M295.0 407.8h0.9M293.7 417.9h0.9M293.3 409.9h0.9M300.9 402.7h0.9" stroke="#a8b0d0" stroke-width="0.9" opacity="0.5"/>
<ellipse cx="292" cy="384" rx="15" ry="3.8" fill="#a9b9cc" opacity="0.9" filter="url(#b2)"/>
<ellipse cx="293" cy="384.5" rx="10" ry="2.2" fill="#9cbc66" opacity="0.95" filter="url(#b1)"/>
<ellipse cx="293" cy="384.6" rx="4.5" ry="1.2" fill="#b8c058" opacity="0.7" filter="url(#b1)"/>
</g>
<rect x="275.1" y="369.6" width="63.10" height="61.90" fill="none" stroke="#5a5a5a" stroke-width="0.95"/>
<line x1="275.1" y1="369.1" x2="275.1" y2="432.1" stroke="#111" stroke-width="1.5"/>
<line x1="274.6" y1="431.5" x2="338.7" y2="431.5" stroke="#111" stroke-width="1.5"/>
<rect x="293.7" y="373.8" width="25.80" height="18.90" fill="none" stroke="#1c1c1c" stroke-width="1.25"/>
<rect x="293.7" y="395.5" width="25.80" height="34.60" fill="none" stroke="#1c1c1c" stroke-width="1.25"/>
<rect x="275.5" y="395.5" width="18.20" height="34.60" fill="none" stroke="#1c1c1c" stroke-width="1.25"/>
<text x="320.3" y="375.7" font-size="7" font-weight="bold" fill="#111" textLength="16.5" lengthAdjust="spacingAndGlyphs">GMP</text>
<text x="275.9" y="428.6" font-size="7" font-weight="bold" fill="#111" textLength="15.9" lengthAdjust="spacingAndGlyphs">MEP</text>
<text x="301.3" y="428.6" font-size="7" font-weight="bold" fill="#111" textLength="16.5" lengthAdjust="spacingAndGlyphs">CMP</text>
<text x="271.1" y="376.70" font-size="6.0" text-anchor="end" fill="#222" letter-spacing="0.2">10<tspan dy="-2.4" font-size="4.14">5</tspan></text>
<text x="271.1" y="392.00" font-size="6.0" text-anchor="end" fill="#222" letter-spacing="0.2">10<tspan dy="-2.4" font-size="4.14">4</tspan></text>
<text x="271.1" y="408.60" font-size="6.0" text-anchor="end" fill="#222" letter-spacing="0.2">10<tspan dy="-2.4" font-size="4.14">3</tspan></text>
<text x="271.1" y="419.00" font-size="6.0" text-anchor="end" fill="#222" letter-spacing="0.2">0</text>
<text x="271.1" y="429.40" font-size="6.0" text-anchor="end" fill="#222" letter-spacing="0.2">−10<tspan dy="-2.4" font-size="4.14">3</tspan></text>
<path d="M273.5 374.7h1.6M273.5 390.0h1.6M273.5 406.6h1.6M273.5 417.0h1.6M273.5 427.4h1.6" stroke="#111" stroke-width="0.9"/>
<text x="252.3" y="401.5" font-size="8.6" text-anchor="middle" font-weight="normal" fill="#222" transform="rotate(-90 252.3 401.5)" textLength="24.7" lengthAdjust="spacingAndGlyphs" >CD16/32</text>
<text x="290.3" y="442.6" font-size="6.0" text-anchor="middle" fill="#222" letter-spacing="0.2">0</text>
<text x="299.8" y="442.6" font-size="6.0" text-anchor="middle" fill="#222" letter-spacing="0.2">10<tspan dy="-2.4" font-size="4.14">3</tspan></text>
<text x="316.2" y="442.6" font-size="6.0" text-anchor="middle" fill="#222" letter-spacing="0.2">10<tspan dy="-2.4" font-size="4.14">4</tspan></text>
<text x="330" y="442.6" font-size="6.0" text-anchor="middle" fill="#222" letter-spacing="0.2">10<tspan dy="-2.4" font-size="4.14">5</tspan></text>
<path d="M290.3 431.5v1.6M299.8 431.5v1.6M316.2 431.5v1.6M330.0 431.5v1.6" stroke="#111" stroke-width="0.9"/>
<text x="305.8" y="455.5" font-size="8.6" text-anchor="middle" font-weight="normal" fill="#222" textLength="14.5" lengthAdjust="spacingAndGlyphs" >CD34</text>
<g clip-path="url(#k15)">
<path d="M297.3 534.7h0.9M305.6 547.5h0.9M293.2 523.8h0.9M295.4 527.4h0.9M299.2 518.6h0.9M301.4 517.3h0.9M302.9 522.1h0.9M301.6 534.5h0.9M299.5 524.9h0.9M296.1 519.9h0.9M308.2 536.1h0.9M309.8 534.0h0.9M301.9 525.0h0.9M298.8 515.9h0.9M305.3 539.8h0.9M307.9 544.3h0.9M294.8 507.0h0.9M304.1 532.9h0.9M295.0 521.9h0.9M304.3 547.4h0.9M302.4 524.0h0.9M304.5 540.9h0.9M293.8 537.6h0.9M295.0 530.7h0.9M302.7 531.0h0.9M292.2 534.1h0.9M292.6 537.0h0.9M290.0 525.7h0.9M297.5 523.7h0.9M301.2 532.8h0.9M309.7 534.7h0.9M305.9 519.7h0.9M305.7 538.7h0.9M307.3 543.9h0.9M295.3 517.9h0.9M296.0 524.4h0.9M307.4 511.6h0.9M300.3 539.9h0.9M299.2 516.8h0.9M295.4 535.5h0.9M303.9 528.8h0.9M301.8 543.6h0.9M298.2 549.2h0.9M294.8 548.5h0.9M292.4 543.1h0.9M300.1 515.7h0.9M300.7 535.6h0.9M303.1 531.4h0.9M299.1 527.5h0.9M300.5 541.9h0.9M302.5 537.0h0.9M301.0 543.7h0.9M312.7 551.4h0.9M293.6 522.0h0.9M294.4 526.9h0.9M310.4 526.8h0.9M300.5 528.3h0.9M289.9 518.9h0.9M296.1 522.1h0.9M298.2 525.8h0.9M298.8 514.7h0.9M305.4 535.0h0.9M296.2 525.6h0.9M295.3 511.8h0.9M303.6 526.0h0.9M305.7 544.7h0.9M292.8 519.3h0.9M302.8 525.0h0.9M296.4 526.3h0.9M302.3 517.1h0.9" stroke="#a8acc8" stroke-width="0.9" opacity="0.4"/>
</g>
<rect x="275.1" y="492.3" width="64.70" height="63.50" fill="none" stroke="#5a5a5a" stroke-width="0.95"/>
<line x1="275.1" y1="491.8" x2="275.1" y2="556.4" stroke="#111" stroke-width="1.5"/>
<line x1="274.6" y1="555.8" x2="340.3" y2="555.8" stroke="#111" stroke-width="1.5"/>
<rect x="305.1" y="495.1" width="34.70" height="60.30" fill="none" stroke="#1c1c1c" stroke-width="1.25"/>
<text x="323.6" y="553.5" font-size="7" font-weight="bold" fill="#111" textLength="15.2" lengthAdjust="spacingAndGlyphs">CLP</text>
<text x="270.5" y="497.30" font-size="6.4" text-anchor="end" fill="#222" letter-spacing="0.1">250K</text>
<text x="270.5" y="509.32" font-size="6.4" text-anchor="end" fill="#222" letter-spacing="0.1">200K</text>
<text x="270.5" y="521.34" font-size="6.4" text-anchor="end" fill="#222" letter-spacing="0.1">150K</text>
<text x="270.5" y="533.36" font-size="6.4" text-anchor="end" fill="#222" letter-spacing="0.1">100K</text>
<text x="270.5" y="545.38" font-size="6.4" text-anchor="end" fill="#222" letter-spacing="0.1">50K</text>
<text x="270.5" y="557.40" font-size="6.4" text-anchor="end" fill="#222" letter-spacing="0.1">0</text>
<path d="M273.5 495.3h1.6M273.5 507.3h1.6M273.5 519.3h1.6M273.5 531.4h1.6M273.5 543.4h1.6M273.5 555.4h1.6" stroke="#111" stroke-width="0.9"/>
<text x="251.2" y="525.05" font-size="8.6" text-anchor="middle" font-weight="normal" fill="#222" transform="rotate(-90 251.2 525.05)" textLength="11.2" lengthAdjust="spacingAndGlyphs" >SSC</text>
<text x="279.7" y="567" font-size="6.0" text-anchor="middle" fill="#222" letter-spacing="0.2">−10<tspan dy="-2.4" font-size="4.14">3</tspan></text>
<text x="291.2" y="567" font-size="6.0" text-anchor="middle" fill="#222" letter-spacing="0.2">0</text>
<text x="301.2" y="567" font-size="6.0" text-anchor="middle" fill="#222" letter-spacing="0.2">10<tspan dy="-2.4" font-size="4.14">3</tspan></text>
<text x="318.5" y="567" font-size="6.0" text-anchor="middle" fill="#222" letter-spacing="0.2">10<tspan dy="-2.4" font-size="4.14">4</tspan></text>
<text x="333.3" y="567" font-size="6.0" text-anchor="middle" fill="#222" letter-spacing="0.2">10<tspan dy="-2.4" font-size="4.14">5</tspan></text>
<path d="M284.0 555.8v1.6M289.7 555.8v1.6M299.0 555.8v1.6M316.5 555.8v1.6M331.5 555.8v1.6" stroke="#111" stroke-width="0.9"/>
<text x="307" y="578.8" font-size="8.6" text-anchor="middle" font-weight="normal" fill="#222" textLength="9.3" lengthAdjust="spacingAndGlyphs" >Flt3</text>
<g clip-path="url(#k16)">
<path d="M299.3 652.6h0.9M299.4 660.5h0.9M299.4 640.7h0.9M301.7 651.8h0.9M298.9 655.2h0.9M301.2 664.7h0.9M303.3 655.2h0.9M296.3 645.1h0.9M301.2 666.0h0.9M300.2 653.2h0.9M302.7 641.1h0.9M298.4 658.6h0.9M304.4 652.0h0.9M301.9 656.4h0.9M303.9 644.2h0.9M302.8 640.6h0.9M286.9 648.7h0.9M295.4 662.1h0.9M303.3 643.2h0.9M304.2 645.2h0.9M299.6 651.6h0.9M300.6 661.6h0.9M303.2 657.3h0.9M303.2 658.5h0.9M296.9 647.7h0.9M297.7 658.7h0.9M298.7 675.2h0.9M295.9 644.3h0.9M303.8 667.0h0.9M302.5 661.7h0.9M307.1 653.4h0.9M292.9 649.4h0.9M304.8 641.2h0.9M300.2 656.5h0.9M298.4 660.7h0.9M302.9 675.1h0.9M303.1 648.7h0.9M297.2 646.7h0.9M304.8 649.1h0.9M299.6 660.9h0.9M296.4 651.6h0.9M290.8 644.5h0.9M297.2 657.9h0.9M306.0 654.0h0.9M301.3 655.7h0.9M305.4 662.2h0.9M301.4 645.1h0.9M304.5 657.6h0.9M306.1 653.9h0.9M309.8 651.0h0.9M308.0 655.2h0.9M297.4 644.0h0.9M299.2 667.0h0.9M304.1 660.4h0.9M288.1 660.6h0.9M302.8 649.3h0.9M296.9 654.2h0.9M308.6 644.7h0.9M297.9 666.5h0.9M297.8 650.9h0.9M300.5 643.0h0.9M301.1 643.3h0.9M304.4 654.2h0.9M311.4 656.7h0.9M306.8 642.5h0.9M299.4 657.1h0.9M308.7 639.1h0.9M305.0 659.5h0.9M307.7 660.6h0.9M300.3 649.5h0.9" stroke="#a8acc8" stroke-width="0.9" opacity="0.4"/>
</g>
<rect x="275.1" y="616.2" width="64.70" height="63.90" fill="none" stroke="#5a5a5a" stroke-width="0.95"/>
<line x1="275.1" y1="615.7" x2="275.1" y2="680.7" stroke="#111" stroke-width="1.5"/>
<line x1="274.6" y1="680.1" x2="340.3" y2="680.1" stroke="#111" stroke-width="1.5"/>
<rect x="305.1" y="619.2" width="34.70" height="60.50" fill="none" stroke="#1c1c1c" stroke-width="1.25"/>
<text x="323.6" y="677.8000000000001" font-size="7" font-weight="bold" fill="#111" textLength="15.2" lengthAdjust="spacingAndGlyphs">CLP</text>
<text x="270.5" y="621.20" font-size="6.4" text-anchor="end" fill="#222" letter-spacing="0.1">250K</text>
<text x="270.5" y="633.30" font-size="6.4" text-anchor="end" fill="#222" letter-spacing="0.1">200K</text>
<text x="270.5" y="645.40" font-size="6.4" text-anchor="end" fill="#222" letter-spacing="0.1">150K</text>
<text x="270.5" y="657.50" font-size="6.4" text-anchor="end" fill="#222" letter-spacing="0.1">100K</text>
<text x="270.5" y="669.60" font-size="6.4" text-anchor="end" fill="#222" letter-spacing="0.1">50K</text>
<text x="270.5" y="681.70" font-size="6.4" text-anchor="end" fill="#222" letter-spacing="0.1">0</text>
<path d="M273.5 619.2h1.6M273.5 631.3h1.6M273.5 643.4h1.6M273.5 655.5h1.6M273.5 667.6h1.6M273.5 679.7h1.6" stroke="#111" stroke-width="0.9"/>
<text x="251.2" y="649.1500000000001" font-size="8.6" text-anchor="middle" font-weight="normal" fill="#222" transform="rotate(-90 251.2 649.1500000000001)" textLength="11.2" lengthAdjust="spacingAndGlyphs" >SSC</text>
<text x="279.7" y="691.3" font-size="6.0" text-anchor="middle" fill="#222" letter-spacing="0.2">−10<tspan dy="-2.4" font-size="4.14">3</tspan></text>
<text x="291.2" y="691.3" font-size="6.0" text-anchor="middle" fill="#222" letter-spacing="0.2">0</text>
<text x="301.2" y="691.3" font-size="6.0" text-anchor="middle" fill="#222" letter-spacing="0.2">10<tspan dy="-2.4" font-size="4.14">3</tspan></text>
<text x="318.5" y="691.3" font-size="6.0" text-anchor="middle" fill="#222" letter-spacing="0.2">10<tspan dy="-2.4" font-size="4.14">4</tspan></text>
<text x="333.3" y="691.3" font-size="6.0" text-anchor="middle" fill="#222" letter-spacing="0.2">10<tspan dy="-2.4" font-size="4.14">5</tspan></text>
<path d="M284.0 680.1v1.6M289.7 680.1v1.6M299.0 680.1v1.6M316.5 680.1v1.6M331.5 680.1v1.6" stroke="#111" stroke-width="0.9"/>
<text x="307" y="703" font-size="8.6" text-anchor="middle" font-weight="normal" fill="#222" textLength="9.3" lengthAdjust="spacingAndGlyphs" >Flt3</text>
<text x="368.2" y="111.2" font-size="10.8" text-anchor="start" font-weight="bold" fill="#111" >C</text>
<text x="462.3" y="110.7" font-size="8.3" text-anchor="middle" font-weight="normal" fill="#222" textLength="22.6" lengthAdjust="spacingAndGlyphs" >LMPP</text>
<line x1="418.2" y1="118.6" x2="418.2" y2="181.2" stroke="#1a1a1a" stroke-width="1.25"/>
<line x1="417.59999999999997" y1="181.2" x2="505.7" y2="181.2" stroke="#1a1a1a" stroke-width="1.25"/>
<line x1="415.59999999999997" y1="181.2" x2="418.2" y2="181.2" stroke="#1a1a1a" stroke-width="1"/>
<text x="413.59999999999997" y="183.3" font-size="5.9" text-anchor="end" fill="#2a2a2a" textLength="12.9" lengthAdjust="spacingAndGlyphs">0.00</text>
<line x1="415.59999999999997" y1="168.8" x2="418.2" y2="168.8" stroke="#1a1a1a" stroke-width="1"/>
<text x="413.59999999999997" y="170.9" font-size="5.9" text-anchor="end" fill="#2a2a2a" textLength="12.9" lengthAdjust="spacingAndGlyphs">0.02</text>
<line x1="415.59999999999997" y1="156.4" x2="418.2" y2="156.4" stroke="#1a1a1a" stroke-width="1"/>
<text x="413.59999999999997" y="158.5" font-size="5.9" text-anchor="end" fill="#2a2a2a" textLength="12.9" lengthAdjust="spacingAndGlyphs">0.04</text>
<line x1="415.59999999999997" y1="144.0" x2="418.2" y2="144.0" stroke="#1a1a1a" stroke-width="1"/>
<text x="413.59999999999997" y="146.1" font-size="5.9" text-anchor="end" fill="#2a2a2a" textLength="12.9" lengthAdjust="spacingAndGlyphs">0.06</text>
<line x1="415.59999999999997" y1="131.6" x2="418.2" y2="131.6" stroke="#1a1a1a" stroke-width="1"/>
<text x="413.59999999999997" y="133.7" font-size="5.9" text-anchor="end" fill="#2a2a2a" textLength="12.9" lengthAdjust="spacingAndGlyphs">0.08</text>
<line x1="415.59999999999997" y1="119.2" x2="418.2" y2="119.2" stroke="#1a1a1a" stroke-width="1"/>
<text x="413.59999999999997" y="121.3" font-size="5.9" text-anchor="end" fill="#2a2a2a" textLength="12.9" lengthAdjust="spacingAndGlyphs">0.10</text>
<line x1="436.3" y1="181.2" x2="436.3" y2="184.2" stroke="#1a1a1a" stroke-width="1"/>
<line x1="461.8" y1="181.2" x2="461.8" y2="184.2" stroke="#1a1a1a" stroke-width="1"/>
<line x1="487.5" y1="181.2" x2="487.5" y2="184.2" stroke="#1a1a1a" stroke-width="1"/>
<text x="436.3" y="192.6" font-size="6.2" text-anchor="middle" font-weight="normal" fill="#3a3a3a" textLength="16.6" lengthAdjust="spacingAndGlyphs" >E14.5</text>
<text x="461.8" y="192.6" font-size="6.2" text-anchor="middle" font-weight="normal" fill="#3a3a3a" textLength="16.6" lengthAdjust="spacingAndGlyphs" >E16.5</text>
<text x="487.5" y="192.6" font-size="6.2" text-anchor="middle" font-weight="normal" fill="#3a3a3a" textLength="16.6" lengthAdjust="spacingAndGlyphs" >E17.5</text>
<text x="394.4" y="149.6" font-size="6.5" font-weight="bold" text-anchor="middle" fill="#2a2a2a" transform="rotate(-90 394.4 149.6)" textLength="40" lengthAdjust="spacingAndGlyphs">Content (×10<tspan dy="-2.2" font-size="4.3">6</tspan><tspan dy="2.2">)</tspan></text>
<g fill="#3a9c44"><circle cx="434.5" cy="169.0" r="1.1"/><circle cx="438.6" cy="168.5" r="1.1"/><circle cx="431.5" cy="170.2" r="1.1"/><circle cx="434.8" cy="170.7" r="1.1"/><circle cx="438.1" cy="171.0" r="1.1"/><circle cx="441.2" cy="170.2" r="1.1"/><circle cx="429.0" cy="172.4" r="1.1"/><circle cx="432.0" cy="172.3" r="1.1"/><circle cx="435.5" cy="172.4" r="1.1"/><circle cx="438.3" cy="172.4" r="1.1"/><circle cx="441.7" cy="172.1" r="1.1"/><circle cx="432.3" cy="174.7" r="1.1"/><circle cx="435.8" cy="174.4" r="1.1"/><circle cx="438.6" cy="174.4" r="1.1"/><circle cx="441.9" cy="174.7" r="1.1"/><circle cx="431.8" cy="176.5" r="1.1"/><circle cx="435.0" cy="176.0" r="1.1"/><circle cx="438.6" cy="176.0" r="1.1"/></g>
<g fill="#fff" fill-opacity="0.35" stroke="#c8202e" stroke-width="0.85"><circle cx="436.0" cy="162.1" r="1.05"/><circle cx="431.8" cy="168.3" r="1.05"/><circle cx="435.7" cy="168.8" r="1.05"/><circle cx="438.7" cy="168.8" r="1.05"/><circle cx="431.3" cy="170.9" r="1.05"/><circle cx="434.4" cy="170.9" r="1.05"/><circle cx="438.1" cy="170.7" r="1.05"/><circle cx="440.7" cy="170.1" r="1.05"/><circle cx="431.7" cy="172.9" r="1.05"/><circle cx="435.6" cy="172.8" r="1.05"/><circle cx="438.1" cy="172.7" r="1.05"/></g>
<g stroke="#5dbb62" stroke-width="1.1"><line x1="436.3" y1="171.4" x2="436.3" y2="172.6"/><line x1="427.8" y1="172.0" x2="444.8" y2="172.0"/><line x1="431.1" y1="171.4" x2="441.5" y2="171.4"/><line x1="431.1" y1="172.6" x2="441.5" y2="172.6"/></g>
<g stroke="#c8202e" stroke-width="1.1"><line x1="436.3" y1="170.4" x2="436.3" y2="172.0"/><line x1="427.8" y1="171.2" x2="444.8" y2="171.2"/><line x1="431.1" y1="170.4" x2="441.5" y2="170.4"/><line x1="431.1" y1="172.0" x2="441.5" y2="172.0"/></g>
<g fill="#3a9c44"><circle cx="462.4" cy="129.1" r="1.1"/><circle cx="461.0" cy="145.6" r="1.1"/><circle cx="462.5" cy="147.9" r="1.1"/><circle cx="460.7" cy="151.8" r="1.1"/><circle cx="464.8" cy="151.1" r="1.1"/><circle cx="459.2" cy="155.2" r="1.1"/><circle cx="462.3" cy="154.6" r="1.1"/><circle cx="459.9" cy="157.6" r="1.1"/><circle cx="463.4" cy="157.8" r="1.1"/><circle cx="459.1" cy="161.5" r="1.1"/><circle cx="463.1" cy="160.8" r="1.1"/><circle cx="459.3" cy="164.4" r="1.1"/><circle cx="462.0" cy="164.1" r="1.1"/><circle cx="461.0" cy="168.1" r="1.1"/><circle cx="464.6" cy="167.7" r="1.1"/><circle cx="461.7" cy="172.1" r="1.1"/><circle cx="461.7" cy="176.0" r="1.1"/></g>
<g fill="#fff" fill-opacity="0.35" stroke="#c8202e" stroke-width="0.85"><circle cx="459.8" cy="165.6" r="1.05"/><circle cx="462.8" cy="164.8" r="1.05"/><circle cx="457.4" cy="167.1" r="1.05"/><circle cx="460.7" cy="167.3" r="1.05"/><circle cx="464.3" cy="167.4" r="1.05"/><circle cx="459.1" cy="170.2" r="1.05"/><circle cx="462.1" cy="170.2" r="1.05"/><circle cx="465.5" cy="169.6" r="1.05"/><circle cx="460.1" cy="172.2" r="1.05"/><circle cx="463.8" cy="171.7" r="1.05"/></g>
<g stroke="#5dbb62" stroke-width="1.1"><line x1="461.8" y1="156.5" x2="461.8" y2="162.0"/><line x1="453.3" y1="159.1" x2="470.3" y2="159.1"/><line x1="456.6" y1="156.5" x2="467.0" y2="156.5"/><line x1="456.6" y1="162.0" x2="467.0" y2="162.0"/></g>
<g stroke="#c8202e" stroke-width="1.1"><line x1="461.8" y1="167.8" x2="461.8" y2="170.2"/><line x1="453.3" y1="169.0" x2="470.3" y2="169.0"/><line x1="456.6" y1="167.8" x2="467.0" y2="167.8"/><line x1="456.6" y1="170.2" x2="467.0" y2="170.2"/></g>
<g fill="#3a9c44"><circle cx="487.4" cy="140.4" r="1.1"/><circle cx="484.3" cy="145.8" r="1.1"/><circle cx="488.3" cy="145.2" r="1.1"/><circle cx="487.5" cy="147.2" r="1.1"/><circle cx="485.6" cy="149.0" r="1.1"/><circle cx="489.1" cy="149.4" r="1.1"/><circle cx="491.4" cy="148.9" r="1.1"/><circle cx="483.9" cy="151.6" r="1.1"/><circle cx="487.0" cy="151.7" r="1.1"/><circle cx="491.0" cy="151.1" r="1.1"/><circle cx="486.1" cy="154.1" r="1.1"/><circle cx="489.8" cy="154.5" r="1.1"/><circle cx="487.7" cy="157.6" r="1.1"/></g>
<g fill="#fff" fill-opacity="0.35" stroke="#c8202e" stroke-width="0.85"><circle cx="485.2" cy="163.9" r="1.05"/><circle cx="488.1" cy="163.7" r="1.05"/><circle cx="485.5" cy="179.5" r="1.05"/><circle cx="488.2" cy="179.6" r="1.05"/></g>
<g stroke="#5dbb62" stroke-width="1.1"><line x1="487.5" y1="148.7" x2="487.5" y2="153.9"/><line x1="479.0" y1="151.3" x2="496.0" y2="151.3"/><line x1="482.3" y1="148.7" x2="492.7" y2="148.7"/><line x1="482.3" y1="153.9" x2="492.7" y2="153.9"/></g>
<g stroke="#c8202e" stroke-width="1.1"><line x1="487.5" y1="164.0" x2="487.5" y2="180.0"/><line x1="479.0" y1="171.7" x2="496.0" y2="171.7"/><line x1="482.3" y1="164.0" x2="492.7" y2="164.0"/><line x1="482.3" y1="180.0" x2="492.7" y2="180.0"/></g>
<path d="M461.8 128.8 V124.5 H487.5 V140.6" fill="none" stroke="#2a2a2a" stroke-width="1.2"/>
<path d="M474.0 121.3h1.2" stroke="#333" stroke-width="1.2"/>
<path d="M472.1 160.3 H474.3 V170 H472.1" fill="none" stroke="#4d78a5" stroke-width="1.1"/>
<text x="476.3" y="167.5" font-size="6.4" text-anchor="start" font-weight="normal" fill="#333" >*</text>
<path d="M498.1 151.3 H500.3 V172.1 H498.1" fill="none" stroke="#4d78a5" stroke-width="1.1"/>
<text x="502.3" y="167.5" font-size="6.4" text-anchor="start" font-weight="normal" fill="#333" >**</text>
<circle cx="422.8" cy="119.3" r="1.1" fill="#3a9c44"/>
<text x="427" y="121.5" font-size="5.9" text-anchor="start" font-weight="normal" fill="#222" textLength="8.2" lengthAdjust="spacingAndGlyphs" >WT</text>
<circle cx="422.8" cy="129.2" r="1.35" fill="none" stroke="#c8202e" stroke-width="0.95"/>
<text x="427" y="131.4" font-size="5.9" fill="#222">Zbtb11<tspan dy="-2" font-size="3.7">hKO</tspan></text>
<text x="367.7" y="239.2" font-size="10.8" text-anchor="start" font-weight="bold" fill="#111" >E</text>
<text x="462.3" y="240.4" font-size="8.3" text-anchor="middle" font-weight="normal" fill="#222" textLength="18.5" lengthAdjust="spacingAndGlyphs" >CMP</text>
<line x1="417.2" y1="246.4" x2="417.2" y2="309.8" stroke="#1a1a1a" stroke-width="1.25"/>
<line x1="416.59999999999997" y1="309.8" x2="504.4" y2="309.8" stroke="#1a1a1a" stroke-width="1.25"/>
<line x1="414.59999999999997" y1="309.8" x2="417.2" y2="309.8" stroke="#1a1a1a" stroke-width="1"/>
<text x="412.59999999999997" y="311.9" font-size="5.9" text-anchor="end" fill="#2a2a2a" textLength="9" lengthAdjust="spacingAndGlyphs">0.0</text>
<line x1="414.59999999999997" y1="288.9" x2="417.2" y2="288.9" stroke="#1a1a1a" stroke-width="1"/>
<text x="412.59999999999997" y="291.0" font-size="5.9" text-anchor="end" fill="#2a2a2a" textLength="9" lengthAdjust="spacingAndGlyphs">0.1</text>
<line x1="414.59999999999997" y1="267.9" x2="417.2" y2="267.9" stroke="#1a1a1a" stroke-width="1"/>
<text x="412.59999999999997" y="270.0" font-size="5.9" text-anchor="end" fill="#2a2a2a" textLength="9" lengthAdjust="spacingAndGlyphs">0.2</text>
<line x1="414.59999999999997" y1="247.0" x2="417.2" y2="247.0" stroke="#1a1a1a" stroke-width="1"/>
<text x="412.59999999999997" y="249.1" font-size="5.9" text-anchor="end" fill="#2a2a2a" textLength="9" lengthAdjust="spacingAndGlyphs">0.3</text>
<line x1="436.3" y1="309.8" x2="436.3" y2="312.8" stroke="#1a1a1a" stroke-width="1"/>
<line x1="461.8" y1="309.8" x2="461.8" y2="312.8" stroke="#1a1a1a" stroke-width="1"/>
<line x1="487.5" y1="309.8" x2="487.5" y2="312.8" stroke="#1a1a1a" stroke-width="1"/>
<text x="436.3" y="321.2" font-size="6.2" text-anchor="middle" font-weight="normal" fill="#3a3a3a" textLength="16.6" lengthAdjust="spacingAndGlyphs" >E14.5</text>
<text x="461.8" y="321.2" font-size="6.2" text-anchor="middle" font-weight="normal" fill="#3a3a3a" textLength="16.6" lengthAdjust="spacingAndGlyphs" >E16.5</text>
<text x="487.5" y="321.2" font-size="6.2" text-anchor="middle" font-weight="normal" fill="#3a3a3a" textLength="16.6" lengthAdjust="spacingAndGlyphs" >E17.5</text>
<text x="397.3" y="277.0" font-size="6.5" font-weight="bold" text-anchor="middle" fill="#2a2a2a" transform="rotate(-90 397.3 277.0)" textLength="40" lengthAdjust="spacingAndGlyphs">Content (×10<tspan dy="-2.2" font-size="4.3">6</tspan><tspan dy="2.2">)</tspan></text>
<g fill="#3a9c44"><circle cx="436.1" cy="291.1" r="1.1"/><circle cx="435.4" cy="293.9" r="1.1"/><circle cx="437.9" cy="293.7" r="1.1"/><circle cx="433.3" cy="296.4" r="1.1"/><circle cx="436.4" cy="295.7" r="1.1"/><circle cx="439.7" cy="296.4" r="1.1"/><circle cx="431.4" cy="298.4" r="1.1"/><circle cx="434.3" cy="298.0" r="1.1"/><circle cx="437.2" cy="297.6" r="1.1"/><circle cx="440.4" cy="298.1" r="1.1"/><circle cx="430.7" cy="300.1" r="1.1"/><circle cx="434.0" cy="299.9" r="1.1"/><circle cx="436.4" cy="299.6" r="1.1"/><circle cx="439.9" cy="300.0" r="1.1"/><circle cx="443.9" cy="299.8" r="1.1"/><circle cx="429.3" cy="301.9" r="1.1"/><circle cx="432.4" cy="301.7" r="1.1"/><circle cx="436.0" cy="302.4" r="1.1"/><circle cx="439.2" cy="302.4" r="1.1"/><circle cx="442.1" cy="301.5" r="1.1"/><circle cx="431.3" cy="304.0" r="1.1"/><circle cx="433.9" cy="303.7" r="1.1"/><circle cx="437.1" cy="303.9" r="1.1"/><circle cx="441.2" cy="304.4" r="1.1"/><circle cx="433.9" cy="306.2" r="1.1"/><circle cx="437.2" cy="306.2" r="1.1"/><circle cx="440.2" cy="306.0" r="1.1"/></g>
<g fill="#fff" fill-opacity="0.35" stroke="#c8202e" stroke-width="0.85"><circle cx="435.2" cy="293.6" r="1.05"/><circle cx="439.1" cy="293.6" r="1.05"/><circle cx="433.3" cy="296.3" r="1.05"/><circle cx="437.2" cy="296.1" r="1.05"/><circle cx="440.5" cy="296.3" r="1.05"/><circle cx="430.5" cy="297.6" r="1.05"/><circle cx="433.7" cy="297.9" r="1.05"/><circle cx="437.2" cy="297.5" r="1.05"/><circle cx="440.6" cy="297.5" r="1.05"/><circle cx="429.8" cy="299.6" r="1.05"/><circle cx="434.1" cy="300.3" r="1.05"/><circle cx="437.3" cy="299.7" r="1.05"/><circle cx="440.4" cy="300.3" r="1.05"/><circle cx="433.3" cy="302.5" r="1.05"/><circle cx="437.1" cy="302.2" r="1.05"/><circle cx="439.9" cy="301.9" r="1.05"/><circle cx="435.3" cy="304.0" r="1.05"/><circle cx="439.0" cy="303.9" r="1.05"/></g>
<g stroke="#5dbb62" stroke-width="1.1"><line x1="436.3" y1="300.6" x2="436.3" y2="302.2"/><line x1="427.8" y1="301.4" x2="444.8" y2="301.4"/><line x1="431.1" y1="300.6" x2="441.5" y2="300.6"/><line x1="431.1" y1="302.2" x2="441.5" y2="302.2"/></g>
<g stroke="#c8202e" stroke-width="1.1"><line x1="436.3" y1="299.6" x2="436.3" y2="301.2"/><line x1="427.8" y1="300.4" x2="444.8" y2="300.4"/><line x1="431.1" y1="299.6" x2="441.5" y2="299.6"/><line x1="431.1" y1="301.2" x2="441.5" y2="301.2"/></g>
<g fill="#3a9c44"><circle cx="461.8" cy="276.0" r="1.1"/><circle cx="460.2" cy="281.9" r="1.1"/><circle cx="463.7" cy="281.8" r="1.1"/><circle cx="458.4" cy="284.9" r="1.1"/><circle cx="461.8" cy="284.1" r="1.1"/><circle cx="465.3" cy="284.1" r="1.1"/><circle cx="457.8" cy="286.6" r="1.1"/><circle cx="460.9" cy="287.4" r="1.1"/><circle cx="464.1" cy="287.3" r="1.1"/><circle cx="457.3" cy="289.1" r="1.1"/><circle cx="461.2" cy="289.9" r="1.1"/><circle cx="464.6" cy="289.7" r="1.1"/><circle cx="467.6" cy="290.0" r="1.1"/><circle cx="456.0" cy="292.4" r="1.1"/><circle cx="458.6" cy="292.2" r="1.1"/><circle cx="462.5" cy="291.5" r="1.1"/><circle cx="465.4" cy="292.2" r="1.1"/><circle cx="469.0" cy="292.1" r="1.1"/><circle cx="454.8" cy="295.4" r="1.1"/><circle cx="458.5" cy="295.1" r="1.1"/><circle cx="461.5" cy="294.6" r="1.1"/><circle cx="464.2" cy="295.1" r="1.1"/><circle cx="468.2" cy="294.6" r="1.1"/></g>
<g fill="#fff" fill-opacity="0.35" stroke="#c8202e" stroke-width="0.85"><circle cx="453.0" cy="305.4" r="1.05"/><circle cx="454.9" cy="305.3" r="1.05"/><circle cx="458.0" cy="305.9" r="1.05"/><circle cx="460.6" cy="305.9" r="1.05"/><circle cx="463.4" cy="305.4" r="1.05"/><circle cx="466.8" cy="305.1" r="1.05"/><circle cx="469.3" cy="305.3" r="1.05"/></g>
<g stroke="#5dbb62" stroke-width="1.1"><line x1="461.8" y1="287.8" x2="461.8" y2="290.2"/><line x1="453.3" y1="289.0" x2="470.3" y2="289.0"/><line x1="456.6" y1="287.8" x2="467.0" y2="287.8"/><line x1="456.6" y1="290.2" x2="467.0" y2="290.2"/></g>
<g stroke="#c8202e" stroke-width="1.1"><line x1="461.8" y1="305.2" x2="461.8" y2="306.0"/><line x1="453.3" y1="305.6" x2="470.3" y2="305.6"/><line x1="456.6" y1="305.2" x2="467.0" y2="305.2"/><line x1="456.6" y1="306.0" x2="467.0" y2="306.0"/></g>
<g fill="#3a9c44"><circle cx="487.6" cy="259.7" r="1.1"/><circle cx="488.2" cy="263.7" r="1.1"/><circle cx="486.5" cy="268.8" r="1.1"/><circle cx="490.1" cy="268.4" r="1.1"/><circle cx="485.3" cy="270.8" r="1.1"/><circle cx="488.5" cy="270.8" r="1.1"/><circle cx="491.5" cy="271.4" r="1.1"/><circle cx="485.0" cy="274.4" r="1.1"/><circle cx="488.9" cy="273.5" r="1.1"/><circle cx="491.5" cy="273.9" r="1.1"/><circle cx="487.2" cy="277.8" r="1.1"/><circle cx="490.0" cy="278.4" r="1.1"/><circle cx="481.5" cy="281.9" r="1.1"/><circle cx="485.3" cy="282.4" r="1.1"/><circle cx="488.8" cy="281.5" r="1.1"/><circle cx="491.4" cy="281.6" r="1.1"/><circle cx="484.3" cy="285.4" r="1.1"/><circle cx="487.8" cy="285.1" r="1.1"/><circle cx="491.2" cy="284.7" r="1.1"/><circle cx="488.3" cy="289.3" r="1.1"/></g>
<g fill="#fff" fill-opacity="0.35" stroke="#c8202e" stroke-width="0.85"><circle cx="479.4" cy="308.0" r="1.05"/><circle cx="482.4" cy="308.6" r="1.05"/><circle cx="485.0" cy="308.8" r="1.05"/><circle cx="488.5" cy="308.6" r="1.05"/><circle cx="491.0" cy="308.1" r="1.05"/><circle cx="494.2" cy="308.1" r="1.05"/><circle cx="496.3" cy="308.7" r="1.05"/></g>
<g stroke="#5dbb62" stroke-width="1.1"><line x1="487.5" y1="274.5" x2="487.5" y2="280.3"/><line x1="479.0" y1="277.4" x2="496.0" y2="277.4"/><line x1="482.3" y1="274.5" x2="492.7" y2="274.5"/><line x1="482.3" y1="280.3" x2="492.7" y2="280.3"/></g>
<g stroke="#c8202e" stroke-width="1.1"><line x1="487.5" y1="308.3" x2="487.5" y2="308.9"/><line x1="479.0" y1="308.6" x2="496.0" y2="308.6"/><line x1="482.3" y1="308.3" x2="492.7" y2="308.3"/><line x1="482.3" y1="308.9" x2="492.7" y2="308.9"/></g>
<path d="M461.8 273 V254.3 H487.5 V257.3" fill="none" stroke="#2a2a2a" stroke-width="1.2"/>
<path d="M470.7 251.1h1.2M472.9 251.1h1.2M475.1 251.1h1.2M477.3 251.1h1.2" stroke="#333" stroke-width="1.2"/>
<path d="M471.8 289 H474 V306 H471.8" fill="none" stroke="#4d78a5" stroke-width="1.1"/>
<path d="M476.4 295.6h1.2M478.6 295.6h1.2M480.8 295.6h1.2M483.0 295.6h1.2" stroke="#4d78a5" stroke-width="1.2"/>
<path d="M497.1 277.4 H499.3 V308 H497.1" fill="none" stroke="#4d78a5" stroke-width="1.1"/>
<path d="M501.7 295.6h1.2M503.9 295.6h1.2M506.1 295.6h1.2M508.3 295.6h1.2" stroke="#4d78a5" stroke-width="1.2"/>
<text x="367.7" y="359.2" font-size="10.8" text-anchor="start" font-weight="bold" fill="#111" >F</text>
<text x="462.3" y="361.6" font-size="8.3" text-anchor="middle" font-weight="normal" fill="#222" textLength="19.3" lengthAdjust="spacingAndGlyphs" >GMP</text>
<line x1="417.8" y1="369.6" x2="417.8" y2="431.7" stroke="#1a1a1a" stroke-width="1.25"/>
<line x1="417.2" y1="431.7" x2="504.6" y2="431.7" stroke="#1a1a1a" stroke-width="1.25"/>
<line x1="415.2" y1="431.7" x2="417.8" y2="431.7" stroke="#1a1a1a" stroke-width="1"/>
<text x="413.2" y="433.8" font-size="5.9" text-anchor="end" fill="#2a2a2a" textLength="9" lengthAdjust="spacingAndGlyphs">0.0</text>
<line x1="415.2" y1="416.3" x2="417.8" y2="416.3" stroke="#1a1a1a" stroke-width="1"/>
<text x="413.2" y="418.4" font-size="5.9" text-anchor="end" fill="#2a2a2a" textLength="9" lengthAdjust="spacingAndGlyphs">0.1</text>
<line x1="415.2" y1="400.9" x2="417.8" y2="400.9" stroke="#1a1a1a" stroke-width="1"/>
<text x="413.2" y="403.1" font-size="5.9" text-anchor="end" fill="#2a2a2a" textLength="9" lengthAdjust="spacingAndGlyphs">0.2</text>
<line x1="415.2" y1="385.6" x2="417.8" y2="385.6" stroke="#1a1a1a" stroke-width="1"/>
<text x="413.2" y="387.7" font-size="5.9" text-anchor="end" fill="#2a2a2a" textLength="9" lengthAdjust="spacingAndGlyphs">0.3</text>
<line x1="415.2" y1="370.2" x2="417.8" y2="370.2" stroke="#1a1a1a" stroke-width="1"/>
<text x="413.2" y="372.3" font-size="5.9" text-anchor="end" fill="#2a2a2a" textLength="9" lengthAdjust="spacingAndGlyphs">0.4</text>
<line x1="436.3" y1="431.7" x2="436.3" y2="434.7" stroke="#1a1a1a" stroke-width="1"/>
<line x1="461.8" y1="431.7" x2="461.8" y2="434.7" stroke="#1a1a1a" stroke-width="1"/>
<line x1="487.5" y1="431.7" x2="487.5" y2="434.7" stroke="#1a1a1a" stroke-width="1"/>
<text x="436.3" y="443.09999999999997" font-size="6.2" text-anchor="middle" font-weight="normal" fill="#3a3a3a" textLength="16.6" lengthAdjust="spacingAndGlyphs" >E14.5</text>
<text x="461.8" y="443.09999999999997" font-size="6.2" text-anchor="middle" font-weight="normal" fill="#3a3a3a" textLength="16.6" lengthAdjust="spacingAndGlyphs" >E16.5</text>
<text x="487.5" y="443.09999999999997" font-size="6.2" text-anchor="middle" font-weight="normal" fill="#3a3a3a" textLength="16.6" lengthAdjust="spacingAndGlyphs" >E17.5</text>
<text x="398.3" y="400.3" font-size="6.5" font-weight="bold" text-anchor="middle" fill="#2a2a2a" transform="rotate(-90 398.3 400.3)" textLength="40" lengthAdjust="spacingAndGlyphs">Content (×10<tspan dy="-2.2" font-size="4.3">6</tspan><tspan dy="2.2">)</tspan></text>
<g fill="#3a9c44"><circle cx="436.2" cy="393.8" r="1.1"/><circle cx="436.0" cy="396.9" r="1.1"/><circle cx="434.7" cy="400.6" r="1.1"/><circle cx="438.4" cy="400.8" r="1.1"/><circle cx="434.4" cy="404.5" r="1.1"/><circle cx="437.2" cy="404.3" r="1.1"/><circle cx="434.4" cy="407.8" r="1.1"/><circle cx="437.6" cy="408.3" r="1.1"/><circle cx="432.7" cy="411.0" r="1.1"/><circle cx="435.4" cy="411.3" r="1.1"/><circle cx="439.0" cy="411.4" r="1.1"/><circle cx="430.7" cy="413.5" r="1.1"/><circle cx="433.5" cy="413.9" r="1.1"/><circle cx="436.9" cy="413.8" r="1.1"/><circle cx="440.5" cy="414.2" r="1.1"/><circle cx="431.2" cy="417.3" r="1.1"/><circle cx="434.2" cy="417.5" r="1.1"/><circle cx="437.3" cy="416.9" r="1.1"/><circle cx="441.4" cy="416.7" r="1.1"/><circle cx="432.3" cy="420.5" r="1.1"/><circle cx="436.3" cy="419.6" r="1.1"/><circle cx="439.2" cy="419.7" r="1.1"/><circle cx="431.6" cy="423.2" r="1.1"/><circle cx="435.2" cy="422.8" r="1.1"/><circle cx="438.5" cy="422.6" r="1.1"/><circle cx="433.9" cy="425.7" r="1.1"/><circle cx="437.5" cy="425.6" r="1.1"/></g>
<g fill="#fff" fill-opacity="0.35" stroke="#c8202e" stroke-width="0.85"><circle cx="434.2" cy="410.8" r="1.05"/><circle cx="437.3" cy="410.7" r="1.05"/><circle cx="433.2" cy="413.7" r="1.05"/><circle cx="436.5" cy="414.0" r="1.05"/><circle cx="439.9" cy="414.0" r="1.05"/><circle cx="432.2" cy="416.8" r="1.05"/><circle cx="435.7" cy="417.3" r="1.05"/><circle cx="439.2" cy="417.0" r="1.05"/><circle cx="432.6" cy="419.3" r="1.05"/><circle cx="436.1" cy="420.0" r="1.05"/><circle cx="438.5" cy="419.8" r="1.05"/><circle cx="442.4" cy="419.6" r="1.05"/><circle cx="433.3" cy="421.8" r="1.05"/><circle cx="437.0" cy="421.2" r="1.05"/><circle cx="440.6" cy="421.7" r="1.05"/><circle cx="433.1" cy="423.3" r="1.05"/><circle cx="437.0" cy="423.8" r="1.05"/></g>
<g stroke="#5dbb62" stroke-width="1.1"><line x1="436.3" y1="411.0" x2="436.3" y2="414.0"/><line x1="427.8" y1="412.4" x2="444.8" y2="412.4"/><line x1="431.1" y1="411.0" x2="441.5" y2="411.0"/><line x1="431.1" y1="414.0" x2="441.5" y2="414.0"/></g>
<g stroke="#c8202e" stroke-width="1.1"><line x1="436.3" y1="418.3" x2="436.3" y2="420.3"/><line x1="427.8" y1="419.3" x2="444.8" y2="419.3"/><line x1="431.1" y1="418.3" x2="441.5" y2="418.3"/><line x1="431.1" y1="420.3" x2="441.5" y2="420.3"/></g>
<g fill="#3a9c44"><circle cx="461.6" cy="390.1" r="1.1"/><circle cx="464.2" cy="390.0" r="1.1"/><circle cx="461.6" cy="397.6" r="1.1"/><circle cx="457.7" cy="405.8" r="1.1"/><circle cx="461.3" cy="405.8" r="1.1"/><circle cx="464.2" cy="405.4" r="1.1"/><circle cx="467.6" cy="405.5" r="1.1"/><circle cx="459.3" cy="408.2" r="1.1"/><circle cx="462.0" cy="408.1" r="1.1"/><circle cx="465.5" cy="407.6" r="1.1"/><circle cx="457.5" cy="411.4" r="1.1"/><circle cx="461.1" cy="410.6" r="1.1"/><circle cx="464.6" cy="411.2" r="1.1"/><circle cx="456.6" cy="413.8" r="1.1"/><circle cx="460.2" cy="414.0" r="1.1"/><circle cx="463.3" cy="414.1" r="1.1"/><circle cx="467.1" cy="414.1" r="1.1"/><circle cx="458.5" cy="417.2" r="1.1"/><circle cx="462.1" cy="418.0" r="1.1"/><circle cx="465.4" cy="417.9" r="1.1"/></g>
<g fill="#fff" fill-opacity="0.35" stroke="#c8202e" stroke-width="0.85"><circle cx="457.7" cy="428.6" r="1.05"/><circle cx="461.5" cy="429.4" r="1.05"/><circle cx="464.9" cy="429.1" r="1.05"/><circle cx="454.6" cy="430.1" r="1.05"/><circle cx="457.1" cy="430.9" r="1.05"/><circle cx="461.3" cy="430.7" r="1.05"/><circle cx="464.3" cy="430.4" r="1.05"/><circle cx="467.8" cy="430.3" r="1.05"/><circle cx="470.2" cy="430.8" r="1.05"/></g>
<g stroke="#5dbb62" stroke-width="1.1"><line x1="461.8" y1="406.2" x2="461.8" y2="409.8"/><line x1="453.3" y1="408.0" x2="470.3" y2="408.0"/><line x1="456.6" y1="406.2" x2="467.0" y2="406.2"/><line x1="456.6" y1="409.8" x2="467.0" y2="409.8"/></g>
<g stroke="#c8202e" stroke-width="1.1"><line x1="461.8" y1="429.4" x2="461.8" y2="430.6"/><line x1="453.3" y1="430.0" x2="470.3" y2="430.0"/><line x1="456.6" y1="429.4" x2="467.0" y2="429.4"/><line x1="456.6" y1="430.6" x2="467.0" y2="430.6"/></g>
<g fill="#3a9c44"><circle cx="487.2" cy="384.0" r="1.1"/><circle cx="484.9" cy="388.8" r="1.1"/><circle cx="488.5" cy="389.3" r="1.1"/><circle cx="483.4" cy="391.4" r="1.1"/><circle cx="487.0" cy="391.7" r="1.1"/><circle cx="490.8" cy="391.4" r="1.1"/><circle cx="481.8" cy="393.9" r="1.1"/><circle cx="485.2" cy="394.2" r="1.1"/><circle cx="488.4" cy="394.3" r="1.1"/><circle cx="491.3" cy="394.3" r="1.1"/><circle cx="481.8" cy="397.1" r="1.1"/><circle cx="485.1" cy="396.6" r="1.1"/><circle cx="488.3" cy="396.8" r="1.1"/><circle cx="491.5" cy="396.9" r="1.1"/><circle cx="483.7" cy="399.7" r="1.1"/><circle cx="487.7" cy="399.9" r="1.1"/><circle cx="490.3" cy="399.2" r="1.1"/><circle cx="485.7" cy="401.7" r="1.1"/><circle cx="489.0" cy="401.5" r="1.1"/><circle cx="488.6" cy="404.9" r="1.1"/><circle cx="487.5" cy="408.5" r="1.1"/><circle cx="488.2" cy="413.7" r="1.1"/></g>
<g fill="#fff" fill-opacity="0.35" stroke="#c8202e" stroke-width="0.85"><circle cx="487.6" cy="419.1" r="1.05"/><circle cx="486.5" cy="426.5" r="1.05"/><circle cx="490.0" cy="427.2" r="1.05"/><circle cx="484.6" cy="429.2" r="1.05"/><circle cx="487.9" cy="429.4" r="1.05"/><circle cx="490.5" cy="428.6" r="1.05"/><circle cx="483.3" cy="430.6" r="1.05"/><circle cx="487.2" cy="430.2" r="1.05"/><circle cx="490.3" cy="430.2" r="1.05"/></g>
<g stroke="#5dbb62" stroke-width="1.1"><line x1="487.5" y1="395.5" x2="487.5" y2="399.0"/><line x1="479.0" y1="397.3" x2="496.0" y2="397.3"/><line x1="482.3" y1="395.5" x2="492.7" y2="395.5"/><line x1="482.3" y1="399.0" x2="492.7" y2="399.0"/></g>
<g stroke="#c8202e" stroke-width="1.1"><line x1="487.5" y1="426.2" x2="487.5" y2="430.5"/><line x1="479.0" y1="428.5" x2="496.0" y2="428.5"/><line x1="482.3" y1="426.2" x2="492.7" y2="426.2"/><line x1="482.3" y1="430.5" x2="492.7" y2="430.5"/></g>
<path d="M461.8 387.3 V378.7 H487.5 V384.7" fill="none" stroke="#2a2a2a" stroke-width="1.2"/>
<path d="M471.8 375.5h1.2M474.0 375.5h1.2M476.2 375.5h1.2" stroke="#333" stroke-width="1.2"/>
<path d="M471.8 408 H474 V430.5 H471.8" fill="none" stroke="#4d78a5" stroke-width="1.1"/>
<path d="M476.4 422.8h1.2M478.6 422.8h1.2M480.8 422.8h1.2M483.0 422.8h1.2M485.2 422.8h1.2" stroke="#4d78a5" stroke-width="1.2"/>
<path d="M497.5 397.3 H499.7 V428.5 H497.5" fill="none" stroke="#4d78a5" stroke-width="1.1"/>
<path d="M502.1 422.8h1.2M504.3 422.8h1.2M506.5 422.8h1.2M508.7 422.8h1.2M510.9 422.8h1.2" stroke="#4d78a5" stroke-width="1.2"/>
<text x="367.7" y="483.2" font-size="10.8" text-anchor="start" font-weight="bold" fill="#111" >G</text>
<text x="462.3" y="485.9" font-size="8.3" text-anchor="middle" font-weight="normal" fill="#222" textLength="18.5" lengthAdjust="spacingAndGlyphs" >MEP</text>
<line x1="417.8" y1="492.1" x2="417.8" y2="555.8" stroke="#1a1a1a" stroke-width="1.25"/>
<line x1="417.2" y1="555.8" x2="504.5" y2="555.8" stroke="#1a1a1a" stroke-width="1.25"/>
<line x1="415.2" y1="555.8" x2="417.8" y2="555.8" stroke="#1a1a1a" stroke-width="1"/>
<text x="413.2" y="557.9" font-size="5.9" text-anchor="end" fill="#2a2a2a" textLength="13.5" lengthAdjust="spacingAndGlyphs">0.00</text>
<line x1="415.2" y1="534.8" x2="417.8" y2="534.8" stroke="#1a1a1a" stroke-width="1"/>
<text x="413.2" y="536.9" font-size="5.9" text-anchor="end" fill="#2a2a2a" textLength="13.5" lengthAdjust="spacingAndGlyphs">0.05</text>
<line x1="415.2" y1="513.7" x2="417.8" y2="513.7" stroke="#1a1a1a" stroke-width="1"/>
<text x="413.2" y="515.8" font-size="5.9" text-anchor="end" fill="#2a2a2a" textLength="13.5" lengthAdjust="spacingAndGlyphs">0.10</text>
<line x1="415.2" y1="492.7" x2="417.8" y2="492.7" stroke="#1a1a1a" stroke-width="1"/>
<text x="413.2" y="494.8" font-size="5.9" text-anchor="end" fill="#2a2a2a" textLength="13.5" lengthAdjust="spacingAndGlyphs">0.15</text>
<line x1="436.3" y1="555.8" x2="436.3" y2="558.8" stroke="#1a1a1a" stroke-width="1"/>
<line x1="461.8" y1="555.8" x2="461.8" y2="558.8" stroke="#1a1a1a" stroke-width="1"/>
<line x1="487.5" y1="555.8" x2="487.5" y2="558.8" stroke="#1a1a1a" stroke-width="1"/>
<text x="436.3" y="567.1999999999999" font-size="6.2" text-anchor="middle" font-weight="normal" fill="#3a3a3a" textLength="16.6" lengthAdjust="spacingAndGlyphs" >E14.5</text>
<text x="461.8" y="567.1999999999999" font-size="6.2" text-anchor="middle" font-weight="normal" fill="#3a3a3a" textLength="16.6" lengthAdjust="spacingAndGlyphs" >E16.5</text>
<text x="487.5" y="567.1999999999999" font-size="6.2" text-anchor="middle" font-weight="normal" fill="#3a3a3a" textLength="16.6" lengthAdjust="spacingAndGlyphs" >E17.5</text>
<text x="396.8" y="522.0" font-size="6.5" font-weight="bold" text-anchor="middle" fill="#2a2a2a" transform="rotate(-90 396.8 522.0)" textLength="40" lengthAdjust="spacingAndGlyphs">Content (×10<tspan dy="-2.2" font-size="4.3">6</tspan><tspan dy="2.2">)</tspan></text>
<g fill="#3a9c44"><circle cx="435.5" cy="529.4" r="1.1"/><circle cx="435.6" cy="537.0" r="1.1"/><circle cx="438.4" cy="537.4" r="1.1"/><circle cx="434.6" cy="540.5" r="1.1"/><circle cx="438.0" cy="540.1" r="1.1"/><circle cx="432.8" cy="542.9" r="1.1"/><circle cx="436.2" cy="542.3" r="1.1"/><circle cx="439.8" cy="542.2" r="1.1"/><circle cx="432.6" cy="544.7" r="1.1"/><circle cx="436.2" cy="545.4" r="1.1"/><circle cx="439.1" cy="545.3" r="1.1"/><circle cx="441.9" cy="544.8" r="1.1"/><circle cx="431.7" cy="547.4" r="1.1"/><circle cx="435.1" cy="547.6" r="1.1"/><circle cx="438.1" cy="547.8" r="1.1"/><circle cx="440.8" cy="547.9" r="1.1"/><circle cx="432.8" cy="549.7" r="1.1"/><circle cx="436.8" cy="550.1" r="1.1"/><circle cx="440.3" cy="550.4" r="1.1"/><circle cx="434.7" cy="552.3" r="1.1"/><circle cx="438.5" cy="551.8" r="1.1"/></g>
<g fill="#fff" fill-opacity="0.35" stroke="#c8202e" stroke-width="0.85"><circle cx="434.3" cy="537.5" r="1.05"/><circle cx="437.6" cy="537.9" r="1.05"/><circle cx="435.3" cy="541.3" r="1.05"/><circle cx="438.7" cy="540.8" r="1.05"/><circle cx="433.7" cy="543.4" r="1.05"/><circle cx="437.2" cy="544.0" r="1.05"/><circle cx="440.4" cy="543.1" r="1.05"/><circle cx="431.1" cy="546.2" r="1.05"/><circle cx="434.0" cy="545.8" r="1.05"/><circle cx="437.3" cy="546.0" r="1.05"/><circle cx="440.8" cy="545.8" r="1.05"/><circle cx="431.6" cy="548.1" r="1.05"/><circle cx="434.9" cy="547.9" r="1.05"/><circle cx="438.4" cy="547.6" r="1.05"/><circle cx="440.8" cy="547.6" r="1.05"/><circle cx="432.8" cy="550.2" r="1.05"/><circle cx="435.8" cy="550.8" r="1.05"/><circle cx="439.1" cy="550.6" r="1.05"/></g>
<g stroke="#5dbb62" stroke-width="1.1"><line x1="436.3" y1="543.3" x2="436.3" y2="545.3"/><line x1="427.8" y1="544.3" x2="444.8" y2="544.3"/><line x1="431.1" y1="543.3" x2="441.5" y2="543.3"/><line x1="431.1" y1="545.3" x2="441.5" y2="545.3"/></g>
<g stroke="#c8202e" stroke-width="1.1"><line x1="436.3" y1="545.2" x2="436.3" y2="546.8"/><line x1="427.8" y1="546.0" x2="444.8" y2="546.0"/><line x1="431.1" y1="545.2" x2="441.5" y2="545.2"/><line x1="431.1" y1="546.8" x2="441.5" y2="546.8"/></g>
<g fill="#3a9c44"><circle cx="461.0" cy="531.4" r="1.1"/><circle cx="465.0" cy="531.2" r="1.1"/><circle cx="459.0" cy="534.1" r="1.1"/><circle cx="463.1" cy="534.0" r="1.1"/><circle cx="466.4" cy="534.5" r="1.1"/><circle cx="459.3" cy="537.2" r="1.1"/><circle cx="463.0" cy="537.1" r="1.1"/><circle cx="465.5" cy="536.7" r="1.1"/><circle cx="455.1" cy="539.2" r="1.1"/><circle cx="459.2" cy="539.5" r="1.1"/><circle cx="462.6" cy="539.8" r="1.1"/><circle cx="465.6" cy="539.4" r="1.1"/><circle cx="468.4" cy="539.1" r="1.1"/><circle cx="457.8" cy="542.1" r="1.1"/><circle cx="460.8" cy="542.0" r="1.1"/><circle cx="464.3" cy="542.4" r="1.1"/><circle cx="458.4" cy="544.6" r="1.1"/><circle cx="461.8" cy="544.3" r="1.1"/><circle cx="464.4" cy="544.5" r="1.1"/><circle cx="459.7" cy="547.5" r="1.1"/><circle cx="462.9" cy="546.7" r="1.1"/></g>
<g fill="#fff" fill-opacity="0.35" stroke="#c8202e" stroke-width="0.85"><circle cx="453.1" cy="554.4" r="1.05"/><circle cx="454.6" cy="554.4" r="1.05"/><circle cx="458.2" cy="554.6" r="1.05"/><circle cx="460.6" cy="555.0" r="1.05"/><circle cx="464.0" cy="554.0" r="1.05"/><circle cx="466.1" cy="554.6" r="1.05"/><circle cx="469.1" cy="554.2" r="1.05"/></g>
<g stroke="#5dbb62" stroke-width="1.1"><line x1="461.8" y1="538.4" x2="461.8" y2="540.8"/><line x1="453.3" y1="539.6" x2="470.3" y2="539.6"/><line x1="456.6" y1="538.4" x2="467.0" y2="538.4"/><line x1="456.6" y1="540.8" x2="467.0" y2="540.8"/></g>
<g stroke="#c8202e" stroke-width="1.1"><line x1="461.8" y1="554.4" x2="461.8" y2="554.8"/><line x1="453.3" y1="554.6" x2="470.3" y2="554.6"/><line x1="456.6" y1="554.4" x2="467.0" y2="554.4"/><line x1="456.6" y1="554.8" x2="467.0" y2="554.8"/></g>
<g fill="#3a9c44"><circle cx="488.3" cy="511.4" r="1.1"/><circle cx="488.1" cy="513.3" r="1.1"/><circle cx="487.8" cy="516.4" r="1.1"/><circle cx="485.8" cy="519.3" r="1.1"/><circle cx="489.5" cy="519.2" r="1.1"/><circle cx="484.7" cy="521.9" r="1.1"/><circle cx="487.9" cy="521.9" r="1.1"/><circle cx="483.5" cy="524.6" r="1.1"/><circle cx="487.3" cy="525.4" r="1.1"/><circle cx="490.2" cy="525.2" r="1.1"/><circle cx="481.9" cy="528.4" r="1.1"/><circle cx="485.3" cy="528.0" r="1.1"/><circle cx="488.5" cy="527.8" r="1.1"/><circle cx="492.1" cy="527.9" r="1.1"/><circle cx="484.7" cy="531.1" r="1.1"/><circle cx="487.5" cy="531.3" r="1.1"/><circle cx="490.8" cy="531.2" r="1.1"/><circle cx="486.0" cy="533.6" r="1.1"/><circle cx="488.7" cy="534.2" r="1.1"/><circle cx="486.3" cy="536.5" r="1.1"/><circle cx="489.8" cy="536.6" r="1.1"/><circle cx="487.7" cy="541.1" r="1.1"/></g>
<g fill="#fff" fill-opacity="0.35" stroke="#c8202e" stroke-width="0.85"><circle cx="479.4" cy="554.9" r="1.05"/><circle cx="482.1" cy="555.2" r="1.05"/><circle cx="485.7" cy="555.0" r="1.05"/><circle cx="488.6" cy="555.0" r="1.05"/><circle cx="491.4" cy="555.1" r="1.05"/><circle cx="493.5" cy="554.3" r="1.05"/><circle cx="496.5" cy="554.3" r="1.05"/></g>
<g stroke="#5dbb62" stroke-width="1.1"><line x1="487.5" y1="525.8" x2="487.5" y2="529.6"/><line x1="479.0" y1="527.9" x2="496.0" y2="527.9"/><line x1="482.3" y1="525.8" x2="492.7" y2="525.8"/><line x1="482.3" y1="529.6" x2="492.7" y2="529.6"/></g>
<g stroke="#c8202e" stroke-width="1.1"><line x1="487.5" y1="554.5" x2="487.5" y2="554.9"/><line x1="479.0" y1="554.7" x2="496.0" y2="554.7"/><line x1="482.3" y1="554.5" x2="492.7" y2="554.5"/><line x1="482.3" y1="554.9" x2="492.7" y2="554.9"/></g>
<path d="M461.8 527.9 V504.5 H487.5 V508" fill="none" stroke="#2a2a2a" stroke-width="1.2"/>
<path d="M470.7 501.3h1.2M472.9 501.3h1.2M475.1 501.3h1.2M477.3 501.3h1.2" stroke="#333" stroke-width="1.2"/>
<path d="M472.5 539.6 H474.7 V555 H472.5" fill="none" stroke="#4d78a5" stroke-width="1.1"/>
<path d="M477.1 543.8h1.2M479.3 543.8h1.2M481.5 543.8h1.2M483.7 543.8h1.2" stroke="#4d78a5" stroke-width="1.2"/>
<path d="M498.40000000000003 527.9 H500.6 V555 H498.40000000000003" fill="none" stroke="#4d78a5" stroke-width="1.1"/>
<path d="M503.0 543.8h1.2M505.2 543.8h1.2M507.4 543.8h1.2M509.6 543.8h1.2" stroke="#4d78a5" stroke-width="1.2"/>
<text x="370.6" y="607.6" font-size="10.8" text-anchor="start" font-weight="bold" fill="#111" >I</text>
<text x="462.3" y="607.8" font-size="8.3" text-anchor="middle" font-weight="normal" fill="#222" textLength="17.6" lengthAdjust="spacingAndGlyphs" >CLP</text>
<line x1="417.2" y1="614.6" x2="417.2" y2="679.8" stroke="#1a1a1a" stroke-width="1.25"/>
<line x1="416.59999999999997" y1="679.8" x2="505" y2="679.8" stroke="#1a1a1a" stroke-width="1.25"/>
<line x1="414.59999999999997" y1="679.8" x2="417.2" y2="679.8" stroke="#1a1a1a" stroke-width="1"/>
<text x="412.59999999999997" y="681.9" font-size="5.9" text-anchor="end" fill="#2a2a2a" textLength="17.5" lengthAdjust="spacingAndGlyphs">0.000</text>
<line x1="414.59999999999997" y1="663.6" x2="417.2" y2="663.6" stroke="#1a1a1a" stroke-width="1"/>
<text x="412.59999999999997" y="665.8" font-size="5.9" text-anchor="end" fill="#2a2a2a" textLength="17.5" lengthAdjust="spacingAndGlyphs">0.005</text>
<line x1="414.59999999999997" y1="647.5" x2="417.2" y2="647.5" stroke="#1a1a1a" stroke-width="1"/>
<text x="412.59999999999997" y="649.6" font-size="5.9" text-anchor="end" fill="#2a2a2a" textLength="17.5" lengthAdjust="spacingAndGlyphs">0.010</text>
<line x1="414.59999999999997" y1="631.3" x2="417.2" y2="631.3" stroke="#1a1a1a" stroke-width="1"/>
<text x="412.59999999999997" y="633.4" font-size="5.9" text-anchor="end" fill="#2a2a2a" textLength="17.5" lengthAdjust="spacingAndGlyphs">0.015</text>
<line x1="414.59999999999997" y1="615.2" x2="417.2" y2="615.2" stroke="#1a1a1a" stroke-width="1"/>
<text x="412.59999999999997" y="617.3" font-size="5.9" text-anchor="end" fill="#2a2a2a" textLength="17.5" lengthAdjust="spacingAndGlyphs">0.020</text>
<line x1="436.3" y1="679.8" x2="436.3" y2="682.8" stroke="#1a1a1a" stroke-width="1"/>
<line x1="461.8" y1="679.8" x2="461.8" y2="682.8" stroke="#1a1a1a" stroke-width="1"/>
<line x1="487.5" y1="679.8" x2="487.5" y2="682.8" stroke="#1a1a1a" stroke-width="1"/>
<text x="436.3" y="691.1999999999999" font-size="6.2" text-anchor="middle" font-weight="normal" fill="#3a3a3a" textLength="16.6" lengthAdjust="spacingAndGlyphs" >E14.5</text>
<text x="461.8" y="691.1999999999999" font-size="6.2" text-anchor="middle" font-weight="normal" fill="#3a3a3a" textLength="16.6" lengthAdjust="spacingAndGlyphs" >E16.5</text>
<text x="487.5" y="691.1999999999999" font-size="6.2" text-anchor="middle" font-weight="normal" fill="#3a3a3a" textLength="16.6" lengthAdjust="spacingAndGlyphs" >E17.5</text>
<text x="390.5" y="646.0" font-size="6.5" font-weight="bold" text-anchor="middle" fill="#2a2a2a" transform="rotate(-90 390.5 646.0)" textLength="40" lengthAdjust="spacingAndGlyphs">Content (×10<tspan dy="-2.2" font-size="4.3">6</tspan><tspan dy="2.2">)</tspan></text>
<g fill="#3a9c44"><circle cx="436.6" cy="654.0" r="1.1"/><circle cx="435.9" cy="657.4" r="1.1"/><circle cx="434.9" cy="663.0" r="1.1"/><circle cx="438.9" cy="663.6" r="1.1"/><circle cx="432.5" cy="666.0" r="1.1"/><circle cx="436.6" cy="665.9" r="1.1"/><circle cx="440.1" cy="665.9" r="1.1"/><circle cx="431.9" cy="667.8" r="1.1"/><circle cx="435.9" cy="668.5" r="1.1"/><circle cx="438.3" cy="668.1" r="1.1"/><circle cx="442.2" cy="668.1" r="1.1"/><circle cx="430.9" cy="670.9" r="1.1"/><circle cx="434.0" cy="670.1" r="1.1"/><circle cx="437.9" cy="670.0" r="1.1"/><circle cx="440.9" cy="670.6" r="1.1"/><circle cx="433.2" cy="673.1" r="1.1"/><circle cx="436.9" cy="673.3" r="1.1"/><circle cx="440.0" cy="673.4" r="1.1"/><circle cx="433.3" cy="675.4" r="1.1"/><circle cx="436.4" cy="675.3" r="1.1"/><circle cx="439.6" cy="675.8" r="1.1"/></g>
<g fill="#fff" fill-opacity="0.35" stroke="#c8202e" stroke-width="0.85"><circle cx="433.9" cy="670.1" r="1.05"/><circle cx="437.2" cy="670.1" r="1.05"/><circle cx="430.5" cy="672.3" r="1.05"/><circle cx="434.1" cy="672.3" r="1.05"/><circle cx="437.6" cy="672.4" r="1.05"/><circle cx="440.9" cy="672.3" r="1.05"/><circle cx="431.5" cy="674.4" r="1.05"/><circle cx="435.0" cy="674.6" r="1.05"/><circle cx="438.1" cy="674.7" r="1.05"/><circle cx="441.1" cy="674.3" r="1.05"/><circle cx="434.1" cy="676.5" r="1.05"/><circle cx="437.7" cy="676.9" r="1.05"/><circle cx="440.7" cy="676.1" r="1.05"/></g>
<g stroke="#5dbb62" stroke-width="1.1"><line x1="436.3" y1="666.6" x2="436.3" y2="668.6"/><line x1="427.8" y1="667.6" x2="444.8" y2="667.6"/><line x1="431.1" y1="666.6" x2="441.5" y2="666.6"/><line x1="431.1" y1="668.6" x2="441.5" y2="668.6"/></g>
<g stroke="#c8202e" stroke-width="1.1"><line x1="436.3" y1="672.8" x2="436.3" y2="674.4"/><line x1="427.8" y1="673.6" x2="444.8" y2="673.6"/><line x1="431.1" y1="672.8" x2="441.5" y2="672.8"/><line x1="431.1" y1="674.4" x2="441.5" y2="674.4"/></g>
<g fill="#3a9c44"><circle cx="461.6" cy="646.9" r="1.1"/><circle cx="459.6" cy="650.4" r="1.1"/><circle cx="462.6" cy="649.6" r="1.1"/><circle cx="459.7" cy="652.9" r="1.1"/><circle cx="463.3" cy="653.3" r="1.1"/><circle cx="457.8" cy="656.4" r="1.1"/><circle cx="461.2" cy="655.9" r="1.1"/><circle cx="464.0" cy="656.4" r="1.1"/><circle cx="459.3" cy="658.8" r="1.1"/><circle cx="462.2" cy="659.4" r="1.1"/><circle cx="466.1" cy="659.3" r="1.1"/><circle cx="459.9" cy="662.3" r="1.1"/><circle cx="463.4" cy="662.2" r="1.1"/><circle cx="458.7" cy="664.8" r="1.1"/><circle cx="462.7" cy="664.8" r="1.1"/><circle cx="459.0" cy="667.7" r="1.1"/><circle cx="462.3" cy="668.2" r="1.1"/><circle cx="460.2" cy="671.0" r="1.1"/><circle cx="463.9" cy="671.4" r="1.1"/><circle cx="459.8" cy="675.6" r="1.1"/><circle cx="463.1" cy="674.9" r="1.1"/></g>
<g fill="#fff" fill-opacity="0.35" stroke="#c8202e" stroke-width="0.85"><circle cx="452.9" cy="678.4" r="1.05"/><circle cx="455.2" cy="678.3" r="1.05"/><circle cx="458.0" cy="678.2" r="1.05"/><circle cx="460.8" cy="678.2" r="1.05"/><circle cx="463.5" cy="677.8" r="1.05"/><circle cx="466.8" cy="678.3" r="1.05"/><circle cx="469.6" cy="678.2" r="1.05"/></g>
<g stroke="#5dbb62" stroke-width="1.1"><line x1="461.8" y1="656.7" x2="461.8" y2="663.3"/><line x1="453.3" y1="660.1" x2="470.3" y2="660.1"/><line x1="456.6" y1="656.7" x2="467.0" y2="656.7"/><line x1="456.6" y1="663.3" x2="467.0" y2="663.3"/></g>
<g stroke="#c8202e" stroke-width="1.1"><line x1="461.8" y1="677.7" x2="461.8" y2="678.3"/><line x1="453.3" y1="678.0" x2="470.3" y2="678.0"/><line x1="456.6" y1="677.7" x2="467.0" y2="677.7"/><line x1="456.6" y1="678.3" x2="467.0" y2="678.3"/></g>
<g fill="#3a9c44"><circle cx="487.9" cy="635.4" r="1.1"/><circle cx="487.6" cy="636.8" r="1.1"/><circle cx="485.5" cy="643.2" r="1.1"/><circle cx="488.3" cy="643.0" r="1.1"/><circle cx="492.1" cy="643.0" r="1.1"/><circle cx="485.2" cy="646.4" r="1.1"/><circle cx="489.2" cy="646.3" r="1.1"/><circle cx="486.2" cy="648.9" r="1.1"/><circle cx="488.9" cy="648.3" r="1.1"/><circle cx="487.0" cy="654.2" r="1.1"/><circle cx="487.8" cy="661.7" r="1.1"/></g>
<g fill="#fff" fill-opacity="0.35" stroke="#c8202e" stroke-width="0.85"><circle cx="486.2" cy="674.0" r="1.05"/><circle cx="489.9" cy="674.5" r="1.05"/><circle cx="484.5" cy="676.9" r="1.05"/><circle cx="488.0" cy="676.5" r="1.05"/><circle cx="491.5" cy="676.9" r="1.05"/><circle cx="486.8" cy="677.7" r="1.05"/><circle cx="489.3" cy="677.5" r="1.05"/></g>
<g stroke="#5dbb62" stroke-width="1.1"><line x1="487.5" y1="643.4" x2="487.5" y2="648.5"/><line x1="479.0" y1="646.0" x2="496.0" y2="646.0"/><line x1="482.3" y1="643.4" x2="492.7" y2="643.4"/><line x1="482.3" y1="648.5" x2="492.7" y2="648.5"/></g>
<g stroke="#c8202e" stroke-width="1.1"><line x1="487.5" y1="675.2" x2="487.5" y2="677.2"/><line x1="479.0" y1="676.2" x2="496.0" y2="676.2"/><line x1="482.3" y1="675.2" x2="492.7" y2="675.2"/><line x1="482.3" y1="677.2" x2="492.7" y2="677.2"/></g>
<path d="M461.8 633 V627.3 H487.5 V635.6" fill="none" stroke="#2a2a2a" stroke-width="1.2"/>
<path d="M471.8 624.1h1.2M474.0 624.1h1.2M476.2 624.1h1.2" stroke="#333" stroke-width="1.2"/>
<path d="M473.0 660 H475.2 V677.1 H473.0" fill="none" stroke="#4d78a5" stroke-width="1.1"/>
<path d="M477.6 667.0h1.2M479.8 667.0h1.2M482.0 667.0h1.2" stroke="#4d78a5" stroke-width="1.2"/>
<path d="M499.8 646 H502 V677.1 H499.8" fill="none" stroke="#4d78a5" stroke-width="1.1"/>
<path d="M504.4 667.0h1.2M506.6 667.0h1.2M508.8 667.0h1.2M511.0 667.0h1.2" stroke="#4d78a5" stroke-width="1.2"/></svg></body></html>
